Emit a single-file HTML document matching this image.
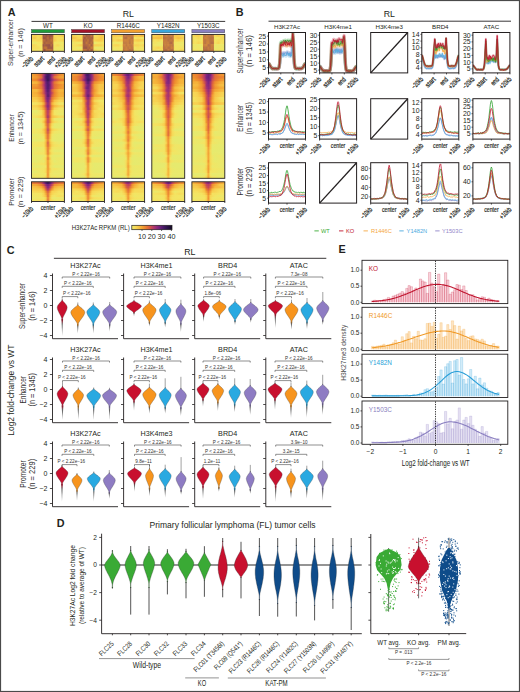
<!DOCTYPE html>
<html><head><meta charset="utf-8"><style>
html,body{margin:0;padding:0;background:#fff;}
svg{display:block;}
text{font-family:"Liberation Sans", sans-serif;}
</style></head><body>
<svg width="520" height="692" viewBox="0 0 520 692" font-family='"Liberation Sans", sans-serif' fill="#231f20">
<defs><linearGradient id="g1"><stop offset="0" stop-color="#f6db59"/><stop offset="0.1" stop-color="#f8d04f"/><stop offset="0.2" stop-color="#f5dc5b"/><stop offset="0.3" stop-color="#f7d252"/><stop offset="0.325" stop-color="#f7d655"/><stop offset="0.345" stop-color="#995245"/><stop offset="0.4" stop-color="#ad643e"/><stop offset="0.45" stop-color="#985145"/><stop offset="0.5" stop-color="#aa613f"/><stop offset="0.55" stop-color="#995345"/><stop offset="0.6" stop-color="#9a5445"/><stop offset="0.655" stop-color="#aa6140"/><stop offset="0.675" stop-color="#f8cb4c"/><stop offset="0.7" stop-color="#f6db5a"/><stop offset="0.8" stop-color="#f6d958"/><stop offset="0.9" stop-color="#f8d050"/><stop offset="1" stop-color="#f7c84a"/></linearGradient>
<linearGradient id="g2"><stop offset="0" stop-color="#f6d656"/><stop offset="0.1" stop-color="#f7c94a"/><stop offset="0.2" stop-color="#f5de5d"/><stop offset="0.3" stop-color="#f8cc4c"/><stop offset="0.325" stop-color="#f6d958"/><stop offset="0.345" stop-color="#9d5644"/><stop offset="0.4" stop-color="#9b5544"/><stop offset="0.45" stop-color="#a45c41"/><stop offset="0.5" stop-color="#bc713a"/><stop offset="0.55" stop-color="#9e5743"/><stop offset="0.6" stop-color="#b1673d"/><stop offset="0.655" stop-color="#b36a3c"/><stop offset="0.675" stop-color="#f6d756"/><stop offset="0.7" stop-color="#f7d353"/><stop offset="0.8" stop-color="#f5de5c"/><stop offset="0.9" stop-color="#f5de5c"/><stop offset="1" stop-color="#f6db59"/></linearGradient>
<linearGradient id="g3"><stop offset="0" stop-color="#f6d958"/><stop offset="0.1" stop-color="#f6dc5a"/><stop offset="0.2" stop-color="#f7d655"/><stop offset="0.3" stop-color="#f6d857"/><stop offset="0.325" stop-color="#f5dc5b"/><stop offset="0.345" stop-color="#bb703a"/><stop offset="0.4" stop-color="#b66c3c"/><stop offset="0.45" stop-color="#a15a42"/><stop offset="0.5" stop-color="#b0673d"/><stop offset="0.55" stop-color="#ae653e"/><stop offset="0.6" stop-color="#be7339"/><stop offset="0.655" stop-color="#b86d3b"/><stop offset="0.675" stop-color="#f5dc5b"/><stop offset="0.7" stop-color="#f8cd4d"/><stop offset="0.8" stop-color="#f5e05e"/><stop offset="0.9" stop-color="#f6d958"/><stop offset="1" stop-color="#f7d251"/></linearGradient>
<linearGradient id="g4"><stop offset="0" stop-color="#f2e564"/><stop offset="0.1" stop-color="#ebe869"/><stop offset="0.2" stop-color="#f4e462"/><stop offset="0.3" stop-color="#f4e260"/><stop offset="0.325" stop-color="#f3e563"/><stop offset="0.345" stop-color="#be7339"/><stop offset="0.4" stop-color="#a45d41"/><stop offset="0.45" stop-color="#b66c3c"/><stop offset="0.5" stop-color="#b1683d"/><stop offset="0.55" stop-color="#b1673d"/><stop offset="0.6" stop-color="#ab623f"/><stop offset="0.655" stop-color="#bd7239"/><stop offset="0.675" stop-color="#f5de5c"/><stop offset="0.7" stop-color="#f1e564"/><stop offset="0.8" stop-color="#f4e462"/><stop offset="0.9" stop-color="#ece869"/><stop offset="1" stop-color="#f4e361"/></linearGradient>
<linearGradient id="g5"><stop offset="0" stop-color="#f7d555"/><stop offset="0.1" stop-color="#f6d958"/><stop offset="0.2" stop-color="#f4e462"/><stop offset="0.3" stop-color="#f4e361"/><stop offset="0.325" stop-color="#f5dc5b"/><stop offset="0.345" stop-color="#975146"/><stop offset="0.4" stop-color="#ab623f"/><stop offset="0.45" stop-color="#9e5743"/><stop offset="0.5" stop-color="#9b5544"/><stop offset="0.55" stop-color="#995245"/><stop offset="0.6" stop-color="#b96f3a"/><stop offset="0.655" stop-color="#9c5544"/><stop offset="0.675" stop-color="#f3e463"/><stop offset="0.7" stop-color="#f4e261"/><stop offset="0.8" stop-color="#f6d857"/><stop offset="0.9" stop-color="#f1e565"/><stop offset="1" stop-color="#f5e15f"/></linearGradient>
<linearGradient id="g6"><stop offset="0" stop-color="#f5dc5b"/><stop offset="0.1" stop-color="#f5dd5c"/><stop offset="0.2" stop-color="#f5dc5b"/><stop offset="0.3" stop-color="#f1e565"/><stop offset="0.325" stop-color="#f3e563"/><stop offset="0.345" stop-color="#a75e41"/><stop offset="0.4" stop-color="#bf7339"/><stop offset="0.45" stop-color="#c27638"/><stop offset="0.5" stop-color="#9d5644"/><stop offset="0.55" stop-color="#9e5743"/><stop offset="0.6" stop-color="#a15943"/><stop offset="0.655" stop-color="#a15942"/><stop offset="0.675" stop-color="#f4e462"/><stop offset="0.7" stop-color="#f4e261"/><stop offset="0.8" stop-color="#f0e665"/><stop offset="0.9" stop-color="#ede768"/><stop offset="1" stop-color="#f3e563"/></linearGradient>
<linearGradient id="g7"><stop offset="0" stop-color="#f1e564"/><stop offset="0.1" stop-color="#f5e05e"/><stop offset="0.2" stop-color="#f3e463"/><stop offset="0.3" stop-color="#f1e565"/><stop offset="0.325" stop-color="#f2e564"/><stop offset="0.345" stop-color="#b56b3c"/><stop offset="0.4" stop-color="#985245"/><stop offset="0.45" stop-color="#bf7439"/><stop offset="0.5" stop-color="#ba6f3a"/><stop offset="0.55" stop-color="#be7339"/><stop offset="0.6" stop-color="#bb703a"/><stop offset="0.655" stop-color="#a86040"/><stop offset="0.675" stop-color="#efe666"/><stop offset="0.7" stop-color="#ebe86a"/><stop offset="0.8" stop-color="#f2e563"/><stop offset="0.9" stop-color="#eae86a"/><stop offset="1" stop-color="#eae86a"/></linearGradient>
<linearGradient id="g8"><stop offset="0" stop-color="#f3a234"/><stop offset="0.16" stop-color="#ef8d2f"/><stop offset="0.3" stop-color="#df673b"/><stop offset="0.38" stop-color="#a23173"/><stop offset="0.44" stop-color="#591d6f"/><stop offset="0.5" stop-color="#3d185e"/><stop offset="0.56" stop-color="#541c6c"/><stop offset="0.62" stop-color="#a13074"/><stop offset="0.7" stop-color="#d0534c"/><stop offset="0.84" stop-color="#ed862f"/><stop offset="1" stop-color="#f3a235"/></linearGradient>
<linearGradient id="g9"><stop offset="0" stop-color="#f4a736"/><stop offset="0.16" stop-color="#f19732"/><stop offset="0.3" stop-color="#e47237"/><stop offset="0.38" stop-color="#982d77"/><stop offset="0.44" stop-color="#4d1a68"/><stop offset="0.5" stop-color="#3b175c"/><stop offset="0.56" stop-color="#5a1d70"/><stop offset="0.62" stop-color="#ad356f"/><stop offset="0.7" stop-color="#e47237"/><stop offset="0.84" stop-color="#f19832"/><stop offset="1" stop-color="#f4a936"/></linearGradient>
<linearGradient id="g10"><stop offset="0" stop-color="#f09231"/><stop offset="0.16" stop-color="#ee882e"/><stop offset="0.3" stop-color="#c94b56"/><stop offset="0.38" stop-color="#922b79"/><stop offset="0.44" stop-color="#591c6f"/><stop offset="0.5" stop-color="#351554"/><stop offset="0.56" stop-color="#5c1d71"/><stop offset="0.62" stop-color="#922b79"/><stop offset="0.7" stop-color="#c84b56"/><stop offset="0.84" stop-color="#e57436"/><stop offset="1" stop-color="#ed862f"/></linearGradient>
<linearGradient id="g11"><stop offset="0" stop-color="#f6bb40"/><stop offset="0.16" stop-color="#f5b33a"/><stop offset="0.3" stop-color="#e97c33"/><stop offset="0.38" stop-color="#bd3f64"/><stop offset="0.44" stop-color="#681f78"/><stop offset="0.5" stop-color="#4e1b69"/><stop offset="0.56" stop-color="#762180"/><stop offset="0.62" stop-color="#b7396b"/><stop offset="0.7" stop-color="#e77735"/><stop offset="0.84" stop-color="#f3a435"/><stop offset="1" stop-color="#f5b23a"/></linearGradient>
<linearGradient id="g12"><stop offset="0" stop-color="#f19c33"/><stop offset="0.16" stop-color="#f19c33"/><stop offset="0.3" stop-color="#e37037"/><stop offset="0.38" stop-color="#b5386c"/><stop offset="0.44" stop-color="#72217d"/><stop offset="0.5" stop-color="#4d1b69"/><stop offset="0.56" stop-color="#6b207a"/><stop offset="0.62" stop-color="#b83a6a"/><stop offset="0.7" stop-color="#e16c39"/><stop offset="0.84" stop-color="#ee8a2f"/><stop offset="1" stop-color="#f3a335"/></linearGradient>
<linearGradient id="g13"><stop offset="0" stop-color="#f19832"/><stop offset="0.16" stop-color="#ef8e2f"/><stop offset="0.3" stop-color="#e77a34"/><stop offset="0.38" stop-color="#bf4261"/><stop offset="0.44" stop-color="#73217e"/><stop offset="0.5" stop-color="#4d1b69"/><stop offset="0.56" stop-color="#74217e"/><stop offset="0.62" stop-color="#b6386c"/><stop offset="0.7" stop-color="#e26d39"/><stop offset="0.84" stop-color="#f09130"/><stop offset="1" stop-color="#f3a435"/></linearGradient>
<linearGradient id="g14"><stop offset="0" stop-color="#f6b63c"/><stop offset="0.16" stop-color="#f6bb40"/><stop offset="0.3" stop-color="#ef8d2f"/><stop offset="0.38" stop-color="#c74a57"/><stop offset="0.44" stop-color="#7a2282"/><stop offset="0.5" stop-color="#501b6a"/><stop offset="0.56" stop-color="#82257f"/><stop offset="0.62" stop-color="#d85c43"/><stop offset="0.7" stop-color="#ee8a2f"/><stop offset="0.84" stop-color="#f6b73d"/><stop offset="1" stop-color="#f6b63c"/></linearGradient>
<linearGradient id="g15"><stop offset="0" stop-color="#f5b53b"/><stop offset="0.16" stop-color="#f4ad37"/><stop offset="0.3" stop-color="#ea8031"/><stop offset="0.38" stop-color="#c94c55"/><stop offset="0.44" stop-color="#89287c"/><stop offset="0.5" stop-color="#5e1d72"/><stop offset="0.56" stop-color="#8a287c"/><stop offset="0.62" stop-color="#c5485a"/><stop offset="0.7" stop-color="#ec8330"/><stop offset="0.84" stop-color="#f5b23a"/><stop offset="1" stop-color="#f4ab37"/></linearGradient>
<linearGradient id="g16"><stop offset="0" stop-color="#f6b63c"/><stop offset="0.16" stop-color="#f5b53c"/><stop offset="0.3" stop-color="#f09331"/><stop offset="0.38" stop-color="#df663c"/><stop offset="0.44" stop-color="#992d77"/><stop offset="0.5" stop-color="#501b6a"/><stop offset="0.56" stop-color="#87277d"/><stop offset="0.62" stop-color="#d85c42"/><stop offset="0.7" stop-color="#ee8a2e"/><stop offset="0.84" stop-color="#f5b33a"/><stop offset="1" stop-color="#f5b139"/></linearGradient>
<linearGradient id="g17"><stop offset="0" stop-color="#f8cc4c"/><stop offset="0.16" stop-color="#f7c547"/><stop offset="0.3" stop-color="#f4ab37"/><stop offset="0.38" stop-color="#e67535"/><stop offset="0.44" stop-color="#9a2e76"/><stop offset="0.5" stop-color="#6f207c"/><stop offset="0.56" stop-color="#9f2f75"/><stop offset="0.62" stop-color="#e77834"/><stop offset="0.7" stop-color="#f19c33"/><stop offset="0.84" stop-color="#f7c346"/><stop offset="1" stop-color="#f7c749"/></linearGradient>
<linearGradient id="g18"><stop offset="0" stop-color="#f8cf4f"/><stop offset="0.16" stop-color="#f7d252"/><stop offset="0.3" stop-color="#f5b139"/><stop offset="0.38" stop-color="#ed852f"/><stop offset="0.44" stop-color="#b1366e"/><stop offset="0.5" stop-color="#772281"/><stop offset="0.56" stop-color="#bd4063"/><stop offset="0.62" stop-color="#ed862f"/><stop offset="0.7" stop-color="#f7c044"/><stop offset="0.84" stop-color="#f6d958"/><stop offset="1" stop-color="#f8d050"/></linearGradient>
<linearGradient id="g19"><stop offset="0" stop-color="#f1e565"/><stop offset="0.16" stop-color="#f4e160"/><stop offset="0.3" stop-color="#f8d050"/><stop offset="0.38" stop-color="#f3a636"/><stop offset="0.44" stop-color="#c94b56"/><stop offset="0.5" stop-color="#8c297b"/><stop offset="0.56" stop-color="#c2455d"/><stop offset="0.62" stop-color="#f4ac37"/><stop offset="0.7" stop-color="#f8d050"/><stop offset="0.84" stop-color="#f1e565"/><stop offset="1" stop-color="#efe667"/></linearGradient>
<linearGradient id="g20"><stop offset="0" stop-color="#f7d554"/><stop offset="0.16" stop-color="#f7d151"/><stop offset="0.3" stop-color="#f6b93f"/><stop offset="0.38" stop-color="#ee872e"/><stop offset="0.44" stop-color="#bf4261"/><stop offset="0.5" stop-color="#7f2480"/><stop offset="0.56" stop-color="#be4062"/><stop offset="0.62" stop-color="#ef9130"/><stop offset="0.7" stop-color="#f6ba40"/><stop offset="0.84" stop-color="#f7d352"/><stop offset="1" stop-color="#f7d554"/></linearGradient>
<linearGradient id="g21"><stop offset="0" stop-color="#f5dc5b"/><stop offset="0.16" stop-color="#f5dd5c"/><stop offset="0.3" stop-color="#f8c94a"/><stop offset="0.38" stop-color="#f29d33"/><stop offset="0.44" stop-color="#d65a45"/><stop offset="0.5" stop-color="#922b79"/><stop offset="0.56" stop-color="#c74a58"/><stop offset="0.62" stop-color="#f2a034"/><stop offset="0.7" stop-color="#f7d655"/><stop offset="0.84" stop-color="#f2e564"/><stop offset="1" stop-color="#f4e462"/></linearGradient>
<linearGradient id="g22"><stop offset="0" stop-color="#e7ea6d"/><stop offset="0.16" stop-color="#e6ea6e"/><stop offset="0.3" stop-color="#f5e05e"/><stop offset="0.38" stop-color="#f6ba3f"/><stop offset="0.44" stop-color="#dd623d"/><stop offset="0.5" stop-color="#b2376d"/><stop offset="0.56" stop-color="#df673b"/><stop offset="0.62" stop-color="#f6bd41"/><stop offset="0.7" stop-color="#f1e564"/><stop offset="0.84" stop-color="#efe667"/><stop offset="1" stop-color="#eee667"/></linearGradient>
<linearGradient id="g23"><stop offset="0" stop-color="#f0e665"/><stop offset="0.16" stop-color="#ebe869"/><stop offset="0.3" stop-color="#f4e260"/><stop offset="0.38" stop-color="#f6b83e"/><stop offset="0.44" stop-color="#e0683b"/><stop offset="0.5" stop-color="#b5386c"/><stop offset="0.56" stop-color="#e47237"/><stop offset="0.62" stop-color="#f7c144"/><stop offset="0.7" stop-color="#f4e462"/><stop offset="0.84" stop-color="#e9e96b"/><stop offset="1" stop-color="#eae86b"/></linearGradient>
<linearGradient id="g24"><stop offset="0" stop-color="#f1e565"/><stop offset="0.16" stop-color="#f5df5e"/><stop offset="0.3" stop-color="#f7d554"/><stop offset="0.38" stop-color="#f6bf43"/><stop offset="0.44" stop-color="#e16b39"/><stop offset="0.5" stop-color="#a03074"/><stop offset="0.56" stop-color="#df673b"/><stop offset="0.62" stop-color="#f6be42"/><stop offset="0.7" stop-color="#f8cc4c"/><stop offset="0.84" stop-color="#f6dc5a"/><stop offset="1" stop-color="#f6da59"/></linearGradient>
<linearGradient id="g25"><stop offset="0" stop-color="#e6ea6e"/><stop offset="0.16" stop-color="#e6ea6e"/><stop offset="0.3" stop-color="#f2e564"/><stop offset="0.38" stop-color="#f7d555"/><stop offset="0.44" stop-color="#ef8f30"/><stop offset="0.5" stop-color="#bf4161"/><stop offset="0.56" stop-color="#e97c33"/><stop offset="0.62" stop-color="#f8cc4c"/><stop offset="0.7" stop-color="#ece769"/><stop offset="0.84" stop-color="#e6ea6e"/><stop offset="1" stop-color="#ebe86a"/></linearGradient>
<linearGradient id="g26"><stop offset="0" stop-color="#f2e564"/><stop offset="0.16" stop-color="#ece769"/><stop offset="0.3" stop-color="#f2e564"/><stop offset="0.38" stop-color="#f7c346"/><stop offset="0.44" stop-color="#ea8031"/><stop offset="0.5" stop-color="#c0435f"/><stop offset="0.56" stop-color="#e57436"/><stop offset="0.62" stop-color="#f7c447"/><stop offset="0.7" stop-color="#f6db59"/><stop offset="0.84" stop-color="#ece769"/><stop offset="1" stop-color="#f4e462"/></linearGradient>
<linearGradient id="g27"><stop offset="0" stop-color="#e8e96c"/><stop offset="0.16" stop-color="#e6ea6e"/><stop offset="0.3" stop-color="#e9e96b"/><stop offset="0.38" stop-color="#f6db5a"/><stop offset="0.44" stop-color="#ef8f30"/><stop offset="0.5" stop-color="#cf534d"/><stop offset="0.56" stop-color="#f2a234"/><stop offset="0.62" stop-color="#f6db5a"/><stop offset="0.7" stop-color="#e8e96c"/><stop offset="0.84" stop-color="#e6ea6e"/><stop offset="1" stop-color="#e6ea6e"/></linearGradient>
<linearGradient id="g28"><stop offset="0" stop-color="#e6ea6e"/><stop offset="0.16" stop-color="#e6ea6e"/><stop offset="0.3" stop-color="#e7ea6d"/><stop offset="0.38" stop-color="#f6dc5a"/><stop offset="0.44" stop-color="#f3a736"/><stop offset="0.5" stop-color="#d0544c"/><stop offset="0.56" stop-color="#f4a936"/><stop offset="0.62" stop-color="#f4e261"/><stop offset="0.7" stop-color="#e6ea6e"/><stop offset="0.84" stop-color="#e6ea6e"/><stop offset="1" stop-color="#e6ea6e"/></linearGradient>
<linearGradient id="g29"><stop offset="0" stop-color="#f2e564"/><stop offset="0.16" stop-color="#eee767"/><stop offset="0.3" stop-color="#f4e261"/><stop offset="0.38" stop-color="#f7c749"/><stop offset="0.44" stop-color="#f19b33"/><stop offset="0.5" stop-color="#bd3f64"/><stop offset="0.56" stop-color="#f09331"/><stop offset="0.62" stop-color="#f8d04f"/><stop offset="0.7" stop-color="#f5dd5b"/><stop offset="0.84" stop-color="#f0e665"/><stop offset="1" stop-color="#f1e565"/></linearGradient>
<linearGradient id="g30"><stop offset="0" stop-color="#f4e361"/><stop offset="0.16" stop-color="#eee767"/><stop offset="0.3" stop-color="#f5e05e"/><stop offset="0.38" stop-color="#f7d151"/><stop offset="0.44" stop-color="#f19832"/><stop offset="0.5" stop-color="#cd5050"/><stop offset="0.56" stop-color="#f29f34"/><stop offset="0.62" stop-color="#f6dc5a"/><stop offset="0.7" stop-color="#efe666"/><stop offset="0.84" stop-color="#ebe86a"/><stop offset="1" stop-color="#f2e564"/></linearGradient>
<linearGradient id="g31"><stop offset="0" stop-color="#e6ea6e"/><stop offset="0.16" stop-color="#e6ea6e"/><stop offset="0.3" stop-color="#ede768"/><stop offset="0.38" stop-color="#f5de5c"/><stop offset="0.44" stop-color="#f5ae37"/><stop offset="0.5" stop-color="#de653c"/><stop offset="0.56" stop-color="#f6b73d"/><stop offset="0.62" stop-color="#f2e564"/><stop offset="0.7" stop-color="#e9e96b"/><stop offset="0.84" stop-color="#e6ea6e"/><stop offset="1" stop-color="#e6ea6e"/></linearGradient>
<linearGradient id="g32"><stop offset="0" stop-color="#ebe86a"/><stop offset="0.16" stop-color="#ebe869"/><stop offset="0.3" stop-color="#e9e96b"/><stop offset="0.38" stop-color="#f0e665"/><stop offset="0.44" stop-color="#f5ae37"/><stop offset="0.5" stop-color="#e06a3a"/><stop offset="0.56" stop-color="#f6ba40"/><stop offset="0.62" stop-color="#ede768"/><stop offset="0.7" stop-color="#e8e96d"/><stop offset="0.84" stop-color="#e6ea6e"/><stop offset="1" stop-color="#e6ea6e"/></linearGradient>
<linearGradient id="g33"><stop offset="0" stop-color="#e6ea6e"/><stop offset="0.16" stop-color="#e6ea6e"/><stop offset="0.3" stop-color="#e6ea6e"/><stop offset="0.38" stop-color="#ece869"/><stop offset="0.44" stop-color="#f7c145"/><stop offset="0.5" stop-color="#e67735"/><stop offset="0.56" stop-color="#f7c94a"/><stop offset="0.62" stop-color="#eee767"/><stop offset="0.7" stop-color="#e6ea6e"/><stop offset="0.84" stop-color="#e6ea6e"/><stop offset="1" stop-color="#e6ea6e"/></linearGradient>
<linearGradient id="g34"><stop offset="0" stop-color="#f0e665"/><stop offset="0.16" stop-color="#f1e564"/><stop offset="0.3" stop-color="#f4e361"/><stop offset="0.38" stop-color="#f5df5e"/><stop offset="0.44" stop-color="#f6b83e"/><stop offset="0.5" stop-color="#d35749"/><stop offset="0.56" stop-color="#f6bc40"/><stop offset="0.62" stop-color="#f6da59"/><stop offset="0.7" stop-color="#f2e564"/><stop offset="0.84" stop-color="#eae86b"/><stop offset="1" stop-color="#f2e563"/></linearGradient>
<linearGradient id="g35"><stop offset="0" stop-color="#f2e563"/><stop offset="0.16" stop-color="#f3e462"/><stop offset="0.3" stop-color="#f4e260"/><stop offset="0.38" stop-color="#f4e260"/><stop offset="0.44" stop-color="#f6b53c"/><stop offset="0.5" stop-color="#de633d"/><stop offset="0.56" stop-color="#f5af38"/><stop offset="0.62" stop-color="#f6d756"/><stop offset="0.7" stop-color="#f4e160"/><stop offset="0.84" stop-color="#f2e564"/><stop offset="1" stop-color="#f4e260"/></linearGradient>
<linearGradient id="g36"><stop offset="0" stop-color="#efe666"/><stop offset="0.16" stop-color="#eae86a"/><stop offset="0.3" stop-color="#e9e96b"/><stop offset="0.38" stop-color="#f1e565"/><stop offset="0.44" stop-color="#f7c346"/><stop offset="0.5" stop-color="#e77834"/><stop offset="0.56" stop-color="#f6ba3f"/><stop offset="0.62" stop-color="#f4e260"/><stop offset="0.7" stop-color="#efe666"/><stop offset="0.84" stop-color="#eee667"/><stop offset="1" stop-color="#efe666"/></linearGradient>
<linearGradient id="g37"><stop offset="0" stop-color="#e6ea6e"/><stop offset="0.16" stop-color="#ede768"/><stop offset="0.3" stop-color="#ede768"/><stop offset="0.38" stop-color="#f0e665"/><stop offset="0.44" stop-color="#f8ca4b"/><stop offset="0.5" stop-color="#e57536"/><stop offset="0.56" stop-color="#f7d352"/><stop offset="0.62" stop-color="#f3e563"/><stop offset="0.7" stop-color="#e8e96d"/><stop offset="0.84" stop-color="#e6ea6e"/><stop offset="1" stop-color="#e7ea6d"/></linearGradient>
<linearGradient id="g38"><stop offset="0" stop-color="#eae86a"/><stop offset="0.16" stop-color="#f0e665"/><stop offset="0.3" stop-color="#f3e463"/><stop offset="0.38" stop-color="#f3e463"/><stop offset="0.44" stop-color="#f8cb4b"/><stop offset="0.5" stop-color="#e67735"/><stop offset="0.56" stop-color="#f7c547"/><stop offset="0.62" stop-color="#f5e15f"/><stop offset="0.7" stop-color="#efe666"/><stop offset="0.84" stop-color="#efe666"/><stop offset="1" stop-color="#e9e96b"/></linearGradient>
<linearGradient id="g39"><stop offset="0" stop-color="#e6ea6e"/><stop offset="0.16" stop-color="#e7ea6e"/><stop offset="0.3" stop-color="#e6ea6e"/><stop offset="0.38" stop-color="#eae86b"/><stop offset="0.44" stop-color="#f4e260"/><stop offset="0.5" stop-color="#f09631"/><stop offset="0.56" stop-color="#f5de5c"/><stop offset="0.62" stop-color="#ebe86a"/><stop offset="0.7" stop-color="#e6ea6e"/><stop offset="0.84" stop-color="#e6ea6e"/><stop offset="1" stop-color="#e6ea6e"/></linearGradient>
<linearGradient id="g40"><stop offset="0" stop-color="#e9e96b"/><stop offset="0.16" stop-color="#e9e96b"/><stop offset="0.3" stop-color="#e6ea6e"/><stop offset="0.38" stop-color="#f3e563"/><stop offset="0.44" stop-color="#f6d958"/><stop offset="0.5" stop-color="#e87a34"/><stop offset="0.56" stop-color="#f8cd4d"/><stop offset="0.62" stop-color="#e9e96b"/><stop offset="0.7" stop-color="#eae86b"/><stop offset="0.84" stop-color="#ede768"/><stop offset="1" stop-color="#efe667"/></linearGradient>
<linearGradient id="g41"><stop offset="0" stop-color="#e6ea6e"/><stop offset="0.16" stop-color="#e6ea6e"/><stop offset="0.3" stop-color="#eee767"/><stop offset="0.38" stop-color="#eae86b"/><stop offset="0.44" stop-color="#f6d756"/><stop offset="0.5" stop-color="#f09431"/><stop offset="0.56" stop-color="#f6d857"/><stop offset="0.62" stop-color="#f2e564"/><stop offset="0.7" stop-color="#e6ea6e"/><stop offset="0.84" stop-color="#ece769"/><stop offset="1" stop-color="#e9e96c"/></linearGradient>
<linearGradient id="g42"><stop offset="0" stop-color="#f1e564"/><stop offset="0.16" stop-color="#ece769"/><stop offset="0.3" stop-color="#f4e462"/><stop offset="0.38" stop-color="#f2e563"/><stop offset="0.44" stop-color="#f6d958"/><stop offset="0.5" stop-color="#ef8f30"/><stop offset="0.56" stop-color="#f7d151"/><stop offset="0.62" stop-color="#f2e564"/><stop offset="0.7" stop-color="#ede768"/><stop offset="0.84" stop-color="#ebe869"/><stop offset="1" stop-color="#eee768"/></linearGradient>
<linearGradient id="g43"><stop offset="0" stop-color="#eae86a"/><stop offset="0.16" stop-color="#e6ea6e"/><stop offset="0.3" stop-color="#eae86b"/><stop offset="0.38" stop-color="#eee768"/><stop offset="0.44" stop-color="#f3e463"/><stop offset="0.5" stop-color="#ef8c2f"/><stop offset="0.56" stop-color="#f5dc5b"/><stop offset="0.62" stop-color="#eee667"/><stop offset="0.7" stop-color="#e6ea6e"/><stop offset="0.84" stop-color="#e6ea6e"/><stop offset="1" stop-color="#e6ea6e"/></linearGradient>
<linearGradient id="g44"><stop offset="0" stop-color="#f1e564"/><stop offset="0.16" stop-color="#efe666"/><stop offset="0.3" stop-color="#f0e666"/><stop offset="0.38" stop-color="#f1e565"/><stop offset="0.44" stop-color="#f6da59"/><stop offset="0.5" stop-color="#ef9030"/><stop offset="0.56" stop-color="#f8cd4d"/><stop offset="0.62" stop-color="#f1e565"/><stop offset="0.7" stop-color="#f4e261"/><stop offset="0.84" stop-color="#eee767"/><stop offset="1" stop-color="#eee767"/></linearGradient>
<linearGradient id="g45"><stop offset="0" stop-color="#e6ea6e"/><stop offset="0.16" stop-color="#e8e96c"/><stop offset="0.3" stop-color="#efe667"/><stop offset="0.38" stop-color="#f0e665"/><stop offset="0.44" stop-color="#f6d958"/><stop offset="0.5" stop-color="#f09431"/><stop offset="0.56" stop-color="#f6d857"/><stop offset="0.62" stop-color="#f1e565"/><stop offset="0.7" stop-color="#eae86a"/><stop offset="0.84" stop-color="#ece769"/><stop offset="1" stop-color="#e6ea6e"/></linearGradient>
<linearGradient id="g46"><stop offset="0" stop-color="#ece769"/><stop offset="0.16" stop-color="#efe666"/><stop offset="0.3" stop-color="#eee767"/><stop offset="0.38" stop-color="#ece768"/><stop offset="0.44" stop-color="#f4e361"/><stop offset="0.5" stop-color="#ee892e"/><stop offset="0.56" stop-color="#f4e160"/><stop offset="0.62" stop-color="#eee667"/><stop offset="0.7" stop-color="#ebe86a"/><stop offset="0.84" stop-color="#eae86a"/><stop offset="1" stop-color="#efe666"/></linearGradient>
<linearGradient id="g47"><stop offset="0" stop-color="#ede768"/><stop offset="0.16" stop-color="#f1e565"/><stop offset="0.3" stop-color="#ede768"/><stop offset="0.38" stop-color="#f2e564"/><stop offset="0.44" stop-color="#f6d958"/><stop offset="0.5" stop-color="#f09632"/><stop offset="0.56" stop-color="#f5dd5c"/><stop offset="0.62" stop-color="#eee667"/><stop offset="0.7" stop-color="#f4e462"/><stop offset="0.84" stop-color="#efe666"/><stop offset="1" stop-color="#ece768"/></linearGradient>
<linearGradient id="g48"><stop offset="0" stop-color="#e67635"/><stop offset="0.16" stop-color="#e57536"/><stop offset="0.3" stop-color="#d35749"/><stop offset="0.38" stop-color="#942c78"/><stop offset="0.44" stop-color="#561c6e"/><stop offset="0.5" stop-color="#371656"/><stop offset="0.56" stop-color="#561c6e"/><stop offset="0.62" stop-color="#932b79"/><stop offset="0.7" stop-color="#d1544c"/><stop offset="0.84" stop-color="#e47237"/><stop offset="1" stop-color="#e77834"/></linearGradient>
<linearGradient id="g49"><stop offset="0" stop-color="#f4ac37"/><stop offset="0.16" stop-color="#f3a435"/><stop offset="0.3" stop-color="#ed852f"/><stop offset="0.38" stop-color="#d35748"/><stop offset="0.44" stop-color="#912b79"/><stop offset="0.5" stop-color="#71217d"/><stop offset="0.56" stop-color="#932b79"/><stop offset="0.62" stop-color="#c64959"/><stop offset="0.7" stop-color="#ef8f30"/><stop offset="0.84" stop-color="#f3a234"/><stop offset="1" stop-color="#f3a736"/></linearGradient>
<linearGradient id="g50"><stop offset="0" stop-color="#f7c447"/><stop offset="0.16" stop-color="#f7c044"/><stop offset="0.3" stop-color="#f5b038"/><stop offset="0.38" stop-color="#ed852f"/><stop offset="0.44" stop-color="#c04360"/><stop offset="0.5" stop-color="#82257f"/><stop offset="0.56" stop-color="#b7396b"/><stop offset="0.62" stop-color="#e87a34"/><stop offset="0.7" stop-color="#f5b43b"/><stop offset="0.84" stop-color="#f7c547"/><stop offset="1" stop-color="#f6ba40"/></linearGradient>
<linearGradient id="g51"><stop offset="0" stop-color="#f8ce4e"/><stop offset="0.16" stop-color="#f8cb4c"/><stop offset="0.3" stop-color="#f8cc4d"/><stop offset="0.38" stop-color="#f4ab37"/><stop offset="0.44" stop-color="#db5f3f"/><stop offset="0.5" stop-color="#a93371"/><stop offset="0.56" stop-color="#dc613e"/><stop offset="0.62" stop-color="#f29d33"/><stop offset="0.7" stop-color="#f7c749"/><stop offset="0.84" stop-color="#f7d453"/><stop offset="1" stop-color="#f7d353"/></linearGradient>
<linearGradient id="g52"><stop offset="0" stop-color="#f6db5a"/><stop offset="0.16" stop-color="#f6d756"/><stop offset="0.3" stop-color="#f7d555"/><stop offset="0.38" stop-color="#f7c648"/><stop offset="0.44" stop-color="#ef9030"/><stop offset="0.5" stop-color="#d45848"/><stop offset="0.56" stop-color="#f09531"/><stop offset="0.62" stop-color="#f7d251"/><stop offset="0.7" stop-color="#f7d454"/><stop offset="0.84" stop-color="#f4e261"/><stop offset="1" stop-color="#f6d756"/></linearGradient>
<linearGradient id="g53"><stop offset="0" stop-color="#f4e462"/><stop offset="0.16" stop-color="#f2e564"/><stop offset="0.3" stop-color="#f4e361"/><stop offset="0.38" stop-color="#f7d252"/><stop offset="0.44" stop-color="#f4a936"/><stop offset="0.5" stop-color="#e26e39"/><stop offset="0.56" stop-color="#f6b73d"/><stop offset="0.62" stop-color="#f7d453"/><stop offset="0.7" stop-color="#f5de5c"/><stop offset="0.84" stop-color="#f4e361"/><stop offset="1" stop-color="#f3e563"/></linearGradient>
<linearGradient id="g54"><stop offset="0" stop-color="#eee767"/><stop offset="0.16" stop-color="#f1e565"/><stop offset="0.3" stop-color="#f3e463"/><stop offset="0.38" stop-color="#f7d555"/><stop offset="0.44" stop-color="#f6bd41"/><stop offset="0.5" stop-color="#df683b"/><stop offset="0.56" stop-color="#f7c044"/><stop offset="0.62" stop-color="#f5e15f"/><stop offset="0.7" stop-color="#f1e565"/><stop offset="0.84" stop-color="#f5de5d"/><stop offset="1" stop-color="#f4e260"/></linearGradient>
<linearGradient id="g55"><stop offset="0" stop-color="#e9e96b"/><stop offset="0.16" stop-color="#eee667"/><stop offset="0.3" stop-color="#f0e665"/><stop offset="0.38" stop-color="#f1e564"/><stop offset="0.44" stop-color="#f7d453"/><stop offset="0.5" stop-color="#e87b33"/><stop offset="0.56" stop-color="#f7c849"/><stop offset="0.62" stop-color="#efe666"/><stop offset="0.7" stop-color="#eae86b"/><stop offset="0.84" stop-color="#ede768"/><stop offset="1" stop-color="#eee768"/></linearGradient>
<linearGradient id="g56"><stop offset="0" stop-color="#f0e666"/><stop offset="0.16" stop-color="#f5e15f"/><stop offset="0.3" stop-color="#f4e260"/><stop offset="0.38" stop-color="#f5e15f"/><stop offset="0.44" stop-color="#f7d151"/><stop offset="0.5" stop-color="#e16b39"/><stop offset="0.56" stop-color="#f8cf4f"/><stop offset="0.62" stop-color="#f6dc5a"/><stop offset="0.7" stop-color="#f0e665"/><stop offset="0.84" stop-color="#f0e666"/><stop offset="1" stop-color="#f4e260"/></linearGradient>
<linearGradient id="g57"><stop offset="0" stop-color="#f7c94a"/><stop offset="0.1" stop-color="#f7d453"/><stop offset="0.2" stop-color="#f6da59"/><stop offset="0.3" stop-color="#f6da59"/><stop offset="0.325" stop-color="#f7d555"/><stop offset="0.345" stop-color="#b96f3d"/><stop offset="0.4" stop-color="#c57939"/><stop offset="0.45" stop-color="#a35c44"/><stop offset="0.5" stop-color="#ad6540"/><stop offset="0.55" stop-color="#a65f43"/><stop offset="0.6" stop-color="#c67a38"/><stop offset="0.655" stop-color="#a35c44"/><stop offset="0.675" stop-color="#f5dd5c"/><stop offset="0.7" stop-color="#f5dd5c"/><stop offset="0.8" stop-color="#f7d655"/><stop offset="0.9" stop-color="#f8ca4b"/><stop offset="1" stop-color="#f8ca4b"/></linearGradient>
<linearGradient id="g58"><stop offset="0" stop-color="#f7c447"/><stop offset="0.1" stop-color="#f7c648"/><stop offset="0.2" stop-color="#f7d454"/><stop offset="0.3" stop-color="#f6d857"/><stop offset="0.325" stop-color="#f7c648"/><stop offset="0.345" stop-color="#bc723c"/><stop offset="0.4" stop-color="#9d5746"/><stop offset="0.45" stop-color="#b96f3d"/><stop offset="0.5" stop-color="#ac6440"/><stop offset="0.55" stop-color="#ac6440"/><stop offset="0.6" stop-color="#aa6241"/><stop offset="0.655" stop-color="#a45d43"/><stop offset="0.675" stop-color="#f6dc5a"/><stop offset="0.7" stop-color="#f7d555"/><stop offset="0.8" stop-color="#f7d453"/><stop offset="0.9" stop-color="#f7c547"/><stop offset="1" stop-color="#f6d958"/></linearGradient>
<linearGradient id="g59"><stop offset="0" stop-color="#f6d857"/><stop offset="0.1" stop-color="#f7d454"/><stop offset="0.2" stop-color="#f8c94b"/><stop offset="0.3" stop-color="#f8c94b"/><stop offset="0.325" stop-color="#f7d352"/><stop offset="0.345" stop-color="#9e5845"/><stop offset="0.4" stop-color="#b16840"/><stop offset="0.45" stop-color="#ac6440"/><stop offset="0.5" stop-color="#c37839"/><stop offset="0.55" stop-color="#a55e43"/><stop offset="0.6" stop-color="#ac6441"/><stop offset="0.655" stop-color="#c2783a"/><stop offset="0.675" stop-color="#f6dc5a"/><stop offset="0.7" stop-color="#f7d353"/><stop offset="0.8" stop-color="#f8ca4b"/><stop offset="0.9" stop-color="#f8cb4c"/><stop offset="1" stop-color="#f6db5a"/></linearGradient>
<linearGradient id="g60"><stop offset="0" stop-color="#eae86b"/><stop offset="0.1" stop-color="#f5e15f"/><stop offset="0.2" stop-color="#ede768"/><stop offset="0.3" stop-color="#f4e462"/><stop offset="0.325" stop-color="#f4e160"/><stop offset="0.345" stop-color="#ab6341"/><stop offset="0.4" stop-color="#a86142"/><stop offset="0.45" stop-color="#c57939"/><stop offset="0.5" stop-color="#b66d3e"/><stop offset="0.55" stop-color="#a76042"/><stop offset="0.6" stop-color="#bb713c"/><stop offset="0.655" stop-color="#aa6241"/><stop offset="0.675" stop-color="#ede768"/><stop offset="0.7" stop-color="#e9e96b"/><stop offset="0.8" stop-color="#f4e462"/><stop offset="0.9" stop-color="#f5e15f"/><stop offset="1" stop-color="#f2e564"/></linearGradient>
<linearGradient id="g61"><stop offset="0" stop-color="#f4e462"/><stop offset="0.1" stop-color="#f5df5e"/><stop offset="0.2" stop-color="#f6da59"/><stop offset="0.3" stop-color="#f8cf4f"/><stop offset="0.325" stop-color="#f8d04f"/><stop offset="0.345" stop-color="#ad6440"/><stop offset="0.4" stop-color="#a76042"/><stop offset="0.45" stop-color="#af6640"/><stop offset="0.5" stop-color="#b26940"/><stop offset="0.55" stop-color="#c47839"/><stop offset="0.6" stop-color="#a45d43"/><stop offset="0.655" stop-color="#be743b"/><stop offset="0.675" stop-color="#f7d454"/><stop offset="0.7" stop-color="#f7d252"/><stop offset="0.8" stop-color="#f7d353"/><stop offset="0.9" stop-color="#f6d756"/><stop offset="1" stop-color="#f5dd5c"/></linearGradient>
<linearGradient id="g62"><stop offset="0" stop-color="#efe667"/><stop offset="0.1" stop-color="#f4e361"/><stop offset="0.2" stop-color="#ebe86a"/><stop offset="0.3" stop-color="#ece769"/><stop offset="0.325" stop-color="#f4e462"/><stop offset="0.345" stop-color="#a76042"/><stop offset="0.4" stop-color="#9f5945"/><stop offset="0.45" stop-color="#9e5745"/><stop offset="0.5" stop-color="#b36b3f"/><stop offset="0.55" stop-color="#aa6241"/><stop offset="0.6" stop-color="#c67a38"/><stop offset="0.655" stop-color="#c2773a"/><stop offset="0.675" stop-color="#f5df5d"/><stop offset="0.7" stop-color="#ede768"/><stop offset="0.8" stop-color="#ebe86a"/><stop offset="0.9" stop-color="#ebe86a"/><stop offset="1" stop-color="#f1e565"/></linearGradient>
<linearGradient id="g63"><stop offset="0" stop-color="#f4e361"/><stop offset="0.1" stop-color="#f2e564"/><stop offset="0.2" stop-color="#f4e462"/><stop offset="0.3" stop-color="#f5df5e"/><stop offset="0.325" stop-color="#f5de5d"/><stop offset="0.345" stop-color="#bc723c"/><stop offset="0.4" stop-color="#c0763a"/><stop offset="0.45" stop-color="#b96f3d"/><stop offset="0.5" stop-color="#a25b44"/><stop offset="0.55" stop-color="#c0763a"/><stop offset="0.6" stop-color="#a96142"/><stop offset="0.655" stop-color="#b46c3e"/><stop offset="0.675" stop-color="#f3e462"/><stop offset="0.7" stop-color="#f5dd5b"/><stop offset="0.8" stop-color="#f1e565"/><stop offset="0.9" stop-color="#f2e564"/><stop offset="1" stop-color="#f2e564"/></linearGradient>
<linearGradient id="g64"><stop offset="0" stop-color="#f19932"/><stop offset="0.16" stop-color="#ef9030"/><stop offset="0.3" stop-color="#e16b3a"/><stop offset="0.38" stop-color="#a53272"/><stop offset="0.44" stop-color="#531c6c"/><stop offset="0.5" stop-color="#411962"/><stop offset="0.56" stop-color="#661f77"/><stop offset="0.62" stop-color="#9a2e76"/><stop offset="0.7" stop-color="#dd633d"/><stop offset="0.84" stop-color="#ed872f"/><stop offset="1" stop-color="#f4ab37"/></linearGradient>
<linearGradient id="g65"><stop offset="0" stop-color="#f09331"/><stop offset="0.16" stop-color="#ec8430"/><stop offset="0.3" stop-color="#d65a45"/><stop offset="0.38" stop-color="#ad356f"/><stop offset="0.44" stop-color="#641e76"/><stop offset="0.5" stop-color="#4a1a67"/><stop offset="0.56" stop-color="#671f77"/><stop offset="0.62" stop-color="#952c78"/><stop offset="0.7" stop-color="#dd623d"/><stop offset="0.84" stop-color="#eb8231"/><stop offset="1" stop-color="#f29d33"/></linearGradient>
<linearGradient id="g66"><stop offset="0" stop-color="#ef8f30"/><stop offset="0.16" stop-color="#ed862f"/><stop offset="0.3" stop-color="#d2564a"/><stop offset="0.38" stop-color="#912a7a"/><stop offset="0.44" stop-color="#661f76"/><stop offset="0.5" stop-color="#3c175e"/><stop offset="0.56" stop-color="#591c6f"/><stop offset="0.62" stop-color="#a43173"/><stop offset="0.7" stop-color="#db5f3f"/><stop offset="0.84" stop-color="#ee892e"/><stop offset="1" stop-color="#f09431"/></linearGradient>
<linearGradient id="g67"><stop offset="0" stop-color="#f6ba3f"/><stop offset="0.16" stop-color="#f4ad37"/><stop offset="0.3" stop-color="#ef9030"/><stop offset="0.38" stop-color="#d1544c"/><stop offset="0.44" stop-color="#802480"/><stop offset="0.5" stop-color="#531b6c"/><stop offset="0.56" stop-color="#84267e"/><stop offset="0.62" stop-color="#ca4d54"/><stop offset="0.7" stop-color="#ef9030"/><stop offset="0.84" stop-color="#f4aa36"/><stop offset="1" stop-color="#f6bb40"/></linearGradient>
<linearGradient id="g68"><stop offset="0" stop-color="#f7d454"/><stop offset="0.16" stop-color="#f7c547"/><stop offset="0.3" stop-color="#f29e34"/><stop offset="0.38" stop-color="#d65a45"/><stop offset="0.44" stop-color="#992d77"/><stop offset="0.5" stop-color="#6d207b"/><stop offset="0.56" stop-color="#89277d"/><stop offset="0.62" stop-color="#dc5f3f"/><stop offset="0.7" stop-color="#f3a435"/><stop offset="0.84" stop-color="#f7c648"/><stop offset="1" stop-color="#f7c547"/></linearGradient>
<linearGradient id="g69"><stop offset="0" stop-color="#f7c749"/><stop offset="0.16" stop-color="#f7c245"/><stop offset="0.3" stop-color="#f29f34"/><stop offset="0.38" stop-color="#d35649"/><stop offset="0.44" stop-color="#82257f"/><stop offset="0.5" stop-color="#691f78"/><stop offset="0.56" stop-color="#982d77"/><stop offset="0.62" stop-color="#d65a45"/><stop offset="0.7" stop-color="#f3a435"/><stop offset="0.84" stop-color="#f7c84a"/><stop offset="1" stop-color="#f7c144"/></linearGradient>
<linearGradient id="g70"><stop offset="0" stop-color="#f7c447"/><stop offset="0.16" stop-color="#f7c346"/><stop offset="0.3" stop-color="#f19932"/><stop offset="0.38" stop-color="#df673b"/><stop offset="0.44" stop-color="#9f3074"/><stop offset="0.5" stop-color="#762180"/><stop offset="0.56" stop-color="#952c78"/><stop offset="0.62" stop-color="#dd633d"/><stop offset="0.7" stop-color="#f19932"/><stop offset="0.84" stop-color="#f8c94b"/><stop offset="1" stop-color="#f7c849"/></linearGradient>
<linearGradient id="g71"><stop offset="0" stop-color="#f7d252"/><stop offset="0.16" stop-color="#f7d151"/><stop offset="0.3" stop-color="#f5b33b"/><stop offset="0.38" stop-color="#e57336"/><stop offset="0.44" stop-color="#982d77"/><stop offset="0.5" stop-color="#7d2381"/><stop offset="0.56" stop-color="#a43173"/><stop offset="0.62" stop-color="#e26d39"/><stop offset="0.7" stop-color="#f3a435"/><stop offset="0.84" stop-color="#f8d050"/><stop offset="1" stop-color="#f6d857"/></linearGradient>
<linearGradient id="g72"><stop offset="0" stop-color="#f5b43b"/><stop offset="0.16" stop-color="#f6b73d"/><stop offset="0.3" stop-color="#f3a535"/><stop offset="0.38" stop-color="#d85c43"/><stop offset="0.44" stop-color="#9b2e76"/><stop offset="0.5" stop-color="#601e74"/><stop offset="0.56" stop-color="#952c78"/><stop offset="0.62" stop-color="#da5e40"/><stop offset="0.7" stop-color="#f3a335"/><stop offset="0.84" stop-color="#f5b239"/><stop offset="1" stop-color="#f7c346"/></linearGradient>
<linearGradient id="g73"><stop offset="0" stop-color="#f7d454"/><stop offset="0.16" stop-color="#f8cf4f"/><stop offset="0.3" stop-color="#f7c346"/><stop offset="0.38" stop-color="#ef8f30"/><stop offset="0.44" stop-color="#ba3c68"/><stop offset="0.5" stop-color="#82257f"/><stop offset="0.56" stop-color="#ba3c67"/><stop offset="0.62" stop-color="#f09130"/><stop offset="0.7" stop-color="#f7c245"/><stop offset="0.84" stop-color="#f7d151"/><stop offset="1" stop-color="#f7d353"/></linearGradient>
<linearGradient id="g74"><stop offset="0" stop-color="#f0e665"/><stop offset="0.16" stop-color="#f4e361"/><stop offset="0.3" stop-color="#f6da59"/><stop offset="0.38" stop-color="#f19b33"/><stop offset="0.44" stop-color="#d45847"/><stop offset="0.5" stop-color="#932b79"/><stop offset="0.56" stop-color="#cb4e53"/><stop offset="0.62" stop-color="#f29f34"/><stop offset="0.7" stop-color="#f7d555"/><stop offset="0.84" stop-color="#f1e564"/><stop offset="1" stop-color="#f0e665"/></linearGradient>
<linearGradient id="g75"><stop offset="0" stop-color="#f5de5c"/><stop offset="0.16" stop-color="#f5dd5c"/><stop offset="0.3" stop-color="#f8cb4c"/><stop offset="0.38" stop-color="#f3a736"/><stop offset="0.44" stop-color="#c64959"/><stop offset="0.5" stop-color="#922b79"/><stop offset="0.56" stop-color="#ce524f"/><stop offset="0.62" stop-color="#f09631"/><stop offset="0.7" stop-color="#f7c447"/><stop offset="0.84" stop-color="#f5dd5c"/><stop offset="1" stop-color="#f3e463"/></linearGradient>
<linearGradient id="g76"><stop offset="0" stop-color="#f2e564"/><stop offset="0.16" stop-color="#f4e462"/><stop offset="0.3" stop-color="#f8cf4f"/><stop offset="0.38" stop-color="#f4ad37"/><stop offset="0.44" stop-color="#d1544b"/><stop offset="0.5" stop-color="#972d77"/><stop offset="0.56" stop-color="#da5e41"/><stop offset="0.62" stop-color="#f2a034"/><stop offset="0.7" stop-color="#f7d454"/><stop offset="0.84" stop-color="#f6db5a"/><stop offset="1" stop-color="#f5dd5c"/></linearGradient>
<linearGradient id="g77"><stop offset="0" stop-color="#f0e665"/><stop offset="0.16" stop-color="#f5e05f"/><stop offset="0.3" stop-color="#f7d352"/><stop offset="0.38" stop-color="#f2a034"/><stop offset="0.44" stop-color="#dd633d"/><stop offset="0.5" stop-color="#952c78"/><stop offset="0.56" stop-color="#cc4f51"/><stop offset="0.62" stop-color="#f3a535"/><stop offset="0.7" stop-color="#f8cb4c"/><stop offset="0.84" stop-color="#f3e463"/><stop offset="1" stop-color="#f6db5a"/></linearGradient>
<linearGradient id="g78"><stop offset="0" stop-color="#f5df5d"/><stop offset="0.16" stop-color="#f5de5c"/><stop offset="0.3" stop-color="#f6db5a"/><stop offset="0.38" stop-color="#f5ad37"/><stop offset="0.44" stop-color="#d75a44"/><stop offset="0.5" stop-color="#b2366e"/><stop offset="0.56" stop-color="#e0683b"/><stop offset="0.62" stop-color="#f5ae38"/><stop offset="0.7" stop-color="#f6db5a"/><stop offset="0.84" stop-color="#f5de5c"/><stop offset="1" stop-color="#f0e665"/></linearGradient>
<linearGradient id="g79"><stop offset="0" stop-color="#f4e361"/><stop offset="0.16" stop-color="#f6dc5a"/><stop offset="0.3" stop-color="#f7c749"/><stop offset="0.38" stop-color="#f5b43b"/><stop offset="0.44" stop-color="#df683b"/><stop offset="0.5" stop-color="#a43173"/><stop offset="0.56" stop-color="#df663b"/><stop offset="0.62" stop-color="#f6b73d"/><stop offset="0.7" stop-color="#f7d453"/><stop offset="0.84" stop-color="#f5e15f"/><stop offset="1" stop-color="#f7d655"/></linearGradient>
<linearGradient id="g80"><stop offset="0" stop-color="#f5de5c"/><stop offset="0.16" stop-color="#f1e564"/><stop offset="0.3" stop-color="#f7d252"/><stop offset="0.38" stop-color="#f7c145"/><stop offset="0.44" stop-color="#e36f38"/><stop offset="0.5" stop-color="#ac3470"/><stop offset="0.56" stop-color="#e47336"/><stop offset="0.62" stop-color="#f5b33a"/><stop offset="0.7" stop-color="#f7d655"/><stop offset="0.84" stop-color="#f4e260"/><stop offset="1" stop-color="#f5de5c"/></linearGradient>
<linearGradient id="g81"><stop offset="0" stop-color="#ece869"/><stop offset="0.16" stop-color="#e9e96c"/><stop offset="0.3" stop-color="#ede768"/><stop offset="0.38" stop-color="#f8ce4e"/><stop offset="0.44" stop-color="#f09130"/><stop offset="0.5" stop-color="#ba3d67"/><stop offset="0.56" stop-color="#ee8a2e"/><stop offset="0.62" stop-color="#f7d555"/><stop offset="0.7" stop-color="#f1e564"/><stop offset="0.84" stop-color="#e7ea6d"/><stop offset="1" stop-color="#e6ea6e"/></linearGradient>
<linearGradient id="g82"><stop offset="0" stop-color="#efe667"/><stop offset="0.16" stop-color="#f5e05e"/><stop offset="0.3" stop-color="#f5df5e"/><stop offset="0.38" stop-color="#f7c044"/><stop offset="0.44" stop-color="#e57336"/><stop offset="0.5" stop-color="#b93b69"/><stop offset="0.56" stop-color="#e87b33"/><stop offset="0.62" stop-color="#f7c749"/><stop offset="0.7" stop-color="#f4e361"/><stop offset="0.84" stop-color="#efe666"/><stop offset="1" stop-color="#f0e666"/></linearGradient>
<linearGradient id="g83"><stop offset="0" stop-color="#efe666"/><stop offset="0.16" stop-color="#f0e665"/><stop offset="0.3" stop-color="#f6dc5a"/><stop offset="0.38" stop-color="#f7d352"/><stop offset="0.44" stop-color="#f09130"/><stop offset="0.5" stop-color="#c04360"/><stop offset="0.56" stop-color="#f09631"/><stop offset="0.62" stop-color="#f7d554"/><stop offset="0.7" stop-color="#f4e462"/><stop offset="0.84" stop-color="#ece769"/><stop offset="1" stop-color="#eee667"/></linearGradient>
<linearGradient id="g84"><stop offset="0" stop-color="#e8e96c"/><stop offset="0.16" stop-color="#e8e96c"/><stop offset="0.3" stop-color="#e9e96b"/><stop offset="0.38" stop-color="#f6da59"/><stop offset="0.44" stop-color="#f2a134"/><stop offset="0.5" stop-color="#db5f3f"/><stop offset="0.56" stop-color="#f19632"/><stop offset="0.62" stop-color="#f5e05e"/><stop offset="0.7" stop-color="#e9e96c"/><stop offset="0.84" stop-color="#e6ea6e"/><stop offset="1" stop-color="#e8e96c"/></linearGradient>
<linearGradient id="g85"><stop offset="0" stop-color="#f5e15f"/><stop offset="0.16" stop-color="#f2e563"/><stop offset="0.3" stop-color="#f4e361"/><stop offset="0.38" stop-color="#f7d554"/><stop offset="0.44" stop-color="#ef8f30"/><stop offset="0.5" stop-color="#c74a58"/><stop offset="0.56" stop-color="#f09531"/><stop offset="0.62" stop-color="#f8ca4b"/><stop offset="0.7" stop-color="#f5e05e"/><stop offset="0.84" stop-color="#f5de5d"/><stop offset="1" stop-color="#f4e260"/></linearGradient>
<linearGradient id="g86"><stop offset="0" stop-color="#ebe86a"/><stop offset="0.16" stop-color="#e6ea6e"/><stop offset="0.3" stop-color="#ebe86a"/><stop offset="0.38" stop-color="#f4e361"/><stop offset="0.44" stop-color="#f5b43b"/><stop offset="0.5" stop-color="#e16c39"/><stop offset="0.56" stop-color="#f4a836"/><stop offset="0.62" stop-color="#f0e665"/><stop offset="0.7" stop-color="#ebe86a"/><stop offset="0.84" stop-color="#ebe86a"/><stop offset="1" stop-color="#e6ea6e"/></linearGradient>
<linearGradient id="g87"><stop offset="0" stop-color="#e6ea6e"/><stop offset="0.16" stop-color="#e6ea6e"/><stop offset="0.3" stop-color="#eae86b"/><stop offset="0.38" stop-color="#f5e15f"/><stop offset="0.44" stop-color="#f6bd41"/><stop offset="0.5" stop-color="#e26d39"/><stop offset="0.56" stop-color="#f6ba40"/><stop offset="0.62" stop-color="#eee767"/><stop offset="0.7" stop-color="#ece769"/><stop offset="0.84" stop-color="#e8e96c"/><stop offset="1" stop-color="#e8e96d"/></linearGradient>
<linearGradient id="g88"><stop offset="0" stop-color="#e6ea6e"/><stop offset="0.16" stop-color="#e6ea6e"/><stop offset="0.3" stop-color="#e6ea6e"/><stop offset="0.38" stop-color="#f0e665"/><stop offset="0.44" stop-color="#f7c346"/><stop offset="0.5" stop-color="#e77934"/><stop offset="0.56" stop-color="#f8c94b"/><stop offset="0.62" stop-color="#ebe86a"/><stop offset="0.7" stop-color="#e6ea6e"/><stop offset="0.84" stop-color="#e6ea6e"/><stop offset="1" stop-color="#e6ea6e"/></linearGradient>
<linearGradient id="g89"><stop offset="0" stop-color="#f1e564"/><stop offset="0.16" stop-color="#f0e665"/><stop offset="0.3" stop-color="#ede768"/><stop offset="0.38" stop-color="#f5dd5b"/><stop offset="0.44" stop-color="#f6b53c"/><stop offset="0.5" stop-color="#db5f3f"/><stop offset="0.56" stop-color="#f5b33b"/><stop offset="0.62" stop-color="#f4e160"/><stop offset="0.7" stop-color="#f1e564"/><stop offset="0.84" stop-color="#f3e563"/><stop offset="1" stop-color="#ebe86a"/></linearGradient>
<linearGradient id="g90"><stop offset="0" stop-color="#ece769"/><stop offset="0.16" stop-color="#eee667"/><stop offset="0.3" stop-color="#f0e666"/><stop offset="0.38" stop-color="#f6d756"/><stop offset="0.44" stop-color="#f4ab37"/><stop offset="0.5" stop-color="#dc603e"/><stop offset="0.56" stop-color="#f6b73d"/><stop offset="0.62" stop-color="#f7d554"/><stop offset="0.7" stop-color="#f1e565"/><stop offset="0.84" stop-color="#eee767"/><stop offset="1" stop-color="#f4e361"/></linearGradient>
<linearGradient id="g91"><stop offset="0" stop-color="#eee767"/><stop offset="0.16" stop-color="#eee767"/><stop offset="0.3" stop-color="#f2e564"/><stop offset="0.38" stop-color="#f4e462"/><stop offset="0.44" stop-color="#f6ba3f"/><stop offset="0.5" stop-color="#e26d39"/><stop offset="0.56" stop-color="#f6b93f"/><stop offset="0.62" stop-color="#f4e462"/><stop offset="0.7" stop-color="#f0e666"/><stop offset="0.84" stop-color="#ede768"/><stop offset="1" stop-color="#eae86a"/></linearGradient>
<linearGradient id="g92"><stop offset="0" stop-color="#e6ea6e"/><stop offset="0.16" stop-color="#e6ea6e"/><stop offset="0.3" stop-color="#eae86b"/><stop offset="0.38" stop-color="#e9e96c"/><stop offset="0.44" stop-color="#f6d757"/><stop offset="0.5" stop-color="#ee8b2f"/><stop offset="0.56" stop-color="#f7c84a"/><stop offset="0.62" stop-color="#ebe86a"/><stop offset="0.7" stop-color="#e6ea6e"/><stop offset="0.84" stop-color="#e6ea6e"/><stop offset="1" stop-color="#e6ea6e"/></linearGradient>
<linearGradient id="g93"><stop offset="0" stop-color="#eee767"/><stop offset="0.16" stop-color="#efe667"/><stop offset="0.3" stop-color="#f0e666"/><stop offset="0.38" stop-color="#efe667"/><stop offset="0.44" stop-color="#f7c648"/><stop offset="0.5" stop-color="#e97d33"/><stop offset="0.56" stop-color="#f7c145"/><stop offset="0.62" stop-color="#f5e05f"/><stop offset="0.7" stop-color="#f1e564"/><stop offset="0.84" stop-color="#e8e96c"/><stop offset="1" stop-color="#f0e665"/></linearGradient>
<linearGradient id="g94"><stop offset="0" stop-color="#f4e361"/><stop offset="0.16" stop-color="#ece769"/><stop offset="0.3" stop-color="#eee767"/><stop offset="0.38" stop-color="#f2e564"/><stop offset="0.44" stop-color="#f8ce4e"/><stop offset="0.5" stop-color="#e37038"/><stop offset="0.56" stop-color="#f7c043"/><stop offset="0.62" stop-color="#f5df5e"/><stop offset="0.7" stop-color="#f4e462"/><stop offset="0.84" stop-color="#f1e564"/><stop offset="1" stop-color="#eee767"/></linearGradient>
<linearGradient id="g95"><stop offset="0" stop-color="#e6ea6e"/><stop offset="0.16" stop-color="#e6ea6e"/><stop offset="0.3" stop-color="#e6ea6e"/><stop offset="0.38" stop-color="#e7ea6d"/><stop offset="0.44" stop-color="#f5dd5c"/><stop offset="0.5" stop-color="#f29d33"/><stop offset="0.56" stop-color="#f5e05e"/><stop offset="0.62" stop-color="#e6ea6e"/><stop offset="0.7" stop-color="#e6ea6e"/><stop offset="0.84" stop-color="#e6ea6e"/><stop offset="1" stop-color="#e6ea6e"/></linearGradient>
<linearGradient id="g96"><stop offset="0" stop-color="#f0e665"/><stop offset="0.16" stop-color="#f4e462"/><stop offset="0.3" stop-color="#f2e564"/><stop offset="0.38" stop-color="#f0e666"/><stop offset="0.44" stop-color="#f8cd4e"/><stop offset="0.5" stop-color="#eb8031"/><stop offset="0.56" stop-color="#f7c648"/><stop offset="0.62" stop-color="#f3e463"/><stop offset="0.7" stop-color="#f3e563"/><stop offset="0.84" stop-color="#f1e565"/><stop offset="1" stop-color="#ede768"/></linearGradient>
<linearGradient id="g97"><stop offset="0" stop-color="#ebe86a"/><stop offset="0.16" stop-color="#f2e564"/><stop offset="0.3" stop-color="#ece869"/><stop offset="0.38" stop-color="#ede768"/><stop offset="0.44" stop-color="#f7d655"/><stop offset="0.5" stop-color="#ea8031"/><stop offset="0.56" stop-color="#f7c84a"/><stop offset="0.62" stop-color="#ede768"/><stop offset="0.7" stop-color="#efe666"/><stop offset="0.84" stop-color="#efe667"/><stop offset="1" stop-color="#f2e564"/></linearGradient>
<linearGradient id="g98"><stop offset="0" stop-color="#e6ea6e"/><stop offset="0.16" stop-color="#e6ea6e"/><stop offset="0.3" stop-color="#e8e96c"/><stop offset="0.38" stop-color="#e6ea6e"/><stop offset="0.44" stop-color="#f6da59"/><stop offset="0.5" stop-color="#f2a034"/><stop offset="0.56" stop-color="#f3e563"/><stop offset="0.62" stop-color="#eae86a"/><stop offset="0.7" stop-color="#e6ea6e"/><stop offset="0.84" stop-color="#e6ea6e"/><stop offset="1" stop-color="#e6ea6e"/></linearGradient>
<linearGradient id="g99"><stop offset="0" stop-color="#e7ea6e"/><stop offset="0.16" stop-color="#e6ea6e"/><stop offset="0.3" stop-color="#e7ea6d"/><stop offset="0.38" stop-color="#e8e96c"/><stop offset="0.44" stop-color="#f2e564"/><stop offset="0.5" stop-color="#f3a435"/><stop offset="0.56" stop-color="#f2e564"/><stop offset="0.62" stop-color="#ebe86a"/><stop offset="0.7" stop-color="#e6ea6e"/><stop offset="0.84" stop-color="#e8e96d"/><stop offset="1" stop-color="#e6ea6e"/></linearGradient>
<linearGradient id="g100"><stop offset="0" stop-color="#e6ea6e"/><stop offset="0.16" stop-color="#eae86b"/><stop offset="0.3" stop-color="#e6ea6e"/><stop offset="0.38" stop-color="#e7ea6d"/><stop offset="0.44" stop-color="#f5de5d"/><stop offset="0.5" stop-color="#f4a736"/><stop offset="0.56" stop-color="#f3e463"/><stop offset="0.62" stop-color="#e8e96c"/><stop offset="0.7" stop-color="#e8e96c"/><stop offset="0.84" stop-color="#e8e96c"/><stop offset="1" stop-color="#e7ea6d"/></linearGradient>
<linearGradient id="g101"><stop offset="0" stop-color="#e6ea6e"/><stop offset="0.16" stop-color="#e6ea6e"/><stop offset="0.3" stop-color="#ebe86a"/><stop offset="0.38" stop-color="#ebe869"/><stop offset="0.44" stop-color="#f5df5d"/><stop offset="0.5" stop-color="#f4a836"/><stop offset="0.56" stop-color="#f4e462"/><stop offset="0.62" stop-color="#ede768"/><stop offset="0.7" stop-color="#e8e96c"/><stop offset="0.84" stop-color="#e6ea6e"/><stop offset="1" stop-color="#e7ea6d"/></linearGradient>
<linearGradient id="g102"><stop offset="0" stop-color="#ebe869"/><stop offset="0.16" stop-color="#ebe86a"/><stop offset="0.3" stop-color="#ece769"/><stop offset="0.38" stop-color="#f2e563"/><stop offset="0.44" stop-color="#f7d453"/><stop offset="0.5" stop-color="#f29c33"/><stop offset="0.56" stop-color="#f5df5d"/><stop offset="0.62" stop-color="#eee767"/><stop offset="0.7" stop-color="#ece768"/><stop offset="0.84" stop-color="#eee667"/><stop offset="1" stop-color="#ebe86a"/></linearGradient>
<linearGradient id="g103"><stop offset="0" stop-color="#e6ea6e"/><stop offset="0.16" stop-color="#ece769"/><stop offset="0.3" stop-color="#eae86b"/><stop offset="0.38" stop-color="#e6ea6e"/><stop offset="0.44" stop-color="#f5dd5c"/><stop offset="0.5" stop-color="#f5ae38"/><stop offset="0.56" stop-color="#f2e563"/><stop offset="0.62" stop-color="#eee667"/><stop offset="0.7" stop-color="#eae86a"/><stop offset="0.84" stop-color="#eae86b"/><stop offset="1" stop-color="#e7ea6d"/></linearGradient>
<linearGradient id="g104"><stop offset="0" stop-color="#f19732"/><stop offset="0.16" stop-color="#f19632"/><stop offset="0.3" stop-color="#e37038"/><stop offset="0.38" stop-color="#b0366e"/><stop offset="0.44" stop-color="#792281"/><stop offset="0.5" stop-color="#531b6c"/><stop offset="0.56" stop-color="#661f77"/><stop offset="0.62" stop-color="#a83371"/><stop offset="0.7" stop-color="#e0693a"/><stop offset="0.84" stop-color="#ee8a2f"/><stop offset="1" stop-color="#f19b33"/></linearGradient>
<linearGradient id="g105"><stop offset="0" stop-color="#f6ba3f"/><stop offset="0.16" stop-color="#f6b83e"/><stop offset="0.3" stop-color="#f19732"/><stop offset="0.38" stop-color="#dd633d"/><stop offset="0.44" stop-color="#ad356f"/><stop offset="0.5" stop-color="#83257f"/><stop offset="0.56" stop-color="#a53272"/><stop offset="0.62" stop-color="#e26e38"/><stop offset="0.7" stop-color="#f3a235"/><stop offset="0.84" stop-color="#f5b239"/><stop offset="1" stop-color="#f5b53c"/></linearGradient>
<linearGradient id="g106"><stop offset="0" stop-color="#f7bf43"/><stop offset="0.16" stop-color="#f6ba3f"/><stop offset="0.3" stop-color="#f4ac37"/><stop offset="0.38" stop-color="#ee882e"/><stop offset="0.44" stop-color="#ca4d54"/><stop offset="0.5" stop-color="#a23173"/><stop offset="0.56" stop-color="#c64958"/><stop offset="0.62" stop-color="#f09431"/><stop offset="0.7" stop-color="#f5b239"/><stop offset="0.84" stop-color="#f6bb40"/><stop offset="1" stop-color="#f7bf43"/></linearGradient>
<linearGradient id="g107"><stop offset="0" stop-color="#f6d857"/><stop offset="0.16" stop-color="#f7d554"/><stop offset="0.3" stop-color="#f8cb4c"/><stop offset="0.38" stop-color="#f5b139"/><stop offset="0.44" stop-color="#e87a34"/><stop offset="0.5" stop-color="#be4062"/><stop offset="0.56" stop-color="#e26e39"/><stop offset="0.62" stop-color="#f6b93f"/><stop offset="0.7" stop-color="#f7c849"/><stop offset="0.84" stop-color="#f8cf4f"/><stop offset="1" stop-color="#f7d655"/></linearGradient>
<linearGradient id="g108"><stop offset="0" stop-color="#f6d857"/><stop offset="0.16" stop-color="#f2e564"/><stop offset="0.3" stop-color="#f6da59"/><stop offset="0.38" stop-color="#f7d252"/><stop offset="0.44" stop-color="#f09631"/><stop offset="0.5" stop-color="#d1554b"/><stop offset="0.56" stop-color="#f19c33"/><stop offset="0.62" stop-color="#f7d353"/><stop offset="0.7" stop-color="#f6da59"/><stop offset="0.84" stop-color="#f5df5d"/><stop offset="1" stop-color="#f5dc5b"/></linearGradient>
<linearGradient id="g109"><stop offset="0" stop-color="#f4e361"/><stop offset="0.16" stop-color="#f5e05e"/><stop offset="0.3" stop-color="#f4e261"/><stop offset="0.38" stop-color="#f6da59"/><stop offset="0.44" stop-color="#f4ac37"/><stop offset="0.5" stop-color="#e67635"/><stop offset="0.56" stop-color="#f5b139"/><stop offset="0.62" stop-color="#f6da59"/><stop offset="0.7" stop-color="#f5df5d"/><stop offset="0.84" stop-color="#f0e666"/><stop offset="1" stop-color="#f5dd5c"/></linearGradient>
<linearGradient id="g110"><stop offset="0" stop-color="#ebe86a"/><stop offset="0.16" stop-color="#ede768"/><stop offset="0.3" stop-color="#efe666"/><stop offset="0.38" stop-color="#f0e665"/><stop offset="0.44" stop-color="#f8c94b"/><stop offset="0.5" stop-color="#ea8031"/><stop offset="0.56" stop-color="#f7c447"/><stop offset="0.62" stop-color="#f3e462"/><stop offset="0.7" stop-color="#eee767"/><stop offset="0.84" stop-color="#ede768"/><stop offset="1" stop-color="#f2e564"/></linearGradient>
<linearGradient id="g111"><stop offset="0" stop-color="#f5e15f"/><stop offset="0.16" stop-color="#f3e563"/><stop offset="0.3" stop-color="#f5dd5b"/><stop offset="0.38" stop-color="#f5dd5c"/><stop offset="0.44" stop-color="#f8ca4b"/><stop offset="0.5" stop-color="#e97d33"/><stop offset="0.56" stop-color="#f6bf43"/><stop offset="0.62" stop-color="#f6d756"/><stop offset="0.7" stop-color="#f5df5e"/><stop offset="0.84" stop-color="#f4e260"/><stop offset="1" stop-color="#f5e15f"/></linearGradient>
<linearGradient id="g112"><stop offset="0" stop-color="#f2e564"/><stop offset="0.16" stop-color="#ebe869"/><stop offset="0.3" stop-color="#eee667"/><stop offset="0.38" stop-color="#f3e463"/><stop offset="0.44" stop-color="#f7d151"/><stop offset="0.5" stop-color="#ee8a2f"/><stop offset="0.56" stop-color="#f6da59"/><stop offset="0.62" stop-color="#f0e665"/><stop offset="0.7" stop-color="#e9e96b"/><stop offset="0.84" stop-color="#f0e665"/><stop offset="1" stop-color="#ebe869"/></linearGradient>
<linearGradient id="g113"><stop offset="0" stop-color="#f8cc4d"/><stop offset="0.1" stop-color="#f8c94a"/><stop offset="0.2" stop-color="#f8cc4d"/><stop offset="0.3" stop-color="#f7c84a"/><stop offset="0.325" stop-color="#f8ce4e"/><stop offset="0.345" stop-color="#b67046"/><stop offset="0.4" stop-color="#ca813f"/><stop offset="0.45" stop-color="#be7744"/><stop offset="0.5" stop-color="#bd7644"/><stop offset="0.55" stop-color="#be7743"/><stop offset="0.6" stop-color="#c37b42"/><stop offset="0.655" stop-color="#c27a42"/><stop offset="0.675" stop-color="#f7c245"/><stop offset="0.7" stop-color="#f7c245"/><stop offset="0.8" stop-color="#f8ca4b"/><stop offset="0.9" stop-color="#f6ba40"/><stop offset="1" stop-color="#f6bc41"/></linearGradient>
<linearGradient id="g114"><stop offset="0" stop-color="#f6d857"/><stop offset="0.1" stop-color="#f6d756"/><stop offset="0.2" stop-color="#f6d958"/><stop offset="0.3" stop-color="#f2e564"/><stop offset="0.325" stop-color="#f6d857"/><stop offset="0.345" stop-color="#c77f41"/><stop offset="0.4" stop-color="#b77146"/><stop offset="0.45" stop-color="#b77046"/><stop offset="0.5" stop-color="#d0873e"/><stop offset="0.55" stop-color="#c88040"/><stop offset="0.6" stop-color="#bd7644"/><stop offset="0.655" stop-color="#b97245"/><stop offset="0.675" stop-color="#f2e564"/><stop offset="0.7" stop-color="#f3e463"/><stop offset="0.8" stop-color="#f6d958"/><stop offset="0.9" stop-color="#f4e361"/><stop offset="1" stop-color="#f2e564"/></linearGradient>
<linearGradient id="g115"><stop offset="0" stop-color="#f8cc4c"/><stop offset="0.1" stop-color="#f6da59"/><stop offset="0.2" stop-color="#f8c94a"/><stop offset="0.3" stop-color="#f8d050"/><stop offset="0.325" stop-color="#f8cc4c"/><stop offset="0.345" stop-color="#c98040"/><stop offset="0.4" stop-color="#cf863e"/><stop offset="0.45" stop-color="#cc833f"/><stop offset="0.5" stop-color="#cd843e"/><stop offset="0.55" stop-color="#bb7544"/><stop offset="0.6" stop-color="#c98140"/><stop offset="0.655" stop-color="#c47d41"/><stop offset="0.675" stop-color="#f8cd4d"/><stop offset="0.7" stop-color="#f7d453"/><stop offset="0.8" stop-color="#f8c94b"/><stop offset="0.9" stop-color="#f7d151"/><stop offset="1" stop-color="#f6d857"/></linearGradient>
<linearGradient id="g116"><stop offset="0" stop-color="#eee767"/><stop offset="0.1" stop-color="#f3e563"/><stop offset="0.2" stop-color="#ede768"/><stop offset="0.3" stop-color="#f2e563"/><stop offset="0.325" stop-color="#eee767"/><stop offset="0.345" stop-color="#c47c42"/><stop offset="0.4" stop-color="#c47c42"/><stop offset="0.45" stop-color="#c57d41"/><stop offset="0.5" stop-color="#ce853e"/><stop offset="0.55" stop-color="#b67046"/><stop offset="0.6" stop-color="#cd843e"/><stop offset="0.655" stop-color="#c37b42"/><stop offset="0.675" stop-color="#f4e462"/><stop offset="0.7" stop-color="#f4e260"/><stop offset="0.8" stop-color="#f5de5d"/><stop offset="0.9" stop-color="#f1e564"/><stop offset="1" stop-color="#f2e564"/></linearGradient>
<linearGradient id="g117"><stop offset="0" stop-color="#f4e261"/><stop offset="0.1" stop-color="#f7d655"/><stop offset="0.2" stop-color="#f7d655"/><stop offset="0.3" stop-color="#f4e362"/><stop offset="0.325" stop-color="#f6d756"/><stop offset="0.345" stop-color="#c98040"/><stop offset="0.4" stop-color="#d0863e"/><stop offset="0.45" stop-color="#bf7843"/><stop offset="0.5" stop-color="#d1873d"/><stop offset="0.55" stop-color="#c47c41"/><stop offset="0.6" stop-color="#c37b42"/><stop offset="0.655" stop-color="#cf863e"/><stop offset="0.675" stop-color="#f4e361"/><stop offset="0.7" stop-color="#f7d454"/><stop offset="0.8" stop-color="#f6d656"/><stop offset="0.9" stop-color="#f5dd5b"/><stop offset="1" stop-color="#f7d151"/></linearGradient>
<linearGradient id="g118"><stop offset="0" stop-color="#f1e565"/><stop offset="0.1" stop-color="#f2e564"/><stop offset="0.2" stop-color="#f4e261"/><stop offset="0.3" stop-color="#ede768"/><stop offset="0.325" stop-color="#f0e665"/><stop offset="0.345" stop-color="#c17a42"/><stop offset="0.4" stop-color="#c57d41"/><stop offset="0.45" stop-color="#cd843f"/><stop offset="0.5" stop-color="#be7744"/><stop offset="0.55" stop-color="#cd843f"/><stop offset="0.6" stop-color="#c17a42"/><stop offset="0.655" stop-color="#c47c41"/><stop offset="0.675" stop-color="#eee767"/><stop offset="0.7" stop-color="#f1e564"/><stop offset="0.8" stop-color="#f5de5d"/><stop offset="0.9" stop-color="#f3e463"/><stop offset="1" stop-color="#f4e260"/></linearGradient>
<linearGradient id="g119"><stop offset="0" stop-color="#ede768"/><stop offset="0.1" stop-color="#ede768"/><stop offset="0.2" stop-color="#f1e564"/><stop offset="0.3" stop-color="#f2e564"/><stop offset="0.325" stop-color="#f4e462"/><stop offset="0.345" stop-color="#b77145"/><stop offset="0.4" stop-color="#ca813f"/><stop offset="0.45" stop-color="#cf853e"/><stop offset="0.5" stop-color="#c57d41"/><stop offset="0.55" stop-color="#b77145"/><stop offset="0.6" stop-color="#be7743"/><stop offset="0.655" stop-color="#b67046"/><stop offset="0.675" stop-color="#ece869"/><stop offset="0.7" stop-color="#f5e15f"/><stop offset="0.8" stop-color="#f1e564"/><stop offset="0.9" stop-color="#f2e564"/><stop offset="1" stop-color="#f4e462"/></linearGradient>
<linearGradient id="g120"><stop offset="0" stop-color="#ee8b2f"/><stop offset="0.16" stop-color="#ea7f32"/><stop offset="0.3" stop-color="#db5f3f"/><stop offset="0.38" stop-color="#ad356f"/><stop offset="0.44" stop-color="#7d2381"/><stop offset="0.5" stop-color="#661f76"/><stop offset="0.56" stop-color="#86267e"/><stop offset="0.62" stop-color="#ad356f"/><stop offset="0.7" stop-color="#dd633d"/><stop offset="0.84" stop-color="#e97c33"/><stop offset="1" stop-color="#f09431"/></linearGradient>
<linearGradient id="g121"><stop offset="0" stop-color="#f7c346"/><stop offset="0.16" stop-color="#f4ac37"/><stop offset="0.3" stop-color="#ed862f"/><stop offset="0.38" stop-color="#d2554b"/><stop offset="0.44" stop-color="#a23173"/><stop offset="0.5" stop-color="#7b2282"/><stop offset="0.56" stop-color="#992d77"/><stop offset="0.62" stop-color="#d35748"/><stop offset="0.7" stop-color="#f09331"/><stop offset="0.84" stop-color="#f5b43b"/><stop offset="1" stop-color="#f6bd41"/></linearGradient>
<linearGradient id="g122"><stop offset="0" stop-color="#f6bf43"/><stop offset="0.16" stop-color="#f5b139"/><stop offset="0.3" stop-color="#ee8b2f"/><stop offset="0.38" stop-color="#df663b"/><stop offset="0.44" stop-color="#a33173"/><stop offset="0.5" stop-color="#902a7a"/><stop offset="0.56" stop-color="#ad356f"/><stop offset="0.62" stop-color="#d45847"/><stop offset="0.7" stop-color="#f09130"/><stop offset="0.84" stop-color="#f4ac37"/><stop offset="1" stop-color="#f6bf43"/></linearGradient>
<linearGradient id="g123"><stop offset="0" stop-color="#f7d352"/><stop offset="0.16" stop-color="#f7c749"/><stop offset="0.3" stop-color="#f3a335"/><stop offset="0.38" stop-color="#e16a3a"/><stop offset="0.44" stop-color="#b7396a"/><stop offset="0.5" stop-color="#972d77"/><stop offset="0.56" stop-color="#be4062"/><stop offset="0.62" stop-color="#e37037"/><stop offset="0.7" stop-color="#f5b038"/><stop offset="0.84" stop-color="#f8ce4e"/><stop offset="1" stop-color="#f6d857"/></linearGradient>
<linearGradient id="g124"><stop offset="0" stop-color="#f7d554"/><stop offset="0.16" stop-color="#f7d554"/><stop offset="0.3" stop-color="#f4ac37"/><stop offset="0.38" stop-color="#ed862f"/><stop offset="0.44" stop-color="#b83a6a"/><stop offset="0.5" stop-color="#a53272"/><stop offset="0.56" stop-color="#c84a57"/><stop offset="0.62" stop-color="#e87a34"/><stop offset="0.7" stop-color="#f6b93e"/><stop offset="0.84" stop-color="#f8cc4d"/><stop offset="1" stop-color="#f6db5a"/></linearGradient>
<linearGradient id="g125"><stop offset="0" stop-color="#f6d756"/><stop offset="0.16" stop-color="#f7d151"/><stop offset="0.3" stop-color="#f5b53c"/><stop offset="0.38" stop-color="#eb8230"/><stop offset="0.44" stop-color="#cd5050"/><stop offset="0.5" stop-color="#a03074"/><stop offset="0.56" stop-color="#c1445e"/><stop offset="0.62" stop-color="#ee872e"/><stop offset="0.7" stop-color="#f5b43b"/><stop offset="0.84" stop-color="#f6d756"/><stop offset="1" stop-color="#f7d554"/></linearGradient>
<linearGradient id="g126"><stop offset="0" stop-color="#f8cf4f"/><stop offset="0.16" stop-color="#f7c84a"/><stop offset="0.3" stop-color="#f3a635"/><stop offset="0.38" stop-color="#e47237"/><stop offset="0.44" stop-color="#c3465c"/><stop offset="0.5" stop-color="#9d2f75"/><stop offset="0.56" stop-color="#b7396a"/><stop offset="0.62" stop-color="#ea7f32"/><stop offset="0.7" stop-color="#f2a234"/><stop offset="0.84" stop-color="#f7c144"/><stop offset="1" stop-color="#f8cf4e"/></linearGradient>
<linearGradient id="g127"><stop offset="0" stop-color="#f6d857"/><stop offset="0.16" stop-color="#f7d454"/><stop offset="0.3" stop-color="#f6bb40"/><stop offset="0.38" stop-color="#f09531"/><stop offset="0.44" stop-color="#c74a58"/><stop offset="0.5" stop-color="#ab3470"/><stop offset="0.56" stop-color="#c94d54"/><stop offset="0.62" stop-color="#ef8c2f"/><stop offset="0.7" stop-color="#f6bf43"/><stop offset="0.84" stop-color="#f7d554"/><stop offset="1" stop-color="#f7d554"/></linearGradient>
<linearGradient id="g128"><stop offset="0" stop-color="#f7c447"/><stop offset="0.16" stop-color="#f7c346"/><stop offset="0.3" stop-color="#f5b33a"/><stop offset="0.38" stop-color="#ef8b2f"/><stop offset="0.44" stop-color="#bc3e65"/><stop offset="0.5" stop-color="#9c2e76"/><stop offset="0.56" stop-color="#bf4162"/><stop offset="0.62" stop-color="#ed862f"/><stop offset="0.7" stop-color="#f5ad37"/><stop offset="0.84" stop-color="#f6bc41"/><stop offset="1" stop-color="#f7c446"/></linearGradient>
<linearGradient id="g129"><stop offset="0" stop-color="#f6db5a"/><stop offset="0.16" stop-color="#f7d655"/><stop offset="0.3" stop-color="#f6bc41"/><stop offset="0.38" stop-color="#f19b33"/><stop offset="0.44" stop-color="#d2554b"/><stop offset="0.5" stop-color="#ae356f"/><stop offset="0.56" stop-color="#ce514f"/><stop offset="0.62" stop-color="#f09231"/><stop offset="0.7" stop-color="#f7c548"/><stop offset="0.84" stop-color="#f6db5a"/><stop offset="1" stop-color="#f5dc5b"/></linearGradient>
<linearGradient id="g130"><stop offset="0" stop-color="#f5e15f"/><stop offset="0.16" stop-color="#f6da59"/><stop offset="0.3" stop-color="#f7c849"/><stop offset="0.38" stop-color="#f5b038"/><stop offset="0.44" stop-color="#db5f3f"/><stop offset="0.5" stop-color="#b4376d"/><stop offset="0.56" stop-color="#da5e40"/><stop offset="0.62" stop-color="#f3a636"/><stop offset="0.7" stop-color="#f7d151"/><stop offset="0.84" stop-color="#f6da58"/><stop offset="1" stop-color="#f5de5c"/></linearGradient>
<linearGradient id="g131"><stop offset="0" stop-color="#f6d756"/><stop offset="0.16" stop-color="#f6dc5a"/><stop offset="0.3" stop-color="#f8d050"/><stop offset="0.38" stop-color="#f3a535"/><stop offset="0.44" stop-color="#dc603e"/><stop offset="0.5" stop-color="#c04260"/><stop offset="0.56" stop-color="#dc613e"/><stop offset="0.62" stop-color="#f29e33"/><stop offset="0.7" stop-color="#f8ce4e"/><stop offset="0.84" stop-color="#f6d857"/><stop offset="1" stop-color="#f6da59"/></linearGradient>
<linearGradient id="g132"><stop offset="0" stop-color="#f0e665"/><stop offset="0.16" stop-color="#f2e563"/><stop offset="0.3" stop-color="#f7d251"/><stop offset="0.38" stop-color="#f5b138"/><stop offset="0.44" stop-color="#e57436"/><stop offset="0.5" stop-color="#cc4f52"/><stop offset="0.56" stop-color="#e26e39"/><stop offset="0.62" stop-color="#f5b139"/><stop offset="0.7" stop-color="#f6d958"/><stop offset="0.84" stop-color="#f4e260"/><stop offset="1" stop-color="#f5e15f"/></linearGradient>
<linearGradient id="g133"><stop offset="0" stop-color="#f6db5a"/><stop offset="0.16" stop-color="#f6da59"/><stop offset="0.3" stop-color="#f8cb4c"/><stop offset="0.38" stop-color="#f5b43b"/><stop offset="0.44" stop-color="#e57536"/><stop offset="0.5" stop-color="#c64958"/><stop offset="0.56" stop-color="#e16b39"/><stop offset="0.62" stop-color="#f5b139"/><stop offset="0.7" stop-color="#f8cc4c"/><stop offset="0.84" stop-color="#f6db5a"/><stop offset="1" stop-color="#f6db5a"/></linearGradient>
<linearGradient id="g134"><stop offset="0" stop-color="#e6ea6e"/><stop offset="0.16" stop-color="#efe666"/><stop offset="0.3" stop-color="#f2e564"/><stop offset="0.38" stop-color="#f8d150"/><stop offset="0.44" stop-color="#ee892e"/><stop offset="0.5" stop-color="#d0544c"/><stop offset="0.56" stop-color="#f09230"/><stop offset="0.62" stop-color="#f8c94b"/><stop offset="0.7" stop-color="#f2e564"/><stop offset="0.84" stop-color="#ebe869"/><stop offset="1" stop-color="#e6ea6e"/></linearGradient>
<linearGradient id="g135"><stop offset="0" stop-color="#ebe86a"/><stop offset="0.16" stop-color="#ebe86a"/><stop offset="0.3" stop-color="#efe666"/><stop offset="0.38" stop-color="#f7d252"/><stop offset="0.44" stop-color="#f19b33"/><stop offset="0.5" stop-color="#d85c43"/><stop offset="0.56" stop-color="#f19732"/><stop offset="0.62" stop-color="#f8cd4d"/><stop offset="0.7" stop-color="#f2e564"/><stop offset="0.84" stop-color="#eae86a"/><stop offset="1" stop-color="#ebe86a"/></linearGradient>
<linearGradient id="g136"><stop offset="0" stop-color="#e6ea6e"/><stop offset="0.16" stop-color="#e8e96c"/><stop offset="0.3" stop-color="#efe667"/><stop offset="0.38" stop-color="#f6d757"/><stop offset="0.44" stop-color="#f2a034"/><stop offset="0.5" stop-color="#dc603e"/><stop offset="0.56" stop-color="#ef9030"/><stop offset="0.62" stop-color="#f7d252"/><stop offset="0.7" stop-color="#f4e260"/><stop offset="0.84" stop-color="#eee767"/><stop offset="1" stop-color="#e6ea6e"/></linearGradient>
<linearGradient id="g137"><stop offset="0" stop-color="#eee667"/><stop offset="0.16" stop-color="#ede768"/><stop offset="0.3" stop-color="#f6dc5a"/><stop offset="0.38" stop-color="#f7d151"/><stop offset="0.44" stop-color="#f09331"/><stop offset="0.5" stop-color="#d85c42"/><stop offset="0.56" stop-color="#ef8c2f"/><stop offset="0.62" stop-color="#f8cb4c"/><stop offset="0.7" stop-color="#f4e361"/><stop offset="0.84" stop-color="#efe666"/><stop offset="1" stop-color="#ece768"/></linearGradient>
<linearGradient id="g138"><stop offset="0" stop-color="#f5dc5b"/><stop offset="0.16" stop-color="#f3e563"/><stop offset="0.3" stop-color="#f5e15f"/><stop offset="0.38" stop-color="#f8cb4c"/><stop offset="0.44" stop-color="#f09431"/><stop offset="0.5" stop-color="#d1544c"/><stop offset="0.56" stop-color="#ee892e"/><stop offset="0.62" stop-color="#f7c245"/><stop offset="0.7" stop-color="#f5e05f"/><stop offset="0.84" stop-color="#f5de5d"/><stop offset="1" stop-color="#f5e05e"/></linearGradient>
<linearGradient id="g139"><stop offset="0" stop-color="#f3e563"/><stop offset="0.16" stop-color="#ebe86a"/><stop offset="0.3" stop-color="#f0e665"/><stop offset="0.38" stop-color="#f8d050"/><stop offset="0.44" stop-color="#f19832"/><stop offset="0.5" stop-color="#de653c"/><stop offset="0.56" stop-color="#f3a535"/><stop offset="0.62" stop-color="#f7d352"/><stop offset="0.7" stop-color="#f4e260"/><stop offset="0.84" stop-color="#ebe869"/><stop offset="1" stop-color="#ede768"/></linearGradient>
<linearGradient id="g140"><stop offset="0" stop-color="#e6ea6e"/><stop offset="0.16" stop-color="#e7e96d"/><stop offset="0.3" stop-color="#e9e96c"/><stop offset="0.38" stop-color="#f4e462"/><stop offset="0.44" stop-color="#f6b83e"/><stop offset="0.5" stop-color="#e47237"/><stop offset="0.56" stop-color="#f6ba3f"/><stop offset="0.62" stop-color="#f5dd5c"/><stop offset="0.7" stop-color="#e9e96b"/><stop offset="0.84" stop-color="#e6ea6e"/><stop offset="1" stop-color="#ebe86a"/></linearGradient>
<linearGradient id="g141"><stop offset="0" stop-color="#eae86b"/><stop offset="0.16" stop-color="#eae86b"/><stop offset="0.3" stop-color="#ede768"/><stop offset="0.38" stop-color="#f1e565"/><stop offset="0.44" stop-color="#f6b93f"/><stop offset="0.5" stop-color="#ec8330"/><stop offset="0.56" stop-color="#f5b239"/><stop offset="0.62" stop-color="#f5df5e"/><stop offset="0.7" stop-color="#ebe86a"/><stop offset="0.84" stop-color="#e6ea6e"/><stop offset="1" stop-color="#e6ea6e"/></linearGradient>
<linearGradient id="g142"><stop offset="0" stop-color="#f0e666"/><stop offset="0.16" stop-color="#f1e565"/><stop offset="0.3" stop-color="#f0e666"/><stop offset="0.38" stop-color="#f5dc5b"/><stop offset="0.44" stop-color="#f6b73d"/><stop offset="0.5" stop-color="#e26e38"/><stop offset="0.56" stop-color="#f5ae38"/><stop offset="0.62" stop-color="#f5dd5c"/><stop offset="0.7" stop-color="#f4e160"/><stop offset="0.84" stop-color="#eee767"/><stop offset="1" stop-color="#efe666"/></linearGradient>
<linearGradient id="g143"><stop offset="0" stop-color="#e6ea6e"/><stop offset="0.16" stop-color="#e8e96d"/><stop offset="0.3" stop-color="#e6ea6e"/><stop offset="0.38" stop-color="#ede768"/><stop offset="0.44" stop-color="#f7c547"/><stop offset="0.5" stop-color="#ee892e"/><stop offset="0.56" stop-color="#f6be42"/><stop offset="0.62" stop-color="#ede768"/><stop offset="0.7" stop-color="#ebe869"/><stop offset="0.84" stop-color="#e6ea6e"/><stop offset="1" stop-color="#e8e96c"/></linearGradient>
<linearGradient id="g144"><stop offset="0" stop-color="#eae86b"/><stop offset="0.16" stop-color="#ece769"/><stop offset="0.3" stop-color="#ede768"/><stop offset="0.38" stop-color="#f4e462"/><stop offset="0.44" stop-color="#f7c245"/><stop offset="0.5" stop-color="#eb8231"/><stop offset="0.56" stop-color="#f6b53c"/><stop offset="0.62" stop-color="#f6da59"/><stop offset="0.7" stop-color="#f2e564"/><stop offset="0.84" stop-color="#e9e96b"/><stop offset="1" stop-color="#ebe86a"/></linearGradient>
<linearGradient id="g145"><stop offset="0" stop-color="#ece869"/><stop offset="0.16" stop-color="#f1e564"/><stop offset="0.3" stop-color="#efe666"/><stop offset="0.38" stop-color="#f6d857"/><stop offset="0.44" stop-color="#f7c447"/><stop offset="0.5" stop-color="#e77834"/><stop offset="0.56" stop-color="#f6bf43"/><stop offset="0.62" stop-color="#f4e361"/><stop offset="0.7" stop-color="#ede768"/><stop offset="0.84" stop-color="#f2e563"/><stop offset="1" stop-color="#f0e666"/></linearGradient>
<linearGradient id="g146"><stop offset="0" stop-color="#e6ea6e"/><stop offset="0.16" stop-color="#e8e96c"/><stop offset="0.3" stop-color="#e6ea6e"/><stop offset="0.38" stop-color="#ede768"/><stop offset="0.44" stop-color="#f7d655"/><stop offset="0.5" stop-color="#f19932"/><stop offset="0.56" stop-color="#f8cd4d"/><stop offset="0.62" stop-color="#efe667"/><stop offset="0.7" stop-color="#e6ea6e"/><stop offset="0.84" stop-color="#e6ea6e"/><stop offset="1" stop-color="#e6ea6e"/></linearGradient>
<linearGradient id="g147"><stop offset="0" stop-color="#ebe86a"/><stop offset="0.16" stop-color="#e9e96c"/><stop offset="0.3" stop-color="#e9e96b"/><stop offset="0.38" stop-color="#f3e563"/><stop offset="0.44" stop-color="#f7c84a"/><stop offset="0.5" stop-color="#ee872e"/><stop offset="0.56" stop-color="#f8ca4b"/><stop offset="0.62" stop-color="#efe666"/><stop offset="0.7" stop-color="#e8e96c"/><stop offset="0.84" stop-color="#ede768"/><stop offset="1" stop-color="#eae86b"/></linearGradient>
<linearGradient id="g148"><stop offset="0" stop-color="#e8e96c"/><stop offset="0.16" stop-color="#efe666"/><stop offset="0.3" stop-color="#ece869"/><stop offset="0.38" stop-color="#f4e261"/><stop offset="0.44" stop-color="#f7c749"/><stop offset="0.5" stop-color="#ef8f30"/><stop offset="0.56" stop-color="#f7d453"/><stop offset="0.62" stop-color="#f4e160"/><stop offset="0.7" stop-color="#ede768"/><stop offset="0.84" stop-color="#efe666"/><stop offset="1" stop-color="#eae86a"/></linearGradient>
<linearGradient id="g149"><stop offset="0" stop-color="#e8e96d"/><stop offset="0.16" stop-color="#e6ea6e"/><stop offset="0.3" stop-color="#e6ea6e"/><stop offset="0.38" stop-color="#e9e96b"/><stop offset="0.44" stop-color="#f6d958"/><stop offset="0.5" stop-color="#f4a836"/><stop offset="0.56" stop-color="#f6da59"/><stop offset="0.62" stop-color="#eae86b"/><stop offset="0.7" stop-color="#e6ea6e"/><stop offset="0.84" stop-color="#e6ea6e"/><stop offset="1" stop-color="#e7ea6d"/></linearGradient>
<linearGradient id="g150"><stop offset="0" stop-color="#f0e665"/><stop offset="0.16" stop-color="#ece869"/><stop offset="0.3" stop-color="#efe666"/><stop offset="0.38" stop-color="#f1e565"/><stop offset="0.44" stop-color="#f8ce4e"/><stop offset="0.5" stop-color="#f29d33"/><stop offset="0.56" stop-color="#f8cc4d"/><stop offset="0.62" stop-color="#f4e260"/><stop offset="0.7" stop-color="#eee768"/><stop offset="0.84" stop-color="#ede768"/><stop offset="1" stop-color="#ede768"/></linearGradient>
<linearGradient id="g151"><stop offset="0" stop-color="#e6ea6e"/><stop offset="0.16" stop-color="#ede768"/><stop offset="0.3" stop-color="#e7e96d"/><stop offset="0.38" stop-color="#ebe86a"/><stop offset="0.44" stop-color="#f5de5d"/><stop offset="0.5" stop-color="#f3a335"/><stop offset="0.56" stop-color="#f7d554"/><stop offset="0.62" stop-color="#eae86b"/><stop offset="0.7" stop-color="#e6ea6e"/><stop offset="0.84" stop-color="#ebe86a"/><stop offset="1" stop-color="#e7ea6d"/></linearGradient>
<linearGradient id="g152"><stop offset="0" stop-color="#e6ea6e"/><stop offset="0.16" stop-color="#e6ea6e"/><stop offset="0.3" stop-color="#e6ea6e"/><stop offset="0.38" stop-color="#e8e96c"/><stop offset="0.44" stop-color="#f0e665"/><stop offset="0.5" stop-color="#f3a635"/><stop offset="0.56" stop-color="#f4e260"/><stop offset="0.62" stop-color="#e6ea6e"/><stop offset="0.7" stop-color="#e6ea6e"/><stop offset="0.84" stop-color="#e6ea6e"/><stop offset="1" stop-color="#e6ea6e"/></linearGradient>
<linearGradient id="g153"><stop offset="0" stop-color="#e6ea6e"/><stop offset="0.16" stop-color="#e6ea6e"/><stop offset="0.3" stop-color="#e6ea6e"/><stop offset="0.38" stop-color="#eae86a"/><stop offset="0.44" stop-color="#f5dd5c"/><stop offset="0.5" stop-color="#f5b139"/><stop offset="0.56" stop-color="#f5e15f"/><stop offset="0.62" stop-color="#ebe869"/><stop offset="0.7" stop-color="#e6ea6e"/><stop offset="0.84" stop-color="#e9e96c"/><stop offset="1" stop-color="#eae86b"/></linearGradient>
<linearGradient id="g154"><stop offset="0" stop-color="#e7ea6d"/><stop offset="0.16" stop-color="#eae86a"/><stop offset="0.3" stop-color="#e8e96c"/><stop offset="0.38" stop-color="#e9e96b"/><stop offset="0.44" stop-color="#f5dc5b"/><stop offset="0.5" stop-color="#f3a635"/><stop offset="0.56" stop-color="#f4e462"/><stop offset="0.62" stop-color="#e8e96c"/><stop offset="0.7" stop-color="#e6ea6e"/><stop offset="0.84" stop-color="#e7ea6d"/><stop offset="1" stop-color="#ece869"/></linearGradient>
<linearGradient id="g155"><stop offset="0" stop-color="#f0e666"/><stop offset="0.16" stop-color="#efe666"/><stop offset="0.3" stop-color="#efe666"/><stop offset="0.38" stop-color="#ebe86a"/><stop offset="0.44" stop-color="#f5dc5b"/><stop offset="0.5" stop-color="#f19c33"/><stop offset="0.56" stop-color="#f6d756"/><stop offset="0.62" stop-color="#ede768"/><stop offset="0.7" stop-color="#ece869"/><stop offset="0.84" stop-color="#ede768"/><stop offset="1" stop-color="#ebe86a"/></linearGradient>
<linearGradient id="g156"><stop offset="0" stop-color="#e6ea6e"/><stop offset="0.16" stop-color="#e9e96c"/><stop offset="0.3" stop-color="#e9e96b"/><stop offset="0.38" stop-color="#e7e96d"/><stop offset="0.44" stop-color="#f2e564"/><stop offset="0.5" stop-color="#f3a435"/><stop offset="0.56" stop-color="#f5df5d"/><stop offset="0.62" stop-color="#efe666"/><stop offset="0.7" stop-color="#eae86a"/><stop offset="0.84" stop-color="#ece869"/><stop offset="1" stop-color="#ece769"/></linearGradient>
<linearGradient id="g157"><stop offset="0" stop-color="#e9e96b"/><stop offset="0.16" stop-color="#eee767"/><stop offset="0.3" stop-color="#ebe86a"/><stop offset="0.38" stop-color="#f0e665"/><stop offset="0.44" stop-color="#f5e15f"/><stop offset="0.5" stop-color="#f3a736"/><stop offset="0.56" stop-color="#f6d857"/><stop offset="0.62" stop-color="#f0e666"/><stop offset="0.7" stop-color="#ebe86a"/><stop offset="0.84" stop-color="#ede768"/><stop offset="1" stop-color="#ece769"/></linearGradient>
<linearGradient id="g158"><stop offset="0" stop-color="#ece869"/><stop offset="0.16" stop-color="#ece869"/><stop offset="0.3" stop-color="#efe667"/><stop offset="0.38" stop-color="#ece769"/><stop offset="0.44" stop-color="#f5dd5b"/><stop offset="0.5" stop-color="#f29f34"/><stop offset="0.56" stop-color="#f5de5c"/><stop offset="0.62" stop-color="#ede768"/><stop offset="0.7" stop-color="#ede768"/><stop offset="0.84" stop-color="#eee767"/><stop offset="1" stop-color="#ebe86a"/></linearGradient>
<linearGradient id="g159"><stop offset="0" stop-color="#e6ea6e"/><stop offset="0.16" stop-color="#e6ea6e"/><stop offset="0.3" stop-color="#e6ea6e"/><stop offset="0.38" stop-color="#e6ea6e"/><stop offset="0.44" stop-color="#ede768"/><stop offset="0.5" stop-color="#f7c144"/><stop offset="0.56" stop-color="#f0e666"/><stop offset="0.62" stop-color="#eae86b"/><stop offset="0.7" stop-color="#e6ea6e"/><stop offset="0.84" stop-color="#e6ea6e"/><stop offset="1" stop-color="#e6ea6e"/></linearGradient>
<linearGradient id="g160"><stop offset="0" stop-color="#f4ab37"/><stop offset="0.16" stop-color="#f3a435"/><stop offset="0.3" stop-color="#ec852f"/><stop offset="0.38" stop-color="#d1544c"/><stop offset="0.44" stop-color="#a43173"/><stop offset="0.5" stop-color="#8d297b"/><stop offset="0.56" stop-color="#a93371"/><stop offset="0.62" stop-color="#d85c43"/><stop offset="0.7" stop-color="#ed852f"/><stop offset="0.84" stop-color="#f3a635"/><stop offset="1" stop-color="#f4ad37"/></linearGradient>
<linearGradient id="g161"><stop offset="0" stop-color="#f8cd4d"/><stop offset="0.16" stop-color="#f7bf43"/><stop offset="0.3" stop-color="#f6b73d"/><stop offset="0.38" stop-color="#ee8a2e"/><stop offset="0.44" stop-color="#d55847"/><stop offset="0.5" stop-color="#be4063"/><stop offset="0.56" stop-color="#cc4f52"/><stop offset="0.62" stop-color="#ef8f30"/><stop offset="0.7" stop-color="#f5ae37"/><stop offset="0.84" stop-color="#f8cb4c"/><stop offset="1" stop-color="#f7d151"/></linearGradient>
<linearGradient id="g162"><stop offset="0" stop-color="#f8cd4d"/><stop offset="0.16" stop-color="#f8d050"/><stop offset="0.3" stop-color="#f6be42"/><stop offset="0.38" stop-color="#f2a134"/><stop offset="0.44" stop-color="#df673b"/><stop offset="0.5" stop-color="#cd5051"/><stop offset="0.56" stop-color="#e37137"/><stop offset="0.62" stop-color="#f19732"/><stop offset="0.7" stop-color="#f6b93e"/><stop offset="0.84" stop-color="#f8cf4f"/><stop offset="1" stop-color="#f8cf4f"/></linearGradient>
<linearGradient id="g163"><stop offset="0" stop-color="#f5dd5b"/><stop offset="0.16" stop-color="#f5dd5c"/><stop offset="0.3" stop-color="#f7d352"/><stop offset="0.38" stop-color="#f7c144"/><stop offset="0.44" stop-color="#f19832"/><stop offset="0.5" stop-color="#e0693b"/><stop offset="0.56" stop-color="#f09331"/><stop offset="0.62" stop-color="#f7c245"/><stop offset="0.7" stop-color="#f6d857"/><stop offset="0.84" stop-color="#f6db5a"/><stop offset="1" stop-color="#f5dc5b"/></linearGradient>
<linearGradient id="g164"><stop offset="0" stop-color="#f4e361"/><stop offset="0.16" stop-color="#f6d958"/><stop offset="0.3" stop-color="#f5e05e"/><stop offset="0.38" stop-color="#f8c94b"/><stop offset="0.44" stop-color="#f3a535"/><stop offset="0.5" stop-color="#e57436"/><stop offset="0.56" stop-color="#f29e33"/><stop offset="0.62" stop-color="#f8cc4d"/><stop offset="0.7" stop-color="#f6db59"/><stop offset="0.84" stop-color="#f6da59"/><stop offset="1" stop-color="#f6d958"/></linearGradient>
<linearGradient id="g165"><stop offset="0" stop-color="#f1e565"/><stop offset="0.16" stop-color="#f2e564"/><stop offset="0.3" stop-color="#f3e463"/><stop offset="0.38" stop-color="#f6d958"/><stop offset="0.44" stop-color="#f7c346"/><stop offset="0.5" stop-color="#ee8a2f"/><stop offset="0.56" stop-color="#f7bf43"/><stop offset="0.62" stop-color="#f5de5d"/><stop offset="0.7" stop-color="#f2e564"/><stop offset="0.84" stop-color="#f4e361"/><stop offset="1" stop-color="#f4e261"/></linearGradient>
<linearGradient id="g166"><stop offset="0" stop-color="#efe666"/><stop offset="0.16" stop-color="#ede768"/><stop offset="0.3" stop-color="#eee767"/><stop offset="0.38" stop-color="#f1e565"/><stop offset="0.44" stop-color="#f8ce4e"/><stop offset="0.5" stop-color="#f09231"/><stop offset="0.56" stop-color="#f7d454"/><stop offset="0.62" stop-color="#f5df5d"/><stop offset="0.7" stop-color="#eee667"/><stop offset="0.84" stop-color="#f2e564"/><stop offset="1" stop-color="#f2e564"/></linearGradient>
<linearGradient id="g167"><stop offset="0" stop-color="#f1e565"/><stop offset="0.16" stop-color="#f2e563"/><stop offset="0.3" stop-color="#f5e05e"/><stop offset="0.38" stop-color="#f2e564"/><stop offset="0.44" stop-color="#f7d454"/><stop offset="0.5" stop-color="#ef8d2f"/><stop offset="0.56" stop-color="#f8ce4e"/><stop offset="0.62" stop-color="#f6db5a"/><stop offset="0.7" stop-color="#f4e260"/><stop offset="0.84" stop-color="#f3e462"/><stop offset="1" stop-color="#f5df5d"/></linearGradient>
<linearGradient id="g168"><stop offset="0" stop-color="#efe667"/><stop offset="0.16" stop-color="#f0e665"/><stop offset="0.3" stop-color="#eee767"/><stop offset="0.38" stop-color="#f0e666"/><stop offset="0.44" stop-color="#f6d756"/><stop offset="0.5" stop-color="#f29d33"/><stop offset="0.56" stop-color="#f7d252"/><stop offset="0.62" stop-color="#f3e563"/><stop offset="0.7" stop-color="#efe666"/><stop offset="0.84" stop-color="#ebe86a"/><stop offset="1" stop-color="#eee768"/></linearGradient>
<linearGradient id="g169"><stop offset="0" stop-color="#f8d050"/><stop offset="0.1" stop-color="#f8d04f"/><stop offset="0.2" stop-color="#f7c849"/><stop offset="0.3" stop-color="#f7c648"/><stop offset="0.325" stop-color="#f7d251"/><stop offset="0.345" stop-color="#be7741"/><stop offset="0.4" stop-color="#c47c40"/><stop offset="0.45" stop-color="#d0863c"/><stop offset="0.5" stop-color="#bc7443"/><stop offset="0.55" stop-color="#c17941"/><stop offset="0.6" stop-color="#ca813e"/><stop offset="0.655" stop-color="#b67044"/><stop offset="0.675" stop-color="#f7d555"/><stop offset="0.7" stop-color="#f7c548"/><stop offset="0.8" stop-color="#f8c94a"/><stop offset="0.9" stop-color="#f7d151"/><stop offset="1" stop-color="#f6da59"/></linearGradient>
<linearGradient id="g170"><stop offset="0" stop-color="#f7c849"/><stop offset="0.1" stop-color="#f7c447"/><stop offset="0.2" stop-color="#f7c044"/><stop offset="0.3" stop-color="#f7c346"/><stop offset="0.325" stop-color="#f8cf4f"/><stop offset="0.345" stop-color="#b66f45"/><stop offset="0.4" stop-color="#ba7343"/><stop offset="0.45" stop-color="#c17841"/><stop offset="0.5" stop-color="#c07841"/><stop offset="0.55" stop-color="#b77044"/><stop offset="0.6" stop-color="#b67044"/><stop offset="0.655" stop-color="#c47c40"/><stop offset="0.675" stop-color="#f8ca4b"/><stop offset="0.7" stop-color="#f8d050"/><stop offset="0.8" stop-color="#f7c044"/><stop offset="0.9" stop-color="#f8c94b"/><stop offset="1" stop-color="#f6d756"/></linearGradient>
<linearGradient id="g171"><stop offset="0" stop-color="#f6d756"/><stop offset="0.1" stop-color="#f4e260"/><stop offset="0.2" stop-color="#f6d958"/><stop offset="0.3" stop-color="#f1e564"/><stop offset="0.325" stop-color="#f4e260"/><stop offset="0.345" stop-color="#cb823d"/><stop offset="0.4" stop-color="#c37a40"/><stop offset="0.45" stop-color="#c67d3f"/><stop offset="0.5" stop-color="#b77044"/><stop offset="0.55" stop-color="#c07841"/><stop offset="0.6" stop-color="#c27a41"/><stop offset="0.655" stop-color="#b97243"/><stop offset="0.675" stop-color="#f6da59"/><stop offset="0.7" stop-color="#f5dd5b"/><stop offset="0.8" stop-color="#f7d252"/><stop offset="0.9" stop-color="#f6dc5a"/><stop offset="1" stop-color="#f5df5e"/></linearGradient>
<linearGradient id="g172"><stop offset="0" stop-color="#ede768"/><stop offset="0.1" stop-color="#f4e261"/><stop offset="0.2" stop-color="#ece869"/><stop offset="0.3" stop-color="#ece869"/><stop offset="0.325" stop-color="#ede768"/><stop offset="0.345" stop-color="#c17941"/><stop offset="0.4" stop-color="#ca813e"/><stop offset="0.45" stop-color="#c47c40"/><stop offset="0.5" stop-color="#ca803e"/><stop offset="0.55" stop-color="#b36d45"/><stop offset="0.6" stop-color="#b26b46"/><stop offset="0.655" stop-color="#c8803e"/><stop offset="0.675" stop-color="#efe666"/><stop offset="0.7" stop-color="#f4e362"/><stop offset="0.8" stop-color="#efe666"/><stop offset="0.9" stop-color="#ede768"/><stop offset="1" stop-color="#eee767"/></linearGradient>
<linearGradient id="g173"><stop offset="0" stop-color="#f4e361"/><stop offset="0.1" stop-color="#f0e665"/><stop offset="0.2" stop-color="#ede768"/><stop offset="0.3" stop-color="#eee667"/><stop offset="0.325" stop-color="#ede768"/><stop offset="0.345" stop-color="#b36d45"/><stop offset="0.4" stop-color="#cc833d"/><stop offset="0.45" stop-color="#c37a40"/><stop offset="0.5" stop-color="#ce843d"/><stop offset="0.55" stop-color="#be7741"/><stop offset="0.6" stop-color="#c47c40"/><stop offset="0.655" stop-color="#b87243"/><stop offset="0.675" stop-color="#e8e96c"/><stop offset="0.7" stop-color="#f4e361"/><stop offset="0.8" stop-color="#f4e462"/><stop offset="0.9" stop-color="#ece769"/><stop offset="1" stop-color="#f4e361"/></linearGradient>
<linearGradient id="g174"><stop offset="0" stop-color="#f4e361"/><stop offset="0.1" stop-color="#f5dc5b"/><stop offset="0.2" stop-color="#f7d454"/><stop offset="0.3" stop-color="#f5df5d"/><stop offset="0.325" stop-color="#f7d554"/><stop offset="0.345" stop-color="#b87243"/><stop offset="0.4" stop-color="#bd7642"/><stop offset="0.45" stop-color="#c77e3f"/><stop offset="0.5" stop-color="#b87144"/><stop offset="0.55" stop-color="#ba7343"/><stop offset="0.6" stop-color="#cc823d"/><stop offset="0.655" stop-color="#c07841"/><stop offset="0.675" stop-color="#f6d857"/><stop offset="0.7" stop-color="#f4e462"/><stop offset="0.8" stop-color="#f3e463"/><stop offset="0.9" stop-color="#f4e260"/><stop offset="1" stop-color="#f3e463"/></linearGradient>
<linearGradient id="g175"><stop offset="0" stop-color="#f5e15f"/><stop offset="0.1" stop-color="#f6db5a"/><stop offset="0.2" stop-color="#f4e462"/><stop offset="0.3" stop-color="#f6db5a"/><stop offset="0.325" stop-color="#f5df5d"/><stop offset="0.345" stop-color="#be7642"/><stop offset="0.4" stop-color="#b36d45"/><stop offset="0.45" stop-color="#b56e45"/><stop offset="0.5" stop-color="#ca813e"/><stop offset="0.55" stop-color="#bc7443"/><stop offset="0.6" stop-color="#b87243"/><stop offset="0.655" stop-color="#b77044"/><stop offset="0.675" stop-color="#f5e15f"/><stop offset="0.7" stop-color="#f4e260"/><stop offset="0.8" stop-color="#f2e563"/><stop offset="0.9" stop-color="#f6d958"/><stop offset="1" stop-color="#f5e05e"/></linearGradient>
<linearGradient id="g176"><stop offset="0" stop-color="#f5ad37"/><stop offset="0.16" stop-color="#f4ab37"/><stop offset="0.3" stop-color="#ec8330"/><stop offset="0.38" stop-color="#be4063"/><stop offset="0.44" stop-color="#942c78"/><stop offset="0.5" stop-color="#72217d"/><stop offset="0.56" stop-color="#84267e"/><stop offset="0.62" stop-color="#be4162"/><stop offset="0.7" stop-color="#ed852f"/><stop offset="0.84" stop-color="#f3a636"/><stop offset="1" stop-color="#f4ad37"/></linearGradient>
<linearGradient id="g177"><stop offset="0" stop-color="#f3a736"/><stop offset="0.16" stop-color="#f4a936"/><stop offset="0.3" stop-color="#e67735"/><stop offset="0.38" stop-color="#c74a58"/><stop offset="0.44" stop-color="#952c78"/><stop offset="0.5" stop-color="#73217e"/><stop offset="0.56" stop-color="#972d77"/><stop offset="0.62" stop-color="#c3465c"/><stop offset="0.7" stop-color="#ec852f"/><stop offset="0.84" stop-color="#f19b33"/><stop offset="1" stop-color="#f5ae38"/></linearGradient>
<linearGradient id="g178"><stop offset="0" stop-color="#f6bd42"/><stop offset="0.16" stop-color="#f4ac37"/><stop offset="0.3" stop-color="#f09230"/><stop offset="0.38" stop-color="#cb4e53"/><stop offset="0.44" stop-color="#a13074"/><stop offset="0.5" stop-color="#792282"/><stop offset="0.56" stop-color="#972d77"/><stop offset="0.62" stop-color="#d65a45"/><stop offset="0.7" stop-color="#ed862f"/><stop offset="0.84" stop-color="#f5b038"/><stop offset="1" stop-color="#f6b63d"/></linearGradient>
<linearGradient id="g179"><stop offset="0" stop-color="#f6bb40"/><stop offset="0.16" stop-color="#f5b038"/><stop offset="0.3" stop-color="#f09631"/><stop offset="0.38" stop-color="#db5f3f"/><stop offset="0.44" stop-color="#942b79"/><stop offset="0.5" stop-color="#802480"/><stop offset="0.56" stop-color="#982d77"/><stop offset="0.62" stop-color="#dc603e"/><stop offset="0.7" stop-color="#ef8c2f"/><stop offset="0.84" stop-color="#f5b138"/><stop offset="1" stop-color="#f6b83e"/></linearGradient>
<linearGradient id="g180"><stop offset="0" stop-color="#f7d151"/><stop offset="0.16" stop-color="#f7c547"/><stop offset="0.3" stop-color="#f4aa36"/><stop offset="0.38" stop-color="#e57536"/><stop offset="0.44" stop-color="#a93371"/><stop offset="0.5" stop-color="#8f2a7a"/><stop offset="0.56" stop-color="#b0366e"/><stop offset="0.62" stop-color="#de653c"/><stop offset="0.7" stop-color="#f29f34"/><stop offset="0.84" stop-color="#f6bb40"/><stop offset="1" stop-color="#f7c547"/></linearGradient>
<linearGradient id="g181"><stop offset="0" stop-color="#f6da59"/><stop offset="0.16" stop-color="#f7d655"/><stop offset="0.3" stop-color="#f5b239"/><stop offset="0.38" stop-color="#e87b33"/><stop offset="0.44" stop-color="#bf4162"/><stop offset="0.5" stop-color="#982d77"/><stop offset="0.56" stop-color="#b93b69"/><stop offset="0.62" stop-color="#e87a34"/><stop offset="0.7" stop-color="#f6b93f"/><stop offset="0.84" stop-color="#f8ca4b"/><stop offset="1" stop-color="#f6d958"/></linearGradient>
<linearGradient id="g182"><stop offset="0" stop-color="#f8ce4e"/><stop offset="0.16" stop-color="#f7c84a"/><stop offset="0.3" stop-color="#f2a034"/><stop offset="0.38" stop-color="#e47137"/><stop offset="0.44" stop-color="#b1366e"/><stop offset="0.5" stop-color="#9b2e76"/><stop offset="0.56" stop-color="#bf4161"/><stop offset="0.62" stop-color="#e97c33"/><stop offset="0.7" stop-color="#f5ae38"/><stop offset="0.84" stop-color="#f7c547"/><stop offset="1" stop-color="#f8cb4c"/></linearGradient>
<linearGradient id="g183"><stop offset="0" stop-color="#f3e463"/><stop offset="0.16" stop-color="#f6db5a"/><stop offset="0.3" stop-color="#f8cc4d"/><stop offset="0.38" stop-color="#ef8f30"/><stop offset="0.44" stop-color="#cd5051"/><stop offset="0.5" stop-color="#a23173"/><stop offset="0.56" stop-color="#d35649"/><stop offset="0.62" stop-color="#f19732"/><stop offset="0.7" stop-color="#f7c447"/><stop offset="0.84" stop-color="#f5df5e"/><stop offset="1" stop-color="#f0e665"/></linearGradient>
<linearGradient id="g184"><stop offset="0" stop-color="#f7c749"/><stop offset="0.16" stop-color="#f8c94b"/><stop offset="0.3" stop-color="#f6b83e"/><stop offset="0.38" stop-color="#e87a33"/><stop offset="0.44" stop-color="#be4162"/><stop offset="0.5" stop-color="#a33173"/><stop offset="0.56" stop-color="#c5485a"/><stop offset="0.62" stop-color="#ee892e"/><stop offset="0.7" stop-color="#f4ab37"/><stop offset="0.84" stop-color="#f8cb4b"/><stop offset="1" stop-color="#f7c447"/></linearGradient>
<linearGradient id="g185"><stop offset="0" stop-color="#f6d857"/><stop offset="0.16" stop-color="#f8cb4c"/><stop offset="0.3" stop-color="#f6bc41"/><stop offset="0.38" stop-color="#ee892e"/><stop offset="0.44" stop-color="#c4475b"/><stop offset="0.5" stop-color="#a73371"/><stop offset="0.56" stop-color="#d2554a"/><stop offset="0.62" stop-color="#ed852f"/><stop offset="0.7" stop-color="#f6bb40"/><stop offset="0.84" stop-color="#f7c749"/><stop offset="1" stop-color="#f8d050"/></linearGradient>
<linearGradient id="g186"><stop offset="0" stop-color="#f7d252"/><stop offset="0.16" stop-color="#f7d151"/><stop offset="0.3" stop-color="#f7c145"/><stop offset="0.38" stop-color="#f2a034"/><stop offset="0.44" stop-color="#ce524e"/><stop offset="0.5" stop-color="#ab3470"/><stop offset="0.56" stop-color="#d2554a"/><stop offset="0.62" stop-color="#ef8f30"/><stop offset="0.7" stop-color="#f7c749"/><stop offset="0.84" stop-color="#f8cf4f"/><stop offset="1" stop-color="#f5dd5b"/></linearGradient>
<linearGradient id="g187"><stop offset="0" stop-color="#f6d756"/><stop offset="0.16" stop-color="#f6db5a"/><stop offset="0.3" stop-color="#f7c749"/><stop offset="0.38" stop-color="#f19832"/><stop offset="0.44" stop-color="#d85c43"/><stop offset="0.5" stop-color="#b0366e"/><stop offset="0.56" stop-color="#de643d"/><stop offset="0.62" stop-color="#f4aa37"/><stop offset="0.7" stop-color="#f8ca4b"/><stop offset="0.84" stop-color="#f6d958"/><stop offset="1" stop-color="#f5df5d"/></linearGradient>
<linearGradient id="g188"><stop offset="0" stop-color="#ede768"/><stop offset="0.16" stop-color="#f4e462"/><stop offset="0.3" stop-color="#f7d655"/><stop offset="0.38" stop-color="#f6bb40"/><stop offset="0.44" stop-color="#e67735"/><stop offset="0.5" stop-color="#c04360"/><stop offset="0.56" stop-color="#e57336"/><stop offset="0.62" stop-color="#f5b038"/><stop offset="0.7" stop-color="#f6da59"/><stop offset="0.84" stop-color="#f0e665"/><stop offset="1" stop-color="#f4e462"/></linearGradient>
<linearGradient id="g189"><stop offset="0" stop-color="#ece769"/><stop offset="0.16" stop-color="#ebe869"/><stop offset="0.3" stop-color="#f5dd5b"/><stop offset="0.38" stop-color="#f7c245"/><stop offset="0.44" stop-color="#e77934"/><stop offset="0.5" stop-color="#d0534d"/><stop offset="0.56" stop-color="#e87b33"/><stop offset="0.62" stop-color="#f7c145"/><stop offset="0.7" stop-color="#f4e260"/><stop offset="0.84" stop-color="#efe666"/><stop offset="1" stop-color="#eee667"/></linearGradient>
<linearGradient id="g190"><stop offset="0" stop-color="#e8e96c"/><stop offset="0.16" stop-color="#e9e96b"/><stop offset="0.3" stop-color="#f1e565"/><stop offset="0.38" stop-color="#f8d150"/><stop offset="0.44" stop-color="#ef8c2f"/><stop offset="0.5" stop-color="#d55946"/><stop offset="0.56" stop-color="#ec8330"/><stop offset="0.62" stop-color="#f8cb4c"/><stop offset="0.7" stop-color="#f0e666"/><stop offset="0.84" stop-color="#e9e96b"/><stop offset="1" stop-color="#e9e96b"/></linearGradient>
<linearGradient id="g191"><stop offset="0" stop-color="#eae86a"/><stop offset="0.16" stop-color="#eae86a"/><stop offset="0.3" stop-color="#f1e564"/><stop offset="0.38" stop-color="#f7c044"/><stop offset="0.44" stop-color="#ec8330"/><stop offset="0.5" stop-color="#d75b44"/><stop offset="0.56" stop-color="#ec8330"/><stop offset="0.62" stop-color="#f7c044"/><stop offset="0.7" stop-color="#f5e15f"/><stop offset="0.84" stop-color="#ebe86a"/><stop offset="1" stop-color="#ede768"/></linearGradient>
<linearGradient id="g192"><stop offset="0" stop-color="#ebe86a"/><stop offset="0.16" stop-color="#efe667"/><stop offset="0.3" stop-color="#f1e565"/><stop offset="0.38" stop-color="#f7c447"/><stop offset="0.44" stop-color="#ee8a2f"/><stop offset="0.5" stop-color="#d1544c"/><stop offset="0.56" stop-color="#ec842f"/><stop offset="0.62" stop-color="#f7c94a"/><stop offset="0.7" stop-color="#f3e563"/><stop offset="0.84" stop-color="#ece769"/><stop offset="1" stop-color="#eae86a"/></linearGradient>
<linearGradient id="g193"><stop offset="0" stop-color="#e8e96d"/><stop offset="0.16" stop-color="#e9e96c"/><stop offset="0.3" stop-color="#eae86a"/><stop offset="0.38" stop-color="#f5df5d"/><stop offset="0.44" stop-color="#f29e33"/><stop offset="0.5" stop-color="#db5e40"/><stop offset="0.56" stop-color="#f19832"/><stop offset="0.62" stop-color="#f5df5d"/><stop offset="0.7" stop-color="#efe667"/><stop offset="0.84" stop-color="#e9e96c"/><stop offset="1" stop-color="#e7e96d"/></linearGradient>
<linearGradient id="g194"><stop offset="0" stop-color="#e7ea6d"/><stop offset="0.16" stop-color="#ede768"/><stop offset="0.3" stop-color="#eee667"/><stop offset="0.38" stop-color="#f6d858"/><stop offset="0.44" stop-color="#f29e33"/><stop offset="0.5" stop-color="#df663b"/><stop offset="0.56" stop-color="#f19832"/><stop offset="0.62" stop-color="#f6da59"/><stop offset="0.7" stop-color="#ece869"/><stop offset="0.84" stop-color="#ebe86a"/><stop offset="1" stop-color="#ebe86a"/></linearGradient>
<linearGradient id="g195"><stop offset="0" stop-color="#f4e462"/><stop offset="0.16" stop-color="#f4e160"/><stop offset="0.3" stop-color="#f6da59"/><stop offset="0.38" stop-color="#f8ce4e"/><stop offset="0.44" stop-color="#f19732"/><stop offset="0.5" stop-color="#de643c"/><stop offset="0.56" stop-color="#f19b33"/><stop offset="0.62" stop-color="#f8cd4d"/><stop offset="0.7" stop-color="#f3e463"/><stop offset="0.84" stop-color="#f4e462"/><stop offset="1" stop-color="#efe666"/></linearGradient>
<linearGradient id="g196"><stop offset="0" stop-color="#efe666"/><stop offset="0.16" stop-color="#e7e96d"/><stop offset="0.3" stop-color="#ebe86a"/><stop offset="0.38" stop-color="#f6dc5a"/><stop offset="0.44" stop-color="#f5b038"/><stop offset="0.5" stop-color="#df673b"/><stop offset="0.56" stop-color="#f5b33a"/><stop offset="0.62" stop-color="#f7d655"/><stop offset="0.7" stop-color="#f2e564"/><stop offset="0.84" stop-color="#ede768"/><stop offset="1" stop-color="#eae86b"/></linearGradient>
<linearGradient id="g197"><stop offset="0" stop-color="#e9e96c"/><stop offset="0.16" stop-color="#e8e96d"/><stop offset="0.3" stop-color="#ebe86a"/><stop offset="0.38" stop-color="#f4e462"/><stop offset="0.44" stop-color="#f6b53c"/><stop offset="0.5" stop-color="#e47137"/><stop offset="0.56" stop-color="#f5af38"/><stop offset="0.62" stop-color="#f5dc5b"/><stop offset="0.7" stop-color="#e8e96c"/><stop offset="0.84" stop-color="#e6ea6e"/><stop offset="1" stop-color="#e7ea6d"/></linearGradient>
<linearGradient id="g198"><stop offset="0" stop-color="#eae86a"/><stop offset="0.16" stop-color="#e9e96b"/><stop offset="0.3" stop-color="#ebe86a"/><stop offset="0.38" stop-color="#f5e05e"/><stop offset="0.44" stop-color="#f5b33a"/><stop offset="0.5" stop-color="#e0693a"/><stop offset="0.56" stop-color="#f4ab37"/><stop offset="0.62" stop-color="#f6d958"/><stop offset="0.7" stop-color="#f3e463"/><stop offset="0.84" stop-color="#f0e666"/><stop offset="1" stop-color="#ede768"/></linearGradient>
<linearGradient id="g199"><stop offset="0" stop-color="#ece869"/><stop offset="0.16" stop-color="#f1e565"/><stop offset="0.3" stop-color="#f3e563"/><stop offset="0.38" stop-color="#f5dd5c"/><stop offset="0.44" stop-color="#f5b139"/><stop offset="0.5" stop-color="#e0683b"/><stop offset="0.56" stop-color="#f5b23a"/><stop offset="0.62" stop-color="#f6d857"/><stop offset="0.7" stop-color="#f0e665"/><stop offset="0.84" stop-color="#eee767"/><stop offset="1" stop-color="#f3e563"/></linearGradient>
<linearGradient id="g200"><stop offset="0" stop-color="#e6ea6e"/><stop offset="0.16" stop-color="#e6ea6e"/><stop offset="0.3" stop-color="#e6ea6e"/><stop offset="0.38" stop-color="#e9e96b"/><stop offset="0.44" stop-color="#f7c849"/><stop offset="0.5" stop-color="#ee8b2f"/><stop offset="0.56" stop-color="#f7c94a"/><stop offset="0.62" stop-color="#ece769"/><stop offset="0.7" stop-color="#e6ea6e"/><stop offset="0.84" stop-color="#e6ea6e"/><stop offset="1" stop-color="#e6ea6e"/></linearGradient>
<linearGradient id="g201"><stop offset="0" stop-color="#e6ea6e"/><stop offset="0.16" stop-color="#e7e96d"/><stop offset="0.3" stop-color="#e6ea6e"/><stop offset="0.38" stop-color="#eae86b"/><stop offset="0.44" stop-color="#f7c749"/><stop offset="0.5" stop-color="#ef9030"/><stop offset="0.56" stop-color="#f7d352"/><stop offset="0.62" stop-color="#ede768"/><stop offset="0.7" stop-color="#e6ea6e"/><stop offset="0.84" stop-color="#e6ea6e"/><stop offset="1" stop-color="#e6ea6e"/></linearGradient>
<linearGradient id="g202"><stop offset="0" stop-color="#e6ea6e"/><stop offset="0.16" stop-color="#e6ea6e"/><stop offset="0.3" stop-color="#e7ea6d"/><stop offset="0.38" stop-color="#eee667"/><stop offset="0.44" stop-color="#f7d454"/><stop offset="0.5" stop-color="#ef8e30"/><stop offset="0.56" stop-color="#f7d454"/><stop offset="0.62" stop-color="#ede768"/><stop offset="0.7" stop-color="#eae86b"/><stop offset="0.84" stop-color="#e6ea6e"/><stop offset="1" stop-color="#e7e96d"/></linearGradient>
<linearGradient id="g203"><stop offset="0" stop-color="#eae86b"/><stop offset="0.16" stop-color="#f1e564"/><stop offset="0.3" stop-color="#f0e665"/><stop offset="0.38" stop-color="#f1e565"/><stop offset="0.44" stop-color="#f7c144"/><stop offset="0.5" stop-color="#ed872e"/><stop offset="0.56" stop-color="#f8cc4c"/><stop offset="0.62" stop-color="#f5dd5c"/><stop offset="0.7" stop-color="#efe667"/><stop offset="0.84" stop-color="#f0e666"/><stop offset="1" stop-color="#eae86b"/></linearGradient>
<linearGradient id="g204"><stop offset="0" stop-color="#e9e96b"/><stop offset="0.16" stop-color="#ebe86a"/><stop offset="0.3" stop-color="#ede768"/><stop offset="0.38" stop-color="#efe666"/><stop offset="0.44" stop-color="#f7c84a"/><stop offset="0.5" stop-color="#ef8e30"/><stop offset="0.56" stop-color="#f8cd4d"/><stop offset="0.62" stop-color="#f4e260"/><stop offset="0.7" stop-color="#ede768"/><stop offset="0.84" stop-color="#f1e565"/><stop offset="1" stop-color="#eee667"/></linearGradient>
<linearGradient id="g205"><stop offset="0" stop-color="#efe666"/><stop offset="0.16" stop-color="#f2e564"/><stop offset="0.3" stop-color="#f2e564"/><stop offset="0.38" stop-color="#f1e565"/><stop offset="0.44" stop-color="#f7c749"/><stop offset="0.5" stop-color="#ef8d2f"/><stop offset="0.56" stop-color="#f7c749"/><stop offset="0.62" stop-color="#f4e260"/><stop offset="0.7" stop-color="#f2e564"/><stop offset="0.84" stop-color="#ebe86a"/><stop offset="1" stop-color="#ede768"/></linearGradient>
<linearGradient id="g206"><stop offset="0" stop-color="#f0e665"/><stop offset="0.16" stop-color="#eee667"/><stop offset="0.3" stop-color="#e9e96c"/><stop offset="0.38" stop-color="#f2e564"/><stop offset="0.44" stop-color="#f6d756"/><stop offset="0.5" stop-color="#ef9030"/><stop offset="0.56" stop-color="#f8cd4d"/><stop offset="0.62" stop-color="#eee767"/><stop offset="0.7" stop-color="#f0e665"/><stop offset="0.84" stop-color="#eee767"/><stop offset="1" stop-color="#eae86a"/></linearGradient>
<linearGradient id="g207"><stop offset="0" stop-color="#e6ea6e"/><stop offset="0.16" stop-color="#e8e96c"/><stop offset="0.3" stop-color="#e6ea6e"/><stop offset="0.38" stop-color="#e6ea6e"/><stop offset="0.44" stop-color="#f3e463"/><stop offset="0.5" stop-color="#f4a936"/><stop offset="0.56" stop-color="#f6da59"/><stop offset="0.62" stop-color="#e7ea6d"/><stop offset="0.7" stop-color="#e6ea6e"/><stop offset="0.84" stop-color="#e6ea6e"/><stop offset="1" stop-color="#e7ea6e"/></linearGradient>
<linearGradient id="g208"><stop offset="0" stop-color="#e6ea6e"/><stop offset="0.16" stop-color="#ebe86a"/><stop offset="0.3" stop-color="#e8e96c"/><stop offset="0.38" stop-color="#ede768"/><stop offset="0.44" stop-color="#f6d958"/><stop offset="0.5" stop-color="#f19832"/><stop offset="0.56" stop-color="#f4e462"/><stop offset="0.62" stop-color="#eae86b"/><stop offset="0.7" stop-color="#e6ea6e"/><stop offset="0.84" stop-color="#e7e96d"/><stop offset="1" stop-color="#ebe86a"/></linearGradient>
<linearGradient id="g209"><stop offset="0" stop-color="#e9e96c"/><stop offset="0.16" stop-color="#eae86b"/><stop offset="0.3" stop-color="#f0e666"/><stop offset="0.38" stop-color="#f2e564"/><stop offset="0.44" stop-color="#f6d958"/><stop offset="0.5" stop-color="#f19b33"/><stop offset="0.56" stop-color="#f5dc5b"/><stop offset="0.62" stop-color="#f3e463"/><stop offset="0.7" stop-color="#ece769"/><stop offset="0.84" stop-color="#f0e665"/><stop offset="1" stop-color="#eee767"/></linearGradient>
<linearGradient id="g210"><stop offset="0" stop-color="#e6ea6e"/><stop offset="0.16" stop-color="#e6ea6e"/><stop offset="0.3" stop-color="#e7e96d"/><stop offset="0.38" stop-color="#e7e96d"/><stop offset="0.44" stop-color="#eee667"/><stop offset="0.5" stop-color="#f5b43b"/><stop offset="0.56" stop-color="#f1e565"/><stop offset="0.62" stop-color="#e6ea6e"/><stop offset="0.7" stop-color="#e6ea6e"/><stop offset="0.84" stop-color="#e6ea6e"/><stop offset="1" stop-color="#e6ea6e"/></linearGradient>
<linearGradient id="g211"><stop offset="0" stop-color="#e6ea6e"/><stop offset="0.16" stop-color="#e6ea6e"/><stop offset="0.3" stop-color="#e6ea6e"/><stop offset="0.38" stop-color="#e6ea6e"/><stop offset="0.44" stop-color="#f4e361"/><stop offset="0.5" stop-color="#f6ba3f"/><stop offset="0.56" stop-color="#ede768"/><stop offset="0.62" stop-color="#e7e96d"/><stop offset="0.7" stop-color="#e6ea6e"/><stop offset="0.84" stop-color="#e6ea6e"/><stop offset="1" stop-color="#e6ea6e"/></linearGradient>
<linearGradient id="g212"><stop offset="0" stop-color="#e7ea6d"/><stop offset="0.16" stop-color="#e6ea6e"/><stop offset="0.3" stop-color="#eae86a"/><stop offset="0.38" stop-color="#ede768"/><stop offset="0.44" stop-color="#eee667"/><stop offset="0.5" stop-color="#f5ae38"/><stop offset="0.56" stop-color="#f4e361"/><stop offset="0.62" stop-color="#ece869"/><stop offset="0.7" stop-color="#e9e96c"/><stop offset="0.84" stop-color="#e7e96d"/><stop offset="1" stop-color="#e7e96d"/></linearGradient>
<linearGradient id="g213"><stop offset="0" stop-color="#e6ea6e"/><stop offset="0.16" stop-color="#eae86b"/><stop offset="0.3" stop-color="#ebe86a"/><stop offset="0.38" stop-color="#ede768"/><stop offset="0.44" stop-color="#f4e361"/><stop offset="0.5" stop-color="#f5b33a"/><stop offset="0.56" stop-color="#f4e260"/><stop offset="0.62" stop-color="#ece869"/><stop offset="0.7" stop-color="#e8e96d"/><stop offset="0.84" stop-color="#e9e96c"/><stop offset="1" stop-color="#e6ea6e"/></linearGradient>
<linearGradient id="g214"><stop offset="0" stop-color="#e9e96c"/><stop offset="0.16" stop-color="#e6ea6e"/><stop offset="0.3" stop-color="#e8e96c"/><stop offset="0.38" stop-color="#eae86b"/><stop offset="0.44" stop-color="#f5dd5b"/><stop offset="0.5" stop-color="#f5ae37"/><stop offset="0.56" stop-color="#f3e463"/><stop offset="0.62" stop-color="#e9e96b"/><stop offset="0.7" stop-color="#e7e96d"/><stop offset="0.84" stop-color="#e8e96c"/><stop offset="1" stop-color="#e6ea6e"/></linearGradient>
<linearGradient id="g215"><stop offset="0" stop-color="#e7ea6d"/><stop offset="0.16" stop-color="#e6ea6e"/><stop offset="0.3" stop-color="#e6ea6e"/><stop offset="0.38" stop-color="#e6ea6e"/><stop offset="0.44" stop-color="#ede768"/><stop offset="0.5" stop-color="#f7bf43"/><stop offset="0.56" stop-color="#ebe86a"/><stop offset="0.62" stop-color="#e6ea6e"/><stop offset="0.7" stop-color="#e6ea6e"/><stop offset="0.84" stop-color="#e6ea6e"/><stop offset="1" stop-color="#e6ea6e"/></linearGradient>
<linearGradient id="g216"><stop offset="0" stop-color="#f29d33"/><stop offset="0.16" stop-color="#ed862f"/><stop offset="0.3" stop-color="#e26d39"/><stop offset="0.38" stop-color="#c4465b"/><stop offset="0.44" stop-color="#8c297b"/><stop offset="0.5" stop-color="#691f79"/><stop offset="0.56" stop-color="#7a2282"/><stop offset="0.62" stop-color="#be4162"/><stop offset="0.7" stop-color="#e06a3a"/><stop offset="0.84" stop-color="#ef9030"/><stop offset="1" stop-color="#f09231"/></linearGradient>
<linearGradient id="g217"><stop offset="0" stop-color="#f7c849"/><stop offset="0.16" stop-color="#f6bb40"/><stop offset="0.3" stop-color="#f5b23a"/><stop offset="0.38" stop-color="#ee892e"/><stop offset="0.44" stop-color="#d65946"/><stop offset="0.5" stop-color="#b7396b"/><stop offset="0.56" stop-color="#d1544b"/><stop offset="0.62" stop-color="#eb8031"/><stop offset="0.7" stop-color="#f5b33a"/><stop offset="0.84" stop-color="#f7c346"/><stop offset="1" stop-color="#f8cc4d"/></linearGradient>
<linearGradient id="g218"><stop offset="0" stop-color="#f8c94b"/><stop offset="0.16" stop-color="#f8ca4b"/><stop offset="0.3" stop-color="#f7c447"/><stop offset="0.38" stop-color="#f29d33"/><stop offset="0.44" stop-color="#dd623d"/><stop offset="0.5" stop-color="#c2455d"/><stop offset="0.56" stop-color="#e57436"/><stop offset="0.62" stop-color="#f19b33"/><stop offset="0.7" stop-color="#f6b93e"/><stop offset="0.84" stop-color="#f8cf4f"/><stop offset="1" stop-color="#f7d453"/></linearGradient>
<linearGradient id="g219"><stop offset="0" stop-color="#f5e05e"/><stop offset="0.16" stop-color="#f6db5a"/><stop offset="0.3" stop-color="#f6d756"/><stop offset="0.38" stop-color="#f7c043"/><stop offset="0.44" stop-color="#f29d33"/><stop offset="0.5" stop-color="#e26e38"/><stop offset="0.56" stop-color="#f09231"/><stop offset="0.62" stop-color="#f7c447"/><stop offset="0.7" stop-color="#f6da59"/><stop offset="0.84" stop-color="#f5de5c"/><stop offset="1" stop-color="#f4e361"/></linearGradient>
<linearGradient id="g220"><stop offset="0" stop-color="#efe666"/><stop offset="0.16" stop-color="#ece769"/><stop offset="0.3" stop-color="#f4e462"/><stop offset="0.38" stop-color="#f5dc5b"/><stop offset="0.44" stop-color="#f6b63c"/><stop offset="0.5" stop-color="#ea8031"/><stop offset="0.56" stop-color="#f6ba3f"/><stop offset="0.62" stop-color="#f6da59"/><stop offset="0.7" stop-color="#eee667"/><stop offset="0.84" stop-color="#f4e462"/><stop offset="1" stop-color="#f1e565"/></linearGradient>
<linearGradient id="g221"><stop offset="0" stop-color="#f3e563"/><stop offset="0.16" stop-color="#f5df5d"/><stop offset="0.3" stop-color="#f6db5a"/><stop offset="0.38" stop-color="#f6d857"/><stop offset="0.44" stop-color="#f6bd42"/><stop offset="0.5" stop-color="#eb8131"/><stop offset="0.56" stop-color="#f6bc41"/><stop offset="0.62" stop-color="#f7d251"/><stop offset="0.7" stop-color="#f4e462"/><stop offset="0.84" stop-color="#f5dc5b"/><stop offset="1" stop-color="#f4e160"/></linearGradient>
<linearGradient id="g222"><stop offset="0" stop-color="#f1e565"/><stop offset="0.16" stop-color="#f1e565"/><stop offset="0.3" stop-color="#f2e564"/><stop offset="0.38" stop-color="#f4e160"/><stop offset="0.44" stop-color="#f8cf4f"/><stop offset="0.5" stop-color="#ee892e"/><stop offset="0.56" stop-color="#f8d050"/><stop offset="0.62" stop-color="#f5e05e"/><stop offset="0.7" stop-color="#f3e463"/><stop offset="0.84" stop-color="#f3e563"/><stop offset="1" stop-color="#eee667"/></linearGradient>
<linearGradient id="g223"><stop offset="0" stop-color="#f5e15f"/><stop offset="0.16" stop-color="#f1e564"/><stop offset="0.3" stop-color="#f0e665"/><stop offset="0.38" stop-color="#f4e260"/><stop offset="0.44" stop-color="#f7c94a"/><stop offset="0.5" stop-color="#f09531"/><stop offset="0.56" stop-color="#f6d656"/><stop offset="0.62" stop-color="#f4e361"/><stop offset="0.7" stop-color="#f3e463"/><stop offset="0.84" stop-color="#f4e462"/><stop offset="1" stop-color="#f1e565"/></linearGradient>
<linearGradient id="g224"><stop offset="0" stop-color="#f1e564"/><stop offset="0.16" stop-color="#f5e15f"/><stop offset="0.3" stop-color="#f0e665"/><stop offset="0.38" stop-color="#f2e564"/><stop offset="0.44" stop-color="#f7d454"/><stop offset="0.5" stop-color="#f09331"/><stop offset="0.56" stop-color="#f8cf4f"/><stop offset="0.62" stop-color="#f5e05e"/><stop offset="0.7" stop-color="#f1e565"/><stop offset="0.84" stop-color="#f5de5d"/><stop offset="1" stop-color="#f3e563"/></linearGradient>
<linearGradient id="g225"><stop offset="0" stop-color="#f5de5c"/><stop offset="0.1" stop-color="#f7d251"/><stop offset="0.2" stop-color="#f8cd4e"/><stop offset="0.3" stop-color="#f5de5d"/><stop offset="0.325" stop-color="#f5e15f"/><stop offset="0.345" stop-color="#ca813e"/><stop offset="0.4" stop-color="#ba7343"/><stop offset="0.45" stop-color="#d0863c"/><stop offset="0.5" stop-color="#c27a42"/><stop offset="0.55" stop-color="#c57d40"/><stop offset="0.6" stop-color="#bd7643"/><stop offset="0.655" stop-color="#ca813e"/><stop offset="0.675" stop-color="#f6d857"/><stop offset="0.7" stop-color="#f6db59"/><stop offset="0.8" stop-color="#f8ce4e"/><stop offset="0.9" stop-color="#f5df5e"/><stop offset="1" stop-color="#f7d251"/></linearGradient>
<linearGradient id="g226"><stop offset="0" stop-color="#f5dc5b"/><stop offset="0.1" stop-color="#f4e160"/><stop offset="0.2" stop-color="#f6d756"/><stop offset="0.3" stop-color="#f1e565"/><stop offset="0.325" stop-color="#f5de5c"/><stop offset="0.345" stop-color="#bf7742"/><stop offset="0.4" stop-color="#ce843d"/><stop offset="0.45" stop-color="#ce853d"/><stop offset="0.5" stop-color="#c57d40"/><stop offset="0.55" stop-color="#b97344"/><stop offset="0.6" stop-color="#ba7343"/><stop offset="0.655" stop-color="#ba7343"/><stop offset="0.675" stop-color="#f5e15f"/><stop offset="0.7" stop-color="#f3e463"/><stop offset="0.8" stop-color="#f3e563"/><stop offset="0.9" stop-color="#f6da59"/><stop offset="1" stop-color="#f5dc5b"/></linearGradient>
<linearGradient id="g227"><stop offset="0" stop-color="#f7d554"/><stop offset="0.1" stop-color="#f3e563"/><stop offset="0.2" stop-color="#f5de5d"/><stop offset="0.3" stop-color="#f2e564"/><stop offset="0.325" stop-color="#f6d857"/><stop offset="0.345" stop-color="#cc833e"/><stop offset="0.4" stop-color="#ba7443"/><stop offset="0.45" stop-color="#c9803f"/><stop offset="0.5" stop-color="#cb823e"/><stop offset="0.55" stop-color="#bb7443"/><stop offset="0.6" stop-color="#bc7543"/><stop offset="0.655" stop-color="#c17942"/><stop offset="0.675" stop-color="#f6d756"/><stop offset="0.7" stop-color="#f2e564"/><stop offset="0.8" stop-color="#f5dc5b"/><stop offset="0.9" stop-color="#f5de5c"/><stop offset="1" stop-color="#f5e15f"/></linearGradient>
<linearGradient id="g228"><stop offset="0" stop-color="#f7d655"/><stop offset="0.1" stop-color="#f4e462"/><stop offset="0.2" stop-color="#f7d655"/><stop offset="0.3" stop-color="#f5e15f"/><stop offset="0.325" stop-color="#f6d857"/><stop offset="0.345" stop-color="#cc833e"/><stop offset="0.4" stop-color="#b87144"/><stop offset="0.45" stop-color="#cc833e"/><stop offset="0.5" stop-color="#d0863c"/><stop offset="0.55" stop-color="#bc7443"/><stop offset="0.6" stop-color="#b36d46"/><stop offset="0.655" stop-color="#b66f45"/><stop offset="0.675" stop-color="#f7d453"/><stop offset="0.7" stop-color="#f1e565"/><stop offset="0.8" stop-color="#f7d554"/><stop offset="0.9" stop-color="#f3e463"/><stop offset="1" stop-color="#f6d958"/></linearGradient>
<linearGradient id="g229"><stop offset="0" stop-color="#eae86a"/><stop offset="0.1" stop-color="#f1e564"/><stop offset="0.2" stop-color="#e9e96b"/><stop offset="0.3" stop-color="#ede768"/><stop offset="0.325" stop-color="#f4e361"/><stop offset="0.345" stop-color="#c87f3f"/><stop offset="0.4" stop-color="#cd833e"/><stop offset="0.45" stop-color="#d0863c"/><stop offset="0.5" stop-color="#b46d46"/><stop offset="0.55" stop-color="#ba7343"/><stop offset="0.6" stop-color="#ca813e"/><stop offset="0.655" stop-color="#c77f40"/><stop offset="0.675" stop-color="#e8e96c"/><stop offset="0.7" stop-color="#efe666"/><stop offset="0.8" stop-color="#ebe86a"/><stop offset="0.9" stop-color="#eee767"/><stop offset="1" stop-color="#e9e96b"/></linearGradient>
<linearGradient id="g230"><stop offset="0" stop-color="#f3e463"/><stop offset="0.1" stop-color="#eae86b"/><stop offset="0.2" stop-color="#f2e564"/><stop offset="0.3" stop-color="#e7ea6d"/><stop offset="0.325" stop-color="#ece769"/><stop offset="0.345" stop-color="#b77045"/><stop offset="0.4" stop-color="#c07842"/><stop offset="0.45" stop-color="#b87144"/><stop offset="0.5" stop-color="#c77e40"/><stop offset="0.55" stop-color="#b77145"/><stop offset="0.6" stop-color="#c9803f"/><stop offset="0.655" stop-color="#c27a41"/><stop offset="0.675" stop-color="#e7ea6d"/><stop offset="0.7" stop-color="#eae86a"/><stop offset="0.8" stop-color="#ece769"/><stop offset="0.9" stop-color="#f2e564"/><stop offset="1" stop-color="#eae86a"/></linearGradient>
<linearGradient id="g231"><stop offset="0" stop-color="#f4e361"/><stop offset="0.1" stop-color="#f4e462"/><stop offset="0.2" stop-color="#f2e564"/><stop offset="0.3" stop-color="#ebe86a"/><stop offset="0.325" stop-color="#eae86b"/><stop offset="0.345" stop-color="#ba7443"/><stop offset="0.4" stop-color="#b56f45"/><stop offset="0.45" stop-color="#b46e45"/><stop offset="0.5" stop-color="#c27a41"/><stop offset="0.55" stop-color="#bf7742"/><stop offset="0.6" stop-color="#c37b41"/><stop offset="0.655" stop-color="#be7643"/><stop offset="0.675" stop-color="#e7e96d"/><stop offset="0.7" stop-color="#f1e565"/><stop offset="0.8" stop-color="#f0e665"/><stop offset="0.9" stop-color="#efe666"/><stop offset="1" stop-color="#efe666"/></linearGradient>
<linearGradient id="g232"><stop offset="0" stop-color="#ef8c2f"/><stop offset="0.16" stop-color="#eb8131"/><stop offset="0.3" stop-color="#dd633d"/><stop offset="0.38" stop-color="#b6386c"/><stop offset="0.44" stop-color="#83257f"/><stop offset="0.5" stop-color="#691f78"/><stop offset="0.56" stop-color="#74217f"/><stop offset="0.62" stop-color="#b6386c"/><stop offset="0.7" stop-color="#e06a3a"/><stop offset="0.84" stop-color="#ee8b2f"/><stop offset="1" stop-color="#f29c33"/></linearGradient>
<linearGradient id="g233"><stop offset="0" stop-color="#f19932"/><stop offset="0.16" stop-color="#eb8230"/><stop offset="0.3" stop-color="#d95d42"/><stop offset="0.38" stop-color="#b83b69"/><stop offset="0.44" stop-color="#7c2381"/><stop offset="0.5" stop-color="#691f78"/><stop offset="0.56" stop-color="#84267e"/><stop offset="0.62" stop-color="#b93c68"/><stop offset="0.7" stop-color="#e26d39"/><stop offset="0.84" stop-color="#e97e32"/><stop offset="1" stop-color="#ee8a2f"/></linearGradient>
<linearGradient id="g234"><stop offset="0" stop-color="#f4a836"/><stop offset="0.16" stop-color="#ef9030"/><stop offset="0.3" stop-color="#e77834"/><stop offset="0.38" stop-color="#be4162"/><stop offset="0.44" stop-color="#8a287c"/><stop offset="0.5" stop-color="#74217e"/><stop offset="0.56" stop-color="#802480"/><stop offset="0.62" stop-color="#cb4e53"/><stop offset="0.7" stop-color="#e37038"/><stop offset="0.84" stop-color="#ef8d2f"/><stop offset="1" stop-color="#f29f34"/></linearGradient>
<linearGradient id="g235"><stop offset="0" stop-color="#f5af38"/><stop offset="0.16" stop-color="#f5b33a"/><stop offset="0.3" stop-color="#ef8c2f"/><stop offset="0.38" stop-color="#d2554a"/><stop offset="0.44" stop-color="#a13074"/><stop offset="0.5" stop-color="#7a2282"/><stop offset="0.56" stop-color="#a13074"/><stop offset="0.62" stop-color="#d65a45"/><stop offset="0.7" stop-color="#ef8c2f"/><stop offset="0.84" stop-color="#f4aa37"/><stop offset="1" stop-color="#f6ba40"/></linearGradient>
<linearGradient id="g236"><stop offset="0" stop-color="#f6bc41"/><stop offset="0.16" stop-color="#f6b93f"/><stop offset="0.3" stop-color="#f09531"/><stop offset="0.38" stop-color="#e0683b"/><stop offset="0.44" stop-color="#9d2f75"/><stop offset="0.5" stop-color="#86267e"/><stop offset="0.56" stop-color="#a23173"/><stop offset="0.62" stop-color="#dd633d"/><stop offset="0.7" stop-color="#f19732"/><stop offset="0.84" stop-color="#f6b93f"/><stop offset="1" stop-color="#f7c346"/></linearGradient>
<linearGradient id="g237"><stop offset="0" stop-color="#f6b73d"/><stop offset="0.16" stop-color="#f5af38"/><stop offset="0.3" stop-color="#f09331"/><stop offset="0.38" stop-color="#d95c42"/><stop offset="0.44" stop-color="#ac3470"/><stop offset="0.5" stop-color="#8c297b"/><stop offset="0.56" stop-color="#9f3074"/><stop offset="0.62" stop-color="#dd633d"/><stop offset="0.7" stop-color="#ef9030"/><stop offset="0.84" stop-color="#f4a936"/><stop offset="1" stop-color="#f5b138"/></linearGradient>
<linearGradient id="g238"><stop offset="0" stop-color="#f7c749"/><stop offset="0.16" stop-color="#f6bb40"/><stop offset="0.3" stop-color="#f19932"/><stop offset="0.38" stop-color="#e0683b"/><stop offset="0.44" stop-color="#ba3c68"/><stop offset="0.5" stop-color="#952c78"/><stop offset="0.56" stop-color="#b7396b"/><stop offset="0.62" stop-color="#e67735"/><stop offset="0.7" stop-color="#f3a234"/><stop offset="0.84" stop-color="#f5b43b"/><stop offset="1" stop-color="#f7bf43"/></linearGradient>
<linearGradient id="g239"><stop offset="0" stop-color="#f6db5a"/><stop offset="0.16" stop-color="#f7d151"/><stop offset="0.3" stop-color="#f5b038"/><stop offset="0.38" stop-color="#ec8430"/><stop offset="0.44" stop-color="#c64958"/><stop offset="0.5" stop-color="#a03074"/><stop offset="0.56" stop-color="#c04260"/><stop offset="0.62" stop-color="#ec8330"/><stop offset="0.7" stop-color="#f6be42"/><stop offset="0.84" stop-color="#f8cd4d"/><stop offset="1" stop-color="#f6d756"/></linearGradient>
<linearGradient id="g240"><stop offset="0" stop-color="#f6da59"/><stop offset="0.16" stop-color="#f7d453"/><stop offset="0.3" stop-color="#f7bf43"/><stop offset="0.38" stop-color="#f09130"/><stop offset="0.44" stop-color="#d45848"/><stop offset="0.5" stop-color="#ab3470"/><stop offset="0.56" stop-color="#ca4d54"/><stop offset="0.62" stop-color="#f19832"/><stop offset="0.7" stop-color="#f7c245"/><stop offset="0.84" stop-color="#f8cf4f"/><stop offset="1" stop-color="#f6da59"/></linearGradient>
<linearGradient id="g241"><stop offset="0" stop-color="#f4e462"/><stop offset="0.16" stop-color="#f6d857"/><stop offset="0.3" stop-color="#f8d050"/><stop offset="0.38" stop-color="#f29d33"/><stop offset="0.44" stop-color="#d1554b"/><stop offset="0.5" stop-color="#b7396a"/><stop offset="0.56" stop-color="#d95d41"/><stop offset="0.62" stop-color="#f19a32"/><stop offset="0.7" stop-color="#f7c84a"/><stop offset="0.84" stop-color="#f5de5d"/><stop offset="1" stop-color="#f2e564"/></linearGradient>
<linearGradient id="g242"><stop offset="0" stop-color="#f4e260"/><stop offset="0.16" stop-color="#f6da59"/><stop offset="0.3" stop-color="#f8cf4f"/><stop offset="0.38" stop-color="#f3a635"/><stop offset="0.44" stop-color="#da5d41"/><stop offset="0.5" stop-color="#ad356f"/><stop offset="0.56" stop-color="#dd633d"/><stop offset="0.62" stop-color="#f3a636"/><stop offset="0.7" stop-color="#f8cb4b"/><stop offset="0.84" stop-color="#f6d756"/><stop offset="1" stop-color="#f4e462"/></linearGradient>
<linearGradient id="g243"><stop offset="0" stop-color="#f8d050"/><stop offset="0.16" stop-color="#f7d151"/><stop offset="0.3" stop-color="#f6bc41"/><stop offset="0.38" stop-color="#f29c33"/><stop offset="0.44" stop-color="#dd623d"/><stop offset="0.5" stop-color="#a73371"/><stop offset="0.56" stop-color="#d85b43"/><stop offset="0.62" stop-color="#f19832"/><stop offset="0.7" stop-color="#f6be43"/><stop offset="0.84" stop-color="#f8c94b"/><stop offset="1" stop-color="#f8cf4f"/></linearGradient>
<linearGradient id="g244"><stop offset="0" stop-color="#ebe86a"/><stop offset="0.16" stop-color="#ece869"/><stop offset="0.3" stop-color="#f4e260"/><stop offset="0.38" stop-color="#f6bb40"/><stop offset="0.44" stop-color="#e97e32"/><stop offset="0.5" stop-color="#c94c55"/><stop offset="0.56" stop-color="#e57436"/><stop offset="0.62" stop-color="#f7c245"/><stop offset="0.7" stop-color="#f5e15f"/><stop offset="0.84" stop-color="#ece769"/><stop offset="1" stop-color="#ede768"/></linearGradient>
<linearGradient id="g245"><stop offset="0" stop-color="#f5de5d"/><stop offset="0.16" stop-color="#f5e15f"/><stop offset="0.3" stop-color="#f6d857"/><stop offset="0.38" stop-color="#f5b038"/><stop offset="0.44" stop-color="#e37038"/><stop offset="0.5" stop-color="#bb3d66"/><stop offset="0.56" stop-color="#e16c39"/><stop offset="0.62" stop-color="#f6ba3f"/><stop offset="0.7" stop-color="#f7d655"/><stop offset="0.84" stop-color="#f3e463"/><stop offset="1" stop-color="#f5dd5c"/></linearGradient>
<linearGradient id="g246"><stop offset="0" stop-color="#e6ea6e"/><stop offset="0.16" stop-color="#ede768"/><stop offset="0.3" stop-color="#f3e463"/><stop offset="0.38" stop-color="#f7d251"/><stop offset="0.44" stop-color="#ed862f"/><stop offset="0.5" stop-color="#ce514f"/><stop offset="0.56" stop-color="#ee8a2e"/><stop offset="0.62" stop-color="#f7d251"/><stop offset="0.7" stop-color="#f4e361"/><stop offset="0.84" stop-color="#eae86b"/><stop offset="1" stop-color="#eae86b"/></linearGradient>
<linearGradient id="g247"><stop offset="0" stop-color="#f6d857"/><stop offset="0.16" stop-color="#f7d655"/><stop offset="0.3" stop-color="#f7d554"/><stop offset="0.38" stop-color="#f6b83e"/><stop offset="0.44" stop-color="#e67735"/><stop offset="0.5" stop-color="#cd5050"/><stop offset="0.56" stop-color="#e26d39"/><stop offset="0.62" stop-color="#f6b93f"/><stop offset="0.7" stop-color="#f7d353"/><stop offset="0.84" stop-color="#f5dd5c"/><stop offset="1" stop-color="#f5df5e"/></linearGradient>
<linearGradient id="g248"><stop offset="0" stop-color="#f5e15f"/><stop offset="0.16" stop-color="#f5e15f"/><stop offset="0.3" stop-color="#f6d857"/><stop offset="0.38" stop-color="#f7c648"/><stop offset="0.44" stop-color="#ed862f"/><stop offset="0.5" stop-color="#c5485a"/><stop offset="0.56" stop-color="#e97c33"/><stop offset="0.62" stop-color="#f6b93f"/><stop offset="0.7" stop-color="#f6da59"/><stop offset="0.84" stop-color="#f3e463"/><stop offset="1" stop-color="#f1e564"/></linearGradient>
<linearGradient id="g249"><stop offset="0" stop-color="#ede768"/><stop offset="0.16" stop-color="#efe667"/><stop offset="0.3" stop-color="#f4e361"/><stop offset="0.38" stop-color="#f8cd4d"/><stop offset="0.44" stop-color="#f09631"/><stop offset="0.5" stop-color="#d2564a"/><stop offset="0.56" stop-color="#f19932"/><stop offset="0.62" stop-color="#f7c749"/><stop offset="0.7" stop-color="#f4e260"/><stop offset="0.84" stop-color="#ebe86a"/><stop offset="1" stop-color="#ede768"/></linearGradient>
<linearGradient id="g250"><stop offset="0" stop-color="#ede768"/><stop offset="0.16" stop-color="#eee667"/><stop offset="0.3" stop-color="#f2e564"/><stop offset="0.38" stop-color="#f7d554"/><stop offset="0.44" stop-color="#f09431"/><stop offset="0.5" stop-color="#de653c"/><stop offset="0.56" stop-color="#f09632"/><stop offset="0.62" stop-color="#f8ce4e"/><stop offset="0.7" stop-color="#f4e462"/><stop offset="0.84" stop-color="#ede768"/><stop offset="1" stop-color="#f1e564"/></linearGradient>
<linearGradient id="g251"><stop offset="0" stop-color="#efe667"/><stop offset="0.16" stop-color="#e8e96d"/><stop offset="0.3" stop-color="#f0e666"/><stop offset="0.38" stop-color="#f7d655"/><stop offset="0.44" stop-color="#f4ad37"/><stop offset="0.5" stop-color="#dc613e"/><stop offset="0.56" stop-color="#f4ac37"/><stop offset="0.62" stop-color="#f6d656"/><stop offset="0.7" stop-color="#ede768"/><stop offset="0.84" stop-color="#efe666"/><stop offset="1" stop-color="#ece869"/></linearGradient>
<linearGradient id="g252"><stop offset="0" stop-color="#f1e565"/><stop offset="0.16" stop-color="#f2e563"/><stop offset="0.3" stop-color="#f5e05f"/><stop offset="0.38" stop-color="#f7d554"/><stop offset="0.44" stop-color="#f3a636"/><stop offset="0.5" stop-color="#db5e40"/><stop offset="0.56" stop-color="#f3a736"/><stop offset="0.62" stop-color="#f8cc4d"/><stop offset="0.7" stop-color="#f2e563"/><stop offset="0.84" stop-color="#ede768"/><stop offset="1" stop-color="#ede768"/></linearGradient>
<linearGradient id="g253"><stop offset="0" stop-color="#f4e462"/><stop offset="0.16" stop-color="#efe666"/><stop offset="0.3" stop-color="#f4e361"/><stop offset="0.38" stop-color="#f6d958"/><stop offset="0.44" stop-color="#f2a034"/><stop offset="0.5" stop-color="#df673b"/><stop offset="0.56" stop-color="#f5ae38"/><stop offset="0.62" stop-color="#f5dc5b"/><stop offset="0.7" stop-color="#f4e261"/><stop offset="0.84" stop-color="#ece769"/><stop offset="1" stop-color="#f3e563"/></linearGradient>
<linearGradient id="g254"><stop offset="0" stop-color="#e6ea6e"/><stop offset="0.16" stop-color="#e8e96c"/><stop offset="0.3" stop-color="#e9e96c"/><stop offset="0.38" stop-color="#f4e462"/><stop offset="0.44" stop-color="#f7c044"/><stop offset="0.5" stop-color="#e47237"/><stop offset="0.56" stop-color="#f6bd42"/><stop offset="0.62" stop-color="#f5e05e"/><stop offset="0.7" stop-color="#e7e96d"/><stop offset="0.84" stop-color="#eae86b"/><stop offset="1" stop-color="#ebe869"/></linearGradient>
<linearGradient id="g255"><stop offset="0" stop-color="#e6ea6e"/><stop offset="0.16" stop-color="#e8e96d"/><stop offset="0.3" stop-color="#ece769"/><stop offset="0.38" stop-color="#f1e564"/><stop offset="0.44" stop-color="#f6bc41"/><stop offset="0.5" stop-color="#ed852f"/><stop offset="0.56" stop-color="#f6be42"/><stop offset="0.62" stop-color="#f4e160"/><stop offset="0.7" stop-color="#eae86a"/><stop offset="0.84" stop-color="#eae86a"/><stop offset="1" stop-color="#e6ea6e"/></linearGradient>
<linearGradient id="g256"><stop offset="0" stop-color="#ece769"/><stop offset="0.16" stop-color="#f3e563"/><stop offset="0.3" stop-color="#f4e260"/><stop offset="0.38" stop-color="#f6d756"/><stop offset="0.44" stop-color="#f6b73d"/><stop offset="0.5" stop-color="#e87c33"/><stop offset="0.56" stop-color="#f6ba3f"/><stop offset="0.62" stop-color="#f6d958"/><stop offset="0.7" stop-color="#f1e565"/><stop offset="0.84" stop-color="#f3e563"/><stop offset="1" stop-color="#ece869"/></linearGradient>
<linearGradient id="g257"><stop offset="0" stop-color="#ede768"/><stop offset="0.16" stop-color="#eae86a"/><stop offset="0.3" stop-color="#ebe869"/><stop offset="0.38" stop-color="#efe666"/><stop offset="0.44" stop-color="#f8ca4b"/><stop offset="0.5" stop-color="#ee882e"/><stop offset="0.56" stop-color="#f6be42"/><stop offset="0.62" stop-color="#f4e260"/><stop offset="0.7" stop-color="#e9e96c"/><stop offset="0.84" stop-color="#ede768"/><stop offset="1" stop-color="#e6ea6e"/></linearGradient>
<linearGradient id="g258"><stop offset="0" stop-color="#efe666"/><stop offset="0.16" stop-color="#eae86b"/><stop offset="0.3" stop-color="#f0e665"/><stop offset="0.38" stop-color="#f4e462"/><stop offset="0.44" stop-color="#f8ce4e"/><stop offset="0.5" stop-color="#ee892e"/><stop offset="0.56" stop-color="#f7c749"/><stop offset="0.62" stop-color="#f1e565"/><stop offset="0.7" stop-color="#eee667"/><stop offset="0.84" stop-color="#e8e96c"/><stop offset="1" stop-color="#ede768"/></linearGradient>
<linearGradient id="g259"><stop offset="0" stop-color="#e6ea6e"/><stop offset="0.16" stop-color="#e7ea6d"/><stop offset="0.3" stop-color="#e6ea6e"/><stop offset="0.38" stop-color="#eee767"/><stop offset="0.44" stop-color="#f8cd4d"/><stop offset="0.5" stop-color="#ef8f30"/><stop offset="0.56" stop-color="#f7d251"/><stop offset="0.62" stop-color="#eae86b"/><stop offset="0.7" stop-color="#e8e96d"/><stop offset="0.84" stop-color="#e6ea6e"/><stop offset="1" stop-color="#e8e96d"/></linearGradient>
<linearGradient id="g260"><stop offset="0" stop-color="#e6ea6e"/><stop offset="0.16" stop-color="#e6ea6e"/><stop offset="0.3" stop-color="#e6ea6e"/><stop offset="0.38" stop-color="#ece869"/><stop offset="0.44" stop-color="#f5dc5b"/><stop offset="0.5" stop-color="#f29f34"/><stop offset="0.56" stop-color="#f7d251"/><stop offset="0.62" stop-color="#e9e96b"/><stop offset="0.7" stop-color="#e8e96c"/><stop offset="0.84" stop-color="#e7e96d"/><stop offset="1" stop-color="#e6ea6e"/></linearGradient>
<linearGradient id="g261"><stop offset="0" stop-color="#e6ea6e"/><stop offset="0.16" stop-color="#e8e96d"/><stop offset="0.3" stop-color="#e6ea6e"/><stop offset="0.38" stop-color="#eae86b"/><stop offset="0.44" stop-color="#f6da59"/><stop offset="0.5" stop-color="#f3a435"/><stop offset="0.56" stop-color="#f6db5a"/><stop offset="0.62" stop-color="#e7ea6d"/><stop offset="0.7" stop-color="#e6ea6e"/><stop offset="0.84" stop-color="#e6ea6e"/><stop offset="1" stop-color="#e6ea6e"/></linearGradient>
<linearGradient id="g262"><stop offset="0" stop-color="#e6ea6e"/><stop offset="0.16" stop-color="#e6ea6e"/><stop offset="0.3" stop-color="#e6ea6e"/><stop offset="0.38" stop-color="#e8e96d"/><stop offset="0.44" stop-color="#f6d756"/><stop offset="0.5" stop-color="#f29f34"/><stop offset="0.56" stop-color="#f6d756"/><stop offset="0.62" stop-color="#e6ea6e"/><stop offset="0.7" stop-color="#e9e96b"/><stop offset="0.84" stop-color="#e6ea6e"/><stop offset="1" stop-color="#e7e96d"/></linearGradient>
<linearGradient id="g263"><stop offset="0" stop-color="#ece869"/><stop offset="0.16" stop-color="#e8e96d"/><stop offset="0.3" stop-color="#ece769"/><stop offset="0.38" stop-color="#ebe86a"/><stop offset="0.44" stop-color="#f6db5a"/><stop offset="0.5" stop-color="#f3a335"/><stop offset="0.56" stop-color="#f6d958"/><stop offset="0.62" stop-color="#eee667"/><stop offset="0.7" stop-color="#e8e96c"/><stop offset="0.84" stop-color="#ede768"/><stop offset="1" stop-color="#e6ea6e"/></linearGradient>
<linearGradient id="g264"><stop offset="0" stop-color="#e8e96d"/><stop offset="0.16" stop-color="#ebe86a"/><stop offset="0.3" stop-color="#ede768"/><stop offset="0.38" stop-color="#efe666"/><stop offset="0.44" stop-color="#f5e05e"/><stop offset="0.5" stop-color="#f3a335"/><stop offset="0.56" stop-color="#f6d958"/><stop offset="0.62" stop-color="#f2e564"/><stop offset="0.7" stop-color="#e6ea6e"/><stop offset="0.84" stop-color="#ebe86a"/><stop offset="1" stop-color="#ece869"/></linearGradient>
<linearGradient id="g265"><stop offset="0" stop-color="#ebe869"/><stop offset="0.16" stop-color="#efe666"/><stop offset="0.3" stop-color="#ede768"/><stop offset="0.38" stop-color="#f4e462"/><stop offset="0.44" stop-color="#f5de5d"/><stop offset="0.5" stop-color="#f09331"/><stop offset="0.56" stop-color="#f6d958"/><stop offset="0.62" stop-color="#efe666"/><stop offset="0.7" stop-color="#e9e96b"/><stop offset="0.84" stop-color="#ebe86a"/><stop offset="1" stop-color="#efe666"/></linearGradient>
<linearGradient id="g266"><stop offset="0" stop-color="#e8e96c"/><stop offset="0.16" stop-color="#eae86b"/><stop offset="0.3" stop-color="#e8e96c"/><stop offset="0.38" stop-color="#ebe869"/><stop offset="0.44" stop-color="#f5e05e"/><stop offset="0.5" stop-color="#f3a535"/><stop offset="0.56" stop-color="#f7d655"/><stop offset="0.62" stop-color="#f2e564"/><stop offset="0.7" stop-color="#eee767"/><stop offset="0.84" stop-color="#ebe86a"/><stop offset="1" stop-color="#ebe86a"/></linearGradient>
<linearGradient id="g267"><stop offset="0" stop-color="#f0e666"/><stop offset="0.16" stop-color="#eee667"/><stop offset="0.3" stop-color="#ede768"/><stop offset="0.38" stop-color="#ece769"/><stop offset="0.44" stop-color="#f6da59"/><stop offset="0.5" stop-color="#f19b33"/><stop offset="0.56" stop-color="#f6d857"/><stop offset="0.62" stop-color="#ebe86a"/><stop offset="0.7" stop-color="#eee767"/><stop offset="0.84" stop-color="#ebe86a"/><stop offset="1" stop-color="#e9e96b"/></linearGradient>
<linearGradient id="g268"><stop offset="0" stop-color="#f0e666"/><stop offset="0.16" stop-color="#f0e665"/><stop offset="0.3" stop-color="#ebe86a"/><stop offset="0.38" stop-color="#f3e463"/><stop offset="0.44" stop-color="#f7d554"/><stop offset="0.5" stop-color="#f19932"/><stop offset="0.56" stop-color="#f6d756"/><stop offset="0.62" stop-color="#f3e463"/><stop offset="0.7" stop-color="#f1e565"/><stop offset="0.84" stop-color="#efe666"/><stop offset="1" stop-color="#eee768"/></linearGradient>
<linearGradient id="g269"><stop offset="0" stop-color="#efe666"/><stop offset="0.16" stop-color="#f0e666"/><stop offset="0.3" stop-color="#ebe86a"/><stop offset="0.38" stop-color="#f2e563"/><stop offset="0.44" stop-color="#f5de5c"/><stop offset="0.5" stop-color="#f29d33"/><stop offset="0.56" stop-color="#f4e361"/><stop offset="0.62" stop-color="#f2e563"/><stop offset="0.7" stop-color="#efe666"/><stop offset="0.84" stop-color="#eae86a"/><stop offset="1" stop-color="#efe666"/></linearGradient>
<linearGradient id="g270"><stop offset="0" stop-color="#e6ea6e"/><stop offset="0.16" stop-color="#e6ea6e"/><stop offset="0.3" stop-color="#e6ea6e"/><stop offset="0.38" stop-color="#e8e96c"/><stop offset="0.44" stop-color="#f4e361"/><stop offset="0.5" stop-color="#f5b239"/><stop offset="0.56" stop-color="#f3e563"/><stop offset="0.62" stop-color="#e7ea6d"/><stop offset="0.7" stop-color="#e9e96c"/><stop offset="0.84" stop-color="#e9e96c"/><stop offset="1" stop-color="#e8e96d"/></linearGradient>
<linearGradient id="g271"><stop offset="0" stop-color="#f0e665"/><stop offset="0.16" stop-color="#ede768"/><stop offset="0.3" stop-color="#eae86b"/><stop offset="0.38" stop-color="#f0e665"/><stop offset="0.44" stop-color="#f6da58"/><stop offset="0.5" stop-color="#f4aa37"/><stop offset="0.56" stop-color="#f5dd5b"/><stop offset="0.62" stop-color="#f2e564"/><stop offset="0.7" stop-color="#f0e665"/><stop offset="0.84" stop-color="#e9e96b"/><stop offset="1" stop-color="#ede768"/></linearGradient>
<linearGradient id="g272"><stop offset="0" stop-color="#f6b73d"/><stop offset="0.16" stop-color="#f29f34"/><stop offset="0.3" stop-color="#ee882e"/><stop offset="0.38" stop-color="#d0544c"/><stop offset="0.44" stop-color="#a23173"/><stop offset="0.5" stop-color="#8a287c"/><stop offset="0.56" stop-color="#a83371"/><stop offset="0.62" stop-color="#d55946"/><stop offset="0.7" stop-color="#ea7f31"/><stop offset="0.84" stop-color="#f3a335"/><stop offset="1" stop-color="#f5b43b"/></linearGradient>
<linearGradient id="g273"><stop offset="0" stop-color="#f8cb4c"/><stop offset="0.16" stop-color="#f6bf43"/><stop offset="0.3" stop-color="#f5b038"/><stop offset="0.38" stop-color="#ec8330"/><stop offset="0.44" stop-color="#c94c55"/><stop offset="0.5" stop-color="#ba3c67"/><stop offset="0.56" stop-color="#cb4e53"/><stop offset="0.62" stop-color="#ef8f30"/><stop offset="0.7" stop-color="#f4a836"/><stop offset="0.84" stop-color="#f7c749"/><stop offset="1" stop-color="#f8cb4c"/></linearGradient>
<linearGradient id="g274"><stop offset="0" stop-color="#f8cb4c"/><stop offset="0.16" stop-color="#f8cb4c"/><stop offset="0.3" stop-color="#f5b33a"/><stop offset="0.38" stop-color="#f19932"/><stop offset="0.44" stop-color="#d95d41"/><stop offset="0.5" stop-color="#c1435f"/><stop offset="0.56" stop-color="#de653c"/><stop offset="0.62" stop-color="#f09230"/><stop offset="0.7" stop-color="#f6b93f"/><stop offset="0.84" stop-color="#f6bf43"/><stop offset="1" stop-color="#f8ce4e"/></linearGradient>
<linearGradient id="g275"><stop offset="0" stop-color="#f6db5a"/><stop offset="0.16" stop-color="#f7d655"/><stop offset="0.3" stop-color="#f7d655"/><stop offset="0.38" stop-color="#f7c044"/><stop offset="0.44" stop-color="#eb8131"/><stop offset="0.5" stop-color="#db5f3f"/><stop offset="0.56" stop-color="#ec8430"/><stop offset="0.62" stop-color="#f7bf43"/><stop offset="0.7" stop-color="#f7d151"/><stop offset="0.84" stop-color="#f6dc5a"/><stop offset="1" stop-color="#f7d655"/></linearGradient>
<linearGradient id="g276"><stop offset="0" stop-color="#f5de5c"/><stop offset="0.16" stop-color="#f5df5e"/><stop offset="0.3" stop-color="#f7d453"/><stop offset="0.38" stop-color="#f7c749"/><stop offset="0.44" stop-color="#f3a234"/><stop offset="0.5" stop-color="#e77934"/><stop offset="0.56" stop-color="#f3a335"/><stop offset="0.62" stop-color="#f8ce4e"/><stop offset="0.7" stop-color="#f7d353"/><stop offset="0.84" stop-color="#f5df5e"/><stop offset="1" stop-color="#f6dc5a"/></linearGradient>
<linearGradient id="g277"><stop offset="0" stop-color="#f2e564"/><stop offset="0.16" stop-color="#f3e463"/><stop offset="0.3" stop-color="#f4e260"/><stop offset="0.38" stop-color="#f7d655"/><stop offset="0.44" stop-color="#f6be42"/><stop offset="0.5" stop-color="#ee872e"/><stop offset="0.56" stop-color="#f6b63d"/><stop offset="0.62" stop-color="#f4e160"/><stop offset="0.7" stop-color="#f5e05e"/><stop offset="0.84" stop-color="#f4e462"/><stop offset="1" stop-color="#f3e463"/></linearGradient>
<linearGradient id="g278"><stop offset="0" stop-color="#f1e564"/><stop offset="0.16" stop-color="#f2e563"/><stop offset="0.3" stop-color="#f1e564"/><stop offset="0.38" stop-color="#f5e15f"/><stop offset="0.44" stop-color="#f7d554"/><stop offset="0.5" stop-color="#f09531"/><stop offset="0.56" stop-color="#f7d453"/><stop offset="0.62" stop-color="#f5de5d"/><stop offset="0.7" stop-color="#f3e463"/><stop offset="0.84" stop-color="#ece769"/><stop offset="1" stop-color="#f0e666"/></linearGradient>
<linearGradient id="g279"><stop offset="0" stop-color="#ece869"/><stop offset="0.16" stop-color="#efe667"/><stop offset="0.3" stop-color="#f2e564"/><stop offset="0.38" stop-color="#f4e462"/><stop offset="0.44" stop-color="#f7d655"/><stop offset="0.5" stop-color="#ef8e30"/><stop offset="0.56" stop-color="#f7d655"/><stop offset="0.62" stop-color="#f3e463"/><stop offset="0.7" stop-color="#efe666"/><stop offset="0.84" stop-color="#f4e462"/><stop offset="1" stop-color="#f1e565"/></linearGradient>
<linearGradient id="g280"><stop offset="0" stop-color="#f3e463"/><stop offset="0.16" stop-color="#f1e565"/><stop offset="0.3" stop-color="#f5e15f"/><stop offset="0.38" stop-color="#f5e15f"/><stop offset="0.44" stop-color="#f8d050"/><stop offset="0.5" stop-color="#f09531"/><stop offset="0.56" stop-color="#f6d756"/><stop offset="0.62" stop-color="#f4e361"/><stop offset="0.7" stop-color="#f4e361"/><stop offset="0.84" stop-color="#f4e462"/><stop offset="1" stop-color="#f0e665"/></linearGradient>
<linearGradient id="g281"><stop offset="0" stop-color="#ebe86a"/><stop offset="0.0625" stop-color="#f5e15f"/><stop offset="0.125" stop-color="#f8d050"/><stop offset="0.188" stop-color="#f6bd41"/><stop offset="0.25" stop-color="#f3a736"/><stop offset="0.312" stop-color="#ef8f30"/><stop offset="0.375" stop-color="#e67635"/><stop offset="0.438" stop-color="#da5e40"/><stop offset="0.5" stop-color="#c3465c"/><stop offset="0.562" stop-color="#aa3470"/><stop offset="0.625" stop-color="#8e297b"/><stop offset="0.688" stop-color="#73217e"/><stop offset="0.75" stop-color="#591c6f"/><stop offset="0.812" stop-color="#3f1860"/><stop offset="0.875" stop-color="#30134c"/><stop offset="0.938" stop-color="#210f38"/><stop offset="1" stop-color="#120a23"/></linearGradient>
<linearGradient id="g282" x1="0" y1="0" x2="0" y2="1"><stop offset="0" stop-color="#c8102e"/><stop offset=".3" stop-color="#666"/><stop offset="1" stop-color="#a0a0a0"/></linearGradient>
<linearGradient id="g283" x1="0" y1="0" x2="0" y2="1"><stop offset="0" stop-color="#f7941d"/><stop offset=".3" stop-color="#666"/><stop offset="1" stop-color="#a0a0a0"/></linearGradient>
<linearGradient id="g284" x1="0" y1="0" x2="0" y2="1"><stop offset="0" stop-color="#29a9e1"/><stop offset=".3" stop-color="#666"/><stop offset="1" stop-color="#a0a0a0"/></linearGradient>
<linearGradient id="g285" x1="0" y1="0" x2="0" y2="1"><stop offset="0" stop-color="#8e7cc3"/><stop offset=".3" stop-color="#666"/><stop offset="1" stop-color="#a0a0a0"/></linearGradient></defs>
<rect x="0" y="0" width="520" height="692" fill="#fff"/>
<text x="7.8" y="16.4" font-size="10.8" font-weight="bold">A</text>
<text x="128.3" y="17.3" font-size="8.8" text-anchor="middle">RL</text>
<line x1="31.5" y1="21.4" x2="225.2" y2="21.4" stroke="#231f20" stroke-width="0.9"/>
<text x="13.3" y="42.6" font-size="8" text-anchor="middle" fill="#333" textLength="47" lengthAdjust="spacingAndGlyphs" transform="rotate(-90 13.3 42.6)">Super-enhancer</text>
<text x="23" y="42.6" font-size="8" text-anchor="middle" fill="#333" textLength="29" lengthAdjust="spacingAndGlyphs" transform="rotate(-90 23 42.6)">(n = 146)</text>
<text x="13.7" y="128" font-size="8" text-anchor="middle" fill="#333" textLength="27.7" lengthAdjust="spacingAndGlyphs" transform="rotate(-90 13.7 128)">Enhancer</text>
<text x="23.3" y="128" font-size="8" text-anchor="middle" fill="#333" textLength="33.2" lengthAdjust="spacingAndGlyphs" transform="rotate(-90 23.3 128)">(n = 1345)</text>
<text x="13.7" y="192" font-size="8" text-anchor="middle" fill="#333" textLength="27.7" lengthAdjust="spacingAndGlyphs" transform="rotate(-90 13.7 192)">Promoter</text>
<text x="23.3" y="192" font-size="8" text-anchor="middle" fill="#333" textLength="31" lengthAdjust="spacingAndGlyphs" transform="rotate(-90 23.3 192)">(n = 229)</text>
<text x="48" y="27.6" font-size="6.3" text-anchor="middle">WT</text>
<rect x="31.5" y="29.5" width="32.9" height="3.3" fill="#1f9a3a" stroke="#333" stroke-width="0.4"/>
<rect x="31.5" y="34.4" width="32.9" height="3.2" fill="url(#g1)"/>
<rect x="31.5" y="36.8" width="32.9" height="3.2" fill="url(#g2)"/>
<rect x="31.5" y="39.2" width="32.9" height="3.2" fill="url(#g3)"/>
<rect x="31.5" y="41.6" width="32.9" height="3.2" fill="url(#g4)"/>
<rect x="31.5" y="44.1" width="32.9" height="3.2" fill="url(#g5)"/>
<rect x="31.5" y="46.5" width="32.9" height="3.2" fill="url(#g6)"/>
<rect x="31.5" y="48.9" width="32.9" height="2.4" fill="url(#g7)"/>
<rect x="31.5" y="34.4" width="32.9" height="16.9" fill="none" stroke="#231f20" stroke-width="0.9"/>
<line x1="31.5" y1="51.3" x2="31.5" y2="53" stroke="#231f20" stroke-width="0.8"/>
<text x="33.7" y="59.2" font-size="7.2" stroke="#231f20" stroke-width="0.25" text-anchor="end" textLength="13.5" lengthAdjust="spacingAndGlyphs" transform="rotate(-45 33.7 59.2)">−20kb</text>
<line x1="42.5" y1="51.3" x2="42.5" y2="53" stroke="#231f20" stroke-width="0.8"/>
<text x="44.7" y="59.2" font-size="7.2" stroke="#231f20" stroke-width="0.25" text-anchor="end" textLength="11.5" lengthAdjust="spacingAndGlyphs" transform="rotate(-45 44.7 59.2)">start</text>
<line x1="53.4" y1="51.3" x2="53.4" y2="53" stroke="#231f20" stroke-width="0.8"/>
<text x="55.6" y="59.2" font-size="7.2" stroke="#231f20" stroke-width="0.25" text-anchor="end" textLength="8.5" lengthAdjust="spacingAndGlyphs" transform="rotate(-45 55.6 59.2)">end</text>
<line x1="64.4" y1="51.3" x2="64.4" y2="53" stroke="#231f20" stroke-width="0.8"/>
<text x="66.6" y="59.2" font-size="7.2" stroke="#231f20" stroke-width="0.25" text-anchor="end" textLength="13.5" lengthAdjust="spacingAndGlyphs" transform="rotate(-45 66.6 59.2)">+20kb</text>
<rect x="31.5" y="73.4" width="32.9" height="3.4" fill="url(#g8)"/>
<rect x="31.5" y="76" width="32.9" height="3.4" fill="url(#g9)"/>
<rect x="31.5" y="78.6" width="32.9" height="3.4" fill="url(#g10)"/>
<rect x="31.5" y="81.3" width="32.9" height="3.4" fill="url(#g11)"/>
<rect x="31.5" y="83.9" width="32.9" height="3.4" fill="url(#g12)"/>
<rect x="31.5" y="86.5" width="32.9" height="3.4" fill="url(#g13)"/>
<rect x="31.5" y="89.1" width="32.9" height="3.4" fill="url(#g14)"/>
<rect x="31.5" y="91.8" width="32.9" height="3.4" fill="url(#g15)"/>
<rect x="31.5" y="94.4" width="32.9" height="3.4" fill="url(#g16)"/>
<rect x="31.5" y="97" width="32.9" height="3.4" fill="url(#g17)"/>
<rect x="31.5" y="99.6" width="32.9" height="3.4" fill="url(#g18)"/>
<rect x="31.5" y="102.2" width="32.9" height="3.4" fill="url(#g19)"/>
<rect x="31.5" y="104.9" width="32.9" height="3.4" fill="url(#g20)"/>
<rect x="31.5" y="107.5" width="32.9" height="3.4" fill="url(#g21)"/>
<rect x="31.5" y="110.1" width="32.9" height="3.4" fill="url(#g22)"/>
<rect x="31.5" y="112.7" width="32.9" height="3.4" fill="url(#g23)"/>
<rect x="31.5" y="115.4" width="32.9" height="3.4" fill="url(#g24)"/>
<rect x="31.5" y="118" width="32.9" height="3.4" fill="url(#g25)"/>
<rect x="31.5" y="120.6" width="32.9" height="3.4" fill="url(#g26)"/>
<rect x="31.5" y="123.2" width="32.9" height="3.4" fill="url(#g27)"/>
<rect x="31.5" y="125.9" width="32.9" height="3.4" fill="url(#g28)"/>
<rect x="31.5" y="128.5" width="32.9" height="3.4" fill="url(#g29)"/>
<rect x="31.5" y="131.1" width="32.9" height="3.4" fill="url(#g30)"/>
<rect x="31.5" y="133.7" width="32.9" height="3.4" fill="url(#g31)"/>
<rect x="31.5" y="136.3" width="32.9" height="3.4" fill="url(#g32)"/>
<rect x="31.5" y="139" width="32.9" height="3.4" fill="url(#g33)"/>
<rect x="31.5" y="141.6" width="32.9" height="3.4" fill="url(#g34)"/>
<rect x="31.5" y="144.2" width="32.9" height="3.4" fill="url(#g35)"/>
<rect x="31.5" y="146.8" width="32.9" height="3.4" fill="url(#g36)"/>
<rect x="31.5" y="149.5" width="32.9" height="3.4" fill="url(#g37)"/>
<rect x="31.5" y="152.1" width="32.9" height="3.4" fill="url(#g38)"/>
<rect x="31.5" y="154.7" width="32.9" height="3.4" fill="url(#g39)"/>
<rect x="31.5" y="157.3" width="32.9" height="3.4" fill="url(#g40)"/>
<rect x="31.5" y="159.9" width="32.9" height="3.4" fill="url(#g41)"/>
<rect x="31.5" y="162.6" width="32.9" height="3.4" fill="url(#g42)"/>
<rect x="31.5" y="165.2" width="32.9" height="3.4" fill="url(#g43)"/>
<rect x="31.5" y="167.8" width="32.9" height="3.4" fill="url(#g44)"/>
<rect x="31.5" y="170.4" width="32.9" height="3.4" fill="url(#g45)"/>
<rect x="31.5" y="173.1" width="32.9" height="3.4" fill="url(#g46)"/>
<rect x="31.5" y="175.7" width="32.9" height="2.6" fill="url(#g47)"/>
<rect x="31.5" y="73.4" width="32.9" height="104.9" fill="none" stroke="#231f20" stroke-width="0.9"/>
<rect x="31.5" y="181.8" width="32.9" height="3" fill="url(#g48)"/>
<rect x="31.5" y="184" width="32.9" height="3" fill="url(#g49)"/>
<rect x="31.5" y="186.2" width="32.9" height="3" fill="url(#g50)"/>
<rect x="31.5" y="188.4" width="32.9" height="3" fill="url(#g51)"/>
<rect x="31.5" y="190.6" width="32.9" height="3" fill="url(#g52)"/>
<rect x="31.5" y="192.7" width="32.9" height="3" fill="url(#g53)"/>
<rect x="31.5" y="194.9" width="32.9" height="3" fill="url(#g54)"/>
<rect x="31.5" y="197.1" width="32.9" height="3" fill="url(#g55)"/>
<rect x="31.5" y="199.3" width="32.9" height="2.2" fill="url(#g56)"/>
<rect x="31.5" y="181.8" width="32.9" height="19.7" fill="none" stroke="#231f20" stroke-width="0.9"/>
<line x1="31.5" y1="201.5" x2="31.5" y2="203" stroke="#231f20" stroke-width="0.8"/>
<line x1="48" y1="201.5" x2="48" y2="203" stroke="#231f20" stroke-width="0.8"/>
<line x1="64.4" y1="201.5" x2="64.4" y2="203" stroke="#231f20" stroke-width="0.8"/>
<text x="33.7" y="209.4" font-size="7.2" stroke="#231f20" stroke-width="0.25" text-anchor="end" textLength="13.5" lengthAdjust="spacingAndGlyphs" transform="rotate(-45 33.7 209.4)">−10kb</text>
<text x="66.6" y="209.4" font-size="7.2" stroke="#231f20" stroke-width="0.25" text-anchor="end" textLength="13.5" lengthAdjust="spacingAndGlyphs" transform="rotate(-45 66.6 209.4)">+10kb</text>
<text x="48" y="209.8" font-size="7.4" stroke="#231f20" stroke-width="0.2" text-anchor="middle" textLength="14.5" lengthAdjust="spacingAndGlyphs">center</text>
<text x="88" y="27.6" font-size="6.3" text-anchor="middle">KO</text>
<rect x="71.6" y="29.5" width="32.9" height="3.3" fill="#a3132a" stroke="#333" stroke-width="0.4"/>
<rect x="71.6" y="34.4" width="32.9" height="3.2" fill="url(#g57)"/>
<rect x="71.6" y="36.8" width="32.9" height="3.2" fill="url(#g58)"/>
<rect x="71.6" y="39.2" width="32.9" height="3.2" fill="url(#g59)"/>
<rect x="71.6" y="41.6" width="32.9" height="3.2" fill="url(#g60)"/>
<rect x="71.6" y="44.1" width="32.9" height="3.2" fill="url(#g61)"/>
<rect x="71.6" y="46.5" width="32.9" height="3.2" fill="url(#g62)"/>
<rect x="71.6" y="48.9" width="32.9" height="2.4" fill="url(#g63)"/>
<rect x="71.6" y="34.4" width="32.9" height="16.9" fill="none" stroke="#231f20" stroke-width="0.9"/>
<line x1="71.6" y1="51.3" x2="71.6" y2="53" stroke="#231f20" stroke-width="0.8"/>
<text x="73.8" y="59.2" font-size="7.2" stroke="#231f20" stroke-width="0.25" text-anchor="end" textLength="13.5" lengthAdjust="spacingAndGlyphs" transform="rotate(-45 73.8 59.2)">−20kb</text>
<line x1="82.6" y1="51.3" x2="82.6" y2="53" stroke="#231f20" stroke-width="0.8"/>
<text x="84.8" y="59.2" font-size="7.2" stroke="#231f20" stroke-width="0.25" text-anchor="end" textLength="11.5" lengthAdjust="spacingAndGlyphs" transform="rotate(-45 84.8 59.2)">start</text>
<line x1="93.5" y1="51.3" x2="93.5" y2="53" stroke="#231f20" stroke-width="0.8"/>
<text x="95.7" y="59.2" font-size="7.2" stroke="#231f20" stroke-width="0.25" text-anchor="end" textLength="8.5" lengthAdjust="spacingAndGlyphs" transform="rotate(-45 95.7 59.2)">end</text>
<line x1="104.5" y1="51.3" x2="104.5" y2="53" stroke="#231f20" stroke-width="0.8"/>
<text x="106.7" y="59.2" font-size="7.2" stroke="#231f20" stroke-width="0.25" text-anchor="end" textLength="13.5" lengthAdjust="spacingAndGlyphs" transform="rotate(-45 106.7 59.2)">+20kb</text>
<rect x="71.6" y="73.4" width="32.9" height="3.4" fill="url(#g64)"/>
<rect x="71.6" y="76" width="32.9" height="3.4" fill="url(#g65)"/>
<rect x="71.6" y="78.6" width="32.9" height="3.4" fill="url(#g66)"/>
<rect x="71.6" y="81.3" width="32.9" height="3.4" fill="url(#g67)"/>
<rect x="71.6" y="83.9" width="32.9" height="3.4" fill="url(#g68)"/>
<rect x="71.6" y="86.5" width="32.9" height="3.4" fill="url(#g69)"/>
<rect x="71.6" y="89.1" width="32.9" height="3.4" fill="url(#g70)"/>
<rect x="71.6" y="91.8" width="32.9" height="3.4" fill="url(#g71)"/>
<rect x="71.6" y="94.4" width="32.9" height="3.4" fill="url(#g72)"/>
<rect x="71.6" y="97" width="32.9" height="3.4" fill="url(#g73)"/>
<rect x="71.6" y="99.6" width="32.9" height="3.4" fill="url(#g74)"/>
<rect x="71.6" y="102.2" width="32.9" height="3.4" fill="url(#g75)"/>
<rect x="71.6" y="104.9" width="32.9" height="3.4" fill="url(#g76)"/>
<rect x="71.6" y="107.5" width="32.9" height="3.4" fill="url(#g77)"/>
<rect x="71.6" y="110.1" width="32.9" height="3.4" fill="url(#g78)"/>
<rect x="71.6" y="112.7" width="32.9" height="3.4" fill="url(#g79)"/>
<rect x="71.6" y="115.4" width="32.9" height="3.4" fill="url(#g80)"/>
<rect x="71.6" y="118" width="32.9" height="3.4" fill="url(#g81)"/>
<rect x="71.6" y="120.6" width="32.9" height="3.4" fill="url(#g82)"/>
<rect x="71.6" y="123.2" width="32.9" height="3.4" fill="url(#g83)"/>
<rect x="71.6" y="125.9" width="32.9" height="3.4" fill="url(#g84)"/>
<rect x="71.6" y="128.5" width="32.9" height="3.4" fill="url(#g85)"/>
<rect x="71.6" y="131.1" width="32.9" height="3.4" fill="url(#g86)"/>
<rect x="71.6" y="133.7" width="32.9" height="3.4" fill="url(#g87)"/>
<rect x="71.6" y="136.3" width="32.9" height="3.4" fill="url(#g88)"/>
<rect x="71.6" y="139" width="32.9" height="3.4" fill="url(#g89)"/>
<rect x="71.6" y="141.6" width="32.9" height="3.4" fill="url(#g90)"/>
<rect x="71.6" y="144.2" width="32.9" height="3.4" fill="url(#g91)"/>
<rect x="71.6" y="146.8" width="32.9" height="3.4" fill="url(#g92)"/>
<rect x="71.6" y="149.5" width="32.9" height="3.4" fill="url(#g93)"/>
<rect x="71.6" y="152.1" width="32.9" height="3.4" fill="url(#g94)"/>
<rect x="71.6" y="154.7" width="32.9" height="3.4" fill="url(#g95)"/>
<rect x="71.6" y="157.3" width="32.9" height="3.4" fill="url(#g96)"/>
<rect x="71.6" y="159.9" width="32.9" height="3.4" fill="url(#g97)"/>
<rect x="71.6" y="162.6" width="32.9" height="3.4" fill="url(#g98)"/>
<rect x="71.6" y="165.2" width="32.9" height="3.4" fill="url(#g99)"/>
<rect x="71.6" y="167.8" width="32.9" height="3.4" fill="url(#g100)"/>
<rect x="71.6" y="170.4" width="32.9" height="3.4" fill="url(#g101)"/>
<rect x="71.6" y="173.1" width="32.9" height="3.4" fill="url(#g102)"/>
<rect x="71.6" y="175.7" width="32.9" height="2.6" fill="url(#g103)"/>
<rect x="71.6" y="73.4" width="32.9" height="104.9" fill="none" stroke="#231f20" stroke-width="0.9"/>
<rect x="71.6" y="181.8" width="32.9" height="3" fill="url(#g104)"/>
<rect x="71.6" y="184" width="32.9" height="3" fill="url(#g105)"/>
<rect x="71.6" y="186.2" width="32.9" height="3" fill="url(#g106)"/>
<rect x="71.6" y="188.4" width="32.9" height="3" fill="url(#g107)"/>
<rect x="71.6" y="190.6" width="32.9" height="3" fill="url(#g108)"/>
<rect x="71.6" y="192.7" width="32.9" height="3" fill="url(#g109)"/>
<rect x="71.6" y="194.9" width="32.9" height="3" fill="url(#g110)"/>
<rect x="71.6" y="197.1" width="32.9" height="3" fill="url(#g111)"/>
<rect x="71.6" y="199.3" width="32.9" height="2.2" fill="url(#g112)"/>
<rect x="71.6" y="181.8" width="32.9" height="19.7" fill="none" stroke="#231f20" stroke-width="0.9"/>
<line x1="71.6" y1="201.5" x2="71.6" y2="203" stroke="#231f20" stroke-width="0.8"/>
<line x1="88" y1="201.5" x2="88" y2="203" stroke="#231f20" stroke-width="0.8"/>
<line x1="104.5" y1="201.5" x2="104.5" y2="203" stroke="#231f20" stroke-width="0.8"/>
<text x="73.8" y="209.4" font-size="7.2" stroke="#231f20" stroke-width="0.25" text-anchor="end" textLength="13.5" lengthAdjust="spacingAndGlyphs" transform="rotate(-45 73.8 209.4)">−10kb</text>
<text x="106.7" y="209.4" font-size="7.2" stroke="#231f20" stroke-width="0.25" text-anchor="end" textLength="13.5" lengthAdjust="spacingAndGlyphs" transform="rotate(-45 106.7 209.4)">+10kb</text>
<text x="88" y="209.8" font-size="7.4" stroke="#231f20" stroke-width="0.2" text-anchor="middle" textLength="14.5" lengthAdjust="spacingAndGlyphs">center</text>
<text x="128.2" y="27.6" font-size="6.3" text-anchor="middle">R1446C</text>
<rect x="111.7" y="29.5" width="32.9" height="3.3" fill="#f2a030" stroke="#333" stroke-width="0.4"/>
<rect x="111.7" y="34.4" width="32.9" height="3.2" fill="url(#g113)"/>
<rect x="111.7" y="36.8" width="32.9" height="3.2" fill="url(#g114)"/>
<rect x="111.7" y="39.2" width="32.9" height="3.2" fill="url(#g115)"/>
<rect x="111.7" y="41.6" width="32.9" height="3.2" fill="url(#g116)"/>
<rect x="111.7" y="44.1" width="32.9" height="3.2" fill="url(#g117)"/>
<rect x="111.7" y="46.5" width="32.9" height="3.2" fill="url(#g118)"/>
<rect x="111.7" y="48.9" width="32.9" height="2.4" fill="url(#g119)"/>
<rect x="111.7" y="34.4" width="32.9" height="16.9" fill="none" stroke="#231f20" stroke-width="0.9"/>
<line x1="111.7" y1="51.3" x2="111.7" y2="53" stroke="#231f20" stroke-width="0.8"/>
<text x="113.9" y="59.2" font-size="7.2" stroke="#231f20" stroke-width="0.25" text-anchor="end" textLength="13.5" lengthAdjust="spacingAndGlyphs" transform="rotate(-45 113.9 59.2)">−20kb</text>
<line x1="122.7" y1="51.3" x2="122.7" y2="53" stroke="#231f20" stroke-width="0.8"/>
<text x="124.9" y="59.2" font-size="7.2" stroke="#231f20" stroke-width="0.25" text-anchor="end" textLength="11.5" lengthAdjust="spacingAndGlyphs" transform="rotate(-45 124.9 59.2)">start</text>
<line x1="133.6" y1="51.3" x2="133.6" y2="53" stroke="#231f20" stroke-width="0.8"/>
<text x="135.8" y="59.2" font-size="7.2" stroke="#231f20" stroke-width="0.25" text-anchor="end" textLength="8.5" lengthAdjust="spacingAndGlyphs" transform="rotate(-45 135.8 59.2)">end</text>
<line x1="144.6" y1="51.3" x2="144.6" y2="53" stroke="#231f20" stroke-width="0.8"/>
<text x="146.8" y="59.2" font-size="7.2" stroke="#231f20" stroke-width="0.25" text-anchor="end" textLength="13.5" lengthAdjust="spacingAndGlyphs" transform="rotate(-45 146.8 59.2)">+20kb</text>
<rect x="111.7" y="73.4" width="32.9" height="3.4" fill="url(#g120)"/>
<rect x="111.7" y="76" width="32.9" height="3.4" fill="url(#g121)"/>
<rect x="111.7" y="78.6" width="32.9" height="3.4" fill="url(#g122)"/>
<rect x="111.7" y="81.3" width="32.9" height="3.4" fill="url(#g123)"/>
<rect x="111.7" y="83.9" width="32.9" height="3.4" fill="url(#g124)"/>
<rect x="111.7" y="86.5" width="32.9" height="3.4" fill="url(#g125)"/>
<rect x="111.7" y="89.1" width="32.9" height="3.4" fill="url(#g126)"/>
<rect x="111.7" y="91.8" width="32.9" height="3.4" fill="url(#g127)"/>
<rect x="111.7" y="94.4" width="32.9" height="3.4" fill="url(#g128)"/>
<rect x="111.7" y="97" width="32.9" height="3.4" fill="url(#g129)"/>
<rect x="111.7" y="99.6" width="32.9" height="3.4" fill="url(#g130)"/>
<rect x="111.7" y="102.2" width="32.9" height="3.4" fill="url(#g131)"/>
<rect x="111.7" y="104.9" width="32.9" height="3.4" fill="url(#g132)"/>
<rect x="111.7" y="107.5" width="32.9" height="3.4" fill="url(#g133)"/>
<rect x="111.7" y="110.1" width="32.9" height="3.4" fill="url(#g134)"/>
<rect x="111.7" y="112.7" width="32.9" height="3.4" fill="url(#g135)"/>
<rect x="111.7" y="115.4" width="32.9" height="3.4" fill="url(#g136)"/>
<rect x="111.7" y="118" width="32.9" height="3.4" fill="url(#g137)"/>
<rect x="111.7" y="120.6" width="32.9" height="3.4" fill="url(#g138)"/>
<rect x="111.7" y="123.2" width="32.9" height="3.4" fill="url(#g139)"/>
<rect x="111.7" y="125.9" width="32.9" height="3.4" fill="url(#g140)"/>
<rect x="111.7" y="128.5" width="32.9" height="3.4" fill="url(#g141)"/>
<rect x="111.7" y="131.1" width="32.9" height="3.4" fill="url(#g142)"/>
<rect x="111.7" y="133.7" width="32.9" height="3.4" fill="url(#g143)"/>
<rect x="111.7" y="136.3" width="32.9" height="3.4" fill="url(#g144)"/>
<rect x="111.7" y="139" width="32.9" height="3.4" fill="url(#g145)"/>
<rect x="111.7" y="141.6" width="32.9" height="3.4" fill="url(#g146)"/>
<rect x="111.7" y="144.2" width="32.9" height="3.4" fill="url(#g147)"/>
<rect x="111.7" y="146.8" width="32.9" height="3.4" fill="url(#g148)"/>
<rect x="111.7" y="149.5" width="32.9" height="3.4" fill="url(#g149)"/>
<rect x="111.7" y="152.1" width="32.9" height="3.4" fill="url(#g150)"/>
<rect x="111.7" y="154.7" width="32.9" height="3.4" fill="url(#g151)"/>
<rect x="111.7" y="157.3" width="32.9" height="3.4" fill="url(#g152)"/>
<rect x="111.7" y="159.9" width="32.9" height="3.4" fill="url(#g153)"/>
<rect x="111.7" y="162.6" width="32.9" height="3.4" fill="url(#g154)"/>
<rect x="111.7" y="165.2" width="32.9" height="3.4" fill="url(#g155)"/>
<rect x="111.7" y="167.8" width="32.9" height="3.4" fill="url(#g156)"/>
<rect x="111.7" y="170.4" width="32.9" height="3.4" fill="url(#g157)"/>
<rect x="111.7" y="173.1" width="32.9" height="3.4" fill="url(#g158)"/>
<rect x="111.7" y="175.7" width="32.9" height="2.6" fill="url(#g159)"/>
<rect x="111.7" y="73.4" width="32.9" height="104.9" fill="none" stroke="#231f20" stroke-width="0.9"/>
<rect x="111.7" y="181.8" width="32.9" height="3" fill="url(#g160)"/>
<rect x="111.7" y="184" width="32.9" height="3" fill="url(#g161)"/>
<rect x="111.7" y="186.2" width="32.9" height="3" fill="url(#g162)"/>
<rect x="111.7" y="188.4" width="32.9" height="3" fill="url(#g163)"/>
<rect x="111.7" y="190.6" width="32.9" height="3" fill="url(#g164)"/>
<rect x="111.7" y="192.7" width="32.9" height="3" fill="url(#g165)"/>
<rect x="111.7" y="194.9" width="32.9" height="3" fill="url(#g166)"/>
<rect x="111.7" y="197.1" width="32.9" height="3" fill="url(#g167)"/>
<rect x="111.7" y="199.3" width="32.9" height="2.2" fill="url(#g168)"/>
<rect x="111.7" y="181.8" width="32.9" height="19.7" fill="none" stroke="#231f20" stroke-width="0.9"/>
<line x1="111.7" y1="201.5" x2="111.7" y2="203" stroke="#231f20" stroke-width="0.8"/>
<line x1="128.2" y1="201.5" x2="128.2" y2="203" stroke="#231f20" stroke-width="0.8"/>
<line x1="144.6" y1="201.5" x2="144.6" y2="203" stroke="#231f20" stroke-width="0.8"/>
<text x="113.9" y="209.4" font-size="7.2" stroke="#231f20" stroke-width="0.25" text-anchor="end" textLength="13.5" lengthAdjust="spacingAndGlyphs" transform="rotate(-45 113.9 209.4)">−10kb</text>
<text x="146.8" y="209.4" font-size="7.2" stroke="#231f20" stroke-width="0.25" text-anchor="end" textLength="13.5" lengthAdjust="spacingAndGlyphs" transform="rotate(-45 146.8 209.4)">+10kb</text>
<text x="128.2" y="209.8" font-size="7.4" stroke="#231f20" stroke-width="0.2" text-anchor="middle" textLength="14.5" lengthAdjust="spacingAndGlyphs">center</text>
<text x="168.2" y="27.6" font-size="6.3" text-anchor="middle">Y1482N</text>
<rect x="151.8" y="29.5" width="32.9" height="3.3" fill="#3aa6dc" stroke="#333" stroke-width="0.4"/>
<rect x="151.8" y="34.4" width="32.9" height="3.2" fill="url(#g169)"/>
<rect x="151.8" y="36.8" width="32.9" height="3.2" fill="url(#g170)"/>
<rect x="151.8" y="39.2" width="32.9" height="3.2" fill="url(#g171)"/>
<rect x="151.8" y="41.6" width="32.9" height="3.2" fill="url(#g172)"/>
<rect x="151.8" y="44.1" width="32.9" height="3.2" fill="url(#g173)"/>
<rect x="151.8" y="46.5" width="32.9" height="3.2" fill="url(#g174)"/>
<rect x="151.8" y="48.9" width="32.9" height="2.4" fill="url(#g175)"/>
<rect x="151.8" y="34.4" width="32.9" height="16.9" fill="none" stroke="#231f20" stroke-width="0.9"/>
<line x1="151.8" y1="51.3" x2="151.8" y2="53" stroke="#231f20" stroke-width="0.8"/>
<text x="154" y="59.2" font-size="7.2" stroke="#231f20" stroke-width="0.25" text-anchor="end" textLength="13.5" lengthAdjust="spacingAndGlyphs" transform="rotate(-45 154 59.2)">−20kb</text>
<line x1="162.8" y1="51.3" x2="162.8" y2="53" stroke="#231f20" stroke-width="0.8"/>
<text x="165" y="59.2" font-size="7.2" stroke="#231f20" stroke-width="0.25" text-anchor="end" textLength="11.5" lengthAdjust="spacingAndGlyphs" transform="rotate(-45 165 59.2)">start</text>
<line x1="173.7" y1="51.3" x2="173.7" y2="53" stroke="#231f20" stroke-width="0.8"/>
<text x="175.9" y="59.2" font-size="7.2" stroke="#231f20" stroke-width="0.25" text-anchor="end" textLength="8.5" lengthAdjust="spacingAndGlyphs" transform="rotate(-45 175.9 59.2)">end</text>
<line x1="184.7" y1="51.3" x2="184.7" y2="53" stroke="#231f20" stroke-width="0.8"/>
<text x="186.9" y="59.2" font-size="7.2" stroke="#231f20" stroke-width="0.25" text-anchor="end" textLength="13.5" lengthAdjust="spacingAndGlyphs" transform="rotate(-45 186.9 59.2)">+20kb</text>
<rect x="151.8" y="73.4" width="32.9" height="3.4" fill="url(#g176)"/>
<rect x="151.8" y="76" width="32.9" height="3.4" fill="url(#g177)"/>
<rect x="151.8" y="78.6" width="32.9" height="3.4" fill="url(#g178)"/>
<rect x="151.8" y="81.3" width="32.9" height="3.4" fill="url(#g179)"/>
<rect x="151.8" y="83.9" width="32.9" height="3.4" fill="url(#g180)"/>
<rect x="151.8" y="86.5" width="32.9" height="3.4" fill="url(#g181)"/>
<rect x="151.8" y="89.1" width="32.9" height="3.4" fill="url(#g182)"/>
<rect x="151.8" y="91.8" width="32.9" height="3.4" fill="url(#g183)"/>
<rect x="151.8" y="94.4" width="32.9" height="3.4" fill="url(#g184)"/>
<rect x="151.8" y="97" width="32.9" height="3.4" fill="url(#g185)"/>
<rect x="151.8" y="99.6" width="32.9" height="3.4" fill="url(#g186)"/>
<rect x="151.8" y="102.2" width="32.9" height="3.4" fill="url(#g187)"/>
<rect x="151.8" y="104.9" width="32.9" height="3.4" fill="url(#g188)"/>
<rect x="151.8" y="107.5" width="32.9" height="3.4" fill="url(#g189)"/>
<rect x="151.8" y="110.1" width="32.9" height="3.4" fill="url(#g190)"/>
<rect x="151.8" y="112.7" width="32.9" height="3.4" fill="url(#g191)"/>
<rect x="151.8" y="115.4" width="32.9" height="3.4" fill="url(#g192)"/>
<rect x="151.8" y="118" width="32.9" height="3.4" fill="url(#g193)"/>
<rect x="151.8" y="120.6" width="32.9" height="3.4" fill="url(#g194)"/>
<rect x="151.8" y="123.2" width="32.9" height="3.4" fill="url(#g195)"/>
<rect x="151.8" y="125.9" width="32.9" height="3.4" fill="url(#g196)"/>
<rect x="151.8" y="128.5" width="32.9" height="3.4" fill="url(#g197)"/>
<rect x="151.8" y="131.1" width="32.9" height="3.4" fill="url(#g198)"/>
<rect x="151.8" y="133.7" width="32.9" height="3.4" fill="url(#g199)"/>
<rect x="151.8" y="136.3" width="32.9" height="3.4" fill="url(#g200)"/>
<rect x="151.8" y="139" width="32.9" height="3.4" fill="url(#g201)"/>
<rect x="151.8" y="141.6" width="32.9" height="3.4" fill="url(#g202)"/>
<rect x="151.8" y="144.2" width="32.9" height="3.4" fill="url(#g203)"/>
<rect x="151.8" y="146.8" width="32.9" height="3.4" fill="url(#g204)"/>
<rect x="151.8" y="149.5" width="32.9" height="3.4" fill="url(#g205)"/>
<rect x="151.8" y="152.1" width="32.9" height="3.4" fill="url(#g206)"/>
<rect x="151.8" y="154.7" width="32.9" height="3.4" fill="url(#g207)"/>
<rect x="151.8" y="157.3" width="32.9" height="3.4" fill="url(#g208)"/>
<rect x="151.8" y="159.9" width="32.9" height="3.4" fill="url(#g209)"/>
<rect x="151.8" y="162.6" width="32.9" height="3.4" fill="url(#g210)"/>
<rect x="151.8" y="165.2" width="32.9" height="3.4" fill="url(#g211)"/>
<rect x="151.8" y="167.8" width="32.9" height="3.4" fill="url(#g212)"/>
<rect x="151.8" y="170.4" width="32.9" height="3.4" fill="url(#g213)"/>
<rect x="151.8" y="173.1" width="32.9" height="3.4" fill="url(#g214)"/>
<rect x="151.8" y="175.7" width="32.9" height="2.6" fill="url(#g215)"/>
<rect x="151.8" y="73.4" width="32.9" height="104.9" fill="none" stroke="#231f20" stroke-width="0.9"/>
<rect x="151.8" y="181.8" width="32.9" height="3" fill="url(#g216)"/>
<rect x="151.8" y="184" width="32.9" height="3" fill="url(#g217)"/>
<rect x="151.8" y="186.2" width="32.9" height="3" fill="url(#g218)"/>
<rect x="151.8" y="188.4" width="32.9" height="3" fill="url(#g219)"/>
<rect x="151.8" y="190.6" width="32.9" height="3" fill="url(#g220)"/>
<rect x="151.8" y="192.7" width="32.9" height="3" fill="url(#g221)"/>
<rect x="151.8" y="194.9" width="32.9" height="3" fill="url(#g222)"/>
<rect x="151.8" y="197.1" width="32.9" height="3" fill="url(#g223)"/>
<rect x="151.8" y="199.3" width="32.9" height="2.2" fill="url(#g224)"/>
<rect x="151.8" y="181.8" width="32.9" height="19.7" fill="none" stroke="#231f20" stroke-width="0.9"/>
<line x1="151.8" y1="201.5" x2="151.8" y2="203" stroke="#231f20" stroke-width="0.8"/>
<line x1="168.2" y1="201.5" x2="168.2" y2="203" stroke="#231f20" stroke-width="0.8"/>
<line x1="184.7" y1="201.5" x2="184.7" y2="203" stroke="#231f20" stroke-width="0.8"/>
<text x="154" y="209.4" font-size="7.2" stroke="#231f20" stroke-width="0.25" text-anchor="end" textLength="13.5" lengthAdjust="spacingAndGlyphs" transform="rotate(-45 154 209.4)">−10kb</text>
<text x="186.9" y="209.4" font-size="7.2" stroke="#231f20" stroke-width="0.25" text-anchor="end" textLength="13.5" lengthAdjust="spacingAndGlyphs" transform="rotate(-45 186.9 209.4)">+10kb</text>
<text x="168.2" y="209.8" font-size="7.4" stroke="#231f20" stroke-width="0.2" text-anchor="middle" textLength="14.5" lengthAdjust="spacingAndGlyphs">center</text>
<text x="208.3" y="27.6" font-size="6.3" text-anchor="middle">Y1503C</text>
<rect x="191.9" y="29.5" width="32.9" height="3.3" fill="#8a80c0" stroke="#333" stroke-width="0.4"/>
<rect x="191.9" y="34.4" width="32.9" height="3.2" fill="url(#g225)"/>
<rect x="191.9" y="36.8" width="32.9" height="3.2" fill="url(#g226)"/>
<rect x="191.9" y="39.2" width="32.9" height="3.2" fill="url(#g227)"/>
<rect x="191.9" y="41.6" width="32.9" height="3.2" fill="url(#g228)"/>
<rect x="191.9" y="44.1" width="32.9" height="3.2" fill="url(#g229)"/>
<rect x="191.9" y="46.5" width="32.9" height="3.2" fill="url(#g230)"/>
<rect x="191.9" y="48.9" width="32.9" height="2.4" fill="url(#g231)"/>
<rect x="191.9" y="34.4" width="32.9" height="16.9" fill="none" stroke="#231f20" stroke-width="0.9"/>
<line x1="191.9" y1="51.3" x2="191.9" y2="53" stroke="#231f20" stroke-width="0.8"/>
<text x="194.1" y="59.2" font-size="7.2" stroke="#231f20" stroke-width="0.25" text-anchor="end" textLength="13.5" lengthAdjust="spacingAndGlyphs" transform="rotate(-45 194.1 59.2)">−20kb</text>
<line x1="202.9" y1="51.3" x2="202.9" y2="53" stroke="#231f20" stroke-width="0.8"/>
<text x="205.1" y="59.2" font-size="7.2" stroke="#231f20" stroke-width="0.25" text-anchor="end" textLength="11.5" lengthAdjust="spacingAndGlyphs" transform="rotate(-45 205.1 59.2)">start</text>
<line x1="213.8" y1="51.3" x2="213.8" y2="53" stroke="#231f20" stroke-width="0.8"/>
<text x="216" y="59.2" font-size="7.2" stroke="#231f20" stroke-width="0.25" text-anchor="end" textLength="8.5" lengthAdjust="spacingAndGlyphs" transform="rotate(-45 216 59.2)">end</text>
<line x1="224.8" y1="51.3" x2="224.8" y2="53" stroke="#231f20" stroke-width="0.8"/>
<text x="227" y="59.2" font-size="7.2" stroke="#231f20" stroke-width="0.25" text-anchor="end" textLength="13.5" lengthAdjust="spacingAndGlyphs" transform="rotate(-45 227 59.2)">+20kb</text>
<rect x="191.9" y="73.4" width="32.9" height="3.4" fill="url(#g232)"/>
<rect x="191.9" y="76" width="32.9" height="3.4" fill="url(#g233)"/>
<rect x="191.9" y="78.6" width="32.9" height="3.4" fill="url(#g234)"/>
<rect x="191.9" y="81.3" width="32.9" height="3.4" fill="url(#g235)"/>
<rect x="191.9" y="83.9" width="32.9" height="3.4" fill="url(#g236)"/>
<rect x="191.9" y="86.5" width="32.9" height="3.4" fill="url(#g237)"/>
<rect x="191.9" y="89.1" width="32.9" height="3.4" fill="url(#g238)"/>
<rect x="191.9" y="91.8" width="32.9" height="3.4" fill="url(#g239)"/>
<rect x="191.9" y="94.4" width="32.9" height="3.4" fill="url(#g240)"/>
<rect x="191.9" y="97" width="32.9" height="3.4" fill="url(#g241)"/>
<rect x="191.9" y="99.6" width="32.9" height="3.4" fill="url(#g242)"/>
<rect x="191.9" y="102.2" width="32.9" height="3.4" fill="url(#g243)"/>
<rect x="191.9" y="104.9" width="32.9" height="3.4" fill="url(#g244)"/>
<rect x="191.9" y="107.5" width="32.9" height="3.4" fill="url(#g245)"/>
<rect x="191.9" y="110.1" width="32.9" height="3.4" fill="url(#g246)"/>
<rect x="191.9" y="112.7" width="32.9" height="3.4" fill="url(#g247)"/>
<rect x="191.9" y="115.4" width="32.9" height="3.4" fill="url(#g248)"/>
<rect x="191.9" y="118" width="32.9" height="3.4" fill="url(#g249)"/>
<rect x="191.9" y="120.6" width="32.9" height="3.4" fill="url(#g250)"/>
<rect x="191.9" y="123.2" width="32.9" height="3.4" fill="url(#g251)"/>
<rect x="191.9" y="125.9" width="32.9" height="3.4" fill="url(#g252)"/>
<rect x="191.9" y="128.5" width="32.9" height="3.4" fill="url(#g253)"/>
<rect x="191.9" y="131.1" width="32.9" height="3.4" fill="url(#g254)"/>
<rect x="191.9" y="133.7" width="32.9" height="3.4" fill="url(#g255)"/>
<rect x="191.9" y="136.3" width="32.9" height="3.4" fill="url(#g256)"/>
<rect x="191.9" y="139" width="32.9" height="3.4" fill="url(#g257)"/>
<rect x="191.9" y="141.6" width="32.9" height="3.4" fill="url(#g258)"/>
<rect x="191.9" y="144.2" width="32.9" height="3.4" fill="url(#g259)"/>
<rect x="191.9" y="146.8" width="32.9" height="3.4" fill="url(#g260)"/>
<rect x="191.9" y="149.5" width="32.9" height="3.4" fill="url(#g261)"/>
<rect x="191.9" y="152.1" width="32.9" height="3.4" fill="url(#g262)"/>
<rect x="191.9" y="154.7" width="32.9" height="3.4" fill="url(#g263)"/>
<rect x="191.9" y="157.3" width="32.9" height="3.4" fill="url(#g264)"/>
<rect x="191.9" y="159.9" width="32.9" height="3.4" fill="url(#g265)"/>
<rect x="191.9" y="162.6" width="32.9" height="3.4" fill="url(#g266)"/>
<rect x="191.9" y="165.2" width="32.9" height="3.4" fill="url(#g267)"/>
<rect x="191.9" y="167.8" width="32.9" height="3.4" fill="url(#g268)"/>
<rect x="191.9" y="170.4" width="32.9" height="3.4" fill="url(#g269)"/>
<rect x="191.9" y="173.1" width="32.9" height="3.4" fill="url(#g270)"/>
<rect x="191.9" y="175.7" width="32.9" height="2.6" fill="url(#g271)"/>
<rect x="191.9" y="73.4" width="32.9" height="104.9" fill="none" stroke="#231f20" stroke-width="0.9"/>
<rect x="191.9" y="181.8" width="32.9" height="3" fill="url(#g272)"/>
<rect x="191.9" y="184" width="32.9" height="3" fill="url(#g273)"/>
<rect x="191.9" y="186.2" width="32.9" height="3" fill="url(#g274)"/>
<rect x="191.9" y="188.4" width="32.9" height="3" fill="url(#g275)"/>
<rect x="191.9" y="190.6" width="32.9" height="3" fill="url(#g276)"/>
<rect x="191.9" y="192.7" width="32.9" height="3" fill="url(#g277)"/>
<rect x="191.9" y="194.9" width="32.9" height="3" fill="url(#g278)"/>
<rect x="191.9" y="197.1" width="32.9" height="3" fill="url(#g279)"/>
<rect x="191.9" y="199.3" width="32.9" height="2.2" fill="url(#g280)"/>
<rect x="191.9" y="181.8" width="32.9" height="19.7" fill="none" stroke="#231f20" stroke-width="0.9"/>
<line x1="191.9" y1="201.5" x2="191.9" y2="203" stroke="#231f20" stroke-width="0.8"/>
<line x1="208.3" y1="201.5" x2="208.3" y2="203" stroke="#231f20" stroke-width="0.8"/>
<line x1="224.8" y1="201.5" x2="224.8" y2="203" stroke="#231f20" stroke-width="0.8"/>
<text x="194.1" y="209.4" font-size="7.2" stroke="#231f20" stroke-width="0.25" text-anchor="end" textLength="13.5" lengthAdjust="spacingAndGlyphs" transform="rotate(-45 194.1 209.4)">−10kb</text>
<text x="227" y="209.4" font-size="7.2" stroke="#231f20" stroke-width="0.25" text-anchor="end" textLength="13.5" lengthAdjust="spacingAndGlyphs" transform="rotate(-45 227 209.4)">+10kb</text>
<text x="208.3" y="209.8" font-size="7.4" stroke="#231f20" stroke-width="0.2" text-anchor="middle" textLength="14.5" lengthAdjust="spacingAndGlyphs">center</text>
<text x="71.7" y="229.8" font-size="6.7" textLength="58" lengthAdjust="spacingAndGlyphs">H3K27Ac RPKM (RL)</text>
<rect x="131.8" y="225.3" width="40.2" height="4.4" fill="url(#g281)" stroke="#231f20" stroke-width="0.7"/>
<line x1="142" y1="229.7" x2="142" y2="231" stroke="#231f20" stroke-width="0.7"/>
<text x="142" y="238.6" font-size="7.2" text-anchor="middle">10</text>
<line x1="151.8" y1="229.7" x2="151.8" y2="231" stroke="#231f20" stroke-width="0.7"/>
<text x="151.8" y="238.6" font-size="7.2" text-anchor="middle">20</text>
<line x1="161.6" y1="229.7" x2="161.6" y2="231" stroke="#231f20" stroke-width="0.7"/>
<text x="161.6" y="238.6" font-size="7.2" text-anchor="middle">30</text>
<line x1="171.4" y1="229.7" x2="171.4" y2="231" stroke="#231f20" stroke-width="0.7"/>
<text x="171.4" y="238.6" font-size="7.2" text-anchor="middle">40</text>
<text x="235.8" y="16.4" font-size="10.8" font-weight="bold">B</text>
<text x="389.4" y="17.3" font-size="8.8" text-anchor="middle">RL</text>
<line x1="268.5" y1="21.2" x2="511" y2="21.2" stroke="#231f20" stroke-width="0.9"/>
<text x="287" y="29.2" font-size="6.2" text-anchor="middle">H3K27Ac</text>
<text x="338.1" y="29.2" font-size="6.2" text-anchor="middle">H3K4me1</text>
<text x="389.2" y="29.2" font-size="6.2" text-anchor="middle">H3K4me3</text>
<text x="440.3" y="29.2" font-size="6.2" text-anchor="middle">BRD4</text>
<text x="491.4" y="29.2" font-size="6.2" text-anchor="middle">ATAC</text>
<text x="242.5" y="51" font-size="8.8" text-anchor="middle" fill="#333" textLength="45" lengthAdjust="spacingAndGlyphs" transform="rotate(-90 242.5 51)">Super-enhancer</text>
<text x="252" y="51" font-size="8.8" text-anchor="middle" fill="#333" textLength="32" lengthAdjust="spacingAndGlyphs" transform="rotate(-90 252 51)">(n = 146)</text>
<text x="242.7" y="118.3" font-size="8.8" text-anchor="middle" fill="#333" textLength="27" lengthAdjust="spacingAndGlyphs" transform="rotate(-90 242.7 118.3)">Enhancer</text>
<text x="252.2" y="118.3" font-size="8.8" text-anchor="middle" fill="#333" textLength="32.2" lengthAdjust="spacingAndGlyphs" transform="rotate(-90 252.2 118.3)">(n = 1345)</text>
<text x="242.7" y="181.6" font-size="8.8" text-anchor="middle" fill="#333" textLength="27.6" lengthAdjust="spacingAndGlyphs" transform="rotate(-90 242.7 181.6)">Promoter</text>
<text x="252.2" y="181.6" font-size="8.8" text-anchor="middle" fill="#333" textLength="30.4" lengthAdjust="spacingAndGlyphs" transform="rotate(-90 252.2 181.6)">(n = 229)</text>
<line x1="267.1" y1="36.1" x2="268.5" y2="36.1" stroke="#231f20" stroke-width="0.7"/>
<text x="266.2" y="38.5" font-size="6.9" text-anchor="end">25</text>
<line x1="267.1" y1="44" x2="268.5" y2="44" stroke="#231f20" stroke-width="0.7"/>
<text x="266.2" y="46.4" font-size="6.9" text-anchor="end">20</text>
<line x1="267.1" y1="51.9" x2="268.5" y2="51.9" stroke="#231f20" stroke-width="0.7"/>
<text x="266.2" y="54.3" font-size="6.9" text-anchor="end">15</text>
<line x1="267.1" y1="59.8" x2="268.5" y2="59.8" stroke="#231f20" stroke-width="0.7"/>
<text x="266.2" y="62.2" font-size="6.9" text-anchor="end">10</text>
<line x1="267.1" y1="67.7" x2="268.5" y2="67.7" stroke="#231f20" stroke-width="0.7"/>
<text x="266.2" y="70.1" font-size="6.9" text-anchor="end">5</text>
<svg x="268.5" y="32.5" width="37" height="40.4" overflow="hidden"><g transform="translate(-268.5 -32.5)">
<path d="M268.5 63.9 269 63.8 269.5 64.2 270 65.7 270.5 66.2 271 67.5 271.5 68 272 68.6 272.5 68.6 273 68.7 273.5 68.3 274 68.3 274.5 68.9 275 68.8 275.5 68.3 276 68.9 276.5 68.8 277 68.7 277.5 68.9 278 68.8 278.5 68.6 279 68 279.5 65.6 280 62.3 280.5 54.5 281 53.9 281.4 54.3 281.5 52.7 282 53.4 282.5 52.8 283 54.6 283.5 55.2 284 52.6 284.5 53.7 285 53.3 285.5 52.8 286 52.5 286.5 54.4 287 54 287.5 51.8 288 53.4 288.5 54.4 289 53 289.5 54.6 290 52.6 290.5 55.6 291 52.5 291.5 53.5 292 51.9 292.5 39.4 292.8 38.5 293 39.6 293.5 50.6 294 62.1 294.5 65.8 295 67.8 295.5 68.6 296 68.4 296.5 68.9 297 68.8 297.5 68.5 298 68.3 298.5 68.5 299 68.5 299.5 68.4 300 68.7 300.5 68.3 301 68.4 301.5 68.6 302 68.3 302.5 67.6 303 67.3 303.5 66.6 304 65.2 304.5 64.5 305 63.8 305.5 63.5" fill="none" stroke="#9085c8" stroke-width="3.2" stroke-opacity="0.3" stroke-linejoin="round"/>
<path d="M268.5 63.9 269 63.8 269.5 64.2 270 65.7 270.5 66.2 271 67.5 271.5 68 272 68.6 272.5 68.6 273 68.7 273.5 68.3 274 68.3 274.5 68.9 275 68.8 275.5 68.3 276 68.9 276.5 68.8 277 68.7 277.5 68.9 278 68.8 278.5 68.6 279 68 279.5 65.6 280 62.3 280.5 54.5 281 53.9 281.4 54.3 281.5 52.7 282 53.4 282.5 52.8 283 54.6 283.5 55.2 284 52.6 284.5 53.7 285 53.3 285.5 52.8 286 52.5 286.5 54.4 287 54 287.5 51.8 288 53.4 288.5 54.4 289 53 289.5 54.6 290 52.6 290.5 55.6 291 52.5 291.5 53.5 292 51.9 292.5 39.4 292.8 38.5 293 39.6 293.5 50.6 294 62.1 294.5 65.8 295 67.8 295.5 68.6 296 68.4 296.5 68.9 297 68.8 297.5 68.5 298 68.3 298.5 68.5 299 68.5 299.5 68.4 300 68.7 300.5 68.3 301 68.4 301.5 68.6 302 68.3 302.5 67.6 303 67.3 303.5 66.6 304 65.2 304.5 64.5 305 63.8 305.5 63.5" fill="none" stroke="#9085c8" stroke-width="0.9" stroke-opacity="0.9"/>
<path d="M268.5 63.3 269 64.1 269.5 64.6 270 65.8 270.5 66.5 271 67.2 271.5 67.6 272 68.1 272.5 68.4 273 68.6 273.5 68.6 274 68.8 274.5 68.4 275 68.4 275.5 68.4 276 68.9 276.5 68.5 277 68.5 277.5 68.6 278 68.3 278.5 68.2 279 67.8 279.5 65.9 280 62.4 280.5 54.8 281 55.3 281.4 54.1 281.5 54 282 54.3 282.5 55.6 283 56.4 283.5 54.1 284 53.2 284.5 55.4 285 55.6 285.5 55.5 286 56 286.5 53.6 287 52.4 287.5 53.1 288 54.9 288.5 53.5 289 56.1 289.5 53 290 55.2 290.5 56.6 291 54.1 291.5 56.1 292 53.1 292.5 44.4 292.8 39.4 293 40.9 293.5 51 294 62.9 294.5 65.9 295 68.2 295.5 68.7 296 68.5 296.5 68.8 297 68.8 297.5 68.6 298 68.9 298.5 68.4 299 68.9 299.5 68.4 300 68.4 300.5 68.6 301 68.9 301.5 68.2 302 68.6 302.5 67.8 303 67.3 303.5 66.7 304 65.3 304.5 64.4 305 63.8 305.5 63.7" fill="none" stroke="#5aaee0" stroke-width="3.2" stroke-opacity="0.3" stroke-linejoin="round"/>
<path d="M268.5 63.3 269 64.1 269.5 64.6 270 65.8 270.5 66.5 271 67.2 271.5 67.6 272 68.1 272.5 68.4 273 68.6 273.5 68.6 274 68.8 274.5 68.4 275 68.4 275.5 68.4 276 68.9 276.5 68.5 277 68.5 277.5 68.6 278 68.3 278.5 68.2 279 67.8 279.5 65.9 280 62.4 280.5 54.8 281 55.3 281.4 54.1 281.5 54 282 54.3 282.5 55.6 283 56.4 283.5 54.1 284 53.2 284.5 55.4 285 55.6 285.5 55.5 286 56 286.5 53.6 287 52.4 287.5 53.1 288 54.9 288.5 53.5 289 56.1 289.5 53 290 55.2 290.5 56.6 291 54.1 291.5 56.1 292 53.1 292.5 44.4 292.8 39.4 293 40.9 293.5 51 294 62.9 294.5 65.9 295 68.2 295.5 68.7 296 68.5 296.5 68.8 297 68.8 297.5 68.6 298 68.9 298.5 68.4 299 68.9 299.5 68.4 300 68.4 300.5 68.6 301 68.9 301.5 68.2 302 68.6 302.5 67.8 303 67.3 303.5 66.7 304 65.3 304.5 64.4 305 63.8 305.5 63.7" fill="none" stroke="#5aaee0" stroke-width="0.9" stroke-opacity="0.9"/>
<path d="M268.5 63.6 269 63.8 269.5 64.7 270 65.2 270.5 66 271 67 271.5 67.5 272 68.4 272.5 68.1 273 68.9 273.5 68.6 274 68.9 274.5 68.7 275 68.5 275.5 68.5 276 68.7 276.5 68.8 277 68.9 277.5 68.7 278 68.8 278.5 68.7 279 67.2 279.5 64.2 280 58 280.5 45.8 281 45.3 281.4 46.6 281.5 46.2 282 44.9 282.5 44.1 283 42.9 283.5 43.7 284 42.7 284.5 42.8 285 43.5 285.5 43.4 286 46.1 286.5 45.5 287 46.3 287.5 42.8 288 43.4 288.5 43.8 289 45.4 289.5 45.1 290 46 290.5 44.2 291 42.8 291.5 45.7 292 45.4 292.5 39.2 292.8 36.5 293 36.7 293.5 43.1 294 58 294.5 64.5 295 67.7 295.5 68.7 296 68.4 296.5 68.7 297 68.3 297.5 68.3 298 68.4 298.5 68.7 299 68.4 299.5 68.9 300 68.9 300.5 68.6 301 68.6 301.5 68.7 302 68.4 302.5 68.2 303 66.9 303.5 66.2 304 65.1 304.5 64.2 305 63.9 305.5 63.4" fill="none" stroke="#f5a742" stroke-width="3.2" stroke-opacity="0.3" stroke-linejoin="round"/>
<path d="M268.5 63.6 269 63.8 269.5 64.7 270 65.2 270.5 66 271 67 271.5 67.5 272 68.4 272.5 68.1 273 68.9 273.5 68.6 274 68.9 274.5 68.7 275 68.5 275.5 68.5 276 68.7 276.5 68.8 277 68.9 277.5 68.7 278 68.8 278.5 68.7 279 67.2 279.5 64.2 280 58 280.5 45.8 281 45.3 281.4 46.6 281.5 46.2 282 44.9 282.5 44.1 283 42.9 283.5 43.7 284 42.7 284.5 42.8 285 43.5 285.5 43.4 286 46.1 286.5 45.5 287 46.3 287.5 42.8 288 43.4 288.5 43.8 289 45.4 289.5 45.1 290 46 290.5 44.2 291 42.8 291.5 45.7 292 45.4 292.5 39.2 292.8 36.5 293 36.7 293.5 43.1 294 58 294.5 64.5 295 67.7 295.5 68.7 296 68.4 296.5 68.7 297 68.3 297.5 68.3 298 68.4 298.5 68.7 299 68.4 299.5 68.9 300 68.9 300.5 68.6 301 68.6 301.5 68.7 302 68.4 302.5 68.2 303 66.9 303.5 66.2 304 65.1 304.5 64.2 305 63.9 305.5 63.4" fill="none" stroke="#f5a742" stroke-width="0.9" stroke-opacity="0.9"/>
<path d="M268.5 63.7 269 63.6 269.5 64.3 270 65.7 270.5 66.8 271 67.4 271.5 67.8 272 68.3 272.5 68.8 273 68.3 273.5 68.4 274 68.7 274.5 69 275 68.4 275.5 68.6 276 69 276.5 68.8 277 68.6 277.5 68.4 278 68.6 278.5 68.3 279 67.5 279.5 63.8 280 56.1 280.5 42.5 281 42.6 281.4 41.7 281.5 43.6 282 43.1 282.5 41.9 283 41.2 283.5 40.9 284 40.4 284.5 41.4 285 42.9 285.5 40.1 286 42.8 286.5 41 287 41.3 287.5 40.2 288 40.1 288.5 42.1 289 40.5 289.5 40.4 290 41.4 290.5 42.9 291 39.9 291.5 41.3 292 42.4 292.5 37 292.8 32.3 293 35.4 293.5 40.6 294 56.2 294.5 63.3 295 67.1 295.5 68.2 296 69 296.5 69 297 68.3 297.5 68.4 298 69 298.5 69 299 68.8 299.5 68.3 300 68.8 300.5 68.5 301 68.2 301.5 68.3 302 67.9 302.5 68 303 67.5 303.5 66.8 304 65.3 304.5 64.8 305 63.5 305.5 63.4" fill="none" stroke="#2ca02c" stroke-width="3.2" stroke-opacity="0.3" stroke-linejoin="round"/>
<path d="M268.5 63.7 269 63.6 269.5 64.3 270 65.7 270.5 66.8 271 67.4 271.5 67.8 272 68.3 272.5 68.8 273 68.3 273.5 68.4 274 68.7 274.5 69 275 68.4 275.5 68.6 276 69 276.5 68.8 277 68.6 277.5 68.4 278 68.6 278.5 68.3 279 67.5 279.5 63.8 280 56.1 280.5 42.5 281 42.6 281.4 41.7 281.5 43.6 282 43.1 282.5 41.9 283 41.2 283.5 40.9 284 40.4 284.5 41.4 285 42.9 285.5 40.1 286 42.8 286.5 41 287 41.3 287.5 40.2 288 40.1 288.5 42.1 289 40.5 289.5 40.4 290 41.4 290.5 42.9 291 39.9 291.5 41.3 292 42.4 292.5 37 292.8 32.3 293 35.4 293.5 40.6 294 56.2 294.5 63.3 295 67.1 295.5 68.2 296 69 296.5 69 297 68.3 297.5 68.4 298 69 298.5 69 299 68.8 299.5 68.3 300 68.8 300.5 68.5 301 68.2 301.5 68.3 302 67.9 302.5 68 303 67.5 303.5 66.8 304 65.3 304.5 64.8 305 63.5 305.5 63.4" fill="none" stroke="#2ca02c" stroke-width="0.9" stroke-opacity="0.9"/>
<path d="M268.5 63.8 269 63.6 269.5 64.8 270 65.4 270.5 66.7 271 67 271.5 67.5 272 67.9 272.5 68.8 273 68.3 273.5 68.6 274 68.4 274.5 68.6 275 68.6 275.5 68.6 276 68.4 276.5 69 277 69 277.5 68.6 278 68.8 278.5 68.5 279 67.7 279.5 63.9 280 57.9 280.5 44.6 281 44.4 281.4 44.7 281.5 46 282 43.7 282.5 45.4 283 44.3 283.5 45.5 284 41.8 284.5 43.5 285 44.2 285.5 45.2 286 42.5 286.5 42 287 42 287.5 45.1 288 44 288.5 44.3 289 42.5 289.5 45.1 290 43.3 290.5 41.9 291 42.9 291.5 46.1 292 44.4 292.5 38.1 292.8 33.5 293 35.4 293.5 42.3 294 57.6 294.5 64.1 295 67.3 295.5 68.3 296 68.3 296.5 68.5 297 68.4 297.5 68.3 298 68.4 298.5 68.5 299 69 299.5 68.5 300 68.4 300.5 68.7 301 68.3 301.5 68.7 302 67.9 302.5 67.9 303 67.1 303.5 66.6 304 65.6 304.5 64.6 305 64 305.5 63.9" fill="none" stroke="#c0142e" stroke-width="3.2" stroke-opacity="0.3" stroke-linejoin="round"/>
<path d="M268.5 63.8 269 63.6 269.5 64.8 270 65.4 270.5 66.7 271 67 271.5 67.5 272 67.9 272.5 68.8 273 68.3 273.5 68.6 274 68.4 274.5 68.6 275 68.6 275.5 68.6 276 68.4 276.5 69 277 69 277.5 68.6 278 68.8 278.5 68.5 279 67.7 279.5 63.9 280 57.9 280.5 44.6 281 44.4 281.4 44.7 281.5 46 282 43.7 282.5 45.4 283 44.3 283.5 45.5 284 41.8 284.5 43.5 285 44.2 285.5 45.2 286 42.5 286.5 42 287 42 287.5 45.1 288 44 288.5 44.3 289 42.5 289.5 45.1 290 43.3 290.5 41.9 291 42.9 291.5 46.1 292 44.4 292.5 38.1 292.8 33.5 293 35.4 293.5 42.3 294 57.6 294.5 64.1 295 67.3 295.5 68.3 296 68.3 296.5 68.5 297 68.4 297.5 68.3 298 68.4 298.5 68.5 299 69 299.5 68.5 300 68.4 300.5 68.7 301 68.3 301.5 68.7 302 67.9 302.5 67.9 303 67.1 303.5 66.6 304 65.6 304.5 64.6 305 64 305.5 63.9" fill="none" stroke="#c0142e" stroke-width="0.9" stroke-opacity="0.9"/>
</g></svg>
<line x1="318.2" y1="35.2" x2="319.6" y2="35.2" stroke="#231f20" stroke-width="0.7"/>
<text x="317.3" y="37.6" font-size="6.9" text-anchor="end">30</text>
<line x1="318.2" y1="42.2" x2="319.6" y2="42.2" stroke="#231f20" stroke-width="0.7"/>
<text x="317.3" y="44.6" font-size="6.9" text-anchor="end">25</text>
<line x1="318.2" y1="49.2" x2="319.6" y2="49.2" stroke="#231f20" stroke-width="0.7"/>
<text x="317.3" y="51.6" font-size="6.9" text-anchor="end">20</text>
<line x1="318.2" y1="56.1" x2="319.6" y2="56.1" stroke="#231f20" stroke-width="0.7"/>
<text x="317.3" y="58.5" font-size="6.9" text-anchor="end">15</text>
<line x1="318.2" y1="63.1" x2="319.6" y2="63.1" stroke="#231f20" stroke-width="0.7"/>
<text x="317.3" y="65.5" font-size="6.9" text-anchor="end">10</text>
<line x1="318.2" y1="70.1" x2="319.6" y2="70.1" stroke="#231f20" stroke-width="0.7"/>
<text x="317.3" y="72.5" font-size="6.9" text-anchor="end">5</text>
<svg x="319.6" y="32.5" width="37" height="40.4" overflow="hidden"><g transform="translate(-319.6 -32.5)">
<path d="M319.6 66.5 320.1 66.3 320.6 67.2 321.1 67.7 321.6 68.7 322.1 69.4 322.6 69.8 323.1 70.4 323.6 71 324.1 71.1 324.6 71 325.1 71.3 325.6 71.2 326.1 70.6 326.6 70.6 327.1 71.1 327.6 70.7 328.1 70.7 328.6 70.6 329.1 70.7 329.6 70.7 330.1 70.3 330.6 67 331.1 62.3 331.6 51.9 332.1 51.9 332.5 51.6 332.6 49.6 333.1 53.1 333.6 51.3 334.1 50.7 334.6 51.1 335.1 49.2 335.6 51.5 336.1 49.1 336.6 50.1 337.1 48.8 337.6 52.7 338.1 52.2 338.6 51.8 339.1 49.1 339.6 53.1 340.1 52.1 340.6 50.1 341.1 48.9 341.6 52.7 342.1 51.6 342.6 50.6 343.1 49.8 343.6 46.2 343.9 45 344.1 47.1 344.6 50.8 345.1 62.6 345.6 67.1 346.1 70.2 346.6 71 347.1 70.5 347.6 70.8 348.1 70.9 348.6 70.8 349.1 70.9 349.6 70.8 350.1 71.1 350.6 71.3 351.1 71.3 351.6 71.3 352.1 71 352.6 71.1 353.1 70.9 353.6 70.2 354.1 69.3 354.6 68.8 355.1 68.3 355.6 67.1 356.1 67 356.6 66.8" fill="none" stroke="#9085c8" stroke-width="3.2" stroke-opacity="0.3" stroke-linejoin="round"/>
<path d="M319.6 66.5 320.1 66.3 320.6 67.2 321.1 67.7 321.6 68.7 322.1 69.4 322.6 69.8 323.1 70.4 323.6 71 324.1 71.1 324.6 71 325.1 71.3 325.6 71.2 326.1 70.6 326.6 70.6 327.1 71.1 327.6 70.7 328.1 70.7 328.6 70.6 329.1 70.7 329.6 70.7 330.1 70.3 330.6 67 331.1 62.3 331.6 51.9 332.1 51.9 332.5 51.6 332.6 49.6 333.1 53.1 333.6 51.3 334.1 50.7 334.6 51.1 335.1 49.2 335.6 51.5 336.1 49.1 336.6 50.1 337.1 48.8 337.6 52.7 338.1 52.2 338.6 51.8 339.1 49.1 339.6 53.1 340.1 52.1 340.6 50.1 341.1 48.9 341.6 52.7 342.1 51.6 342.6 50.6 343.1 49.8 343.6 46.2 343.9 45 344.1 47.1 344.6 50.8 345.1 62.6 345.6 67.1 346.1 70.2 346.6 71 347.1 70.5 347.6 70.8 348.1 70.9 348.6 70.8 349.1 70.9 349.6 70.8 350.1 71.1 350.6 71.3 351.1 71.3 351.6 71.3 352.1 71 352.6 71.1 353.1 70.9 353.6 70.2 354.1 69.3 354.6 68.8 355.1 68.3 355.6 67.1 356.1 67 356.6 66.8" fill="none" stroke="#9085c8" stroke-width="0.9" stroke-opacity="0.9"/>
<path d="M319.6 66.6 320.1 66.8 320.6 67.1 321.1 68.2 321.6 68.8 322.1 70 322.6 69.9 323.1 70.7 323.6 70.5 324.1 71.3 324.6 70.6 325.1 71.2 325.6 70.6 326.1 70.7 326.6 70.8 327.1 71.1 327.6 71.3 328.1 71.2 328.6 70.6 329.1 71.2 329.6 70.6 330.1 69.9 330.6 67.2 331.1 62.4 331.6 52.3 332.1 52.2 332.5 49.5 332.6 52.2 333.1 50.9 333.6 51.1 334.1 52.6 334.6 53.2 335.1 53.3 335.6 49.5 336.1 52.7 336.6 48.8 337.1 51.5 337.6 49.9 338.1 52.5 338.6 49.6 339.1 52 339.6 51.5 340.1 50.9 340.6 52.8 341.1 52.3 341.6 49.9 342.1 52.3 342.6 52 343.1 49.7 343.6 49.7 343.9 49 344.1 48.3 344.6 51 345.1 62.3 345.6 67.2 346.1 70 346.6 70.4 347.1 71.3 347.6 70.8 348.1 70.7 348.6 71.2 349.1 71.3 349.6 71 350.1 71.3 350.6 71 351.1 70.8 351.6 71.2 352.1 71.2 352.6 70.8 353.1 70.8 353.6 70.4 354.1 69.7 354.6 69.3 355.1 68.5 355.6 67.4 356.1 66.7 356.6 66.1" fill="none" stroke="#5aaee0" stroke-width="3.2" stroke-opacity="0.3" stroke-linejoin="round"/>
<path d="M319.6 66.6 320.1 66.8 320.6 67.1 321.1 68.2 321.6 68.8 322.1 70 322.6 69.9 323.1 70.7 323.6 70.5 324.1 71.3 324.6 70.6 325.1 71.2 325.6 70.6 326.1 70.7 326.6 70.8 327.1 71.1 327.6 71.3 328.1 71.2 328.6 70.6 329.1 71.2 329.6 70.6 330.1 69.9 330.6 67.2 331.1 62.4 331.6 52.3 332.1 52.2 332.5 49.5 332.6 52.2 333.1 50.9 333.6 51.1 334.1 52.6 334.6 53.2 335.1 53.3 335.6 49.5 336.1 52.7 336.6 48.8 337.1 51.5 337.6 49.9 338.1 52.5 338.6 49.6 339.1 52 339.6 51.5 340.1 50.9 340.6 52.8 341.1 52.3 341.6 49.9 342.1 52.3 342.6 52 343.1 49.7 343.6 49.7 343.9 49 344.1 48.3 344.6 51 345.1 62.3 345.6 67.2 346.1 70 346.6 70.4 347.1 71.3 347.6 70.8 348.1 70.7 348.6 71.2 349.1 71.3 349.6 71 350.1 71.3 350.6 71 351.1 70.8 351.6 71.2 352.1 71.2 352.6 70.8 353.1 70.8 353.6 70.4 354.1 69.7 354.6 69.3 355.1 68.5 355.6 67.4 356.1 66.7 356.6 66.1" fill="none" stroke="#5aaee0" stroke-width="0.9" stroke-opacity="0.9"/>
<path d="M319.6 66.4 320.1 67.1 320.6 67.5 321.1 67.9 321.6 68.9 322.1 69.4 322.6 69.8 323.1 70.3 323.6 71.1 324.1 70.5 324.6 70.9 325.1 71.1 325.6 71.2 326.1 70.6 326.6 71.2 327.1 71.3 327.6 71.1 328.1 70.6 328.6 71 329.1 70.7 329.6 71.1 330.1 69.7 330.6 66.3 331.1 59.7 331.6 46.2 332.1 46.3 332.5 47.8 332.6 43.8 333.1 46 333.6 47.2 334.1 47.8 334.6 44.7 335.1 45.2 335.6 47.4 336.1 45.2 336.6 43.9 337.1 44.8 337.6 46.2 338.1 44.9 338.6 44.5 339.1 44.3 339.6 46.6 340.1 43.7 340.6 43.2 341.1 44.2 341.6 43.8 342.1 46.2 342.6 43.8 343.1 46.4 343.6 42.9 343.9 40.1 344.1 40.9 344.6 45.4 345.1 59.7 345.6 66.6 346.1 69.7 346.6 71 347.1 71.2 347.6 70.7 348.1 70.9 348.6 70.6 349.1 71 349.6 70.8 350.1 71.3 350.6 70.6 351.1 71.2 351.6 70.9 352.1 70.9 352.6 70.4 353.1 70.6 353.6 69.8 354.1 69.6 354.6 69.2 355.1 67.8 355.6 67.5 356.1 66.3 356.6 66.5" fill="none" stroke="#f5a742" stroke-width="3.2" stroke-opacity="0.3" stroke-linejoin="round"/>
<path d="M319.6 66.4 320.1 67.1 320.6 67.5 321.1 67.9 321.6 68.9 322.1 69.4 322.6 69.8 323.1 70.3 323.6 71.1 324.1 70.5 324.6 70.9 325.1 71.1 325.6 71.2 326.1 70.6 326.6 71.2 327.1 71.3 327.6 71.1 328.1 70.6 328.6 71 329.1 70.7 329.6 71.1 330.1 69.7 330.6 66.3 331.1 59.7 331.6 46.2 332.1 46.3 332.5 47.8 332.6 43.8 333.1 46 333.6 47.2 334.1 47.8 334.6 44.7 335.1 45.2 335.6 47.4 336.1 45.2 336.6 43.9 337.1 44.8 337.6 46.2 338.1 44.9 338.6 44.5 339.1 44.3 339.6 46.6 340.1 43.7 340.6 43.2 341.1 44.2 341.6 43.8 342.1 46.2 342.6 43.8 343.1 46.4 343.6 42.9 343.9 40.1 344.1 40.9 344.6 45.4 345.1 59.7 345.6 66.6 346.1 69.7 346.6 71 347.1 71.2 347.6 70.7 348.1 70.9 348.6 70.6 349.1 71 349.6 70.8 350.1 71.3 350.6 70.6 351.1 71.2 351.6 70.9 352.1 70.9 352.6 70.4 353.1 70.6 353.6 69.8 354.1 69.6 354.6 69.2 355.1 67.8 355.6 67.5 356.1 66.3 356.6 66.5" fill="none" stroke="#f5a742" stroke-width="0.9" stroke-opacity="0.9"/>
<path d="M319.6 66.7 320.1 66.3 320.6 67.4 321.1 68.2 321.6 69.1 322.1 69.5 322.6 70.6 323.1 70.7 323.6 71 324.1 70.6 324.6 71.3 325.1 70.8 325.6 71.1 326.1 71 326.6 70.9 327.1 70.8 327.6 71.2 328.1 71.2 328.6 71.3 329.1 70.5 329.6 71 330.1 69.8 330.6 65.7 331.1 58.4 331.6 44 332.1 44.5 332.5 45.2 332.6 45.4 333.1 43.3 333.6 43.8 334.1 43.8 334.6 41.5 335.1 42.4 335.6 41.4 336.1 40.8 336.6 43.9 337.1 40.8 337.6 43.2 338.1 44.8 338.6 40.9 339.1 44.6 339.6 45 340.1 43.9 340.6 44 341.1 41 341.6 41.6 342.1 43.8 342.6 43.4 343.1 41.1 343.6 37.6 343.9 37 344.1 38.5 344.6 43.1 345.1 58.7 345.6 65.6 346.1 69.4 346.6 70.4 347.1 70.6 347.6 70.5 348.1 71.2 348.6 71.3 349.1 70.6 349.6 70.9 350.1 71.2 350.6 70.8 351.1 71.1 351.6 71.1 352.1 71 352.6 70.7 353.1 70.4 353.6 70.6 354.1 69.5 354.6 68.8 355.1 68.1 355.6 67.1 356.1 66.4 356.6 66.9" fill="none" stroke="#2ca02c" stroke-width="3.2" stroke-opacity="0.3" stroke-linejoin="round"/>
<path d="M319.6 66.7 320.1 66.3 320.6 67.4 321.1 68.2 321.6 69.1 322.1 69.5 322.6 70.6 323.1 70.7 323.6 71 324.1 70.6 324.6 71.3 325.1 70.8 325.6 71.1 326.1 71 326.6 70.9 327.1 70.8 327.6 71.2 328.1 71.2 328.6 71.3 329.1 70.5 329.6 71 330.1 69.8 330.6 65.7 331.1 58.4 331.6 44 332.1 44.5 332.5 45.2 332.6 45.4 333.1 43.3 333.6 43.8 334.1 43.8 334.6 41.5 335.1 42.4 335.6 41.4 336.1 40.8 336.6 43.9 337.1 40.8 337.6 43.2 338.1 44.8 338.6 40.9 339.1 44.6 339.6 45 340.1 43.9 340.6 44 341.1 41 341.6 41.6 342.1 43.8 342.6 43.4 343.1 41.1 343.6 37.6 343.9 37 344.1 38.5 344.6 43.1 345.1 58.7 345.6 65.6 346.1 69.4 346.6 70.4 347.1 70.6 347.6 70.5 348.1 71.2 348.6 71.3 349.1 70.6 349.6 70.9 350.1 71.2 350.6 70.8 351.1 71.1 351.6 71.1 352.1 71 352.6 70.7 353.1 70.4 353.6 70.6 354.1 69.5 354.6 68.8 355.1 68.1 355.6 67.1 356.1 66.4 356.6 66.9" fill="none" stroke="#2ca02c" stroke-width="0.9" stroke-opacity="0.9"/>
<path d="M319.6 66.5 320.1 66.5 320.6 67.1 321.1 68 321.6 69.2 322.1 69.3 322.6 70 323.1 70.8 323.6 70.8 324.1 70.5 324.6 71.2 325.1 71 325.6 70.5 326.1 70.6 326.6 71.2 327.1 70.7 327.6 71.1 328.1 70.8 328.6 70.7 329.1 71.2 329.6 70.9 330.1 69.6 330.6 65.5 331.1 57.8 331.6 42.5 332.1 42.1 332.5 42.2 332.6 43.7 333.1 41.2 333.6 39.4 334.1 40.9 334.6 41.7 335.1 40 335.6 41.1 336.1 42.2 336.6 40.7 337.1 42.7 337.6 39.7 338.1 42 338.6 41.1 339.1 38.5 339.6 39.4 340.1 39.2 340.6 40.2 341.1 40.3 341.6 40.1 342.1 39.1 342.6 42.7 343.1 39.2 343.6 37.3 343.9 36 344.1 35.5 344.6 40.4 345.1 57.1 345.6 65 346.1 69.3 346.6 70.9 347.1 71.3 347.6 70.9 348.1 70.7 348.6 71.1 349.1 71.3 349.6 71.4 350.1 71.2 350.6 70.8 351.1 71.3 351.6 71.1 352.1 71.1 352.6 70.6 353.1 70.2 353.6 70.6 354.1 70 354.6 68.6 355.1 67.7 355.6 67.6 356.1 66.8 356.6 66.5" fill="none" stroke="#c0142e" stroke-width="3.2" stroke-opacity="0.3" stroke-linejoin="round"/>
<path d="M319.6 66.5 320.1 66.5 320.6 67.1 321.1 68 321.6 69.2 322.1 69.3 322.6 70 323.1 70.8 323.6 70.8 324.1 70.5 324.6 71.2 325.1 71 325.6 70.5 326.1 70.6 326.6 71.2 327.1 70.7 327.6 71.1 328.1 70.8 328.6 70.7 329.1 71.2 329.6 70.9 330.1 69.6 330.6 65.5 331.1 57.8 331.6 42.5 332.1 42.1 332.5 42.2 332.6 43.7 333.1 41.2 333.6 39.4 334.1 40.9 334.6 41.7 335.1 40 335.6 41.1 336.1 42.2 336.6 40.7 337.1 42.7 337.6 39.7 338.1 42 338.6 41.1 339.1 38.5 339.6 39.4 340.1 39.2 340.6 40.2 341.1 40.3 341.6 40.1 342.1 39.1 342.6 42.7 343.1 39.2 343.6 37.3 343.9 36 344.1 35.5 344.6 40.4 345.1 57.1 345.6 65 346.1 69.3 346.6 70.9 347.1 71.3 347.6 70.9 348.1 70.7 348.6 71.1 349.1 71.3 349.6 71.4 350.1 71.2 350.6 70.8 351.1 71.3 351.6 71.1 352.1 71.1 352.6 70.6 353.1 70.2 353.6 70.6 354.1 70 354.6 68.6 355.1 67.7 355.6 67.6 356.1 66.8 356.6 66.5" fill="none" stroke="#c0142e" stroke-width="0.9" stroke-opacity="0.9"/>
</g></svg>
<line x1="420.4" y1="34.4" x2="421.8" y2="34.4" stroke="#231f20" stroke-width="0.7"/>
<text x="419.5" y="36.8" font-size="6.9" text-anchor="end">14</text>
<line x1="420.4" y1="41.1" x2="421.8" y2="41.1" stroke="#231f20" stroke-width="0.7"/>
<text x="419.5" y="43.5" font-size="6.9" text-anchor="end">12</text>
<line x1="420.4" y1="47.8" x2="421.8" y2="47.8" stroke="#231f20" stroke-width="0.7"/>
<text x="419.5" y="50.2" font-size="6.9" text-anchor="end">10</text>
<line x1="420.4" y1="54.6" x2="421.8" y2="54.6" stroke="#231f20" stroke-width="0.7"/>
<text x="419.5" y="57" font-size="6.9" text-anchor="end">8</text>
<line x1="420.4" y1="61.3" x2="421.8" y2="61.3" stroke="#231f20" stroke-width="0.7"/>
<text x="419.5" y="63.7" font-size="6.9" text-anchor="end">6</text>
<line x1="420.4" y1="68" x2="421.8" y2="68" stroke="#231f20" stroke-width="0.7"/>
<text x="419.5" y="70.4" font-size="6.9" text-anchor="end">4</text>
<svg x="421.8" y="32.5" width="37" height="40.4" overflow="hidden"><g transform="translate(-421.8 -32.5)">
<path d="M421.8 57.7 422.3 58.2 422.8 59.6 423.3 61.7 423.8 63.9 424.3 65.6 424.8 66.9 425.3 67.8 425.8 67.8 426.3 68 426.8 68.5 427.3 68.1 427.8 68.1 428.3 68.5 428.8 68.3 429.3 68.6 429.8 68 430.3 68.3 430.8 68.7 431.3 68.6 431.8 68.1 432.3 67.8 432.8 66.1 433.3 63.5 433.8 58.6 434.3 56 434.7 56.4 434.8 54.3 435.3 58.1 435.8 56.6 436.3 55.9 436.8 55.6 437.3 57.7 437.8 58 438.3 55.2 438.8 55.4 439.3 57.1 439.8 56.8 440.3 55 440.8 57.1 441.3 54.9 441.8 56.8 442.3 57 442.8 56.5 443.3 56.4 443.8 55.9 444.3 59.3 444.8 56.6 445.3 58.5 445.8 55.7 446.1 53.4 446.3 54.5 446.8 58 447.3 63 447.8 66.5 448.3 67.9 448.8 68.1 449.3 68.5 449.8 68.6 450.3 68.6 450.8 68.1 451.3 68.1 451.8 68.2 452.3 68 452.8 68.1 453.3 68.5 453.8 68.4 454.3 68 454.8 68.3 455.3 67.4 455.8 66.9 456.3 65.7 456.8 63.5 457.3 61.8 457.8 59.2 458.3 57.8 458.8 57.6" fill="none" stroke="#9085c8" stroke-width="2" stroke-opacity="0.3" stroke-linejoin="round"/>
<path d="M421.8 57.7 422.3 58.2 422.8 59.6 423.3 61.7 423.8 63.9 424.3 65.6 424.8 66.9 425.3 67.8 425.8 67.8 426.3 68 426.8 68.5 427.3 68.1 427.8 68.1 428.3 68.5 428.8 68.3 429.3 68.6 429.8 68 430.3 68.3 430.8 68.7 431.3 68.6 431.8 68.1 432.3 67.8 432.8 66.1 433.3 63.5 433.8 58.6 434.3 56 434.7 56.4 434.8 54.3 435.3 58.1 435.8 56.6 436.3 55.9 436.8 55.6 437.3 57.7 437.8 58 438.3 55.2 438.8 55.4 439.3 57.1 439.8 56.8 440.3 55 440.8 57.1 441.3 54.9 441.8 56.8 442.3 57 442.8 56.5 443.3 56.4 443.8 55.9 444.3 59.3 444.8 56.6 445.3 58.5 445.8 55.7 446.1 53.4 446.3 54.5 446.8 58 447.3 63 447.8 66.5 448.3 67.9 448.8 68.1 449.3 68.5 449.8 68.6 450.3 68.6 450.8 68.1 451.3 68.1 451.8 68.2 452.3 68 452.8 68.1 453.3 68.5 453.8 68.4 454.3 68 454.8 68.3 455.3 67.4 455.8 66.9 456.3 65.7 456.8 63.5 457.3 61.8 457.8 59.2 458.3 57.8 458.8 57.6" fill="none" stroke="#9085c8" stroke-width="0.9" stroke-opacity="0.9"/>
<path d="M421.8 57.8 422.3 58.4 422.8 59.6 423.3 61.5 423.8 63.7 424.3 65.1 424.8 66.6 425.3 67.2 425.8 68.2 426.3 68.5 426.8 68.4 427.3 68.3 427.8 68.5 428.3 68.2 428.8 68.6 429.3 68.5 429.8 68.4 430.3 68.2 430.8 68.1 431.3 68.4 431.8 68.3 432.3 67.4 432.8 65.8 433.3 62.9 433.8 58.5 434.3 55.2 434.7 52.5 434.8 54.2 435.3 57.8 435.8 54.8 436.3 54.8 436.8 57.8 437.3 56 437.8 55 438.3 56.1 438.8 56.9 439.3 53.7 439.8 53.6 440.3 55 440.8 56.6 441.3 55.3 441.8 56.8 442.3 53.2 442.8 57.5 443.3 56.8 443.8 55.1 444.3 58.2 444.8 58.7 445.3 58.4 445.8 54.9 446.1 52.3 446.3 52.9 446.8 57.5 447.3 63.2 447.8 65.9 448.3 67.8 448.8 68.4 449.3 68.6 449.8 68.5 450.3 68 450.8 68.6 451.3 68.5 451.8 68.1 452.3 68 452.8 68 453.3 68.3 453.8 67.9 454.3 68.1 454.8 68.1 455.3 67.5 455.8 66.4 456.3 65.1 456.8 63.9 457.3 61.8 457.8 59.2 458.3 58.4 458.8 57.3" fill="none" stroke="#5aaee0" stroke-width="2" stroke-opacity="0.3" stroke-linejoin="round"/>
<path d="M421.8 57.8 422.3 58.4 422.8 59.6 423.3 61.5 423.8 63.7 424.3 65.1 424.8 66.6 425.3 67.2 425.8 68.2 426.3 68.5 426.8 68.4 427.3 68.3 427.8 68.5 428.3 68.2 428.8 68.6 429.3 68.5 429.8 68.4 430.3 68.2 430.8 68.1 431.3 68.4 431.8 68.3 432.3 67.4 432.8 65.8 433.3 62.9 433.8 58.5 434.3 55.2 434.7 52.5 434.8 54.2 435.3 57.8 435.8 54.8 436.3 54.8 436.8 57.8 437.3 56 437.8 55 438.3 56.1 438.8 56.9 439.3 53.7 439.8 53.6 440.3 55 440.8 56.6 441.3 55.3 441.8 56.8 442.3 53.2 442.8 57.5 443.3 56.8 443.8 55.1 444.3 58.2 444.8 58.7 445.3 58.4 445.8 54.9 446.1 52.3 446.3 52.9 446.8 57.5 447.3 63.2 447.8 65.9 448.3 67.8 448.8 68.4 449.3 68.6 449.8 68.5 450.3 68 450.8 68.6 451.3 68.5 451.8 68.1 452.3 68 452.8 68 453.3 68.3 453.8 67.9 454.3 68.1 454.8 68.1 455.3 67.5 455.8 66.4 456.3 65.1 456.8 63.9 457.3 61.8 457.8 59.2 458.3 58.4 458.8 57.3" fill="none" stroke="#5aaee0" stroke-width="0.9" stroke-opacity="0.9"/>
<path d="M421.8 56 422.3 56.6 422.8 58.1 423.3 59.9 423.8 61.5 424.3 63.9 424.8 64.6 425.3 65.9 425.8 66.5 426.3 66.3 426.8 66.7 427.3 66.9 427.8 66.7 428.3 66.4 428.8 66.4 429.3 66.6 429.8 67.1 430.3 66.4 430.8 66.6 431.3 66.3 431.8 66.1 432.3 66 432.8 63.5 433.3 59.4 433.8 54 434.3 50.8 434.7 49.2 434.8 49.3 435.3 51.7 435.8 53.9 436.3 53 436.8 49.6 437.3 51.3 437.8 49.9 438.3 48.5 438.8 48.8 439.3 50.8 439.8 47.8 440.3 48.2 440.8 47.5 441.3 48.7 441.8 48.8 442.3 48.8 442.8 51.6 443.3 50.3 443.8 51.9 444.3 50.4 444.8 53.9 445.3 51.7 445.8 49.6 446.1 46.5 446.3 48.9 446.8 52.6 447.3 59.4 447.8 63.4 448.3 66.1 448.8 66.2 449.3 66.4 449.8 66.5 450.3 66.5 450.8 67 451.3 66.4 451.8 66.6 452.3 66.7 452.8 66.8 453.3 66.4 453.8 66.4 454.3 66.2 454.8 66.5 455.3 65.9 455.8 65.1 456.3 64 456.8 62 457.3 60.2 457.8 57.6 458.3 56.7 458.8 56.3" fill="none" stroke="#f5a742" stroke-width="2" stroke-opacity="0.3" stroke-linejoin="round"/>
<path d="M421.8 56 422.3 56.6 422.8 58.1 423.3 59.9 423.8 61.5 424.3 63.9 424.8 64.6 425.3 65.9 425.8 66.5 426.3 66.3 426.8 66.7 427.3 66.9 427.8 66.7 428.3 66.4 428.8 66.4 429.3 66.6 429.8 67.1 430.3 66.4 430.8 66.6 431.3 66.3 431.8 66.1 432.3 66 432.8 63.5 433.3 59.4 433.8 54 434.3 50.8 434.7 49.2 434.8 49.3 435.3 51.7 435.8 53.9 436.3 53 436.8 49.6 437.3 51.3 437.8 49.9 438.3 48.5 438.8 48.8 439.3 50.8 439.8 47.8 440.3 48.2 440.8 47.5 441.3 48.7 441.8 48.8 442.3 48.8 442.8 51.6 443.3 50.3 443.8 51.9 444.3 50.4 444.8 53.9 445.3 51.7 445.8 49.6 446.1 46.5 446.3 48.9 446.8 52.6 447.3 59.4 447.8 63.4 448.3 66.1 448.8 66.2 449.3 66.4 449.8 66.5 450.3 66.5 450.8 67 451.3 66.4 451.8 66.6 452.3 66.7 452.8 66.8 453.3 66.4 453.8 66.4 454.3 66.2 454.8 66.5 455.3 65.9 455.8 65.1 456.3 64 456.8 62 457.3 60.2 457.8 57.6 458.3 56.7 458.8 56.3" fill="none" stroke="#f5a742" stroke-width="0.9" stroke-opacity="0.9"/>
<path d="M421.8 55.6 422.3 55.6 422.8 57.4 423.3 59.2 423.8 61.3 424.3 62.7 424.8 63.9 425.3 65.2 425.8 65.5 426.3 65.5 426.8 65.9 427.3 65.6 427.8 65.8 428.3 66.1 428.8 65.7 429.3 65.9 429.8 66.3 430.3 65.9 430.8 65.7 431.3 65.9 431.8 65.8 432.3 65.1 432.8 62.2 433.3 57.6 433.8 50.6 434.3 45 434.7 41.9 434.8 39.5 435.3 45.8 435.8 50.6 436.3 46.9 436.8 50.2 437.3 47.3 437.8 47.5 438.3 45.9 438.8 46.9 439.3 48.1 439.8 46.1 440.3 44.7 440.8 44.9 441.3 46.9 441.8 47.8 442.3 45.8 442.8 45.9 443.3 48.9 443.8 46.5 444.3 46.5 444.8 49.4 445.3 48.5 445.8 41.1 446.1 38 446.3 41.6 446.8 48.9 447.3 57.8 447.8 62.4 448.3 65.3 448.8 65.8 449.3 66 449.8 65.8 450.3 66.3 450.8 65.6 451.3 65.6 451.8 65.9 452.3 65.7 452.8 66.2 453.3 65.6 453.8 65.9 454.3 65.6 454.8 65.3 455.3 65.2 455.8 63.9 456.3 63.2 456.8 61.6 457.3 59.2 457.8 56.9 458.3 55.4 458.8 54.9" fill="none" stroke="#2ca02c" stroke-width="2" stroke-opacity="0.3" stroke-linejoin="round"/>
<path d="M421.8 55.6 422.3 55.6 422.8 57.4 423.3 59.2 423.8 61.3 424.3 62.7 424.8 63.9 425.3 65.2 425.8 65.5 426.3 65.5 426.8 65.9 427.3 65.6 427.8 65.8 428.3 66.1 428.8 65.7 429.3 65.9 429.8 66.3 430.3 65.9 430.8 65.7 431.3 65.9 431.8 65.8 432.3 65.1 432.8 62.2 433.3 57.6 433.8 50.6 434.3 45 434.7 41.9 434.8 39.5 435.3 45.8 435.8 50.6 436.3 46.9 436.8 50.2 437.3 47.3 437.8 47.5 438.3 45.9 438.8 46.9 439.3 48.1 439.8 46.1 440.3 44.7 440.8 44.9 441.3 46.9 441.8 47.8 442.3 45.8 442.8 45.9 443.3 48.9 443.8 46.5 444.3 46.5 444.8 49.4 445.3 48.5 445.8 41.1 446.1 38 446.3 41.6 446.8 48.9 447.3 57.8 447.8 62.4 448.3 65.3 448.8 65.8 449.3 66 449.8 65.8 450.3 66.3 450.8 65.6 451.3 65.6 451.8 65.9 452.3 65.7 452.8 66.2 453.3 65.6 453.8 65.9 454.3 65.6 454.8 65.3 455.3 65.2 455.8 63.9 456.3 63.2 456.8 61.6 457.3 59.2 457.8 56.9 458.3 55.4 458.8 54.9" fill="none" stroke="#2ca02c" stroke-width="0.9" stroke-opacity="0.9"/>
<path d="M421.8 55.2 422.3 55.4 422.8 57.2 423.3 59.5 423.8 61.1 424.3 62.7 424.8 64.3 425.3 65 425.8 65.8 426.3 66 426.8 66 427.3 66 427.8 66 428.3 66.3 428.8 66.4 429.3 66.1 429.8 65.8 430.3 65.8 430.8 66.2 431.3 66.2 431.8 65.8 432.3 65.2 432.8 62.1 433.3 56.6 433.8 49.2 434.3 43.4 434.7 38.8 434.8 38.9 435.3 44.2 435.8 46.5 436.3 48.1 436.8 45 437.3 44.2 437.8 47.5 438.3 43.2 438.8 45.1 439.3 46.4 439.8 46.4 440.3 43.1 440.8 43.7 441.3 46.2 441.8 45 442.3 44.6 442.8 43.4 443.3 46.7 443.8 45.4 444.3 48.2 444.8 48.9 445.3 48 445.8 40.9 446.1 37.9 446.3 40 446.8 47.6 447.3 57.1 447.8 62.5 448.3 65.2 448.8 65.9 449.3 66 449.8 66.2 450.3 66 450.8 66 451.3 65.6 451.8 66 452.3 65.6 452.8 66 453.3 66.2 453.8 65.8 454.3 66.1 454.8 65.8 455.3 65.4 455.8 64.1 456.3 62.6 456.8 61.3 457.3 59.3 457.8 57.3 458.3 55.9 458.8 55.1" fill="none" stroke="#c0142e" stroke-width="2" stroke-opacity="0.3" stroke-linejoin="round"/>
<path d="M421.8 55.2 422.3 55.4 422.8 57.2 423.3 59.5 423.8 61.1 424.3 62.7 424.8 64.3 425.3 65 425.8 65.8 426.3 66 426.8 66 427.3 66 427.8 66 428.3 66.3 428.8 66.4 429.3 66.1 429.8 65.8 430.3 65.8 430.8 66.2 431.3 66.2 431.8 65.8 432.3 65.2 432.8 62.1 433.3 56.6 433.8 49.2 434.3 43.4 434.7 38.8 434.8 38.9 435.3 44.2 435.8 46.5 436.3 48.1 436.8 45 437.3 44.2 437.8 47.5 438.3 43.2 438.8 45.1 439.3 46.4 439.8 46.4 440.3 43.1 440.8 43.7 441.3 46.2 441.8 45 442.3 44.6 442.8 43.4 443.3 46.7 443.8 45.4 444.3 48.2 444.8 48.9 445.3 48 445.8 40.9 446.1 37.9 446.3 40 446.8 47.6 447.3 57.1 447.8 62.5 448.3 65.2 448.8 65.9 449.3 66 449.8 66.2 450.3 66 450.8 66 451.3 65.6 451.8 66 452.3 65.6 452.8 66 453.3 66.2 453.8 65.8 454.3 66.1 454.8 65.8 455.3 65.4 455.8 64.1 456.3 62.6 456.8 61.3 457.3 59.3 457.8 57.3 458.3 55.9 458.8 55.1" fill="none" stroke="#c0142e" stroke-width="0.9" stroke-opacity="0.9"/>
</g></svg>
<line x1="471.5" y1="35.2" x2="472.9" y2="35.2" stroke="#231f20" stroke-width="0.7"/>
<text x="470.6" y="37.6" font-size="6.9" text-anchor="end">30</text>
<line x1="471.5" y1="41.9" x2="472.9" y2="41.9" stroke="#231f20" stroke-width="0.7"/>
<text x="470.6" y="44.3" font-size="6.9" text-anchor="end">25</text>
<line x1="471.5" y1="48.7" x2="472.9" y2="48.7" stroke="#231f20" stroke-width="0.7"/>
<text x="470.6" y="51.1" font-size="6.9" text-anchor="end">20</text>
<line x1="471.5" y1="55.4" x2="472.9" y2="55.4" stroke="#231f20" stroke-width="0.7"/>
<text x="470.6" y="57.8" font-size="6.9" text-anchor="end">15</text>
<line x1="471.5" y1="62.2" x2="472.9" y2="62.2" stroke="#231f20" stroke-width="0.7"/>
<text x="470.6" y="64.6" font-size="6.9" text-anchor="end">10</text>
<line x1="471.5" y1="68.9" x2="472.9" y2="68.9" stroke="#231f20" stroke-width="0.7"/>
<text x="470.6" y="71.3" font-size="6.9" text-anchor="end">5</text>
<svg x="472.9" y="32.5" width="37" height="40.4" overflow="hidden"><g transform="translate(-472.9 -32.5)">
<path d="M472.9 65.5 473.4 65.9 473.9 65.9 474.4 66.9 474.9 68.2 475.4 68.2 475.9 68.8 476.4 69.5 476.9 69.4 477.4 69.3 477.9 69.8 478.4 69.8 478.9 69.9 479.4 69.7 479.9 69.6 480.4 69.5 480.9 69.3 481.4 70 481.9 69.8 482.4 69.4 482.9 69.4 483.4 69.2 483.9 67.9 484.4 65.9 484.9 60.5 485.4 50.6 485.8 44.5 485.9 46 486.4 57.5 486.9 59.6 487.4 60.3 487.9 63.4 488.4 61.9 488.9 61.1 489.4 60.8 489.9 61.3 490.4 58.9 490.9 61.2 491.4 60.4 491.9 58.7 492.4 60 492.9 60.8 493.4 61.5 493.9 61.5 494.4 60.7 494.9 60.1 495.4 62.6 495.9 62.2 496.4 59 496.9 46.1 497.2 39.1 497.4 43.3 497.9 57.7 498.4 65.9 498.9 67.8 499.4 69.5 499.9 69.5 500.4 70.1 500.9 70 501.4 70.1 501.9 69.5 502.4 70 502.9 69.9 503.4 70.1 503.9 69.9 504.4 69.5 504.9 69.5 505.4 69.3 505.9 69.2 506.4 69.3 506.9 68.7 507.4 68.8 507.9 67.4 508.4 67 508.9 66.4 509.4 65.4 509.9 65.1" fill="none" stroke="#9085c8" stroke-width="2" stroke-opacity="0.3" stroke-linejoin="round"/>
<path d="M472.9 65.5 473.4 65.9 473.9 65.9 474.4 66.9 474.9 68.2 475.4 68.2 475.9 68.8 476.4 69.5 476.9 69.4 477.4 69.3 477.9 69.8 478.4 69.8 478.9 69.9 479.4 69.7 479.9 69.6 480.4 69.5 480.9 69.3 481.4 70 481.9 69.8 482.4 69.4 482.9 69.4 483.4 69.2 483.9 67.9 484.4 65.9 484.9 60.5 485.4 50.6 485.8 44.5 485.9 46 486.4 57.5 486.9 59.6 487.4 60.3 487.9 63.4 488.4 61.9 488.9 61.1 489.4 60.8 489.9 61.3 490.4 58.9 490.9 61.2 491.4 60.4 491.9 58.7 492.4 60 492.9 60.8 493.4 61.5 493.9 61.5 494.4 60.7 494.9 60.1 495.4 62.6 495.9 62.2 496.4 59 496.9 46.1 497.2 39.1 497.4 43.3 497.9 57.7 498.4 65.9 498.9 67.8 499.4 69.5 499.9 69.5 500.4 70.1 500.9 70 501.4 70.1 501.9 69.5 502.4 70 502.9 69.9 503.4 70.1 503.9 69.9 504.4 69.5 504.9 69.5 505.4 69.3 505.9 69.2 506.4 69.3 506.9 68.7 507.4 68.8 507.9 67.4 508.4 67 508.9 66.4 509.4 65.4 509.9 65.1" fill="none" stroke="#9085c8" stroke-width="0.9" stroke-opacity="0.9"/>
<path d="M472.9 65.5 473.4 65.9 473.9 65.9 474.4 66.8 474.9 67.7 475.4 68.1 475.9 69.4 476.4 69.7 476.9 69.8 477.4 70 477.9 69.5 478.4 69.6 478.9 70 479.4 70 479.9 70 480.4 69.6 480.9 69.6 481.4 69.3 481.9 69.8 482.4 69.3 482.9 69.7 483.4 69.4 483.9 68.4 484.4 66.3 484.9 61.1 485.4 51.2 485.8 44.3 485.9 47.2 486.4 58 486.9 63.5 487.4 62.9 487.9 61 488.4 63.8 488.9 61.5 489.4 60.7 489.9 63.4 490.4 61.5 490.9 59.9 491.4 60.9 491.9 61.4 492.4 59.6 492.9 60.9 493.4 62.2 493.9 62.1 494.4 59.9 494.9 60.4 495.4 60.4 495.9 62 496.4 60.8 496.9 48.1 497.2 42.7 497.4 44.4 497.9 58.6 498.4 65.9 498.9 68 499.4 69.3 499.9 70 500.4 69.5 500.9 69.8 501.4 69.6 501.9 69.7 502.4 69.5 502.9 69.8 503.4 69.3 503.9 69.3 504.4 69.4 504.9 69.6 505.4 69.8 505.9 69.6 506.4 69.5 506.9 68.7 507.4 68.3 507.9 67.6 508.4 66.7 508.9 65.8 509.4 65.5 509.9 65.5" fill="none" stroke="#5aaee0" stroke-width="2" stroke-opacity="0.3" stroke-linejoin="round"/>
<path d="M472.9 65.5 473.4 65.9 473.9 65.9 474.4 66.8 474.9 67.7 475.4 68.1 475.9 69.4 476.4 69.7 476.9 69.8 477.4 70 477.9 69.5 478.4 69.6 478.9 70 479.4 70 479.9 70 480.4 69.6 480.9 69.6 481.4 69.3 481.9 69.8 482.4 69.3 482.9 69.7 483.4 69.4 483.9 68.4 484.4 66.3 484.9 61.1 485.4 51.2 485.8 44.3 485.9 47.2 486.4 58 486.9 63.5 487.4 62.9 487.9 61 488.4 63.8 488.9 61.5 489.4 60.7 489.9 63.4 490.4 61.5 490.9 59.9 491.4 60.9 491.9 61.4 492.4 59.6 492.9 60.9 493.4 62.2 493.9 62.1 494.4 59.9 494.9 60.4 495.4 60.4 495.9 62 496.4 60.8 496.9 48.1 497.2 42.7 497.4 44.4 497.9 58.6 498.4 65.9 498.9 68 499.4 69.3 499.9 70 500.4 69.5 500.9 69.8 501.4 69.6 501.9 69.7 502.4 69.5 502.9 69.8 503.4 69.3 503.9 69.3 504.4 69.4 504.9 69.6 505.4 69.8 505.9 69.6 506.4 69.5 506.9 68.7 507.4 68.3 507.9 67.6 508.4 66.7 508.9 65.8 509.4 65.5 509.9 65.5" fill="none" stroke="#5aaee0" stroke-width="0.9" stroke-opacity="0.9"/>
<path d="M472.9 65.2 473.4 65.8 473.9 66.1 474.4 67.3 474.9 67.5 475.4 68.5 475.9 69.2 476.4 69 476.9 69.9 477.4 69.3 477.9 69.5 478.4 70 478.9 69.5 479.4 69.6 479.9 69.4 480.4 69.6 480.9 69.8 481.4 69.4 481.9 70 482.4 69.5 482.9 69.9 483.4 69.4 483.9 68.3 484.4 65.2 484.9 60.3 485.4 50.2 485.8 45.1 485.9 43.6 486.4 54.7 486.9 62.4 487.4 61 487.9 59.8 488.4 61.8 488.9 59.6 489.4 61.1 489.9 60.6 490.4 58.1 490.9 57.9 491.4 57.6 491.9 60.2 492.4 59.6 492.9 58.7 493.4 59 493.9 60.5 494.4 58.9 494.9 61.2 495.4 59 495.9 61.2 496.4 59.7 496.9 44.4 497.2 42.5 497.4 43.2 497.9 57.4 498.4 65.1 498.9 67.9 499.4 69 499.9 69.9 500.4 69.6 500.9 69.8 501.4 69.9 501.9 69.5 502.4 70.1 502.9 69.7 503.4 70 503.9 69.4 504.4 69.4 504.9 70.1 505.4 69.7 505.9 69.6 506.4 69.2 506.9 68.8 507.4 68.6 507.9 67.4 508.4 67.2 508.9 66.5 509.4 65.4 509.9 65.7" fill="none" stroke="#f5a742" stroke-width="2" stroke-opacity="0.3" stroke-linejoin="round"/>
<path d="M472.9 65.2 473.4 65.8 473.9 66.1 474.4 67.3 474.9 67.5 475.4 68.5 475.9 69.2 476.4 69 476.9 69.9 477.4 69.3 477.9 69.5 478.4 70 478.9 69.5 479.4 69.6 479.9 69.4 480.4 69.6 480.9 69.8 481.4 69.4 481.9 70 482.4 69.5 482.9 69.9 483.4 69.4 483.9 68.3 484.4 65.2 484.9 60.3 485.4 50.2 485.8 45.1 485.9 43.6 486.4 54.7 486.9 62.4 487.4 61 487.9 59.8 488.4 61.8 488.9 59.6 489.4 61.1 489.9 60.6 490.4 58.1 490.9 57.9 491.4 57.6 491.9 60.2 492.4 59.6 492.9 58.7 493.4 59 493.9 60.5 494.4 58.9 494.9 61.2 495.4 59 495.9 61.2 496.4 59.7 496.9 44.4 497.2 42.5 497.4 43.2 497.9 57.4 498.4 65.1 498.9 67.9 499.4 69 499.9 69.9 500.4 69.6 500.9 69.8 501.4 69.9 501.9 69.5 502.4 70.1 502.9 69.7 503.4 70 503.9 69.4 504.4 69.4 504.9 70.1 505.4 69.7 505.9 69.6 506.4 69.2 506.9 68.8 507.4 68.6 507.9 67.4 508.4 67.2 508.9 66.5 509.4 65.4 509.9 65.7" fill="none" stroke="#f5a742" stroke-width="0.9" stroke-opacity="0.9"/>
<path d="M472.9 65.6 473.4 65.6 473.9 66.3 474.4 67.2 474.9 67.4 475.4 68.5 475.9 68.8 476.4 69.6 476.9 69.2 477.4 69.9 477.9 69.4 478.4 69.6 478.9 69.3 479.4 69.5 479.9 69.6 480.4 69.7 480.9 69.4 481.4 69.8 481.9 70 482.4 69.4 482.9 69.4 483.4 69 483.9 67.6 484.4 65.4 484.9 59.7 485.4 49.2 485.8 40.8 485.9 41.6 486.4 56 486.9 59.2 487.4 60.1 487.9 60.5 488.4 61.3 488.9 61.2 489.4 59.6 489.9 59.4 490.4 60.2 490.9 59.7 491.4 58.9 491.9 58 492.4 58.8 492.9 60.8 493.4 57.8 493.9 60.2 494.4 57.8 494.9 58 495.4 61.9 495.9 60 496.4 55.3 496.9 44.8 497.2 39.5 497.4 42.3 497.9 56.7 498.4 65.4 498.9 68.1 499.4 69.4 499.9 69.5 500.4 69.6 500.9 69.3 501.4 69.6 501.9 69.8 502.4 69.3 502.9 69.6 503.4 69.7 503.9 69.4 504.4 69.6 504.9 69.8 505.4 69.6 505.9 69.7 506.4 69 506.9 69.2 507.4 68.1 507.9 68.1 508.4 67.4 508.9 66.1 509.4 65.8 509.9 65.4" fill="none" stroke="#2ca02c" stroke-width="2" stroke-opacity="0.3" stroke-linejoin="round"/>
<path d="M472.9 65.6 473.4 65.6 473.9 66.3 474.4 67.2 474.9 67.4 475.4 68.5 475.9 68.8 476.4 69.6 476.9 69.2 477.4 69.9 477.9 69.4 478.4 69.6 478.9 69.3 479.4 69.5 479.9 69.6 480.4 69.7 480.9 69.4 481.4 69.8 481.9 70 482.4 69.4 482.9 69.4 483.4 69 483.9 67.6 484.4 65.4 484.9 59.7 485.4 49.2 485.8 40.8 485.9 41.6 486.4 56 486.9 59.2 487.4 60.1 487.9 60.5 488.4 61.3 488.9 61.2 489.4 59.6 489.9 59.4 490.4 60.2 490.9 59.7 491.4 58.9 491.9 58 492.4 58.8 492.9 60.8 493.4 57.8 493.9 60.2 494.4 57.8 494.9 58 495.4 61.9 495.9 60 496.4 55.3 496.9 44.8 497.2 39.5 497.4 42.3 497.9 56.7 498.4 65.4 498.9 68.1 499.4 69.4 499.9 69.5 500.4 69.6 500.9 69.3 501.4 69.6 501.9 69.8 502.4 69.3 502.9 69.6 503.4 69.7 503.9 69.4 504.4 69.6 504.9 69.8 505.4 69.6 505.9 69.7 506.4 69 506.9 69.2 507.4 68.1 507.9 68.1 508.4 67.4 508.9 66.1 509.4 65.8 509.9 65.4" fill="none" stroke="#2ca02c" stroke-width="0.9" stroke-opacity="0.9"/>
<path d="M472.9 65.7 473.4 65.3 473.9 66.1 474.4 66.8 474.9 67.4 475.4 68.1 475.9 68.9 476.4 69.2 476.9 69.9 477.4 70 477.9 69.7 478.4 69.3 478.9 69.9 479.4 69.7 479.9 70.1 480.4 69.8 480.9 69.4 481.4 69.6 481.9 69.4 482.4 70.1 482.9 69.8 483.4 69.3 483.9 67.1 484.4 64.5 484.9 57.5 485.4 47.5 485.8 38.8 485.9 41 486.4 53.3 486.9 56.1 487.4 58.8 487.9 57.3 488.4 59.8 488.9 56.2 489.4 55.3 489.9 59 490.4 56.1 490.9 58.1 491.4 58.6 491.9 57.7 492.4 56.5 492.9 55.3 493.4 55.3 493.9 55.5 494.4 57.3 494.9 57.5 495.4 59.9 495.9 57.5 496.4 55.1 496.9 42.6 497.2 35.5 497.4 40 497.9 54.7 498.4 64.4 498.9 67.7 499.4 69 499.9 69.3 500.4 70 500.9 69.7 501.4 69.6 501.9 69.7 502.4 69.8 502.9 69.7 503.4 70.1 503.9 70.1 504.4 69.8 504.9 69.9 505.4 69.4 505.9 69.7 506.4 69.1 506.9 69.2 507.4 68.8 507.9 67.8 508.4 67.1 508.9 66.3 509.4 65.4 509.9 65.6" fill="none" stroke="#c0142e" stroke-width="2" stroke-opacity="0.3" stroke-linejoin="round"/>
<path d="M472.9 65.7 473.4 65.3 473.9 66.1 474.4 66.8 474.9 67.4 475.4 68.1 475.9 68.9 476.4 69.2 476.9 69.9 477.4 70 477.9 69.7 478.4 69.3 478.9 69.9 479.4 69.7 479.9 70.1 480.4 69.8 480.9 69.4 481.4 69.6 481.9 69.4 482.4 70.1 482.9 69.8 483.4 69.3 483.9 67.1 484.4 64.5 484.9 57.5 485.4 47.5 485.8 38.8 485.9 41 486.4 53.3 486.9 56.1 487.4 58.8 487.9 57.3 488.4 59.8 488.9 56.2 489.4 55.3 489.9 59 490.4 56.1 490.9 58.1 491.4 58.6 491.9 57.7 492.4 56.5 492.9 55.3 493.4 55.3 493.9 55.5 494.4 57.3 494.9 57.5 495.4 59.9 495.9 57.5 496.4 55.1 496.9 42.6 497.2 35.5 497.4 40 497.9 54.7 498.4 64.4 498.9 67.7 499.4 69 499.9 69.3 500.4 70 500.9 69.7 501.4 69.6 501.9 69.7 502.4 69.8 502.9 69.7 503.4 70.1 503.9 70.1 504.4 69.8 504.9 69.9 505.4 69.4 505.9 69.7 506.4 69.1 506.9 69.2 507.4 68.8 507.9 67.8 508.4 67.1 508.9 66.3 509.4 65.4 509.9 65.6" fill="none" stroke="#c0142e" stroke-width="0.9" stroke-opacity="0.9"/>
</g></svg>
<line x1="267.1" y1="101.6" x2="268.5" y2="101.6" stroke="#231f20" stroke-width="0.7"/>
<text x="266.2" y="104" font-size="6.9" text-anchor="end">20</text>
<line x1="267.1" y1="112" x2="268.5" y2="112" stroke="#231f20" stroke-width="0.7"/>
<text x="266.2" y="114.4" font-size="6.9" text-anchor="end">15</text>
<line x1="267.1" y1="122.4" x2="268.5" y2="122.4" stroke="#231f20" stroke-width="0.7"/>
<text x="266.2" y="124.8" font-size="6.9" text-anchor="end">10</text>
<line x1="267.1" y1="132.8" x2="268.5" y2="132.8" stroke="#231f20" stroke-width="0.7"/>
<text x="266.2" y="135.2" font-size="6.9" text-anchor="end">5</text>
<svg x="268.5" y="98.7" width="37" height="40.4" overflow="hidden"><g transform="translate(-268.5 -98.7)">
<path d="M268.5 134.2 269 134.1 269.5 134.4 270 134.4 270.5 134 271 134.3 271.5 134.6 272 134.7 272.5 134.7 273 134.5 273.5 134.7 274 134.2 274.5 134.3 275 134.4 275.5 134.2 276 133.8 276.5 134.4 277 134.5 277.5 134.3 278 134.3 278.5 133.7 279 133.8 279.5 134 280 134.2 280.5 134.2 281 133.9 281.4 133.1 281.5 133.3 282 133.4 282.5 132.6 283 132.5 283.5 131.4 284 130.7 284.5 129.9 285 128.2 285.5 126.9 286 125.8 286.5 125.2 287 124.3 287.5 124.9 288 125.7 288.5 127.5 289 128 289.5 130 290 130.8 290.5 131.5 291 132.4 291.5 133 292 132.9 292.5 132.9 292.8 133.7 293 133.8 293.5 133.6 294 134.1 294.5 134 295 133.9 295.5 134.1 296 134.4 296.5 134.5 297 134.1 297.5 133.8 298 133.9 298.5 134.6 299 134.3 299.5 134.3 300 134.6 300.5 134.2 301 134.3 301.5 134.1 302 134.5 302.5 134 303 134.1 303.5 134.4 304 134.7 304.5 134.4 305 134.7 305.5 134.2" fill="none" stroke="#9085c8" stroke-width="0.8"/>
<path d="M268.5 134.2 269 134.3 269.5 133.9 270 134.8 270.5 134.2 271 134.1 271.5 134.7 272 134.5 272.5 134.7 273 134.2 273.5 134.1 274 134.4 274.5 134.1 275 134.4 275.5 134 276 134.4 276.5 133.8 277 134.2 277.5 134.6 278 134.4 278.5 133.8 279 133.7 279.5 133.8 280 134.1 280.5 133.4 281 133.3 281.4 133.7 281.5 133.4 282 132.8 282.5 132.9 283 132.3 283.5 131.3 284 129.9 284.5 128.6 285 127.9 285.5 126 286 124.7 286.5 123.5 287 123.4 287.5 123.4 288 124.8 288.5 125.9 289 127.7 289.5 129.3 290 130.2 290.5 131.2 291 132 291.5 132.6 292 132.9 292.5 133.2 292.8 133.7 293 133.7 293.5 133.7 294 133.8 294.5 134 295 133.8 295.5 134.3 296 134.1 296.5 134.3 297 133.9 297.5 134 298 134 298.5 134.2 299 134.5 299.5 133.9 300 134.3 300.5 134.4 301 134.5 301.5 134.4 302 134.1 302.5 134.1 303 134.4 303.5 134.1 304 134.6 304.5 134.4 305 134.5 305.5 134.5" fill="none" stroke="#5aaee0" stroke-width="0.8"/>
<path d="M268.5 133.2 269 132.8 269.5 132.9 270 133.3 270.5 133.3 271 132.8 271.5 132.9 272 132.8 272.5 132.9 273 132.8 273.5 133.1 274 133.3 274.5 133 275 133.3 275.5 132.4 276 132.8 276.5 132.6 277 132.3 277.5 132.4 278 132.9 278.5 132.7 279 132.8 279.5 132.1 280 132 280.5 132 281 131.9 281.4 131.7 281.5 131.4 282 130.7 282.5 129.8 283 128.9 283.5 127.8 284 126.7 284.5 124.9 285 123 285.5 120.2 286 118.8 286.5 117.1 287 116.4 287.5 116.4 288 118.2 288.5 120.8 289 122.5 289.5 124.5 290 126.7 290.5 128.3 291 129 291.5 130.3 292 131.2 292.5 131 292.8 131.7 293 131.8 293.5 131.9 294 132.4 294.5 132.8 295 132.6 295.5 132.7 296 133.1 296.5 132.8 297 132.5 297.5 132.9 298 132.7 298.5 132.7 299 133.1 299.5 133.3 300 132.8 300.5 132.8 301 133.1 301.5 133.2 302 132.7 302.5 132.7 303 133.3 303.5 133 304 133 304.5 133.2 305 133.5 305.5 133.2" fill="none" stroke="#f5a742" stroke-width="0.8"/>
<path d="M268.5 131.8 269 131.8 269.5 131.9 270 132.2 270.5 132.1 271 132 271.5 131.9 272 132 272.5 131.5 273 132.1 273.5 131.3 274 132 274.5 131.4 275 131.9 275.5 131.5 276 131.7 276.5 131.9 277 131.2 277.5 131.1 278 131.5 278.5 130.9 279 131 279.5 130.4 280 131 280.5 130.4 281 130.1 281.4 129.3 281.5 129.1 282 128.2 282.5 127.4 283 126.1 283.5 124 284 122.3 284.5 119.5 285 115.9 285.5 112.8 286 108.9 286.5 107.1 287 105.8 287.5 107 288 109.8 288.5 113.1 289 116.5 289.5 119.4 290 122 290.5 124.2 291 126.2 291.5 127.3 292 128.5 292.5 128.9 292.8 130 293 129.9 293.5 130.3 294 130.7 294.5 130.5 295 131.3 295.5 130.8 296 131.4 296.5 131.5 297 131.3 297.5 131.4 298 131.7 298.5 132 299 131.3 299.5 131.8 300 132.1 300.5 131.6 301 131.8 301.5 132 302 132 302.5 131.6 303 132 303.5 132 304 131.5 304.5 132 305 132 305.5 132.2" fill="none" stroke="#2ca02c" stroke-width="0.8"/>
<path d="M268.5 132.1 269 132.1 269.5 132.3 270 132.3 270.5 132.4 271 131.9 271.5 132.2 272 131.9 272.5 132.2 273 131.9 273.5 132.5 274 132.3 274.5 131.7 275 131.9 275.5 131.8 276 132 276.5 131.9 277 132.1 277.5 132.1 278 131.6 278.5 131.5 279 131.8 279.5 131.4 280 131.6 280.5 131 281 131.1 281.4 130.5 281.5 130.6 282 129.9 282.5 129.5 283 128.2 283.5 126.9 284 125.8 284.5 123.8 285 121.4 285.5 119.2 286 116.8 286.5 114.9 287 114.4 287.5 115.4 288 117 288.5 118.9 289 121.5 289.5 123.4 290 125.6 290.5 127 291 127.8 291.5 128.9 292 129.8 292.5 130.8 292.8 130.6 293 131.2 293.5 130.7 294 130.9 294.5 131.3 295 131.8 295.5 131.4 296 132 296.5 131.5 297 131.9 297.5 132.3 298 131.6 298.5 132.1 299 131.7 299.5 131.9 300 132.1 300.5 131.8 301 132.4 301.5 131.8 302 132.3 302.5 132.6 303 132.3 303.5 132.6 304 132.6 304.5 132.1 305 132.6 305.5 132.5" fill="none" stroke="#c0142e" stroke-width="0.8"/>
</g></svg>
<line x1="318.2" y1="99.6" x2="319.6" y2="99.6" stroke="#231f20" stroke-width="0.7"/>
<text x="317.3" y="102" font-size="6.9" text-anchor="end">25</text>
<line x1="318.2" y1="108.6" x2="319.6" y2="108.6" stroke="#231f20" stroke-width="0.7"/>
<text x="317.3" y="111" font-size="6.9" text-anchor="end">20</text>
<line x1="318.2" y1="117.7" x2="319.6" y2="117.7" stroke="#231f20" stroke-width="0.7"/>
<text x="317.3" y="120.1" font-size="6.9" text-anchor="end">15</text>
<line x1="318.2" y1="126.7" x2="319.6" y2="126.7" stroke="#231f20" stroke-width="0.7"/>
<text x="317.3" y="129.1" font-size="6.9" text-anchor="end">10</text>
<line x1="318.2" y1="135.7" x2="319.6" y2="135.7" stroke="#231f20" stroke-width="0.7"/>
<text x="317.3" y="138.1" font-size="6.9" text-anchor="end">5</text>
<svg x="319.6" y="98.7" width="37" height="40.4" overflow="hidden"><g transform="translate(-319.6 -98.7)">
<path d="M319.6 135.7 320.1 135.7 320.6 135.1 321.1 135.1 321.6 135.1 322.1 135 322.6 135.5 323.1 135.1 323.6 135.6 324.1 135 324.6 135.1 325.1 135.1 325.6 135.6 326.1 135.7 326.6 134.8 327.1 135.2 327.6 135.1 328.1 134.8 328.6 135.4 329.1 134.8 329.6 135 330.1 134.5 330.6 134.7 331.1 134.8 331.6 133.8 332.1 134.2 332.5 133.4 332.6 133.2 333.1 133.2 333.6 131.9 334.1 131.2 334.6 130 335.1 128.3 335.6 125.5 336.1 123.8 336.6 121.1 337.1 118.6 337.6 117.1 338.1 115.6 338.6 116.4 339.1 118.2 339.6 121.2 340.1 123.9 340.6 126.1 341.1 127.8 341.6 129.6 342.1 131.2 342.6 132.1 343.1 133.3 343.6 133.1 343.9 133.8 344.1 134 344.6 134 345.1 134.8 345.6 134.5 346.1 135 346.6 134.6 347.1 135.4 347.6 135.3 348.1 135 348.6 135.2 349.1 135.4 349.6 135.2 350.1 135.6 350.6 135.4 351.1 135.9 351.6 135.1 352.1 135.7 352.6 135.1 353.1 135.4 353.6 135.4 354.1 135.3 354.6 135.9 355.1 135.2 355.6 135.7 356.1 135.2 356.6 135.2" fill="none" stroke="#9085c8" stroke-width="0.8"/>
<path d="M319.6 135.3 320.1 135.2 320.6 135.6 321.1 135.3 321.6 135 322.1 135.8 322.6 135.9 323.1 135.5 323.6 135.4 324.1 135.7 324.6 135.7 325.1 135 325.6 135.4 326.1 135.6 326.6 135.6 327.1 135.1 327.6 135.5 328.1 135.1 328.6 135 329.1 135 329.6 134.9 330.1 134.4 330.6 135.1 331.1 134 331.6 134.5 332.1 134.4 332.5 133.3 332.6 133.4 333.1 132.8 333.6 132.3 334.1 130.6 334.6 129.6 335.1 127.4 335.6 125.8 336.1 123 336.6 120.3 337.1 117.9 337.6 115.8 338.1 115.4 338.6 115.6 339.1 117.6 339.6 120.8 340.1 123 340.6 125.3 341.1 128.1 341.6 129.1 342.1 130.5 342.6 132.4 343.1 133.1 343.6 133.9 343.9 134 344.1 134.3 344.6 134.2 345.1 134.7 345.6 134.9 346.1 134.8 346.6 135 347.1 134.7 347.6 134.8 348.1 135.5 348.6 135.4 349.1 135.7 349.6 135.4 350.1 135.7 350.6 135.1 351.1 135.1 351.6 134.9 352.1 135.7 352.6 135.9 353.1 135.2 353.6 135.5 354.1 135 354.6 135.6 355.1 135.7 355.6 135.9 356.1 135.1 356.6 135.5" fill="none" stroke="#5aaee0" stroke-width="0.8"/>
<path d="M319.6 132.9 320.1 132.9 320.6 132.5 321.1 132.4 321.6 132.8 322.1 133.1 322.6 132.8 323.1 132.3 323.6 132.8 324.1 132.5 324.6 132.6 325.1 132.7 325.6 132.5 326.1 132.8 326.6 132.5 327.1 132.1 327.6 132.9 328.1 132.5 328.6 132 329.1 131.8 329.6 132.7 330.1 132 330.6 131.8 331.1 131.4 331.6 131.6 332.1 131.6 332.5 131.1 332.6 130.5 333.1 129.9 333.6 129.6 334.1 128 334.6 126.6 335.1 124.8 335.6 123.3 336.1 120.4 336.6 117.9 337.1 115 337.6 113.2 338.1 112.6 338.6 112.9 339.1 115.3 339.6 117.4 340.1 120.6 340.6 122.8 341.1 124.7 341.6 127.1 342.1 127.9 342.6 129.7 343.1 129.7 343.6 131.2 343.9 130.8 344.1 131.3 344.6 131.8 345.1 131.9 345.6 131.9 346.1 132.2 346.6 132.6 347.1 132.3 347.6 132.5 348.1 131.9 348.6 132.6 349.1 132.6 349.6 132.8 350.1 132.1 350.6 132.8 351.1 132.5 351.6 132.3 352.1 132.8 352.6 132.4 353.1 132.9 353.6 133.1 354.1 133.2 354.6 132.8 355.1 132.4 355.6 133.1 356.1 132.9 356.6 132.6" fill="none" stroke="#f5a742" stroke-width="0.8"/>
<path d="M319.6 134.8 320.1 134.9 320.6 134.5 321.1 134.6 321.6 134 322.1 134.1 322.6 134.7 323.1 134.4 323.6 134.5 324.1 134.8 324.6 134.4 325.1 133.9 325.6 134.5 326.1 134.1 326.6 133.9 327.1 134.5 327.6 133.6 328.1 134.4 328.6 134.1 329.1 133.5 329.6 134.1 330.1 133.6 330.6 133.7 331.1 133.1 331.6 133.2 332.1 132.6 332.5 132 332.6 132 333.1 131.1 333.6 129.8 334.1 127.8 334.6 126.2 335.1 123 335.6 120.3 336.1 116.9 336.6 113.1 337.1 108.7 337.6 106.6 338.1 104.8 338.6 106.6 339.1 108.6 339.6 112.9 340.1 116.6 340.6 119.9 341.1 123.7 341.6 126.3 342.1 127.7 342.6 129.4 343.1 130.4 343.6 131.8 343.9 132 344.1 132.5 344.6 132.8 345.1 133.3 345.6 133.2 346.1 133.7 346.6 133.9 347.1 133.6 347.6 134.3 348.1 133.7 348.6 134 349.1 134.4 349.6 134.5 350.1 134.2 350.6 134.2 351.1 134.1 351.6 134.5 352.1 134.4 352.6 134 353.1 134.6 353.6 134 354.1 134.1 354.6 134 355.1 134 355.6 134.8 356.1 134.2 356.6 134.4" fill="none" stroke="#2ca02c" stroke-width="0.8"/>
<path d="M319.6 135.2 320.1 134.4 320.6 134.7 321.1 134.5 321.6 134.7 322.1 135.2 322.6 134.4 323.1 135.1 323.6 134.9 324.1 134.5 324.6 134.9 325.1 134.6 325.6 134.3 326.1 134.9 326.6 134.3 327.1 134.8 327.6 134.3 328.1 134.1 328.6 133.9 329.1 134.5 329.6 134.2 330.1 133.2 330.6 133.6 331.1 133.2 331.6 132.9 332.1 132 332.5 131.4 332.6 131.3 333.1 130.6 333.6 129 334.1 127.3 334.6 125.3 335.1 121.7 335.6 118.2 336.1 114.4 336.6 109.8 337.1 106 337.6 102.3 338.1 101.7 338.6 102.4 339.1 105.8 339.6 109.8 340.1 114.3 340.6 118.3 341.1 122.3 341.6 124.7 342.1 127.3 342.6 129.3 343.1 130.6 343.6 131.2 343.9 131.6 344.1 131.9 344.6 132.6 345.1 133.5 345.6 133.8 346.1 133.6 346.6 134.1 347.1 134.2 347.6 134.5 348.1 134.6 348.6 134.1 349.1 134.6 349.6 134.1 350.1 134.7 350.6 134.2 351.1 134.8 351.6 134.9 352.1 134.8 352.6 135.2 353.1 134.8 353.6 134.9 354.1 135.3 354.6 134.4 355.1 134.9 355.6 135.3 356.1 134.4 356.6 135.1" fill="none" stroke="#c0142e" stroke-width="0.8"/>
</g></svg>
<line x1="420.4" y1="102.3" x2="421.8" y2="102.3" stroke="#231f20" stroke-width="0.7"/>
<text x="419.5" y="104.7" font-size="6.9" text-anchor="end">12</text>
<line x1="420.4" y1="110.4" x2="421.8" y2="110.4" stroke="#231f20" stroke-width="0.7"/>
<text x="419.5" y="112.8" font-size="6.9" text-anchor="end">10</text>
<line x1="420.4" y1="118.4" x2="421.8" y2="118.4" stroke="#231f20" stroke-width="0.7"/>
<text x="419.5" y="120.8" font-size="6.9" text-anchor="end">8</text>
<line x1="420.4" y1="126.5" x2="421.8" y2="126.5" stroke="#231f20" stroke-width="0.7"/>
<text x="419.5" y="128.9" font-size="6.9" text-anchor="end">6</text>
<line x1="420.4" y1="134.6" x2="421.8" y2="134.6" stroke="#231f20" stroke-width="0.7"/>
<text x="419.5" y="137" font-size="6.9" text-anchor="end">4</text>
<svg x="421.8" y="98.7" width="37" height="40.4" overflow="hidden"><g transform="translate(-421.8 -98.7)">
<path d="M421.8 135.9 422.3 136.1 422.8 136 423.3 135.4 423.8 135.6 424.3 135.6 424.8 135.8 425.3 135.8 425.8 135.1 426.3 135.7 426.8 135.1 427.3 135.2 427.8 135.8 428.3 135.2 428.8 135.9 429.3 135.2 429.8 135.1 430.3 135.1 430.8 135.2 431.3 134.9 431.8 135.4 432.3 135 432.8 135.1 433.3 134.9 433.8 134.9 434.3 134.1 434.7 134 434.8 133.7 435.3 133.3 435.8 132.6 436.3 131.4 436.8 130.3 437.3 129 437.8 127.5 438.3 124.9 438.8 123.1 439.3 121.2 439.8 119.3 440.3 118.3 440.8 118.7 441.3 120.7 441.8 122.9 442.3 124.9 442.8 127.1 443.3 129.1 443.8 130.6 444.3 131.5 444.8 132.9 445.3 133.8 445.8 133.8 446.1 133.9 446.3 134.5 446.8 134.4 447.3 134.4 447.8 135.3 448.3 135.4 448.8 135.1 449.3 135.4 449.8 134.9 450.3 134.9 450.8 135.4 451.3 135.1 451.8 135.3 452.3 135.8 452.8 135.1 453.3 135.8 453.8 135.9 454.3 135.6 454.8 136 455.3 135.6 455.8 135.7 456.3 135.2 456.8 135.7 457.3 135.3 457.8 135.4 458.3 135.6 458.8 135.9" fill="none" stroke="#9085c8" stroke-width="0.8"/>
<path d="M421.8 136.2 422.3 136.1 422.8 136.1 423.3 135.9 423.8 136 424.3 136.2 424.8 135.9 425.3 135.5 425.8 136.2 426.3 136.1 426.8 136.4 427.3 136.3 427.8 136.3 428.3 135.9 428.8 135.5 429.3 135.6 429.8 135.3 430.3 135.4 430.8 135.6 431.3 135.5 431.8 135.9 432.3 135.5 432.8 135.5 433.3 135 433.8 135.3 434.3 134.6 434.7 134.4 434.8 134.2 435.3 133.7 435.8 133.2 436.3 131.7 436.8 130.3 437.3 128.9 437.8 127.5 438.3 124.8 438.8 122.2 439.3 119.7 439.8 118.1 440.3 118.1 440.8 118 441.3 120 441.8 122.7 442.3 124.5 442.8 126.8 443.3 128.7 443.8 130.8 444.3 131.8 444.8 133 445.3 133.8 445.8 134 446.1 134.3 446.3 134.8 446.8 134.9 447.3 134.7 447.8 135.2 448.3 135 448.8 135.4 449.3 135.1 449.8 136.1 450.3 135.7 450.8 135.7 451.3 135.6 451.8 135.4 452.3 135.7 452.8 135.9 453.3 135.8 453.8 135.9 454.3 135.8 454.8 135.6 455.3 136.4 455.8 136.2 456.3 135.7 456.8 136.4 457.3 135.8 457.8 136.5 458.3 135.9 458.8 135.8" fill="none" stroke="#5aaee0" stroke-width="0.8"/>
<path d="M421.8 133.4 422.3 133.3 422.8 133.4 423.3 133 423.8 133.1 424.3 133 424.8 133.3 425.3 133 425.8 132.7 426.3 132.8 426.8 132.6 427.3 133.2 427.8 133 428.3 133 428.8 133 429.3 132.6 429.8 133.1 430.3 132.7 430.8 132.4 431.3 132.2 431.8 132.9 432.3 132.6 432.8 132.2 433.3 131.6 433.8 132.1 434.3 131.1 434.7 131.1 434.8 130.8 435.3 129.8 435.8 129.7 436.3 128.2 436.8 126.8 437.3 124.8 437.8 122.3 438.3 119.2 438.8 116.4 439.3 113.9 439.8 111 440.3 110.4 440.8 111.6 441.3 113.2 441.8 116.1 442.3 119.7 442.8 121.7 443.3 124.2 443.8 126.7 444.3 128.5 444.8 128.9 445.3 129.9 445.8 131.3 446.1 131 446.3 131.1 446.8 131.6 447.3 131.7 447.8 131.8 448.3 132.5 448.8 132.2 449.3 132.2 449.8 132.8 450.3 132.6 450.8 132.6 451.3 132.5 451.8 132.8 452.3 133.1 452.8 133.2 453.3 133 453.8 133.4 454.3 132.7 454.8 132.7 455.3 133.3 455.8 132.9 456.3 133 456.8 133.5 457.3 132.9 457.8 132.9 458.3 133.4 458.8 133.6" fill="none" stroke="#f5a742" stroke-width="0.8"/>
<path d="M421.8 132.6 422.3 132.1 422.8 132.4 423.3 132 423.8 132.6 424.3 132.6 424.8 132.4 425.3 131.9 425.8 132.5 426.3 132.6 426.8 132 427.3 132.5 427.8 132 428.3 132.5 428.8 132.3 429.3 131.8 429.8 131.6 430.3 131.9 430.8 131.8 431.3 132.1 431.8 131.7 432.3 131.7 432.8 131 433.3 130.9 433.8 130.5 434.3 130.3 434.7 129.8 434.8 130.2 435.3 129.2 435.8 128.2 436.3 126.9 436.8 124.7 437.3 123 437.8 120.3 438.3 117.3 438.8 113.5 439.3 110.5 439.8 108.1 440.3 107.3 440.8 107.7 441.3 110.2 441.8 113.9 442.3 117.1 442.8 119.8 443.3 123 443.8 125.1 444.3 127 444.8 128 445.3 128.8 445.8 130.1 446.1 130.2 446.3 129.9 446.8 130.8 447.3 131.2 447.8 131 448.3 131.1 448.8 131.7 449.3 132 449.8 131.7 450.3 131.6 450.8 131.5 451.3 131.8 451.8 132.2 452.3 132.1 452.8 132.3 453.3 132.2 453.8 132.2 454.3 131.8 454.8 131.9 455.3 131.9 455.8 132.3 456.3 131.9 456.8 132.6 457.3 131.9 457.8 132.2 458.3 132 458.8 132.4" fill="none" stroke="#2ca02c" stroke-width="0.8"/>
<path d="M421.8 132.7 422.3 133.6 422.8 132.8 423.3 132.8 423.8 133.2 424.3 132.8 424.8 133.3 425.3 132.8 425.8 133 426.3 133.1 426.8 133.2 427.3 132.6 427.8 132.7 428.3 133.2 428.8 132.4 429.3 133 429.8 132.8 430.3 132.7 430.8 132.5 431.3 132.1 431.8 131.9 432.3 132 432.8 132.1 433.3 132.1 433.8 131.8 434.3 131 434.7 130.4 434.8 130.4 435.3 129.1 435.8 128.5 436.3 127 436.8 125.1 437.3 122.9 437.8 119.4 438.3 116.4 438.8 112.8 439.3 109.4 439.8 106.8 440.3 105.7 440.8 106.6 441.3 109.4 441.8 112.4 442.3 116.4 442.8 120 443.3 123 443.8 125.3 444.3 127 444.8 128.1 445.3 129.2 445.8 130.6 446.1 130.5 446.3 131 446.8 131.4 447.3 131.7 447.8 132.4 448.3 132.6 448.8 132.2 449.3 132.3 449.8 132.6 450.3 132.2 450.8 132.4 451.3 132.9 451.8 133.2 452.3 132.8 452.8 132.7 453.3 133.2 453.8 133.4 454.3 133 454.8 133.4 455.3 132.8 455.8 132.9 456.3 133.3 456.8 133.1 457.3 133.4 457.8 133.4 458.3 133.4 458.8 132.9" fill="none" stroke="#c0142e" stroke-width="0.8"/>
</g></svg>
<line x1="471.5" y1="100.2" x2="472.9" y2="100.2" stroke="#231f20" stroke-width="0.7"/>
<text x="470.6" y="102.6" font-size="6.9" text-anchor="end">30</text>
<line x1="471.5" y1="107" x2="472.9" y2="107" stroke="#231f20" stroke-width="0.7"/>
<text x="470.6" y="109.4" font-size="6.9" text-anchor="end">25</text>
<line x1="471.5" y1="113.7" x2="472.9" y2="113.7" stroke="#231f20" stroke-width="0.7"/>
<text x="470.6" y="116.1" font-size="6.9" text-anchor="end">20</text>
<line x1="471.5" y1="120.5" x2="472.9" y2="120.5" stroke="#231f20" stroke-width="0.7"/>
<text x="470.6" y="122.9" font-size="6.9" text-anchor="end">15</text>
<line x1="471.5" y1="127.2" x2="472.9" y2="127.2" stroke="#231f20" stroke-width="0.7"/>
<text x="470.6" y="129.6" font-size="6.9" text-anchor="end">10</text>
<line x1="471.5" y1="134" x2="472.9" y2="134" stroke="#231f20" stroke-width="0.7"/>
<text x="470.6" y="136.4" font-size="6.9" text-anchor="end">5</text>
<svg x="472.9" y="98.7" width="37" height="40.4" overflow="hidden"><g transform="translate(-472.9 -98.7)">
<path d="M472.9 133.9 473.4 133.7 473.9 134 474.4 133.5 474.9 133.7 475.4 133.7 475.9 133.9 476.4 133.7 476.9 134.1 477.4 133.3 477.9 133.6 478.4 133.7 478.9 133.6 479.4 134.1 479.9 133.8 480.4 133.9 480.9 133.3 481.4 134 481.9 133.5 482.4 133.1 482.9 133.1 483.4 133.1 483.9 133.4 484.4 133.3 484.9 132.7 485.4 132.8 485.8 132.1 485.9 132.4 486.4 131.5 486.9 131 487.4 129.9 487.9 128.7 488.4 127.8 488.9 125.6 489.4 124.6 489.9 121.7 490.4 120.4 490.9 118.4 491.4 117.9 491.9 118.1 492.4 120.2 492.9 122.3 493.4 123.9 493.9 126 494.4 127.5 494.9 129.1 495.4 130.7 495.9 130.8 496.4 132 496.9 132.3 497.2 132.9 497.4 132.8 497.9 132.7 498.4 132.8 498.9 133.1 499.4 133.3 499.9 133.1 500.4 133.3 500.9 133.8 501.4 133.5 501.9 133.5 502.4 133.4 502.9 133.9 503.4 133.9 503.9 133.9 504.4 134.1 504.9 133.9 505.4 133.5 505.9 133.7 506.4 134.1 506.9 133.6 507.4 134.2 507.9 133.6 508.4 134.2 508.9 134.2 509.4 134.1 509.9 133.8" fill="none" stroke="#9085c8" stroke-width="0.8"/>
<path d="M472.9 134.1 473.4 133.5 473.9 133.4 474.4 134 474.9 133.6 475.4 133.6 475.9 133.7 476.4 134 476.9 133.3 477.4 133.3 477.9 134.2 478.4 133.9 478.9 133.9 479.4 133.9 479.9 133.7 480.4 133.2 480.9 134 481.4 133.2 481.9 133.7 482.4 133.9 482.9 133 483.4 133.5 483.9 133.4 484.4 133.4 484.9 132.9 485.4 132.9 485.8 132.6 485.9 132.4 486.4 131.6 486.9 131 487.4 130.3 487.9 128.9 488.4 127.2 488.9 125.5 489.4 123.9 489.9 121.1 490.4 119.1 490.9 117.7 491.4 117.1 491.9 117.9 492.4 119.8 492.9 121.2 493.4 123.6 493.9 126.1 494.4 127.1 494.9 128.5 495.4 130.5 495.9 130.8 496.4 131.9 496.9 132.1 497.2 132.1 497.4 132.7 497.9 132.8 498.4 132.8 498.9 133.4 499.4 133.1 499.9 133.4 500.4 133 500.9 133.8 501.4 133.3 501.9 134 502.4 133.8 502.9 134 503.4 134 503.9 133.7 504.4 134 504.9 133.5 505.4 134.1 505.9 133.7 506.4 133.4 506.9 134.1 507.4 134.1 507.9 133.6 508.4 133.9 508.9 133.4 509.4 134 509.9 134" fill="none" stroke="#5aaee0" stroke-width="0.8"/>
<path d="M472.9 133.5 473.4 134 473.9 133.4 474.4 133.5 474.9 134.1 475.4 133.8 475.9 133.4 476.4 134.2 476.9 133.5 477.4 133.5 477.9 133.6 478.4 133.7 478.9 134.1 479.4 133.3 479.9 134.1 480.4 133.4 480.9 133.4 481.4 133.8 481.9 133.4 482.4 133.6 482.9 133.2 483.4 133.8 483.9 132.9 484.4 133.3 484.9 132.8 485.4 132.9 485.8 132.3 485.9 132.7 486.4 132.1 486.9 132 487.4 130.9 487.9 130.3 488.4 128.4 488.9 127.2 489.4 125.9 489.9 123.6 490.4 121.9 490.9 120.6 491.4 120.9 491.9 120.8 492.4 122.1 492.9 123.9 493.4 126.2 493.9 127 494.4 128.8 494.9 129.8 495.4 130.6 495.9 131.8 496.4 132.6 496.9 132.1 497.2 132.9 497.4 133.3 497.9 133.4 498.4 132.7 498.9 133.1 499.4 133.7 499.9 133.8 500.4 133.2 500.9 133.4 501.4 133.5 501.9 134 502.4 133.8 502.9 133.3 503.4 134.2 503.9 133.8 504.4 134.2 504.9 133.3 505.4 134.2 505.9 133.4 506.4 133.5 506.9 133.6 507.4 134.3 507.9 133.7 508.4 133.9 508.9 133.9 509.4 134.2 509.9 133.9" fill="none" stroke="#f5a742" stroke-width="0.8"/>
<path d="M472.9 133.2 473.4 133.8 473.9 133.1 474.4 133.5 474.9 133.6 475.4 133.6 475.9 133.4 476.4 133.2 476.9 133.2 477.4 132.9 477.9 133.2 478.4 133.1 478.9 132.7 479.4 133.3 479.9 133.5 480.4 133.1 480.9 133 481.4 133.1 481.9 132.8 482.4 133 482.9 132 483.4 132.3 483.9 131.7 484.4 131.6 484.9 131.1 485.4 130.6 485.8 130.5 485.9 129.9 486.4 129.4 486.9 127.7 487.4 125.8 487.9 123.4 488.4 121.1 488.9 117.5 489.4 113 489.9 108.7 490.4 104.3 490.9 101.8 491.4 100.5 491.9 101.8 492.4 104.6 492.9 108.8 493.4 113.2 493.9 117.1 494.4 120.7 494.9 123.6 495.4 125.5 495.9 127.6 496.4 128.9 496.9 130 497.2 130.6 497.4 130.6 497.9 131.3 498.4 132.1 498.9 132.1 499.4 132.3 499.9 132.5 500.4 132.5 500.9 132.8 501.4 132.9 501.9 132.9 502.4 133.1 502.9 132.6 503.4 133.5 503.9 133.6 504.4 132.9 504.9 133.3 505.4 133.3 505.9 133.2 506.4 133.4 506.9 133.6 507.4 133.8 507.9 133 508.4 133 508.9 133.6 509.4 133.5 509.9 133.6" fill="none" stroke="#2ca02c" stroke-width="0.8"/>
<path d="M472.9 133.9 473.4 133.1 473.9 133.2 474.4 133.7 474.9 133.7 475.4 133.3 475.9 133.1 476.4 133.4 476.9 133.5 477.4 133.6 477.9 133 478.4 133 478.9 132.9 479.4 133.6 479.9 133.1 480.4 132.7 480.9 132.9 481.4 133.1 481.9 133.3 482.4 133.3 482.9 132.5 483.4 133 483.9 132.2 484.4 132.1 484.9 132 485.4 131.2 485.8 130.7 485.9 130.9 486.4 130.6 486.9 129.1 487.4 127.9 487.9 126.3 488.4 123.5 488.9 121.1 489.4 118.6 489.9 115.3 490.4 111.9 490.9 109.2 491.4 108.5 491.9 109.3 492.4 111.5 492.9 115.3 493.4 118.1 493.9 121.5 494.4 123.5 494.9 125.6 495.4 128 495.9 129.1 496.4 130.6 496.9 131.1 497.2 131.2 497.4 131.4 497.9 132.1 498.4 132.7 498.9 132.8 499.4 132.6 499.9 133.1 500.4 133 500.9 132.8 501.4 132.6 501.9 133.1 502.4 133.4 502.9 133.1 503.4 133.4 503.9 133 504.4 133.6 504.9 133.6 505.4 133.4 505.9 133 506.4 133.7 506.9 133.7 507.4 133.8 507.9 133.7 508.4 133.6 508.9 133.6 509.4 133.3 509.9 133.6" fill="none" stroke="#c0142e" stroke-width="0.8"/>
</g></svg>
<line x1="267.1" y1="168" x2="268.5" y2="168" stroke="#231f20" stroke-width="0.7"/>
<text x="266.2" y="170.4" font-size="6.9" text-anchor="end">25</text>
<line x1="267.1" y1="175.6" x2="268.5" y2="175.6" stroke="#231f20" stroke-width="0.7"/>
<text x="266.2" y="178" font-size="6.9" text-anchor="end">20</text>
<line x1="267.1" y1="183.1" x2="268.5" y2="183.1" stroke="#231f20" stroke-width="0.7"/>
<text x="266.2" y="185.5" font-size="6.9" text-anchor="end">15</text>
<line x1="267.1" y1="190.6" x2="268.5" y2="190.6" stroke="#231f20" stroke-width="0.7"/>
<text x="266.2" y="193" font-size="6.9" text-anchor="end">10</text>
<line x1="267.1" y1="198.2" x2="268.5" y2="198.2" stroke="#231f20" stroke-width="0.7"/>
<text x="266.2" y="200.6" font-size="6.9" text-anchor="end">5</text>
<svg x="268.5" y="162.7" width="37" height="40.4" overflow="hidden"><g transform="translate(-268.5 -162.7)">
<path d="M268.5 195.1 269 195.2 269.5 194.9 270 194.8 270.5 195.2 271 194.7 271.5 195.3 272 194.7 272.5 195 273 194.9 273.5 195.1 274 195.2 274.5 195.3 275 194.7 275.5 195.1 276 194.8 276.5 195 277 194.9 277.5 195.2 278 195.2 278.5 195 279 194.7 279.5 194.7 280 195.1 280.5 194.4 281 194.5 281.4 194.7 281.5 194.5 282 194.3 282.5 193.4 283 193.2 283.5 192.8 284 192.2 284.5 191.3 285 190.3 285.5 189.2 286 187.8 286.5 186.9 287 186.7 287.5 186.9 288 187.9 288.5 189.4 289 190.5 289.5 191.4 290 192.2 290.5 192.7 291 193 291.5 193.6 292 194.1 292.5 194.5 292.8 194 293 194.2 293.5 194.7 294 195.1 294.5 194.4 295 195 295.5 194.6 296 195.2 296.5 194.8 297 195.1 297.5 194.6 298 195.2 298.5 195.3 299 195.3 299.5 194.8 300 194.6 300.5 194.9 301 194.9 301.5 195.3 302 195.3 302.5 195.4 303 194.7 303.5 195.5 304 195 304.5 195.2 305 195.4 305.5 195.2" fill="none" stroke="#9085c8" stroke-width="0.8"/>
<path d="M268.5 194.7 269 195.3 269.5 195.4 270 195 270.5 195 271 195.1 271.5 195.3 272 194.7 272.5 195.4 273 195.3 273.5 195.3 274 195 274.5 195 275 195 275.5 194.8 276 194.6 276.5 195 277 195.3 277.5 194.6 278 195.3 278.5 195 279 195.1 279.5 194.6 280 194.4 280.5 194.9 281 194.6 281.4 193.9 281.5 194 282 194.3 282.5 193.4 283 192.8 283.5 192.5 284 192 284.5 190.6 285 189.8 285.5 188.8 286 187.6 286.5 186.5 287 186.4 287.5 186.6 288 187.3 288.5 188.5 289 189.8 289.5 190.5 290 192 290.5 192.6 291 192.7 291.5 193.2 292 193.6 292.5 194 292.8 194.3 293 194.2 293.5 194.5 294 195 294.5 194.9 295 195.1 295.5 194.5 296 195 296.5 195 297 194.9 297.5 195.3 298 194.8 298.5 194.7 299 194.7 299.5 194.7 300 195.2 300.5 195.3 301 194.8 301.5 194.9 302 195.2 302.5 195.2 303 195.4 303.5 194.8 304 195.1 304.5 194.8 305 195.2 305.5 195.3" fill="none" stroke="#5aaee0" stroke-width="0.8"/>
<path d="M268.5 194.3 269 194.1 269.5 194 270 194.5 270.5 194.2 271 194.4 271.5 194 272 194.1 272.5 194.3 273 194.4 273.5 194.5 274 194 274.5 194 275 194.4 275.5 194.6 276 194.5 276.5 193.8 277 194.6 277.5 193.9 278 194.1 278.5 194.1 279 194 279.5 194.1 280 193.9 280.5 194.2 281 193.3 281.4 193.9 281.5 193.8 282 193.1 282.5 192.8 283 192.2 283.5 191.8 284 190.8 284.5 190.7 285 189.8 285.5 188.5 286 187 286.5 186.7 287 186.1 287.5 186.2 288 187.5 288.5 188.3 289 189 289.5 190.2 290 191.3 290.5 191.9 291 192.7 291.5 192.5 292 193 292.5 193.4 292.8 193.8 293 193.5 293.5 193.8 294 193.7 294.5 194.1 295 193.7 295.5 193.9 296 194.2 296.5 194.1 297 193.9 297.5 194.2 298 193.8 298.5 194.7 299 193.9 299.5 194.1 300 194.3 300.5 194 301 194.6 301.5 194.4 302 194.1 302.5 194.1 303 194.4 303.5 193.9 304 194.2 304.5 194.7 305 194.7 305.5 194.7" fill="none" stroke="#f5a742" stroke-width="0.8"/>
<path d="M268.5 192.7 269 192.9 269.5 192.9 270 192.7 270.5 193 271 192.3 271.5 192.4 272 192.6 272.5 192.7 273 192.7 273.5 192.5 274 192.7 274.5 192.1 275 192.1 275.5 192.2 276 192.1 276.5 192.7 277 192.6 277.5 192.3 278 192.4 278.5 192.1 279 191.5 279.5 191.5 280 191.2 280.5 191.5 281 191.2 281.4 191 281.5 190.6 282 190.1 282.5 188.8 283 187.8 283.5 185.9 284 184.1 284.5 181.8 285 179.3 285.5 176 286 173.2 286.5 170.9 287 170.3 287.5 171.2 288 173.5 288.5 176.6 289 179.2 289.5 181.7 290 184.4 290.5 185.8 291 187.3 291.5 188.6 292 189.5 292.5 190.5 292.8 191 293 191.1 293.5 191.1 294 191.2 294.5 192.1 295 192.3 295.5 192.2 296 192.3 296.5 192.1 297 192.6 297.5 192 298 192.5 298.5 192.1 299 192.6 299.5 192.7 300 192.8 300.5 192.2 301 192.5 301.5 192.3 302 193 302.5 192.6 303 192.5 303.5 192.3 304 192.3 304.5 193 305 192.8 305.5 192.3" fill="none" stroke="#2ca02c" stroke-width="0.8"/>
<path d="M268.5 196.8 269 196.4 269.5 197 270 197.2 270.5 196.4 271 196.9 271.5 196.7 272 196.8 272.5 196.6 273 196.3 273.5 196.3 274 196.3 274.5 196.8 275 196.3 275.5 196.9 276 196.5 276.5 196 277 196.6 277.5 196.4 278 196.1 278.5 196.3 279 195.8 279.5 195.7 280 196 280.5 195 281 195.4 281.4 194.5 281.5 194.6 282 194.1 282.5 193.2 283 191.2 283.5 189.8 284 188.2 284.5 185.5 285 182.6 285.5 179.7 286 177.1 286.5 175.1 287 174 287.5 174.5 288 177 288.5 179.9 289 182.8 289.5 185.8 290 188.1 290.5 189.8 291 191.9 291.5 192.6 292 194.2 292.5 194.5 292.8 194.8 293 195.3 293.5 195 294 195.7 294.5 196.1 295 196.1 295.5 196 296 196.3 296.5 196.7 297 196.7 297.5 196.2 298 196.8 298.5 196.7 299 196.3 299.5 196.3 300 196.3 300.5 196.9 301 197.1 301.5 196.5 302 196.6 302.5 196.8 303 197.1 303.5 196.8 304 197 304.5 196.7 305 196.4 305.5 197" fill="none" stroke="#c0142e" stroke-width="0.8"/>
</g></svg>
<line x1="369.3" y1="168.3" x2="370.7" y2="168.3" stroke="#231f20" stroke-width="0.7"/>
<text x="368.4" y="170.7" font-size="6.9" text-anchor="end">80</text>
<line x1="369.3" y1="177.8" x2="370.7" y2="177.8" stroke="#231f20" stroke-width="0.7"/>
<text x="368.4" y="180.2" font-size="6.9" text-anchor="end">60</text>
<line x1="369.3" y1="187.4" x2="370.7" y2="187.4" stroke="#231f20" stroke-width="0.7"/>
<text x="368.4" y="189.8" font-size="6.9" text-anchor="end">40</text>
<line x1="369.3" y1="196.9" x2="370.7" y2="196.9" stroke="#231f20" stroke-width="0.7"/>
<text x="368.4" y="199.3" font-size="6.9" text-anchor="end">20</text>
<svg x="370.7" y="162.7" width="37" height="40.4" overflow="hidden"><g transform="translate(-370.7 -162.7)">
<path d="M370.7 199.4 371.2 198.9 371.7 199.4 372.2 199.3 372.7 199.1 373.2 198.7 373.7 199.2 374.2 199.2 374.7 199 375.2 199.3 375.7 199 376.2 198.8 376.7 199 377.2 198.6 377.7 199.1 378.2 199.1 378.7 198.7 379.2 198.7 379.7 198.3 380.2 198.9 380.7 198.3 381.2 198.2 381.7 198.4 382.2 198.4 382.7 197.7 383.2 197.3 383.6 197.2 383.7 197.1 384.2 196.3 384.7 195.5 385.2 194.6 385.7 193.4 386.2 191.4 386.7 189.2 387.2 186.5 387.7 183.8 388.2 181.5 388.7 179.7 389.2 179 389.7 179.5 390.2 181.4 390.7 184.4 391.2 186.7 391.7 188.9 392.2 191.4 392.7 192.8 393.2 194.6 393.7 195.5 394.2 196.1 394.7 197.3 395 197.5 395.2 197.1 395.7 198.2 396.2 198.2 396.7 198.3 397.2 198.2 397.7 198.4 398.2 198.2 398.7 198.5 399.2 199.1 399.7 199.1 400.2 199.2 400.7 198.9 401.2 199.3 401.7 198.9 402.2 198.8 402.7 199.2 403.2 198.7 403.7 199.1 404.2 198.7 404.7 199.1 405.2 199 405.7 199 406.2 199.3 406.7 198.9 407.2 199.5 407.7 199.3" fill="none" stroke="#9085c8" stroke-width="0.8"/>
<path d="M370.7 199.2 371.2 198.8 371.7 199.1 372.2 199.4 372.7 199.2 373.2 199 373.7 198.8 374.2 199.3 374.7 198.8 375.2 199.1 375.7 198.9 376.2 199 376.7 198.9 377.2 198.5 377.7 198.5 378.2 198.4 378.7 198.5 379.2 198.5 379.7 198.9 380.2 198.9 380.7 198.2 381.2 198.2 381.7 198.1 382.2 198.2 382.7 198 383.2 197.1 383.6 197 383.7 197.3 384.2 196.4 384.7 195.6 385.2 194.6 385.7 192.4 386.2 190.7 386.7 188.5 387.2 186.6 387.7 183.5 388.2 181.1 388.7 178.5 389.2 177.6 389.7 178.4 390.2 180.5 390.7 183.8 391.2 186.6 391.7 189.1 392.2 190.7 392.7 192.6 393.2 194.3 393.7 195.7 394.2 196 394.7 197.3 395 197.4 395.2 197.8 395.7 197.4 396.2 198.1 396.7 198 397.2 198.1 397.7 198.4 398.2 198.2 398.7 198.4 399.2 198.3 399.7 198.4 400.2 199.1 400.7 198.6 401.2 199.1 401.7 199 402.2 199 402.7 198.6 403.2 199.3 403.7 199 404.2 199.3 404.7 198.6 405.2 199 405.7 198.9 406.2 199.1 406.7 198.9 407.2 199.2 407.7 199.2" fill="none" stroke="#5aaee0" stroke-width="0.8"/>
<path d="M370.7 198.9 371.2 198.9 371.7 198.8 372.2 199.2 372.7 198.8 373.2 198.8 373.7 199 374.2 199.1 374.7 198.9 375.2 199.3 375.7 199.3 376.2 199.1 376.7 199.2 377.2 199.2 377.7 198.6 378.2 198.6 378.7 198.6 379.2 198.9 379.7 198.4 380.2 198.2 380.7 198.3 381.2 198.5 381.7 198.1 382.2 198 382.7 197.9 383.2 197.6 383.6 196.7 383.7 196.7 384.2 195.8 384.7 195.5 385.2 194.3 385.7 192.5 386.2 191 386.7 188.5 387.2 185.6 387.7 182.8 388.2 179.6 388.7 177.7 389.2 176.8 389.7 177.7 390.2 179.7 390.7 182.9 391.2 186.1 391.7 187.9 392.2 190.4 392.7 192.8 393.2 194.4 393.7 195.5 394.2 196 394.7 197.1 395 197.5 395.2 197.3 395.7 198.1 396.2 198.2 396.7 198.2 397.2 198.5 397.7 198.8 398.2 198.7 398.7 198.8 399.2 198.8 399.7 198.8 400.2 198.9 400.7 198.9 401.2 199.2 401.7 198.6 402.2 198.7 402.7 198.9 403.2 199.4 403.7 199.2 404.2 198.7 404.7 199 405.2 199.3 405.7 198.8 406.2 198.7 406.7 199.4 407.2 199.1 407.7 199" fill="none" stroke="#f5a742" stroke-width="0.8"/>
<path d="M370.7 199.3 371.2 199.1 371.7 198.9 372.2 198.8 372.7 198.8 373.2 198.8 373.7 199 374.2 199.2 374.7 199.2 375.2 198.6 375.7 198.5 376.2 198.4 376.7 199.1 377.2 198.5 377.7 198.9 378.2 198.7 378.7 198.7 379.2 198.1 379.7 198.1 380.2 197.9 380.7 198.2 381.2 197.6 381.7 197.9 382.2 197.4 382.7 197 383.2 196.8 383.6 196.2 383.7 196.2 384.2 194.7 384.7 194 385.2 192.4 385.7 190.1 386.2 187.2 386.7 184 387.2 180.4 387.7 176.2 388.2 172.3 388.7 169.7 389.2 168.3 389.7 169.7 390.2 172.7 390.7 176.7 391.2 180.8 391.7 184.2 392.2 187 392.7 189.8 393.2 192.4 393.7 194 394.2 194.9 394.7 195.9 395 196.7 395.2 196.9 395.7 197 396.2 197.4 396.7 198.1 397.2 197.7 397.7 198.3 398.2 198.1 398.7 198.3 399.2 198.5 399.7 198.1 400.2 198.6 400.7 198.7 401.2 198.6 401.7 198.4 402.2 198.4 402.7 198.6 403.2 198.8 403.7 198.7 404.2 198.8 404.7 198.5 405.2 198.6 405.7 198.7 406.2 199.2 406.7 198.9 407.2 199.1 407.7 199.2" fill="none" stroke="#2ca02c" stroke-width="0.8"/>
<path d="M370.7 198.8 371.2 199.2 371.7 198.8 372.2 199 372.7 199 373.2 198.7 373.7 198.7 374.2 198.5 374.7 198.4 375.2 198.5 375.7 198.9 376.2 198.6 376.7 198.7 377.2 198.3 377.7 198.6 378.2 198.6 378.7 198.8 379.2 198.4 379.7 198.2 380.2 198.3 380.7 198.3 381.2 197.8 381.7 197.9 382.2 197.5 382.7 196.9 383.2 196.5 383.6 195.8 383.7 195.6 384.2 194.7 384.7 193.5 385.2 191.8 385.7 189 386.2 185.8 386.7 182.9 387.2 178.8 387.7 174.5 388.2 169.9 388.7 166.7 389.2 165.2 389.7 167.1 390.2 170.4 390.7 174.6 391.2 178.8 391.7 182.8 392.2 186.3 392.7 188.7 393.2 191.5 393.7 193.2 394.2 194.2 394.7 195.5 395 196 395.2 196.1 395.7 197 396.2 197.7 396.7 197.2 397.2 197.8 397.7 197.9 398.2 198.5 398.7 198 399.2 198.4 399.7 198.3 400.2 198.7 400.7 198.2 401.2 198.7 401.7 198.8 402.2 198.4 402.7 199 403.2 199 403.7 198.8 404.2 198.5 404.7 199.2 405.2 199.1 405.7 198.7 406.2 199.3 406.7 199 407.2 198.8 407.7 198.8" fill="none" stroke="#c0142e" stroke-width="0.8"/>
</g></svg>
<line x1="420.4" y1="165.4" x2="421.8" y2="165.4" stroke="#231f20" stroke-width="0.7"/>
<text x="419.5" y="167.8" font-size="6.9" text-anchor="end">14</text>
<line x1="420.4" y1="172.4" x2="421.8" y2="172.4" stroke="#231f20" stroke-width="0.7"/>
<text x="419.5" y="174.8" font-size="6.9" text-anchor="end">12</text>
<line x1="420.4" y1="179.3" x2="421.8" y2="179.3" stroke="#231f20" stroke-width="0.7"/>
<text x="419.5" y="181.7" font-size="6.9" text-anchor="end">10</text>
<line x1="420.4" y1="186.3" x2="421.8" y2="186.3" stroke="#231f20" stroke-width="0.7"/>
<text x="419.5" y="188.7" font-size="6.9" text-anchor="end">8</text>
<line x1="420.4" y1="193.2" x2="421.8" y2="193.2" stroke="#231f20" stroke-width="0.7"/>
<text x="419.5" y="195.6" font-size="6.9" text-anchor="end">6</text>
<line x1="420.4" y1="200.2" x2="421.8" y2="200.2" stroke="#231f20" stroke-width="0.7"/>
<text x="419.5" y="202.6" font-size="6.9" text-anchor="end">4</text>
<svg x="421.8" y="162.7" width="37" height="40.4" overflow="hidden"><g transform="translate(-421.8 -162.7)">
<path d="M421.8 200.5 422.3 201.1 422.8 200.3 423.3 200.9 423.8 200.4 424.3 200.7 424.8 200.3 425.3 200.7 425.8 200.9 426.3 201 426.8 200.6 427.3 201 427.8 200.9 428.3 200.2 428.8 200.4 429.3 200.1 429.8 200.8 430.3 200.4 430.8 200.4 431.3 200.7 431.8 200.4 432.3 199.7 432.8 199.8 433.3 199.8 433.8 199.5 434.3 199 434.7 198.6 434.8 198.8 435.3 198.8 435.8 197.3 436.3 197 436.8 195.7 437.3 194.3 437.8 192 438.3 189.8 438.8 187.6 439.3 185.3 439.8 183.8 440.3 182.6 440.8 183.5 441.3 185.5 441.8 187.2 442.3 189.5 442.8 191.6 443.3 193.4 443.8 195.9 444.3 196.8 444.8 197.7 445.3 198.6 445.8 198.7 446.1 198.8 446.3 199.7 446.8 199.6 447.3 199.4 447.8 199.6 448.3 200.1 448.8 200.6 449.3 200.3 449.8 200.3 450.3 200.1 450.8 200.7 451.3 200.7 451.8 200 452.3 201 452.8 200.5 453.3 201 453.8 200.4 454.3 200.7 454.8 200.2 455.3 200.9 455.8 200.3 456.3 201 456.8 201.1 457.3 201.1 457.8 201.1 458.3 200.8 458.8 200.3" fill="none" stroke="#9085c8" stroke-width="0.8"/>
<path d="M421.8 200.2 422.3 199.8 422.8 200.5 423.3 200 423.8 200 424.3 200.4 424.8 199.9 425.3 200 425.8 200.1 426.3 199.6 426.8 199.7 427.3 200.2 427.8 200.2 428.3 200.3 428.8 200 429.3 199.6 429.8 199.3 430.3 199.2 430.8 199.2 431.3 199.9 431.8 199.2 432.3 199.1 432.8 199.3 433.3 198.6 433.8 198.7 434.3 198.9 434.7 198.5 434.8 198.5 435.3 197.4 435.8 196.6 436.3 195.4 436.8 194.9 437.3 193.3 437.8 190.4 438.3 188.8 438.8 186.3 439.3 183.3 439.8 182.2 440.3 180.8 440.8 181.4 441.3 183.6 441.8 186 442.3 189 442.8 190.7 443.3 192.7 443.8 194.2 444.3 195.7 444.8 197.1 445.3 197.8 445.8 198 446.1 198.8 446.3 198.9 446.8 199.1 447.3 198.8 447.8 199.2 448.3 199.5 448.8 199 449.3 199.5 449.8 199.9 450.3 199.6 450.8 199.4 451.3 199.9 451.8 199.9 452.3 199.7 452.8 199.4 453.3 199.7 453.8 200.2 454.3 199.8 454.8 200.1 455.3 200 455.8 199.8 456.3 200.5 456.8 200 457.3 200.2 457.8 199.9 458.3 199.7 458.8 200.1" fill="none" stroke="#5aaee0" stroke-width="0.8"/>
<path d="M421.8 197.1 422.3 197.4 422.8 197.4 423.3 197.2 423.8 197.2 424.3 197.4 424.8 196.9 425.3 197.1 425.8 197.3 426.3 197.3 426.8 196.7 427.3 196.7 427.8 196.6 428.3 197.2 428.8 197.4 429.3 196.8 429.8 197.3 430.3 196.5 430.8 196.6 431.3 196.8 431.8 196.6 432.3 196.3 432.8 196.7 433.3 196.3 433.8 195.6 434.3 195.4 434.7 195.1 434.8 195.5 435.3 194.7 435.8 193.8 436.3 192.9 436.8 190.8 437.3 189 437.8 186.4 438.3 184.2 438.8 181.1 439.3 178.8 439.8 176.6 440.3 176.1 440.8 176.7 441.3 178.4 441.8 181.5 442.3 184.8 442.8 187 443.3 189.4 443.8 190.8 444.3 192.4 444.8 193.6 445.3 194 445.8 194.8 446.1 195.8 446.3 196 446.8 195.7 447.3 196 447.8 196.2 448.3 196.5 448.8 197 449.3 196.7 449.8 196.4 450.3 196.7 450.8 197.3 451.3 197.3 451.8 196.6 452.3 196.9 452.8 197.3 453.3 196.8 453.8 196.7 454.3 196.7 454.8 197 455.3 196.8 455.8 197.6 456.3 197.2 456.8 196.9 457.3 197.4 457.8 197.6 458.3 196.9 458.8 197" fill="none" stroke="#f5a742" stroke-width="0.8"/>
<path d="M421.8 195.6 422.3 195.5 422.8 195 423.3 194.6 423.8 194.9 424.3 194.7 424.8 195.4 425.3 194.9 425.8 195.3 426.3 195.1 426.8 195.3 427.3 194.9 427.8 195.3 428.3 194.7 428.8 194.6 429.3 194.3 429.8 194.4 430.3 195 430.8 194.1 431.3 194.4 431.8 193.9 432.3 194.2 432.8 194.4 433.3 193.6 433.8 193.8 434.3 192.6 434.7 192.6 434.8 192.1 435.3 191.7 435.8 190.8 436.3 189 436.8 187.2 437.3 185.1 437.8 182.6 438.3 179.3 438.8 175.6 439.3 172.8 439.8 170.2 440.3 168.9 440.8 169.7 441.3 172.9 441.8 176.1 442.3 178.8 442.8 182.6 443.3 184.8 443.8 187.5 444.3 189.6 444.8 190.6 445.3 191.3 445.8 192.2 446.1 193.3 446.3 192.8 446.8 193.3 447.3 193.8 447.8 193.8 448.3 194.1 448.8 194.6 449.3 194.2 449.8 194.9 450.3 194.8 450.8 194.3 451.3 194.6 451.8 194.7 452.3 194.6 452.8 194.9 453.3 195 453.8 194.9 454.3 195.4 454.8 195.1 455.3 195.4 455.8 194.5 456.3 194.6 456.8 194.9 457.3 195.4 457.8 194.7 458.3 195.3 458.8 194.8" fill="none" stroke="#2ca02c" stroke-width="0.8"/>
<path d="M421.8 194.2 422.3 194.3 422.8 194.1 423.3 194.5 423.8 194 424.3 194.2 424.8 194 425.3 193.9 425.8 194.4 426.3 194.3 426.8 194.3 427.3 194.5 427.8 193.7 428.3 193.8 428.8 194 429.3 193.9 429.8 193.5 430.3 194.2 430.8 193.8 431.3 193.4 431.8 193.4 432.3 193.3 432.8 193.3 433.3 193.1 433.8 192.3 434.3 192.1 434.7 191 434.8 190.9 435.3 189.9 435.8 189.3 436.3 187.4 436.8 185.7 437.3 182.8 437.8 179.9 438.3 175.8 438.8 171.4 439.3 167.6 439.8 165 440.3 163.9 440.8 164.4 441.3 168.3 441.8 171.5 442.3 175.5 442.8 179.9 443.3 182.2 443.8 185.2 444.3 187.5 444.8 189.2 445.3 190.2 445.8 191.2 446.1 191.3 446.3 191.6 446.8 192.6 447.3 193.3 447.8 192.8 448.3 193.1 448.8 193.3 449.3 194 449.8 194.1 450.3 193.4 450.8 194 451.3 193.9 451.8 193.5 452.3 194.3 452.8 193.9 453.3 194.5 453.8 194.1 454.3 193.9 454.8 194.5 455.3 194 455.8 193.8 456.3 194 456.8 194 457.3 193.9 457.8 194.1 458.3 194.3 458.8 194.1" fill="none" stroke="#c0142e" stroke-width="0.8"/>
</g></svg>
<line x1="471.5" y1="167.8" x2="472.9" y2="167.8" stroke="#231f20" stroke-width="0.7"/>
<text x="470.6" y="170.2" font-size="6.9" text-anchor="end">60</text>
<line x1="471.5" y1="181.8" x2="472.9" y2="181.8" stroke="#231f20" stroke-width="0.7"/>
<text x="470.6" y="184.2" font-size="6.9" text-anchor="end">40</text>
<line x1="471.5" y1="195.9" x2="472.9" y2="195.9" stroke="#231f20" stroke-width="0.7"/>
<text x="470.6" y="198.3" font-size="6.9" text-anchor="end">20</text>
<svg x="472.9" y="162.7" width="37" height="40.4" overflow="hidden"><g transform="translate(-472.9 -162.7)">
<path d="M472.9 199 473.4 199.1 473.9 199.1 474.4 199.4 474.9 199.3 475.4 199.3 475.9 198.9 476.4 198.9 476.9 199.3 477.4 198.7 477.9 199.4 478.4 199.4 478.9 199.1 479.4 199.3 479.9 198.6 480.4 199 480.9 198.9 481.4 198.5 481.9 198.7 482.4 198.5 482.9 198.6 483.4 198.4 483.9 197.9 484.4 198.2 484.9 197.8 485.4 197.4 485.8 197.3 485.9 197.2 486.4 196.2 486.9 195 487.4 194.1 487.9 192.8 488.4 190.1 488.9 188.4 489.4 185 489.9 182.7 490.4 179.3 490.9 177.4 491.4 176.4 491.9 177.2 492.4 179.2 492.9 182.4 493.4 185.4 493.9 188.1 494.4 190.4 494.9 192.6 495.4 193.7 495.9 195.5 496.4 196.5 496.9 196.9 497.2 197.3 497.4 197.2 497.9 198.1 498.4 197.9 498.9 198.3 499.4 198.1 499.9 198.7 500.4 198.7 500.9 198.8 501.4 198.7 501.9 199 502.4 198.7 502.9 199 503.4 198.8 503.9 199.2 504.4 199.1 504.9 199 505.4 198.9 505.9 199 506.4 199.2 506.9 199.5 507.4 199.5 507.9 199.4 508.4 199.4 508.9 199.4 509.4 199.1 509.9 199.3" fill="none" stroke="#9085c8" stroke-width="0.8"/>
<path d="M472.9 198.9 473.4 199.4 473.9 199.4 474.4 199.4 474.9 199.4 475.4 199 475.9 199.1 476.4 199.3 476.9 198.8 477.4 198.9 477.9 199.1 478.4 198.9 478.9 198.8 479.4 199 479.9 199.2 480.4 198.9 480.9 198.4 481.4 198.8 481.9 198.5 482.4 198.9 482.9 198.2 483.4 198 483.9 198.3 484.4 198.1 484.9 197.7 485.4 197.5 485.8 197.1 485.9 197 486.4 195.9 486.9 195 487.4 193.3 487.9 191.6 488.4 189.6 488.9 187 489.4 184.2 489.9 181.7 490.4 178.5 490.9 175.4 491.4 174.5 491.9 175.7 492.4 178.1 492.9 181.3 493.4 184.5 493.9 187.7 494.4 189.9 494.9 192.2 495.4 194 495.9 194.7 496.4 195.9 496.9 196.4 497.2 197.2 497.4 197.2 497.9 197.8 498.4 197.7 498.9 198.4 499.4 198.2 499.9 198.4 500.4 198.7 500.9 199 501.4 198.7 501.9 198.8 502.4 198.6 502.9 199.1 503.4 199.2 503.9 199.1 504.4 198.8 504.9 199.2 505.4 198.9 505.9 199.4 506.4 199.4 506.9 199 507.4 199.1 507.9 199.5 508.4 199.2 508.9 198.8 509.4 199.3 509.9 199.2" fill="none" stroke="#5aaee0" stroke-width="0.8"/>
<path d="M472.9 199.3 473.4 199.2 473.9 199.5 474.4 198.8 474.9 199.1 475.4 199.2 475.9 199.3 476.4 199.3 476.9 198.7 477.4 198.8 477.9 199.1 478.4 198.9 478.9 198.9 479.4 199.1 479.9 199.2 480.4 198.6 480.9 199 481.4 198.6 481.9 199 482.4 198.9 482.9 198.7 483.4 198.1 483.9 198 484.4 197.5 484.9 197.4 485.4 197.1 485.8 197.1 485.9 196.2 486.4 195.8 486.9 194.5 487.4 193.7 487.9 191.3 488.4 189.4 488.9 186.9 489.4 183.7 489.9 180.6 490.4 176.9 490.9 174.6 491.4 173.3 491.9 174.7 492.4 176.8 492.9 180.2 493.4 183.4 493.9 186.3 494.4 189.5 494.9 191.4 495.4 193.4 495.9 194.4 496.4 195.6 496.9 196.4 497.2 196.9 497.4 197.3 497.9 197.3 498.4 197.5 498.9 197.7 499.4 198.4 499.9 198.2 500.4 198.4 500.9 198.3 501.4 198.4 501.9 198.8 502.4 198.9 502.9 198.6 503.4 198.8 503.9 198.9 504.4 198.7 504.9 199.4 505.4 199.4 505.9 199.1 506.4 199.4 506.9 198.8 507.4 199.4 507.9 198.8 508.4 199.4 508.9 199.5 509.4 199 509.9 199.1" fill="none" stroke="#f5a742" stroke-width="0.8"/>
<path d="M472.9 199.2 473.4 199 473.9 199.1 474.4 198.7 474.9 199.1 475.4 199 475.9 199.1 476.4 199.1 476.9 198.8 477.4 199.2 477.9 198.8 478.4 198.5 478.9 198.6 479.4 198.7 479.9 198.8 480.4 199 480.9 198.9 481.4 198.5 481.9 198.1 482.4 198 482.9 198.4 483.4 197.8 483.9 197.5 484.4 197.5 484.9 196.8 485.4 196.9 485.8 196.2 485.9 195.9 486.4 194.8 486.9 193.7 487.4 192 487.9 189.4 488.4 187 488.9 183.7 489.4 180 489.9 175.6 490.4 171.3 490.9 168.4 491.4 167 491.9 168.3 492.4 171.9 492.9 175.2 493.4 179.9 493.9 183.6 494.4 186.6 494.9 189.9 495.4 192.2 495.9 193.9 496.4 195.2 496.9 195.6 497.2 196.3 497.4 197 497.9 197.3 498.4 197.5 498.9 198 499.4 198.1 499.9 197.8 500.4 198.3 500.9 198.6 501.4 198.4 501.9 198.9 502.4 198.6 502.9 198.6 503.4 199.1 503.9 198.8 504.4 199 504.9 198.7 505.4 198.8 505.9 198.6 506.4 198.9 506.9 199.3 507.4 199.3 507.9 198.9 508.4 198.8 508.9 199.4 509.4 199.2 509.9 199.3" fill="none" stroke="#2ca02c" stroke-width="0.8"/>
<path d="M472.9 199.2 473.4 198.9 473.9 199.1 474.4 198.9 474.9 198.9 475.4 199.3 475.9 199 476.4 199.1 476.9 199 477.4 199 477.9 198.8 478.4 199.2 478.9 198.6 479.4 199.1 479.9 198.9 480.4 198.5 480.9 198.3 481.4 198.7 481.9 198.2 482.4 198.8 482.9 197.9 483.4 198.4 483.9 198.3 484.4 197.5 484.9 197.6 485.4 196.7 485.8 196.8 485.9 196.6 486.4 195.5 486.9 194.6 487.4 192.7 487.9 190.9 488.4 188.1 488.9 185.3 489.4 181.5 489.9 177.9 490.4 174.8 490.9 171.4 491.4 170.3 491.9 171.7 492.4 174.5 492.9 178.4 493.4 182 493.9 185.5 494.4 188.5 494.9 190.6 495.4 192.8 495.9 194 496.4 195.4 496.9 196 497.2 197 497.4 196.6 497.9 197.4 498.4 197.6 498.9 198.2 499.4 198 499.9 198.4 500.4 198.2 500.9 198.4 501.4 198.9 501.9 198.8 502.4 198.5 502.9 199.2 503.4 198.7 503.9 198.8 504.4 198.8 504.9 199.1 505.4 199 505.9 199 506.4 198.8 506.9 199.4 507.4 199.1 507.9 199.3 508.4 199.1 508.9 199.3 509.4 199.4 509.9 199.4" fill="none" stroke="#c0142e" stroke-width="0.8"/>
</g></svg>
<rect x="268.5" y="32.5" width="37" height="40.4" fill="none" stroke="#231f20" stroke-width="1"/>
<line x1="268.5" y1="72.9" x2="268.5" y2="74.4" stroke="#231f20" stroke-width="0.8"/>
<text x="270.5" y="79.9" font-size="7.2" stroke="#231f20" stroke-width="0.25" text-anchor="end" textLength="13.5" lengthAdjust="spacingAndGlyphs" transform="rotate(-45 270.5 79.9)">−20kb</text>
<line x1="280.8" y1="72.9" x2="280.8" y2="74.4" stroke="#231f20" stroke-width="0.8"/>
<text x="282.8" y="79.9" font-size="7.2" stroke="#231f20" stroke-width="0.25" text-anchor="end" textLength="11.5" lengthAdjust="spacingAndGlyphs" transform="rotate(-45 282.8 79.9)">start</text>
<line x1="293.2" y1="72.9" x2="293.2" y2="74.4" stroke="#231f20" stroke-width="0.8"/>
<text x="295.2" y="79.9" font-size="7.2" stroke="#231f20" stroke-width="0.25" text-anchor="end" textLength="8.5" lengthAdjust="spacingAndGlyphs" transform="rotate(-45 295.2 79.9)">end</text>
<line x1="305.5" y1="72.9" x2="305.5" y2="74.4" stroke="#231f20" stroke-width="0.8"/>
<text x="307.5" y="79.9" font-size="7.2" stroke="#231f20" stroke-width="0.25" text-anchor="end" textLength="13.5" lengthAdjust="spacingAndGlyphs" transform="rotate(-45 307.5 79.9)">+20kb</text>
<rect x="319.6" y="32.5" width="37" height="40.4" fill="none" stroke="#231f20" stroke-width="1"/>
<line x1="319.6" y1="72.9" x2="319.6" y2="74.4" stroke="#231f20" stroke-width="0.8"/>
<text x="321.6" y="79.9" font-size="7.2" stroke="#231f20" stroke-width="0.25" text-anchor="end" textLength="13.5" lengthAdjust="spacingAndGlyphs" transform="rotate(-45 321.6 79.9)">−20kb</text>
<line x1="331.9" y1="72.9" x2="331.9" y2="74.4" stroke="#231f20" stroke-width="0.8"/>
<text x="333.9" y="79.9" font-size="7.2" stroke="#231f20" stroke-width="0.25" text-anchor="end" textLength="11.5" lengthAdjust="spacingAndGlyphs" transform="rotate(-45 333.9 79.9)">start</text>
<line x1="344.3" y1="72.9" x2="344.3" y2="74.4" stroke="#231f20" stroke-width="0.8"/>
<text x="346.3" y="79.9" font-size="7.2" stroke="#231f20" stroke-width="0.25" text-anchor="end" textLength="8.5" lengthAdjust="spacingAndGlyphs" transform="rotate(-45 346.3 79.9)">end</text>
<line x1="356.6" y1="72.9" x2="356.6" y2="74.4" stroke="#231f20" stroke-width="0.8"/>
<text x="358.6" y="79.9" font-size="7.2" stroke="#231f20" stroke-width="0.25" text-anchor="end" textLength="13.5" lengthAdjust="spacingAndGlyphs" transform="rotate(-45 358.6 79.9)">+20kb</text>
<rect x="370.7" y="32.5" width="37" height="40.4" fill="none" stroke="#231f20" stroke-width="1"/>
<line x1="370.7" y1="72.9" x2="407.7" y2="32.5" stroke="#231f20" stroke-width="1.3"/>
<rect x="421.8" y="32.5" width="37" height="40.4" fill="none" stroke="#231f20" stroke-width="1"/>
<line x1="421.8" y1="72.9" x2="421.8" y2="74.4" stroke="#231f20" stroke-width="0.8"/>
<text x="423.8" y="79.9" font-size="7.2" stroke="#231f20" stroke-width="0.25" text-anchor="end" textLength="13.5" lengthAdjust="spacingAndGlyphs" transform="rotate(-45 423.8 79.9)">−20kb</text>
<line x1="434.1" y1="72.9" x2="434.1" y2="74.4" stroke="#231f20" stroke-width="0.8"/>
<text x="436.1" y="79.9" font-size="7.2" stroke="#231f20" stroke-width="0.25" text-anchor="end" textLength="11.5" lengthAdjust="spacingAndGlyphs" transform="rotate(-45 436.1 79.9)">start</text>
<line x1="446.5" y1="72.9" x2="446.5" y2="74.4" stroke="#231f20" stroke-width="0.8"/>
<text x="448.5" y="79.9" font-size="7.2" stroke="#231f20" stroke-width="0.25" text-anchor="end" textLength="8.5" lengthAdjust="spacingAndGlyphs" transform="rotate(-45 448.5 79.9)">end</text>
<line x1="458.8" y1="72.9" x2="458.8" y2="74.4" stroke="#231f20" stroke-width="0.8"/>
<text x="460.8" y="79.9" font-size="7.2" stroke="#231f20" stroke-width="0.25" text-anchor="end" textLength="13.5" lengthAdjust="spacingAndGlyphs" transform="rotate(-45 460.8 79.9)">+20kb</text>
<rect x="472.9" y="32.5" width="37" height="40.4" fill="none" stroke="#231f20" stroke-width="1"/>
<line x1="472.9" y1="72.9" x2="472.9" y2="74.4" stroke="#231f20" stroke-width="0.8"/>
<text x="474.9" y="79.9" font-size="7.2" stroke="#231f20" stroke-width="0.25" text-anchor="end" textLength="13.5" lengthAdjust="spacingAndGlyphs" transform="rotate(-45 474.9 79.9)">−20kb</text>
<line x1="485.2" y1="72.9" x2="485.2" y2="74.4" stroke="#231f20" stroke-width="0.8"/>
<text x="487.2" y="79.9" font-size="7.2" stroke="#231f20" stroke-width="0.25" text-anchor="end" textLength="11.5" lengthAdjust="spacingAndGlyphs" transform="rotate(-45 487.2 79.9)">start</text>
<line x1="497.6" y1="72.9" x2="497.6" y2="74.4" stroke="#231f20" stroke-width="0.8"/>
<text x="499.6" y="79.9" font-size="7.2" stroke="#231f20" stroke-width="0.25" text-anchor="end" textLength="8.5" lengthAdjust="spacingAndGlyphs" transform="rotate(-45 499.6 79.9)">end</text>
<line x1="509.9" y1="72.9" x2="509.9" y2="74.4" stroke="#231f20" stroke-width="0.8"/>
<text x="511.9" y="79.9" font-size="7.2" stroke="#231f20" stroke-width="0.25" text-anchor="end" textLength="13.5" lengthAdjust="spacingAndGlyphs" transform="rotate(-45 511.9 79.9)">+20kb</text>
<rect x="268.5" y="98.7" width="37" height="40.4" fill="none" stroke="#231f20" stroke-width="1"/>
<line x1="268.5" y1="139.1" x2="268.5" y2="140.6" stroke="#231f20" stroke-width="0.8"/>
<line x1="287" y1="139.1" x2="287" y2="140.6" stroke="#231f20" stroke-width="0.8"/>
<line x1="305.5" y1="139.1" x2="305.5" y2="140.6" stroke="#231f20" stroke-width="0.8"/>
<text x="270.5" y="146.1" font-size="7.2" stroke="#231f20" stroke-width="0.25" text-anchor="end" textLength="13.5" lengthAdjust="spacingAndGlyphs" transform="rotate(-45 270.5 146.1)">−10kb</text>
<text x="307.5" y="146.1" font-size="7.2" stroke="#231f20" stroke-width="0.25" text-anchor="end" textLength="13.5" lengthAdjust="spacingAndGlyphs" transform="rotate(-45 307.5 146.1)">+10kb</text>
<text x="287" y="147.5" font-size="7.4" stroke="#231f20" stroke-width="0.2" text-anchor="middle" textLength="14.5" lengthAdjust="spacingAndGlyphs">center</text>
<rect x="319.6" y="98.7" width="37" height="40.4" fill="none" stroke="#231f20" stroke-width="1"/>
<line x1="319.6" y1="139.1" x2="319.6" y2="140.6" stroke="#231f20" stroke-width="0.8"/>
<line x1="338.1" y1="139.1" x2="338.1" y2="140.6" stroke="#231f20" stroke-width="0.8"/>
<line x1="356.6" y1="139.1" x2="356.6" y2="140.6" stroke="#231f20" stroke-width="0.8"/>
<text x="321.6" y="146.1" font-size="7.2" stroke="#231f20" stroke-width="0.25" text-anchor="end" textLength="13.5" lengthAdjust="spacingAndGlyphs" transform="rotate(-45 321.6 146.1)">−10kb</text>
<text x="358.6" y="146.1" font-size="7.2" stroke="#231f20" stroke-width="0.25" text-anchor="end" textLength="13.5" lengthAdjust="spacingAndGlyphs" transform="rotate(-45 358.6 146.1)">+10kb</text>
<text x="338.1" y="147.5" font-size="7.4" stroke="#231f20" stroke-width="0.2" text-anchor="middle" textLength="14.5" lengthAdjust="spacingAndGlyphs">center</text>
<rect x="370.7" y="98.7" width="37" height="40.4" fill="none" stroke="#231f20" stroke-width="1"/>
<line x1="370.7" y1="139.1" x2="407.7" y2="98.7" stroke="#231f20" stroke-width="1.3"/>
<rect x="421.8" y="98.7" width="37" height="40.4" fill="none" stroke="#231f20" stroke-width="1"/>
<line x1="421.8" y1="139.1" x2="421.8" y2="140.6" stroke="#231f20" stroke-width="0.8"/>
<line x1="440.3" y1="139.1" x2="440.3" y2="140.6" stroke="#231f20" stroke-width="0.8"/>
<line x1="458.8" y1="139.1" x2="458.8" y2="140.6" stroke="#231f20" stroke-width="0.8"/>
<text x="423.8" y="146.1" font-size="7.2" stroke="#231f20" stroke-width="0.25" text-anchor="end" textLength="13.5" lengthAdjust="spacingAndGlyphs" transform="rotate(-45 423.8 146.1)">−10kb</text>
<text x="460.8" y="146.1" font-size="7.2" stroke="#231f20" stroke-width="0.25" text-anchor="end" textLength="13.5" lengthAdjust="spacingAndGlyphs" transform="rotate(-45 460.8 146.1)">+10kb</text>
<text x="440.3" y="147.5" font-size="7.4" stroke="#231f20" stroke-width="0.2" text-anchor="middle" textLength="14.5" lengthAdjust="spacingAndGlyphs">center</text>
<rect x="472.9" y="98.7" width="37" height="40.4" fill="none" stroke="#231f20" stroke-width="1"/>
<line x1="472.9" y1="139.1" x2="472.9" y2="140.6" stroke="#231f20" stroke-width="0.8"/>
<line x1="491.4" y1="139.1" x2="491.4" y2="140.6" stroke="#231f20" stroke-width="0.8"/>
<line x1="509.9" y1="139.1" x2="509.9" y2="140.6" stroke="#231f20" stroke-width="0.8"/>
<text x="474.9" y="146.1" font-size="7.2" stroke="#231f20" stroke-width="0.25" text-anchor="end" textLength="13.5" lengthAdjust="spacingAndGlyphs" transform="rotate(-45 474.9 146.1)">−10kb</text>
<text x="511.9" y="146.1" font-size="7.2" stroke="#231f20" stroke-width="0.25" text-anchor="end" textLength="13.5" lengthAdjust="spacingAndGlyphs" transform="rotate(-45 511.9 146.1)">+10kb</text>
<text x="491.4" y="147.5" font-size="7.4" stroke="#231f20" stroke-width="0.2" text-anchor="middle" textLength="14.5" lengthAdjust="spacingAndGlyphs">center</text>
<rect x="268.5" y="162.7" width="37" height="40.4" fill="none" stroke="#231f20" stroke-width="1"/>
<line x1="268.5" y1="203.1" x2="268.5" y2="204.6" stroke="#231f20" stroke-width="0.8"/>
<line x1="287" y1="203.1" x2="287" y2="204.6" stroke="#231f20" stroke-width="0.8"/>
<line x1="305.5" y1="203.1" x2="305.5" y2="204.6" stroke="#231f20" stroke-width="0.8"/>
<text x="270.5" y="210.1" font-size="7.2" stroke="#231f20" stroke-width="0.25" text-anchor="end" textLength="13.5" lengthAdjust="spacingAndGlyphs" transform="rotate(-45 270.5 210.1)">−10kb</text>
<text x="307.5" y="210.1" font-size="7.2" stroke="#231f20" stroke-width="0.25" text-anchor="end" textLength="13.5" lengthAdjust="spacingAndGlyphs" transform="rotate(-45 307.5 210.1)">+10kb</text>
<text x="287" y="211.5" font-size="7.4" stroke="#231f20" stroke-width="0.2" text-anchor="middle" textLength="14.5" lengthAdjust="spacingAndGlyphs">center</text>
<rect x="319.6" y="162.7" width="37" height="40.4" fill="none" stroke="#231f20" stroke-width="1"/>
<line x1="319.6" y1="203.1" x2="356.6" y2="162.7" stroke="#231f20" stroke-width="1.3"/>
<rect x="370.7" y="162.7" width="37" height="40.4" fill="none" stroke="#231f20" stroke-width="1"/>
<line x1="370.7" y1="203.1" x2="370.7" y2="204.6" stroke="#231f20" stroke-width="0.8"/>
<line x1="389.2" y1="203.1" x2="389.2" y2="204.6" stroke="#231f20" stroke-width="0.8"/>
<line x1="407.7" y1="203.1" x2="407.7" y2="204.6" stroke="#231f20" stroke-width="0.8"/>
<text x="372.7" y="210.1" font-size="7.2" stroke="#231f20" stroke-width="0.25" text-anchor="end" textLength="13.5" lengthAdjust="spacingAndGlyphs" transform="rotate(-45 372.7 210.1)">−10kb</text>
<text x="409.7" y="210.1" font-size="7.2" stroke="#231f20" stroke-width="0.25" text-anchor="end" textLength="13.5" lengthAdjust="spacingAndGlyphs" transform="rotate(-45 409.7 210.1)">+10kb</text>
<text x="389.2" y="211.5" font-size="7.4" stroke="#231f20" stroke-width="0.2" text-anchor="middle" textLength="14.5" lengthAdjust="spacingAndGlyphs">center</text>
<rect x="421.8" y="162.7" width="37" height="40.4" fill="none" stroke="#231f20" stroke-width="1"/>
<line x1="421.8" y1="203.1" x2="421.8" y2="204.6" stroke="#231f20" stroke-width="0.8"/>
<line x1="440.3" y1="203.1" x2="440.3" y2="204.6" stroke="#231f20" stroke-width="0.8"/>
<line x1="458.8" y1="203.1" x2="458.8" y2="204.6" stroke="#231f20" stroke-width="0.8"/>
<text x="423.8" y="210.1" font-size="7.2" stroke="#231f20" stroke-width="0.25" text-anchor="end" textLength="13.5" lengthAdjust="spacingAndGlyphs" transform="rotate(-45 423.8 210.1)">−10kb</text>
<text x="460.8" y="210.1" font-size="7.2" stroke="#231f20" stroke-width="0.25" text-anchor="end" textLength="13.5" lengthAdjust="spacingAndGlyphs" transform="rotate(-45 460.8 210.1)">+10kb</text>
<text x="440.3" y="211.5" font-size="7.4" stroke="#231f20" stroke-width="0.2" text-anchor="middle" textLength="14.5" lengthAdjust="spacingAndGlyphs">center</text>
<rect x="472.9" y="162.7" width="37" height="40.4" fill="none" stroke="#231f20" stroke-width="1"/>
<line x1="472.9" y1="203.1" x2="472.9" y2="204.6" stroke="#231f20" stroke-width="0.8"/>
<line x1="491.4" y1="203.1" x2="491.4" y2="204.6" stroke="#231f20" stroke-width="0.8"/>
<line x1="509.9" y1="203.1" x2="509.9" y2="204.6" stroke="#231f20" stroke-width="0.8"/>
<text x="474.9" y="210.1" font-size="7.2" stroke="#231f20" stroke-width="0.25" text-anchor="end" textLength="13.5" lengthAdjust="spacingAndGlyphs" transform="rotate(-45 474.9 210.1)">−10kb</text>
<text x="511.9" y="210.1" font-size="7.2" stroke="#231f20" stroke-width="0.25" text-anchor="end" textLength="13.5" lengthAdjust="spacingAndGlyphs" transform="rotate(-45 511.9 210.1)">+10kb</text>
<text x="491.4" y="211.5" font-size="7.4" stroke="#231f20" stroke-width="0.2" text-anchor="middle" textLength="14.5" lengthAdjust="spacingAndGlyphs">center</text>
<line x1="314.4" y1="230.9" x2="318.8" y2="230.9" stroke="#3aaa35" stroke-width="0.9"/>
<text x="321" y="233" font-size="5.7" fill="#3aaa35">WT</text>
<line x1="339" y1="230.9" x2="343.4" y2="230.9" stroke="#c0142e" stroke-width="0.9"/>
<text x="346" y="233" font-size="5.7" fill="#c0142e">KO</text>
<line x1="363.5" y1="230.9" x2="367.9" y2="230.9" stroke="#f5a742" stroke-width="0.9"/>
<text x="370.9" y="233" font-size="5.7" fill="#f5a742">R1446C</text>
<line x1="399.3" y1="230.9" x2="403.7" y2="230.9" stroke="#4aa8de" stroke-width="0.9"/>
<text x="406.6" y="233" font-size="5.7" fill="#4aa8de">Y1482N</text>
<line x1="435.2" y1="230.9" x2="439.6" y2="230.9" stroke="#9085c8" stroke-width="0.9"/>
<text x="442" y="233" font-size="5.7" fill="#9085c8">Y1503C</text>
<text x="6.8" y="254.2" font-size="10.8" font-weight="bold">C</text>
<text x="189.8" y="254.8" font-size="8.8" text-anchor="middle">RL</text>
<line x1="53.9" y1="258.3" x2="326.3" y2="258.3" stroke="#231f20" stroke-width="0.9"/>
<text x="13.6" y="390.2" font-size="8.2" text-anchor="middle" textLength="91" lengthAdjust="spacingAndGlyphs" transform="rotate(-90 13.6 390.2)">Log2 fold-change vs WT</text>
<text x="25.4" y="306" font-size="8.8" text-anchor="middle" fill="#333" textLength="46" lengthAdjust="spacingAndGlyphs" transform="rotate(-90 25.4 306)">Super-enhancer</text>
<text x="35.1" y="306" font-size="8.8" text-anchor="middle" fill="#333" textLength="29.3" lengthAdjust="spacingAndGlyphs" transform="rotate(-90 35.1 306)">(n = 146)</text>
<text x="25.7" y="389.7" font-size="8.8" text-anchor="middle" fill="#333" textLength="27.4" lengthAdjust="spacingAndGlyphs" transform="rotate(-90 25.7 389.7)">Enhancer</text>
<text x="35.4" y="389.7" font-size="8.8" text-anchor="middle" fill="#333" textLength="33.4" lengthAdjust="spacingAndGlyphs" transform="rotate(-90 35.4 389.7)">(n = 1345)</text>
<text x="25.7" y="474" font-size="8.8" text-anchor="middle" fill="#333" textLength="27.4" lengthAdjust="spacingAndGlyphs" transform="rotate(-90 25.7 474)">Promoter</text>
<text x="35.4" y="474" font-size="8.8" text-anchor="middle" fill="#333" textLength="30.4" lengthAdjust="spacingAndGlyphs" transform="rotate(-90 35.4 474)">(n = 229)</text>
<text x="85.5" y="267.9" font-size="7.2" text-anchor="middle">H3K27Ac</text>
<line x1="52.5" y1="273.5" x2="52.5" y2="338.7" stroke="#231f20" stroke-width="0.9"/>
<line x1="52.5" y1="338.7" x2="118" y2="338.7" stroke="#231f20" stroke-width="0.9"/>
<line x1="49.9" y1="275.5" x2="52.5" y2="275.5" stroke="#231f20" stroke-width="0.8"/>
<text x="47.3" y="278" font-size="7" text-anchor="end">4</text>
<line x1="49.9" y1="290.5" x2="52.5" y2="290.5" stroke="#231f20" stroke-width="0.8"/>
<text x="47.3" y="293" font-size="7" text-anchor="end">2</text>
<line x1="49.9" y1="305.5" x2="52.5" y2="305.5" stroke="#231f20" stroke-width="0.8"/>
<text x="47.3" y="308" font-size="7" text-anchor="end">0</text>
<line x1="49.9" y1="320.5" x2="52.5" y2="320.5" stroke="#231f20" stroke-width="0.8"/>
<text x="47.3" y="323" font-size="7" text-anchor="end">−2</text>
<line x1="49.9" y1="335.5" x2="52.5" y2="335.5" stroke="#231f20" stroke-width="0.8"/>
<text x="47.3" y="338" font-size="7" text-anchor="end">−4</text>
<path d="M61.4 318.8L63.1 318.8L62.2 336Z" fill="url(#g282)"/>
<line x1="62.2" y1="298.5" x2="62.2" y2="300.8" stroke="#444" stroke-width="0.5"/>
<path d="M62.4 299.8 62.4 300.2 62.7 300.7 63 301.1 63.3 301.5 63.7 301.9 64.1 302.3 64.5 302.7 64.8 303.1 65.2 303.6 65.5 304 65.9 304.4 66.2 304.8 66.4 305.2 66.7 305.6 66.9 306.1 67 306.5 67.1 306.9 67.2 307.3 67.1 308 67 308.8 66.8 309.5 66.5 310.3 66.2 311 65.8 311.8 65.5 312.5 65.1 313.3 64.7 314 64.3 314.8 63.9 315.5 63.5 316.3 63.2 317 62.9 317.8 62.6 318.5 62.4 319.3 62.4 320 62.4 320.8 62 320.8 62 320 62 319.3 61.8 318.5 61.5 317.8 61.2 317 60.9 316.3 60.5 315.5 60.1 314.8 59.7 314 59.3 313.3 58.9 312.5 58.6 311.8 58.2 311 57.9 310.3 57.6 309.5 57.4 308.8 57.3 308 57.2 307.3 57.3 306.9 57.4 306.5 57.5 306.1 57.7 305.6 58 305.2 58.2 304.8 58.5 304.4 58.9 304 59.2 303.6 59.6 303.1 59.9 302.7 60.3 302.3 60.7 301.9 61.1 301.5 61.4 301.1 61.7 300.7 62 300.2 62 299.8Z" fill="#c8102e" stroke="#3a3a3a" stroke-width="0.3" stroke-linejoin="round"/>
<path d="M77 323.7L78.6 323.7L77.8 333.5Z" fill="url(#g283)"/>
<line x1="77.8" y1="302.5" x2="77.8" y2="305.7" stroke="#444" stroke-width="0.5"/>
<path d="M78 304.7 78.1 305.1 78.4 305.5 78.9 305.9 79.4 306.4 79.9 306.8 80.4 307.2 81 307.6 81.5 308 82 308.4 82.5 308.9 82.9 309.3 83.3 309.7 83.7 310.1 84.1 310.5 84.3 310.9 84.6 311.4 84.7 311.8 84.8 312.2 84.7 312.9 84.5 313.7 84.2 314.4 83.8 315.2 83.4 315.9 82.9 316.7 82.4 317.4 81.8 318.2 81.3 318.9 80.7 319.7 80.2 320.4 79.7 321.2 79.2 321.9 78.7 322.7 78.4 323.4 78.1 324.2 78 324.9 78 325.7 77.6 325.7 77.6 324.9 77.5 324.2 77.2 323.4 76.9 322.7 76.4 321.9 75.9 321.2 75.4 320.4 74.9 319.7 74.3 318.9 73.8 318.2 73.2 317.4 72.7 316.7 72.2 315.9 71.8 315.2 71.4 314.4 71.1 313.7 70.9 312.9 70.8 312.2 70.9 311.8 71 311.4 71.3 310.9 71.5 310.5 71.9 310.1 72.3 309.7 72.7 309.3 73.1 308.9 73.6 308.4 74.1 308 74.6 307.6 75.2 307.2 75.7 306.8 76.2 306.4 76.7 305.9 77.2 305.5 77.5 305.1 77.6 304.7Z" fill="#f7941d" stroke="#3a3a3a" stroke-width="0.3" stroke-linejoin="round"/>
<path d="M92.5 323.5L94.1 323.5L93.3 333.5Z" fill="url(#g284)"/>
<line x1="93.3" y1="302.5" x2="93.3" y2="305.5" stroke="#444" stroke-width="0.5"/>
<path d="M93.5 304.5 93.5 304.9 93.9 305.3 94.3 305.8 94.8 306.2 95.3 306.6 95.7 307 96.2 307.4 96.7 307.8 97.2 308.2 97.6 308.7 98 309.1 98.4 309.5 98.8 309.9 99.1 310.3 99.4 310.8 99.6 311.2 99.7 311.6 99.8 312 99.7 312.8 99.5 313.5 99.2 314.2 98.9 315 98.5 315.8 98 316.5 97.5 317.2 97 318 96.5 318.8 96 319.5 95.5 320.2 95 321 94.6 321.8 94.2 322.5 93.8 323.2 93.6 324 93.5 324.8 93.5 325.5 93.1 325.5 93.1 324.8 93 324 92.8 323.2 92.4 322.5 92 321.8 91.6 321 91.1 320.2 90.6 319.5 90.1 318.8 89.6 318 89.1 317.2 88.6 316.5 88.1 315.8 87.7 315 87.4 314.2 87.1 313.5 86.9 312.8 86.8 312 86.9 311.6 87 311.2 87.2 310.8 87.5 310.3 87.8 309.9 88.2 309.5 88.6 309.1 89 308.7 89.4 308.2 89.9 307.8 90.4 307.4 90.9 307 91.3 306.6 91.8 306.2 92.3 305.8 92.7 305.3 93.1 304.9 93.1 304.5Z" fill="#29a9e1" stroke="#3a3a3a" stroke-width="0.3" stroke-linejoin="round"/>
<path d="M108.9 323.5L110.5 323.5L109.7 331.5Z" fill="url(#g285)"/>
<line x1="109.7" y1="302" x2="109.7" y2="305.5" stroke="#444" stroke-width="0.5"/>
<path d="M109.9 304.5 110 304.9 110.3 305.3 110.8 305.8 111.3 306.2 111.8 306.6 112.3 307 112.9 307.4 113.4 307.8 113.9 308.2 114.4 308.7 114.8 309.1 115.2 309.5 115.6 309.9 116 310.3 116.2 310.8 116.5 311.2 116.6 311.6 116.7 312 116.6 312.8 116.4 313.5 116.1 314.2 115.7 315 115.3 315.8 114.8 316.5 114.3 317.2 113.7 318 113.2 318.8 112.6 319.5 112.1 320.2 111.6 321 111.1 321.8 110.6 322.5 110.3 323.2 110 324 109.9 324.8 109.9 325.5 109.5 325.5 109.5 324.8 109.4 324 109.1 323.2 108.8 322.5 108.3 321.8 107.8 321 107.3 320.2 106.8 319.5 106.2 318.8 105.7 318 105.1 317.2 104.6 316.5 104.1 315.8 103.7 315 103.3 314.2 103 313.5 102.8 312.8 102.7 312 102.8 311.6 102.9 311.2 103.2 310.8 103.4 310.3 103.8 309.9 104.2 309.5 104.6 309.1 105 308.7 105.5 308.2 106 307.8 106.5 307.4 107.1 307 107.6 306.6 108.1 306.2 108.6 305.8 109.1 305.3 109.4 304.9 109.5 304.5Z" fill="#8e7cc3" stroke="#3a3a3a" stroke-width="0.3" stroke-linejoin="round"/>
<path d="M62.2 298.2 V296.6 H77.8 V298.2" fill="none" stroke="#444" stroke-width="0.6"/>
<text x="63" y="295.4" font-size="4.6" fill="#333">P &lt; 2.22e−16</text>
<path d="M62.2 287.9 V286.3 H93.3 V287.9" fill="none" stroke="#444" stroke-width="0.6"/>
<text x="77.8" y="285.1" font-size="4.6" text-anchor="middle" fill="#333">P &lt; 2.22e−16</text>
<path d="M62.2 278.6 V277 H109.7 V278.6" fill="none" stroke="#444" stroke-width="0.6"/>
<text x="86" y="275.8" font-size="4.6" text-anchor="middle" fill="#333">P &lt; 2.22e−16</text>
<text x="156.6" y="267.9" font-size="7.2" text-anchor="middle">H3K4me1</text>
<line x1="123.6" y1="273.5" x2="123.6" y2="338.7" stroke="#231f20" stroke-width="0.9"/>
<line x1="123.6" y1="338.7" x2="189.1" y2="338.7" stroke="#231f20" stroke-width="0.9"/>
<line x1="121" y1="275.5" x2="123.6" y2="275.5" stroke="#231f20" stroke-width="0.8"/>
<line x1="121" y1="290.5" x2="123.6" y2="290.5" stroke="#231f20" stroke-width="0.8"/>
<line x1="121" y1="305.5" x2="123.6" y2="305.5" stroke="#231f20" stroke-width="0.8"/>
<line x1="121" y1="320.5" x2="123.6" y2="320.5" stroke="#231f20" stroke-width="0.8"/>
<line x1="121" y1="335.5" x2="123.6" y2="335.5" stroke="#231f20" stroke-width="0.8"/>
<path d="M133.2 311.5L134.8 311.5L134 316.5Z" fill="url(#g282)"/>
<line x1="134" y1="299.7" x2="134" y2="301.7" stroke="#444" stroke-width="0.5"/>
<path d="M134.2 300.7 134.3 301 134.7 301.3 135.2 301.6 135.7 301.9 136.2 302.2 136.8 302.5 137.3 302.8 137.9 303.1 138.4 303.4 138.9 303.7 139.4 304.1 139.9 304.4 140.3 304.7 140.6 305 140.9 305.3 141.2 305.6 141.3 305.9 141.4 306.2 141.3 306.6 141.1 307 140.7 307.4 140.3 307.8 139.9 308.2 139.4 308.6 138.8 309 138.3 309.4 137.7 309.9 137.1 310.3 136.5 310.7 136 311.1 135.5 311.5 135 311.9 134.6 312.3 134.3 312.7 134.2 313.1 134.2 313.5 133.8 313.5 133.8 313.1 133.7 312.7 133.4 312.3 133 311.9 132.5 311.5 132 311.1 131.5 310.7 130.9 310.3 130.3 309.9 129.7 309.4 129.2 309 128.6 308.6 128.1 308.2 127.7 307.8 127.3 307.4 126.9 307 126.7 306.6 126.6 306.2 126.7 305.9 126.8 305.6 127.1 305.3 127.4 305 127.7 304.7 128.1 304.4 128.6 304.1 129.1 303.7 129.6 303.4 130.1 303.1 130.7 302.8 131.2 302.5 131.8 302.2 132.3 301.9 132.8 301.6 133.3 301.3 133.7 301 133.8 300.7Z" fill="#c8102e" stroke="#3a3a3a" stroke-width="0.3" stroke-linejoin="round"/>
<path d="M148.6 321.5L150.2 321.5L149.4 326.5Z" fill="url(#g283)"/>
<line x1="149.4" y1="300.5" x2="149.4" y2="303.5" stroke="#444" stroke-width="0.5"/>
<path d="M149.6 302.5 149.6 302.9 150 303.3 150.5 303.8 150.9 304.2 151.4 304.6 151.9 305 152.4 305.4 152.9 305.8 153.4 306.2 153.9 306.7 154.3 307.1 154.7 307.5 155.1 307.9 155.4 308.3 155.7 308.8 155.9 309.2 156 309.6 156.1 310 156 310.8 155.8 311.5 155.5 312.2 155.1 313 154.7 313.8 154.3 314.5 153.8 315.2 153.3 316 152.7 316.8 152.2 317.5 151.7 318.2 151.2 319 150.7 319.8 150.3 320.5 149.9 321.2 149.7 322 149.6 322.8 149.6 323.5 149.2 323.5 149.2 322.8 149.1 322 148.9 321.2 148.5 320.5 148.1 319.8 147.6 319 147.1 318.2 146.6 317.5 146.1 316.8 145.5 316 145 315.2 144.5 314.5 144.1 313.8 143.7 313 143.3 312.2 143 311.5 142.8 310.8 142.7 310 142.8 309.6 142.9 309.2 143.1 308.8 143.4 308.3 143.7 307.9 144.1 307.5 144.5 307.1 144.9 306.7 145.4 306.2 145.9 305.8 146.4 305.4 146.9 305 147.4 304.6 147.9 304.2 148.3 303.8 148.8 303.3 149.2 302.9 149.2 302.5Z" fill="#f7941d" stroke="#3a3a3a" stroke-width="0.3" stroke-linejoin="round"/>
<path d="M164.3 321.5L166 321.5L165.2 327.5Z" fill="url(#g284)"/>
<line x1="165.2" y1="299" x2="165.2" y2="303.5" stroke="#444" stroke-width="0.5"/>
<path d="M165.4 302.5 165.4 302.9 165.7 303.3 166.1 303.8 166.5 304.2 166.9 304.6 167.4 305 167.8 305.4 168.2 305.8 168.6 306.2 169 306.7 169.4 307.1 169.7 307.5 170.1 307.9 170.3 308.3 170.6 308.8 170.8 309.2 170.9 309.6 170.9 310 170.9 310.8 170.7 311.5 170.4 312.2 170.1 313 169.8 313.8 169.4 314.5 169 315.2 168.5 316 168.1 316.8 167.6 317.5 167.2 318.2 166.7 319 166.3 319.8 166 320.5 165.7 321.2 165.4 322 165.4 322.8 165.4 323.5 165 323.5 165 322.8 165 322 164.7 321.2 164.4 320.5 164.1 319.8 163.7 319 163.2 318.2 162.8 317.5 162.3 316.8 161.9 316 161.4 315.2 161 314.5 160.6 313.8 160.3 313 160 312.2 159.7 311.5 159.5 310.8 159.4 310 159.5 309.6 159.6 309.2 159.8 308.8 160.1 308.3 160.3 307.9 160.7 307.5 161 307.1 161.4 306.7 161.8 306.2 162.2 305.8 162.6 305.4 163 305 163.5 304.6 163.9 304.2 164.3 303.8 164.7 303.3 165 302.9 165 302.5Z" fill="#29a9e1" stroke="#3a3a3a" stroke-width="0.3" stroke-linejoin="round"/>
<path d="M180 322.5L181.7 322.5L180.9 332Z" fill="url(#g285)"/>
<line x1="180.9" y1="299.7" x2="180.9" y2="304.5" stroke="#444" stroke-width="0.5"/>
<path d="M181.1 303.5 181.1 303.9 181.4 304.3 181.7 304.8 182 305.2 182.4 305.6 182.8 306 183.2 306.4 183.5 306.8 183.9 307.2 184.2 307.7 184.6 308.1 184.9 308.5 185.1 308.9 185.4 309.3 185.6 309.8 185.7 310.2 185.8 310.6 185.9 311 185.8 311.8 185.7 312.5 185.5 313.2 185.2 314 184.9 314.8 184.5 315.5 184.2 316.2 183.8 317 183.4 317.8 183 318.5 182.6 319.2 182.2 320 181.9 320.8 181.6 321.5 181.3 322.2 181.1 323 181.1 323.8 181.1 324.5 180.7 324.5 180.7 323.8 180.7 323 180.5 322.2 180.2 321.5 179.9 320.8 179.6 320 179.2 319.2 178.8 318.5 178.4 317.8 178 317 177.6 316.2 177.3 315.5 176.9 314.8 176.6 314 176.3 313.2 176.1 312.5 176 311.8 175.9 311 176 310.6 176.1 310.2 176.2 309.8 176.4 309.3 176.7 308.9 176.9 308.5 177.2 308.1 177.6 307.7 177.9 307.2 178.3 306.8 178.6 306.4 179 306 179.4 305.6 179.8 305.2 180.1 304.8 180.4 304.3 180.7 303.9 180.7 303.5Z" fill="#8e7cc3" stroke="#3a3a3a" stroke-width="0.3" stroke-linejoin="round"/>
<path d="M134 298.2 V296.6 H149.4 V298.2" fill="none" stroke="#444" stroke-width="0.6"/>
<text x="134.8" y="295.4" font-size="4.6" fill="#333">P &lt; 2.22e−16</text>
<path d="M134 287.9 V286.3 H165.2 V287.9" fill="none" stroke="#444" stroke-width="0.6"/>
<text x="149.6" y="285.1" font-size="4.6" text-anchor="middle" fill="#333">P &lt; 2.22e−16</text>
<path d="M134 278.6 V277 H180.9 V278.6" fill="none" stroke="#444" stroke-width="0.6"/>
<text x="157.4" y="275.8" font-size="4.6" text-anchor="middle" fill="#333">P &lt; 2.22e−16</text>
<text x="227.7" y="267.9" font-size="7.2" text-anchor="middle">BRD4</text>
<line x1="194.7" y1="273.5" x2="194.7" y2="338.7" stroke="#231f20" stroke-width="0.9"/>
<line x1="194.7" y1="338.7" x2="260.2" y2="338.7" stroke="#231f20" stroke-width="0.9"/>
<line x1="192.1" y1="275.5" x2="194.7" y2="275.5" stroke="#231f20" stroke-width="0.8"/>
<line x1="192.1" y1="290.5" x2="194.7" y2="290.5" stroke="#231f20" stroke-width="0.8"/>
<line x1="192.1" y1="305.5" x2="194.7" y2="305.5" stroke="#231f20" stroke-width="0.8"/>
<line x1="192.1" y1="320.5" x2="194.7" y2="320.5" stroke="#231f20" stroke-width="0.8"/>
<line x1="192.1" y1="335.5" x2="194.7" y2="335.5" stroke="#231f20" stroke-width="0.8"/>
<path d="M202.8 314.5L204.4 314.5L203.6 322Z" fill="url(#g282)"/>
<line x1="203.6" y1="299" x2="203.6" y2="301" stroke="#444" stroke-width="0.5"/>
<path d="M203.8 300 203.8 300.3 204.1 300.7 204.5 301 204.9 301.3 205.3 301.6 205.8 301.9 206.2 302.3 206.6 302.6 207 302.9 207.4 303.2 207.8 303.6 208.1 303.9 208.5 304.2 208.7 304.5 209 304.8 209.2 305.2 209.3 305.5 209.3 305.8 209.3 306.4 209.1 307 208.8 307.6 208.5 308.2 208.2 308.8 207.8 309.4 207.4 310 206.9 310.6 206.5 311.2 206 311.8 205.6 312.4 205.1 313 204.7 313.6 204.4 314.2 204.1 314.8 203.8 315.4 203.8 316 203.8 316.5 203.4 316.5 203.4 316 203.4 315.4 203.1 314.8 202.8 314.2 202.5 313.6 202.1 313 201.6 312.4 201.2 311.8 200.7 311.2 200.3 310.6 199.8 310 199.4 309.4 199 308.8 198.7 308.2 198.4 307.6 198.1 307 197.9 306.4 197.8 305.8 197.9 305.5 198 305.2 198.2 304.8 198.5 304.5 198.7 304.2 199.1 303.9 199.4 303.6 199.8 303.2 200.2 302.9 200.6 302.6 201 302.3 201.4 301.9 201.9 301.6 202.3 301.3 202.7 301 203.1 300.7 203.4 300.3 203.4 300Z" fill="#c8102e" stroke="#3a3a3a" stroke-width="0.3" stroke-linejoin="round"/>
<path d="M218.4 314.7L220.1 314.7L219.3 319.7Z" fill="url(#g283)"/>
<line x1="219.3" y1="299.7" x2="219.3" y2="301.7" stroke="#444" stroke-width="0.5"/>
<path d="M219.5 300.7 219.5 301.1 219.9 301.4 220.4 301.7 220.8 302 221.4 302.4 221.9 302.7 222.4 303 222.9 303.3 223.4 303.7 223.8 304 224.3 304.3 224.7 304.6 225 305 225.4 305.3 225.7 305.6 225.9 305.9 226 306.3 226.1 306.6 226 307.2 225.8 307.7 225.5 308.3 225.1 308.8 224.7 309.4 224.2 310 223.7 310.5 223.2 311.1 222.7 311.6 222.1 312.2 221.6 312.8 221.1 313.3 220.6 313.9 220.2 314.5 219.9 315 219.6 315.6 219.5 316.1 219.5 316.7 219.1 316.7 219.1 316.1 219 315.6 218.7 315 218.4 314.5 218 313.9 217.5 313.3 217 312.8 216.5 312.2 215.9 311.6 215.4 311.1 214.9 310.5 214.4 310 213.9 309.4 213.5 308.8 213.1 308.3 212.8 307.7 212.6 307.2 212.5 306.6 212.6 306.3 212.7 305.9 212.9 305.6 213.2 305.3 213.6 305 213.9 304.6 214.3 304.3 214.8 304 215.2 303.7 215.7 303.3 216.2 303 216.7 302.7 217.2 302.4 217.8 302 218.2 301.7 218.7 301.4 219.1 301.1 219.1 300.7Z" fill="#f7941d" stroke="#3a3a3a" stroke-width="0.3" stroke-linejoin="round"/>
<path d="M234.2 320L235.8 320L235 325Z" fill="url(#g284)"/>
<line x1="235" y1="299" x2="235" y2="302.5" stroke="#444" stroke-width="0.5"/>
<path d="M235.2 301.5 235.2 301.9 235.6 302.3 236 302.8 236.5 303.2 237 303.6 237.4 304 237.9 304.4 238.4 304.8 238.9 305.2 239.3 305.7 239.7 306.1 240.1 306.5 240.5 306.9 240.8 307.3 241.1 307.8 241.3 308.2 241.4 308.6 241.5 309 241.4 309.7 241.2 310.4 240.9 311.2 240.6 311.9 240.2 312.6 239.7 313.3 239.2 314.1 238.7 314.8 238.2 315.5 237.7 316.2 237.2 316.9 236.7 317.7 236.3 318.4 235.9 319.1 235.5 319.8 235.3 320.6 235.2 321.3 235.2 322 234.8 322 234.8 321.3 234.7 320.6 234.5 319.8 234.1 319.1 233.7 318.4 233.3 317.7 232.8 316.9 232.3 316.2 231.8 315.5 231.3 314.8 230.8 314.1 230.3 313.3 229.8 312.6 229.4 311.9 229.1 311.2 228.8 310.4 228.6 309.7 228.5 309 228.6 308.6 228.7 308.2 228.9 307.8 229.2 307.3 229.5 306.9 229.9 306.5 230.3 306.1 230.7 305.7 231.1 305.2 231.6 304.8 232.1 304.4 232.6 304 233 303.6 233.5 303.2 234 302.8 234.4 302.3 234.8 301.9 234.8 301.5Z" fill="#29a9e1" stroke="#3a3a3a" stroke-width="0.3" stroke-linejoin="round"/>
<path d="M249.9 317.8L251.6 317.8L250.8 322.8Z" fill="url(#g285)"/>
<line x1="250.8" y1="299" x2="250.8" y2="303.2" stroke="#444" stroke-width="0.5"/>
<path d="M251 302.2 251.1 302.6 251.5 303 251.9 303.4 252.5 303.9 253 304.3 253.6 304.7 254.1 305.1 254.6 305.5 255.2 305.9 255.7 306.4 256.1 306.8 256.6 307.2 257 307.6 257.3 308 257.6 308.4 257.9 308.9 258 309.3 258.1 309.7 258 310.3 257.8 310.8 257.5 311.4 257.1 311.9 256.6 312.5 256.1 313.1 255.6 313.6 255 314.2 254.4 314.8 253.9 315.3 253.3 315.9 252.7 316.4 252.2 317 251.8 317.6 251.4 318.1 251.1 318.7 251 319.2 251 319.8 250.6 319.8 250.6 319.2 250.5 318.7 250.2 318.1 249.8 317.6 249.4 317 248.9 316.4 248.3 315.9 247.7 315.3 247.2 314.8 246.6 314.2 246 313.6 245.5 313.1 245 312.5 244.5 311.9 244.1 311.4 243.8 310.8 243.6 310.3 243.5 309.7 243.6 309.3 243.7 308.9 244 308.4 244.3 308 244.6 307.6 245 307.2 245.5 306.8 245.9 306.4 246.4 305.9 247 305.5 247.5 305.1 248 304.7 248.6 304.3 249.1 303.9 249.7 303.4 250.1 303 250.5 302.6 250.6 302.2Z" fill="#8e7cc3" stroke="#3a3a3a" stroke-width="0.3" stroke-linejoin="round"/>
<path d="M203.6 298.2 V296.6 H219.3 V298.2" fill="none" stroke="#444" stroke-width="0.6"/>
<text x="204.4" y="295.4" font-size="4.6" fill="#333">1.8e−06</text>
<path d="M203.6 287.9 V286.3 H235 V287.9" fill="none" stroke="#444" stroke-width="0.6"/>
<text x="219.3" y="285.1" font-size="4.6" text-anchor="middle" fill="#333">P &lt; 2.22e−16</text>
<path d="M203.6 278.6 V277 H250.8 V278.6" fill="none" stroke="#444" stroke-width="0.6"/>
<text x="227.2" y="275.8" font-size="4.6" text-anchor="middle" fill="#333">P &lt; 2.22e−16</text>
<text x="298.8" y="267.9" font-size="7.2" text-anchor="middle">ATAC</text>
<line x1="265.8" y1="273.5" x2="265.8" y2="338.7" stroke="#231f20" stroke-width="0.9"/>
<line x1="265.8" y1="338.7" x2="331.3" y2="338.7" stroke="#231f20" stroke-width="0.9"/>
<line x1="263.2" y1="275.5" x2="265.8" y2="275.5" stroke="#231f20" stroke-width="0.8"/>
<line x1="263.2" y1="290.5" x2="265.8" y2="290.5" stroke="#231f20" stroke-width="0.8"/>
<line x1="263.2" y1="305.5" x2="265.8" y2="305.5" stroke="#231f20" stroke-width="0.8"/>
<line x1="263.2" y1="320.5" x2="265.8" y2="320.5" stroke="#231f20" stroke-width="0.8"/>
<line x1="263.2" y1="335.5" x2="265.8" y2="335.5" stroke="#231f20" stroke-width="0.8"/>
<path d="M274.5 313.6L276.2 313.6L275.4 328Z" fill="url(#g282)"/>
<line x1="275.4" y1="299.7" x2="275.4" y2="301.6" stroke="#444" stroke-width="0.5"/>
<path d="M275.6 300.6 275.7 300.9 276.1 301.2 276.5 301.5 277 301.8 277.6 302.1 278.1 302.3 278.6 302.6 279.2 302.9 279.7 303.2 280.2 303.5 280.6 303.8 281.1 304.1 281.4 304.4 281.8 304.6 282.1 304.9 282.3 305.2 282.5 305.5 282.5 305.8 282.5 306.3 282.2 306.9 281.9 307.4 281.5 308 281.1 308.5 280.6 309.1 280.1 309.6 279.5 310.2 279 310.7 278.4 311.2 277.8 311.8 277.3 312.3 276.8 312.9 276.4 313.4 276 314 275.7 314.5 275.6 315.1 275.6 315.6 275.2 315.6 275.2 315.1 275.1 314.5 274.8 314 274.4 313.4 274 312.9 273.5 312.3 273 311.8 272.4 311.2 271.8 310.7 271.3 310.2 270.7 309.6 270.2 309.1 269.7 308.5 269.3 308 268.9 307.4 268.6 306.9 268.3 306.3 268.2 305.8 268.3 305.5 268.5 305.2 268.7 304.9 269 304.6 269.4 304.4 269.7 304.1 270.2 303.8 270.6 303.5 271.1 303.2 271.6 302.9 272.2 302.6 272.7 302.3 273.2 302.1 273.8 301.8 274.3 301.5 274.7 301.2 275.1 300.9 275.2 300.6Z" fill="#c8102e" stroke="#3a3a3a" stroke-width="0.3" stroke-linejoin="round"/>
<path d="M290.6 321.2L292.3 321.2L291.5 329.7Z" fill="url(#g283)"/>
<line x1="291.5" y1="299.7" x2="291.5" y2="303.2" stroke="#444" stroke-width="0.5"/>
<path d="M291.7 302.2 291.7 302.6 292.1 303 292.5 303.4 293 303.9 293.5 304.3 293.9 304.7 294.4 305.1 294.9 305.5 295.4 305.9 295.8 306.4 296.2 306.8 296.6 307.2 297 307.6 297.3 308 297.6 308.4 297.8 308.9 297.9 309.3 298 309.7 297.9 310.4 297.7 311.2 297.4 311.9 297.1 312.7 296.7 313.4 296.2 314.2 295.7 314.9 295.2 315.7 294.7 316.4 294.2 317.2 293.7 317.9 293.2 318.7 292.8 319.4 292.4 320.2 292 320.9 291.8 321.7 291.7 322.4 291.7 323.2 291.3 323.2 291.3 322.4 291.2 321.7 291 320.9 290.6 320.2 290.2 319.4 289.8 318.7 289.3 317.9 288.8 317.2 288.3 316.4 287.8 315.7 287.3 314.9 286.8 314.2 286.3 313.4 285.9 312.7 285.6 311.9 285.3 311.2 285.1 310.4 285 309.7 285.1 309.3 285.2 308.9 285.4 308.4 285.7 308 286 307.6 286.4 307.2 286.8 306.8 287.2 306.4 287.6 305.9 288.1 305.5 288.6 305.1 289.1 304.7 289.5 304.3 290 303.9 290.5 303.4 290.9 303 291.3 302.6 291.3 302.2Z" fill="#f7941d" stroke="#3a3a3a" stroke-width="0.3" stroke-linejoin="round"/>
<path d="M306.1 321.2L307.8 321.2L307 329Z" fill="url(#g284)"/>
<line x1="307" y1="298" x2="307" y2="303.2" stroke="#444" stroke-width="0.5"/>
<path d="M307.2 302.2 307.2 302.6 307.6 303 308 303.4 308.4 303.9 308.8 304.3 309.3 304.7 309.8 305.1 310.2 305.5 310.6 305.9 311.1 306.4 311.5 306.8 311.8 307.2 312.2 307.6 312.4 308 312.7 308.4 312.9 308.9 313 309.3 313.1 309.7 313 310.4 312.8 311.2 312.6 311.9 312.2 312.7 311.9 313.4 311.4 314.2 311 314.9 310.5 315.7 310 316.4 309.5 317.2 309.1 317.9 308.6 318.7 308.2 319.4 307.8 320.2 307.5 320.9 307.2 321.7 307.2 322.4 307.2 323.2 306.8 323.2 306.8 322.4 306.8 321.7 306.5 320.9 306.2 320.2 305.8 319.4 305.4 318.7 304.9 317.9 304.5 317.2 304 316.4 303.5 315.7 303 314.9 302.6 314.2 302.1 313.4 301.8 312.7 301.4 311.9 301.2 311.2 301 310.4 300.9 309.7 301 309.3 301.1 308.9 301.3 308.4 301.6 308 301.8 307.6 302.2 307.2 302.5 306.8 302.9 306.4 303.4 305.9 303.8 305.5 304.2 305.1 304.7 304.7 305.2 304.3 305.6 303.9 306 303.4 306.4 303 306.8 302.6 306.8 302.2Z" fill="#29a9e1" stroke="#3a3a3a" stroke-width="0.3" stroke-linejoin="round"/>
<path d="M321.9 319.5L323.6 319.5L322.8 325Z" fill="url(#g285)"/>
<line x1="322.8" y1="292" x2="322.8" y2="301.5" stroke="#444" stroke-width="0.5"/>
<path d="M323 300.5 323 300.9 323.4 301.3 323.8 301.8 324.2 302.2 324.7 302.6 325.1 303 325.6 303.4 326 303.8 326.5 304.2 326.9 304.7 327.3 305.1 327.7 305.5 328 305.9 328.3 306.3 328.5 306.8 328.7 307.2 328.9 307.6 328.9 308 328.9 308.8 328.7 309.5 328.4 310.2 328.1 311 327.7 311.8 327.3 312.5 326.8 313.2 326.3 314 325.9 314.8 325.4 315.5 324.9 316.2 324.4 317 324 317.8 323.6 318.5 323.3 319.2 323 320 323 320.8 323 321.5 322.6 321.5 322.6 320.8 322.6 320 322.3 319.2 322 318.5 321.6 317.8 321.2 317 320.7 316.2 320.2 315.5 319.7 314.8 319.3 314 318.8 313.2 318.3 312.5 317.9 311.8 317.5 311 317.2 310.2 316.9 309.5 316.7 308.8 316.6 308 316.7 307.6 316.9 307.2 317.1 306.8 317.3 306.3 317.6 305.9 317.9 305.5 318.3 305.1 318.7 304.7 319.1 304.2 319.6 303.8 320 303.4 320.5 303 320.9 302.6 321.4 302.2 321.8 301.8 322.2 301.3 322.6 300.9 322.6 300.5Z" fill="#8e7cc3" stroke="#3a3a3a" stroke-width="0.3" stroke-linejoin="round"/>
<path d="M275.4 298.2 V296.6 H291.5 V298.2" fill="none" stroke="#444" stroke-width="0.6"/>
<text x="276.2" y="295.4" font-size="4.6" fill="#333">P &lt; 2.22e−16</text>
<path d="M275.4 287.9 V286.3 H307 V287.9" fill="none" stroke="#444" stroke-width="0.6"/>
<text x="291.2" y="285.1" font-size="4.6" text-anchor="middle" fill="#333">P &lt; 2.22e−16</text>
<path d="M275.4 278.6 V277 H322.8 V278.6" fill="none" stroke="#444" stroke-width="0.6"/>
<text x="299.1" y="275.8" font-size="4.6" text-anchor="middle" fill="#333">7.3e−08</text>
<text x="85.5" y="351.9" font-size="7.2" text-anchor="middle">H3K27Ac</text>
<line x1="52.5" y1="357.5" x2="52.5" y2="422.7" stroke="#231f20" stroke-width="0.9"/>
<line x1="52.5" y1="422.7" x2="118" y2="422.7" stroke="#231f20" stroke-width="0.9"/>
<line x1="49.9" y1="359.5" x2="52.5" y2="359.5" stroke="#231f20" stroke-width="0.8"/>
<text x="47.3" y="362" font-size="7" text-anchor="end">4</text>
<line x1="49.9" y1="374.5" x2="52.5" y2="374.5" stroke="#231f20" stroke-width="0.8"/>
<text x="47.3" y="377" font-size="7" text-anchor="end">2</text>
<line x1="49.9" y1="389.5" x2="52.5" y2="389.5" stroke="#231f20" stroke-width="0.8"/>
<text x="47.3" y="392" font-size="7" text-anchor="end">0</text>
<line x1="49.9" y1="404.5" x2="52.5" y2="404.5" stroke="#231f20" stroke-width="0.8"/>
<text x="47.3" y="407" font-size="7" text-anchor="end">−2</text>
<line x1="49.9" y1="419.5" x2="52.5" y2="419.5" stroke="#231f20" stroke-width="0.8"/>
<text x="47.3" y="422" font-size="7" text-anchor="end">−4</text>
<path d="M61.6 405.2L63.4 405.2L62.5 419.8Z" fill="url(#g282)"/>
<line x1="62.5" y1="382.2" x2="62.5" y2="387.2" stroke="#444" stroke-width="0.5"/>
<path d="M62.7 386.2 62.7 386.6 63 387 63.3 387.4 63.7 387.9 64.1 388.3 64.5 388.7 64.9 389.1 65.3 389.5 65.7 389.9 66.1 390.4 66.4 390.8 66.8 391.2 67.1 391.6 67.3 392 67.5 392.4 67.7 392.9 67.8 393.3 67.9 393.7 67.8 394.4 67.7 395.2 67.4 395.9 67.1 396.7 66.8 397.4 66.4 398.2 66 398.9 65.6 399.7 65.2 400.4 64.8 401.2 64.3 401.9 63.9 402.7 63.6 403.4 63.2 404.2 62.9 404.9 62.7 405.7 62.7 406.4 62.7 407.2 62.3 407.2 62.3 406.4 62.3 405.7 62.1 404.9 61.8 404.2 61.4 403.4 61.1 402.7 60.7 401.9 60.2 401.2 59.8 400.4 59.4 399.7 59 398.9 58.6 398.2 58.2 397.4 57.9 396.7 57.6 395.9 57.3 395.2 57.2 394.4 57.1 393.7 57.2 393.3 57.3 392.9 57.5 392.4 57.7 392 57.9 391.6 58.2 391.2 58.6 390.8 58.9 390.4 59.3 389.9 59.7 389.5 60.1 389.1 60.5 388.7 60.9 388.3 61.3 387.9 61.7 387.4 62 387 62.3 386.6 62.3 386.2Z" fill="#c8102e" stroke="#3a3a3a" stroke-width="0.3" stroke-linejoin="round"/>
<path d="M77.5 405.2L79.1 405.2L78.3 419.8Z" fill="url(#g283)"/>
<line x1="78.3" y1="387.5" x2="78.3" y2="389.7" stroke="#444" stroke-width="0.5"/>
<path d="M78.5 388.7 78.5 389 78.8 389.4 79.1 389.7 79.5 390.1 79.9 390.5 80.3 390.8 80.7 391.2 81.1 391.6 81.4 391.9 81.8 392.3 82.1 392.7 82.5 393 82.7 393.4 83 393.7 83.2 394.1 83.4 394.5 83.5 394.8 83.5 395.2 83.5 395.9 83.3 396.5 83.1 397.2 82.8 397.9 82.5 398.5 82.1 399.2 81.7 399.9 81.3 400.5 80.9 401.2 80.5 401.9 80.1 402.5 79.7 403.2 79.3 403.8 79 404.5 78.7 405.2 78.5 405.8 78.5 406.5 78.5 407.2 78.1 407.2 78.1 406.5 78.1 405.8 77.9 405.2 77.6 404.5 77.3 403.8 76.9 403.2 76.5 402.5 76.1 401.9 75.7 401.2 75.3 400.5 74.9 399.9 74.5 399.2 74.1 398.5 73.8 397.9 73.5 397.2 73.3 396.5 73.1 395.9 73 395.2 73.1 394.8 73.2 394.5 73.4 394.1 73.6 393.7 73.9 393.4 74.1 393 74.5 392.7 74.8 392.3 75.2 391.9 75.5 391.6 75.9 391.2 76.3 390.8 76.7 390.5 77.1 390.1 77.5 389.7 77.8 389.4 78.1 389 78.1 388.7Z" fill="#f7941d" stroke="#3a3a3a" stroke-width="0.3" stroke-linejoin="round"/>
<path d="M92.9 405.9L94.5 405.9L93.7 419.8Z" fill="url(#g284)"/>
<line x1="93.7" y1="387.5" x2="93.7" y2="389.7" stroke="#444" stroke-width="0.5"/>
<path d="M93.9 388.7 93.9 389.1 94.3 389.5 94.8 389.8 95.3 390.2 95.8 390.6 96.3 391 96.8 391.3 97.3 391.7 97.8 392.1 98.3 392.5 98.7 392.9 99.2 393.2 99.5 393.6 99.9 394 100.1 394.4 100.4 394.7 100.5 395.1 100.6 395.5 100.5 396.2 100.3 396.9 100 397.6 99.6 398.3 99.2 398.9 98.7 399.6 98.2 400.3 97.7 401 97.1 401.7 96.6 402.4 96 403.1 95.5 403.8 95.1 404.4 94.6 405.1 94.3 405.8 94 406.5 93.9 407.2 93.9 407.9 93.5 407.9 93.5 407.2 93.4 406.5 93.1 405.8 92.8 405.1 92.3 404.4 91.9 403.8 91.4 403.1 90.8 402.4 90.3 401.7 89.7 401 89.2 400.3 88.7 399.6 88.2 398.9 87.8 398.3 87.4 397.6 87.1 396.9 86.9 396.2 86.8 395.5 86.9 395.1 87 394.7 87.3 394.4 87.5 394 87.9 393.6 88.2 393.2 88.7 392.9 89.1 392.5 89.6 392.1 90.1 391.7 90.6 391.3 91.1 391 91.6 390.6 92.1 390.2 92.6 389.8 93.1 389.5 93.5 389.1 93.5 388.7Z" fill="#29a9e1" stroke="#3a3a3a" stroke-width="0.3" stroke-linejoin="round"/>
<path d="M108.7 405.5L110.3 405.5L109.5 419.8Z" fill="url(#g285)"/>
<line x1="109.5" y1="387.8" x2="109.5" y2="390" stroke="#444" stroke-width="0.5"/>
<path d="M109.7 389 109.8 389.3 110.1 389.7 110.6 390 111.1 390.4 111.6 390.8 112.1 391.1 112.7 391.5 113.2 391.9 113.7 392.2 114.2 392.6 114.6 393 115 393.3 115.4 393.7 115.8 394 116 394.4 116.3 394.8 116.4 395.1 116.5 395.5 116.4 396.2 116.2 396.8 115.9 397.5 115.5 398.2 115.1 398.8 114.6 399.5 114.1 400.2 113.5 400.8 113 401.5 112.4 402.2 111.9 402.8 111.4 403.5 110.9 404.1 110.4 404.8 110.1 405.5 109.8 406.1 109.7 406.8 109.7 407.5 109.3 407.5 109.3 406.8 109.2 406.1 108.9 405.5 108.6 404.8 108.1 404.1 107.6 403.5 107.1 402.8 106.6 402.2 106 401.5 105.5 400.8 104.9 400.2 104.4 399.5 103.9 398.8 103.5 398.2 103.1 397.5 102.8 396.8 102.6 396.2 102.5 395.5 102.6 395.1 102.7 394.8 103 394.4 103.2 394 103.6 393.7 104 393.3 104.4 393 104.8 392.6 105.3 392.2 105.8 391.9 106.3 391.5 106.9 391.1 107.4 390.8 107.9 390.4 108.4 390 108.9 389.7 109.2 389.3 109.3 389Z" fill="#8e7cc3" stroke="#3a3a3a" stroke-width="0.3" stroke-linejoin="round"/>
<path d="M62.5 382.2 V380.6 H78.3 V382.2" fill="none" stroke="#444" stroke-width="0.6"/>
<text x="58" y="379.4" font-size="4.6" fill="#333">P &lt; 2.22e−16</text>
<path d="M62.5 371.9 V370.3 H93.7 V371.9" fill="none" stroke="#444" stroke-width="0.6"/>
<text x="78.1" y="369.1" font-size="4.6" text-anchor="middle" fill="#333">P &lt; 2.22e−16</text>
<path d="M62.5 362.6 V361 H109.5 V362.6" fill="none" stroke="#444" stroke-width="0.6"/>
<text x="86" y="359.8" font-size="4.6" text-anchor="middle" fill="#333">P &lt; 2.22e−16</text>
<text x="156.6" y="351.9" font-size="7.2" text-anchor="middle">H3K4me1</text>
<line x1="123.6" y1="357.5" x2="123.6" y2="422.7" stroke="#231f20" stroke-width="0.9"/>
<line x1="123.6" y1="422.7" x2="189.1" y2="422.7" stroke="#231f20" stroke-width="0.9"/>
<line x1="121" y1="359.5" x2="123.6" y2="359.5" stroke="#231f20" stroke-width="0.8"/>
<line x1="121" y1="374.5" x2="123.6" y2="374.5" stroke="#231f20" stroke-width="0.8"/>
<line x1="121" y1="389.5" x2="123.6" y2="389.5" stroke="#231f20" stroke-width="0.8"/>
<line x1="121" y1="404.5" x2="123.6" y2="404.5" stroke="#231f20" stroke-width="0.8"/>
<line x1="121" y1="419.5" x2="123.6" y2="419.5" stroke="#231f20" stroke-width="0.8"/>
<path d="M133.2 400.4L134.8 400.4L134 410.6Z" fill="url(#g282)"/>
<line x1="134" y1="383" x2="134" y2="385.1" stroke="#444" stroke-width="0.5"/>
<path d="M134.2 384.1 134.3 384.5 134.7 384.9 135.1 385.2 135.6 385.6 136.2 385.9 136.7 386.3 137.2 386.7 137.8 387 138.3 387.4 138.8 387.7 139.2 388.1 139.7 388.4 140 388.8 140.4 389.2 140.7 389.5 140.9 389.9 141.1 390.2 141.2 390.6 141.1 391.3 140.8 391.9 140.5 392.6 140.1 393.2 139.7 393.9 139.2 394.5 138.7 395.2 138.1 395.9 137.6 396.5 137 397.2 136.4 397.8 135.9 398.5 135.4 399.1 135 399.8 134.6 400.5 134.3 401.1 134.2 401.8 134.2 402.4 133.8 402.4 133.8 401.8 133.7 401.1 133.4 400.5 133 399.8 132.6 399.1 132.1 398.5 131.6 397.8 131 397.2 130.4 396.5 129.9 395.9 129.3 395.2 128.8 394.5 128.3 393.9 127.9 393.2 127.5 392.6 127.2 391.9 126.9 391.3 126.8 390.6 126.9 390.2 127.1 389.9 127.3 389.5 127.6 389.2 128 388.8 128.3 388.4 128.8 388.1 129.2 387.7 129.7 387.4 130.2 387 130.8 386.7 131.3 386.3 131.8 385.9 132.4 385.6 132.9 385.2 133.3 384.9 133.7 384.5 133.8 384.1Z" fill="#c8102e" stroke="#3a3a3a" stroke-width="0.3" stroke-linejoin="round"/>
<path d="M148.6 406L150.2 406L149.4 413.7Z" fill="url(#g283)"/>
<line x1="149.4" y1="383.7" x2="149.4" y2="388" stroke="#444" stroke-width="0.5"/>
<path d="M149.6 387 149.6 387.4 150 387.8 150.5 388.2 150.9 388.7 151.4 389.1 151.9 389.5 152.4 389.9 152.9 390.3 153.4 390.8 153.9 391.2 154.3 391.6 154.7 392 155.1 392.4 155.4 392.8 155.7 393.2 155.9 393.7 156 394.1 156.1 394.5 156 395.2 155.8 396 155.5 396.8 155.1 397.5 154.7 398.2 154.3 399 153.8 399.8 153.3 400.5 152.7 401.2 152.2 402 151.7 402.8 151.2 403.5 150.7 404.2 150.3 405 149.9 405.8 149.7 406.5 149.6 407.2 149.6 408 149.2 408 149.2 407.2 149.1 406.5 148.9 405.8 148.5 405 148.1 404.2 147.6 403.5 147.1 402.8 146.6 402 146.1 401.2 145.5 400.5 145 399.8 144.5 399 144.1 398.2 143.7 397.5 143.3 396.8 143 396 142.8 395.2 142.7 394.5 142.8 394.1 142.9 393.7 143.1 393.2 143.4 392.8 143.7 392.4 144.1 392 144.5 391.6 144.9 391.2 145.4 390.8 145.9 390.3 146.4 389.9 146.9 389.5 147.4 389.1 147.9 388.7 148.3 388.2 148.8 387.8 149.2 387.4 149.2 387Z" fill="#f7941d" stroke="#3a3a3a" stroke-width="0.3" stroke-linejoin="round"/>
<path d="M164.3 406.5L166 406.5L165.2 413.7Z" fill="url(#g284)"/>
<line x1="165.2" y1="378.3" x2="165.2" y2="388.5" stroke="#444" stroke-width="0.5"/>
<path d="M165.4 387.5 165.4 387.9 165.8 388.3 166.1 388.8 166.6 389.2 167 389.6 167.5 390 167.9 390.4 168.4 390.8 168.8 391.2 169.2 391.7 169.6 392.1 169.9 392.5 170.3 392.9 170.6 393.3 170.8 393.8 171 394.2 171.1 394.6 171.2 395 171.1 395.8 170.9 396.5 170.7 397.2 170.3 398 170 398.8 169.6 399.5 169.1 400.2 168.7 401 168.2 401.8 167.7 402.5 167.2 403.2 166.8 404 166.4 404.8 166 405.5 165.7 406.2 165.4 407 165.4 407.8 165.4 408.5 165 408.5 165 407.8 165 407 164.7 406.2 164.4 405.5 164 404.8 163.6 404 163.2 403.2 162.7 402.5 162.2 401.8 161.7 401 161.3 400.2 160.8 399.5 160.4 398.8 160.1 398 159.7 397.2 159.5 396.5 159.3 395.8 159.2 395 159.3 394.6 159.4 394.2 159.6 393.8 159.8 393.3 160.1 392.9 160.5 392.5 160.8 392.1 161.2 391.7 161.6 391.2 162 390.8 162.5 390.4 162.9 390 163.4 389.6 163.8 389.2 164.3 388.8 164.6 388.3 165 387.9 165 387.5Z" fill="#29a9e1" stroke="#3a3a3a" stroke-width="0.3" stroke-linejoin="round"/>
<path d="M180 407L181.7 407L180.9 416Z" fill="url(#g285)"/>
<line x1="180.9" y1="376.8" x2="180.9" y2="389" stroke="#444" stroke-width="0.5"/>
<path d="M181.1 388 181.1 388.4 181.4 388.8 181.8 389.2 182.2 389.7 182.6 390.1 183 390.5 183.4 390.9 183.8 391.3 184.2 391.8 184.6 392.2 184.9 392.6 185.2 393 185.5 393.4 185.8 393.8 186 394.2 186.2 394.7 186.3 395.1 186.4 395.5 186.3 396.2 186.2 397 185.9 397.8 185.6 398.5 185.3 399.2 184.9 400 184.5 400.8 184.1 401.5 183.6 402.2 183.2 403 182.8 403.8 182.4 404.5 182 405.2 181.6 406 181.3 406.8 181.1 407.5 181.1 408.2 181.1 409 180.7 409 180.7 408.2 180.7 407.5 180.5 406.8 180.2 406 179.8 405.2 179.4 404.5 179 403.8 178.6 403 178.2 402.2 177.7 401.5 177.3 400.8 176.9 400 176.5 399.2 176.2 398.5 175.9 397.8 175.6 397 175.5 396.2 175.4 395.5 175.5 395.1 175.6 394.7 175.8 394.2 176 393.8 176.3 393.4 176.6 393 176.9 392.6 177.2 392.2 177.6 391.8 178 391.3 178.4 390.9 178.8 390.5 179.2 390.1 179.6 389.7 180 389.2 180.4 388.8 180.7 388.4 180.7 388Z" fill="#8e7cc3" stroke="#3a3a3a" stroke-width="0.3" stroke-linejoin="round"/>
<path d="M134 382.2 V380.6 H149.4 V382.2" fill="none" stroke="#444" stroke-width="0.6"/>
<text x="129.5" y="379.4" font-size="4.6" fill="#333">P &lt; 2.22e−16</text>
<path d="M134 371.9 V370.3 H165.2 V371.9" fill="none" stroke="#444" stroke-width="0.6"/>
<text x="149.6" y="369.1" font-size="4.6" text-anchor="middle" fill="#333">P &lt; 2.22e−16</text>
<path d="M134 362.6 V361 H180.9 V362.6" fill="none" stroke="#444" stroke-width="0.6"/>
<text x="157.4" y="359.8" font-size="4.6" text-anchor="middle" fill="#333">P &lt; 2.22e−16</text>
<text x="227.7" y="351.9" font-size="7.2" text-anchor="middle">BRD4</text>
<line x1="194.7" y1="357.5" x2="194.7" y2="422.7" stroke="#231f20" stroke-width="0.9"/>
<line x1="194.7" y1="422.7" x2="260.2" y2="422.7" stroke="#231f20" stroke-width="0.9"/>
<line x1="192.1" y1="359.5" x2="194.7" y2="359.5" stroke="#231f20" stroke-width="0.8"/>
<line x1="192.1" y1="374.5" x2="194.7" y2="374.5" stroke="#231f20" stroke-width="0.8"/>
<line x1="192.1" y1="389.5" x2="194.7" y2="389.5" stroke="#231f20" stroke-width="0.8"/>
<line x1="192.1" y1="404.5" x2="194.7" y2="404.5" stroke="#231f20" stroke-width="0.8"/>
<line x1="192.1" y1="419.5" x2="194.7" y2="419.5" stroke="#231f20" stroke-width="0.8"/>
<path d="M202.2 398.7L203.8 398.7L203 406.6Z" fill="url(#g282)"/>
<line x1="203" y1="382" x2="203" y2="384.1" stroke="#444" stroke-width="0.5"/>
<path d="M203.2 383.1 203.2 383.4 203.6 383.8 203.9 384.1 204.4 384.5 204.8 384.8 205.3 385.2 205.7 385.5 206.2 385.9 206.6 386.2 207 386.5 207.4 386.9 207.7 387.2 208.1 387.6 208.4 387.9 208.6 388.3 208.8 388.6 208.9 389 209 389.3 208.9 389.9 208.7 390.6 208.5 391.2 208.1 391.8 207.8 392.5 207.4 393.1 206.9 393.7 206.5 394.4 206 395 205.5 395.6 205 396.3 204.6 396.9 204.2 397.6 203.8 398.2 203.5 398.8 203.2 399.5 203.2 400.1 203.2 400.7 202.8 400.7 202.8 400.1 202.8 399.5 202.5 398.8 202.2 398.2 201.8 397.6 201.4 396.9 201 396.3 200.5 395.6 200 395 199.5 394.4 199.1 393.7 198.6 393.1 198.2 392.5 197.9 391.8 197.5 391.2 197.3 390.6 197.1 389.9 197 389.3 197.1 389 197.2 388.6 197.4 388.3 197.6 387.9 197.9 387.6 198.3 387.2 198.6 386.9 199 386.5 199.4 386.2 199.8 385.9 200.3 385.5 200.7 385.2 201.2 384.8 201.6 384.5 202.1 384.1 202.4 383.8 202.8 383.4 202.8 383.1Z" fill="#c8102e" stroke="#3a3a3a" stroke-width="0.3" stroke-linejoin="round"/>
<path d="M217 401.2L218.7 401.2L217.9 411Z" fill="url(#g283)"/>
<line x1="217.9" y1="382.6" x2="217.9" y2="384.8" stroke="#444" stroke-width="0.5"/>
<path d="M218.1 383.8 218.1 384.2 218.4 384.6 218.8 385 219.2 385.3 219.6 385.7 220.1 386.1 220.5 386.5 220.9 386.9 221.3 387.3 221.7 387.6 222.1 388 222.4 388.4 222.8 388.8 223 389.2 223.3 389.6 223.5 389.9 223.6 390.3 223.6 390.7 223.6 391.4 223.4 392.1 223.1 392.8 222.8 393.5 222.5 394.2 222.1 394.9 221.7 395.6 221.2 396.3 220.8 397 220.3 397.7 219.9 398.3 219.4 399 219 399.7 218.7 400.4 218.4 401.1 218.1 401.8 218.1 402.5 218.1 403.2 217.7 403.2 217.7 402.5 217.7 401.8 217.4 401.1 217.1 400.4 216.8 399.7 216.4 399 215.9 398.3 215.5 397.7 215 397 214.6 396.3 214.1 395.6 213.7 394.9 213.3 394.2 213 393.5 212.7 392.8 212.4 392.1 212.2 391.4 212.1 390.7 212.2 390.3 212.3 389.9 212.5 389.6 212.8 389.2 213 388.8 213.4 388.4 213.7 388 214.1 387.6 214.5 387.3 214.9 386.9 215.3 386.5 215.7 386.1 216.2 385.7 216.6 385.3 217 385 217.4 384.6 217.7 384.2 217.7 383.8Z" fill="#f7941d" stroke="#3a3a3a" stroke-width="0.3" stroke-linejoin="round"/>
<path d="M233.8 403.5L235.5 403.5L234.7 412.3Z" fill="url(#g284)"/>
<line x1="234.7" y1="378.3" x2="234.7" y2="385.5" stroke="#444" stroke-width="0.5"/>
<path d="M234.9 384.5 234.9 384.9 235.2 385.3 235.6 385.8 236 386.2 236.4 386.6 236.9 387 237.3 387.4 237.7 387.8 238.1 388.2 238.5 388.7 238.9 389.1 239.2 389.5 239.6 389.9 239.8 390.3 240.1 390.8 240.3 391.2 240.4 391.6 240.4 392 240.4 392.8 240.2 393.5 239.9 394.2 239.6 395 239.3 395.8 238.9 396.5 238.5 397.2 238 398 237.6 398.8 237.1 399.5 236.7 400.2 236.2 401 235.8 401.8 235.5 402.5 235.2 403.2 234.9 404 234.9 404.8 234.9 405.5 234.5 405.5 234.5 404.8 234.5 404 234.2 403.2 233.9 402.5 233.6 401.8 233.2 401 232.7 400.2 232.3 399.5 231.8 398.8 231.4 398 230.9 397.2 230.5 396.5 230.1 395.8 229.8 395 229.5 394.2 229.2 393.5 229 392.8 228.9 392 229 391.6 229.1 391.2 229.3 390.8 229.6 390.3 229.8 389.9 230.2 389.5 230.5 389.1 230.9 388.7 231.3 388.2 231.7 387.8 232.1 387.4 232.5 387 233 386.6 233.4 386.2 233.8 385.8 234.2 385.3 234.5 384.9 234.5 384.5Z" fill="#29a9e1" stroke="#3a3a3a" stroke-width="0.3" stroke-linejoin="round"/>
<path d="M249.3 404.2L251 404.2L250.2 415Z" fill="url(#g285)"/>
<line x1="250.2" y1="379" x2="250.2" y2="386.2" stroke="#444" stroke-width="0.5"/>
<path d="M250.4 385.2 250.4 385.6 250.8 386 251.1 386.4 251.6 386.9 252 387.3 252.5 387.7 252.9 388.1 253.4 388.5 253.8 388.9 254.2 389.4 254.6 389.8 254.9 390.2 255.3 390.6 255.6 391 255.8 391.4 256 391.9 256.1 392.3 256.2 392.7 256.1 393.4 255.9 394.2 255.7 394.9 255.3 395.7 255 396.4 254.6 397.2 254.1 397.9 253.7 398.7 253.2 399.4 252.7 400.2 252.2 400.9 251.8 401.7 251.4 402.4 251 403.2 250.7 403.9 250.4 404.7 250.4 405.4 250.4 406.2 250 406.2 250 405.4 250 404.7 249.7 403.9 249.4 403.2 249 402.4 248.6 401.7 248.2 400.9 247.7 400.2 247.2 399.4 246.7 398.7 246.3 397.9 245.8 397.2 245.4 396.4 245.1 395.7 244.7 394.9 244.5 394.2 244.3 393.4 244.2 392.7 244.3 392.3 244.4 391.9 244.6 391.4 244.8 391 245.1 390.6 245.5 390.2 245.8 389.8 246.2 389.4 246.6 388.9 247 388.5 247.5 388.1 247.9 387.7 248.4 387.3 248.8 386.9 249.3 386.4 249.6 386 250 385.6 250 385.2Z" fill="#8e7cc3" stroke="#3a3a3a" stroke-width="0.3" stroke-linejoin="round"/>
<path d="M203 382.2 V380.6 H217.9 V382.2" fill="none" stroke="#444" stroke-width="0.6"/>
<text x="198.5" y="379.4" font-size="4.6" fill="#333">P &lt; 2.22e−16</text>
<path d="M203 371.9 V370.3 H234.7 V371.9" fill="none" stroke="#444" stroke-width="0.6"/>
<text x="218.8" y="369.1" font-size="4.6" text-anchor="middle" fill="#333">P &lt; 2.22e−16</text>
<path d="M203 362.6 V361 H250.2 V362.6" fill="none" stroke="#444" stroke-width="0.6"/>
<text x="226.6" y="359.8" font-size="4.6" text-anchor="middle" fill="#333">P &lt; 2.22e−16</text>
<text x="298.8" y="351.9" font-size="7.2" text-anchor="middle">ATAC</text>
<line x1="265.8" y1="357.5" x2="265.8" y2="422.7" stroke="#231f20" stroke-width="0.9"/>
<line x1="265.8" y1="422.7" x2="331.3" y2="422.7" stroke="#231f20" stroke-width="0.9"/>
<line x1="263.2" y1="359.5" x2="265.8" y2="359.5" stroke="#231f20" stroke-width="0.8"/>
<line x1="263.2" y1="374.5" x2="265.8" y2="374.5" stroke="#231f20" stroke-width="0.8"/>
<line x1="263.2" y1="389.5" x2="265.8" y2="389.5" stroke="#231f20" stroke-width="0.8"/>
<line x1="263.2" y1="404.5" x2="265.8" y2="404.5" stroke="#231f20" stroke-width="0.8"/>
<line x1="263.2" y1="419.5" x2="265.8" y2="419.5" stroke="#231f20" stroke-width="0.8"/>
<path d="M274.1 398.7L275.8 398.7L275 409.5Z" fill="url(#g282)"/>
<line x1="275" y1="382" x2="275" y2="384.1" stroke="#444" stroke-width="0.5"/>
<path d="M275.2 383.1 275.3 383.4 275.6 383.8 276.1 384.1 276.6 384.5 277.1 384.8 277.6 385.2 278.2 385.5 278.7 385.9 279.2 386.2 279.7 386.5 280.1 386.9 280.5 387.2 280.9 387.6 281.3 387.9 281.5 388.3 281.8 388.6 281.9 389 282 389.3 281.9 389.9 281.7 390.6 281.4 391.2 281 391.8 280.6 392.5 280.1 393.1 279.6 393.7 279 394.4 278.5 395 277.9 395.6 277.4 396.3 276.9 396.9 276.4 397.6 275.9 398.2 275.6 398.8 275.3 399.5 275.2 400.1 275.2 400.7 274.8 400.7 274.8 400.1 274.7 399.5 274.4 398.8 274.1 398.2 273.6 397.6 273.1 396.9 272.6 396.3 272.1 395.6 271.5 395 271 394.4 270.4 393.7 269.9 393.1 269.4 392.5 269 391.8 268.6 391.2 268.3 390.6 268.1 389.9 268 389.3 268.1 389 268.2 388.6 268.5 388.3 268.7 387.9 269.1 387.6 269.5 387.2 269.9 386.9 270.3 386.5 270.8 386.2 271.3 385.9 271.8 385.5 272.4 385.2 272.9 384.8 273.4 384.5 273.9 384.1 274.4 383.8 274.7 383.4 274.8 383.1Z" fill="#c8102e" stroke="#3a3a3a" stroke-width="0.3" stroke-linejoin="round"/>
<path d="M290.1 405.1L291.8 405.1L291 418Z" fill="url(#g283)"/>
<line x1="291" y1="382.6" x2="291" y2="387.1" stroke="#444" stroke-width="0.5"/>
<path d="M291.2 386.1 291.2 386.5 291.6 386.9 291.9 387.4 292.4 387.8 292.8 388.2 293.3 388.6 293.7 389 294.2 389.4 294.6 389.9 295 390.3 295.4 390.7 295.7 391.1 296.1 391.5 296.4 391.9 296.6 392.4 296.8 392.8 296.9 393.2 297 393.6 296.9 394.4 296.7 395.1 296.5 395.9 296.1 396.6 295.8 397.4 295.4 398.1 294.9 398.9 294.5 399.6 294 400.4 293.5 401.1 293 401.9 292.6 402.6 292.2 403.4 291.8 404.1 291.5 404.9 291.2 405.6 291.2 406.4 291.2 407.1 290.8 407.1 290.8 406.4 290.8 405.6 290.5 404.9 290.2 404.1 289.8 403.4 289.4 402.6 289 401.9 288.5 401.1 288 400.4 287.5 399.6 287.1 398.9 286.6 398.1 286.2 397.4 285.9 396.6 285.5 395.9 285.3 395.1 285.1 394.4 285 393.6 285.1 393.2 285.2 392.8 285.4 392.4 285.6 391.9 285.9 391.5 286.3 391.1 286.6 390.7 287 390.3 287.4 389.9 287.8 389.4 288.3 389 288.7 388.6 289.2 388.2 289.6 387.8 290.1 387.4 290.4 386.9 290.8 386.5 290.8 386.1Z" fill="#f7941d" stroke="#3a3a3a" stroke-width="0.3" stroke-linejoin="round"/>
<path d="M305.9 403.5L307.6 403.5L306.8 418Z" fill="url(#g284)"/>
<line x1="306.8" y1="380.6" x2="306.8" y2="385.5" stroke="#444" stroke-width="0.5"/>
<path d="M307 384.5 307 384.9 307.4 385.3 307.8 385.8 308.3 386.2 308.8 386.6 309.2 387 309.7 387.4 310.2 387.8 310.7 388.2 311.1 388.7 311.5 389.1 311.9 389.5 312.3 389.9 312.6 390.3 312.9 390.8 313.1 391.2 313.2 391.6 313.3 392 313.2 392.8 313 393.5 312.7 394.2 312.4 395 312 395.8 311.5 396.5 311 397.2 310.5 398 310 398.8 309.5 399.5 309 400.2 308.5 401 308.1 401.8 307.7 402.5 307.3 403.2 307.1 404 307 404.8 307 405.5 306.6 405.5 306.6 404.8 306.5 404 306.3 403.2 305.9 402.5 305.5 401.8 305.1 401 304.6 400.2 304.1 399.5 303.6 398.8 303.1 398 302.6 397.2 302.1 396.5 301.6 395.8 301.2 395 300.9 394.2 300.6 393.5 300.4 392.8 300.3 392 300.4 391.6 300.5 391.2 300.7 390.8 301 390.3 301.3 389.9 301.7 389.5 302.1 389.1 302.5 388.7 302.9 388.2 303.4 387.8 303.9 387.4 304.4 387 304.8 386.6 305.3 386.2 305.8 385.8 306.2 385.3 306.6 384.9 306.6 384.5Z" fill="#29a9e1" stroke="#3a3a3a" stroke-width="0.3" stroke-linejoin="round"/>
<path d="M321.8 403.1L323.5 403.1L322.7 415Z" fill="url(#g285)"/>
<line x1="322.7" y1="374.8" x2="322.7" y2="385.1" stroke="#444" stroke-width="0.5"/>
<path d="M322.9 384.1 322.9 384.5 323.3 384.9 323.7 385.4 324.1 385.8 324.6 386.2 325.1 386.6 325.5 387 326 387.4 326.4 387.9 326.9 388.3 327.3 388.7 327.6 389.1 328 389.5 328.3 389.9 328.5 390.4 328.7 390.8 328.9 391.2 328.9 391.6 328.9 392.4 328.7 393.1 328.4 393.9 328.1 394.6 327.7 395.4 327.2 396.1 326.8 396.9 326.3 397.6 325.8 398.4 325.3 399.1 324.8 399.9 324.4 400.6 323.9 401.4 323.5 402.1 323.2 402.9 322.9 403.6 322.9 404.4 322.9 405.1 322.5 405.1 322.5 404.4 322.5 403.6 322.2 402.9 321.9 402.1 321.5 401.4 321 400.6 320.6 399.9 320.1 399.1 319.6 398.4 319.1 397.6 318.6 396.9 318.2 396.1 317.7 395.4 317.3 394.6 317 393.9 316.7 393.1 316.5 392.4 316.4 391.6 316.5 391.2 316.7 390.8 316.9 390.4 317.1 389.9 317.4 389.5 317.8 389.1 318.1 388.7 318.5 388.3 319 387.9 319.4 387.4 319.9 387 320.3 386.6 320.8 386.2 321.3 385.8 321.7 385.4 322.1 384.9 322.5 384.5 322.5 384.1Z" fill="#8e7cc3" stroke="#3a3a3a" stroke-width="0.3" stroke-linejoin="round"/>
<path d="M275 382.2 V380.6 H291 V382.2" fill="none" stroke="#444" stroke-width="0.6"/>
<text x="270.5" y="379.4" font-size="4.6" fill="#333">P &lt; 2.22e−16</text>
<path d="M275 371.9 V370.3 H306.8 V371.9" fill="none" stroke="#444" stroke-width="0.6"/>
<text x="290.9" y="369.1" font-size="4.6" text-anchor="middle" fill="#333">P &lt; 2.22e−16</text>
<path d="M275 362.6 V361 H322.7 V362.6" fill="none" stroke="#444" stroke-width="0.6"/>
<text x="298.8" y="359.8" font-size="4.6" text-anchor="middle" fill="#333">P &lt; 2.22e−16</text>
<text x="85.5" y="435.9" font-size="7.2" text-anchor="middle">H3K27Ac</text>
<line x1="52.5" y1="441.5" x2="52.5" y2="506.7" stroke="#231f20" stroke-width="0.9"/>
<line x1="52.5" y1="506.7" x2="118" y2="506.7" stroke="#231f20" stroke-width="0.9"/>
<line x1="49.9" y1="443.5" x2="52.5" y2="443.5" stroke="#231f20" stroke-width="0.8"/>
<text x="47.3" y="446" font-size="7" text-anchor="end">4</text>
<line x1="49.9" y1="458.5" x2="52.5" y2="458.5" stroke="#231f20" stroke-width="0.8"/>
<text x="47.3" y="461" font-size="7" text-anchor="end">2</text>
<line x1="49.9" y1="473.5" x2="52.5" y2="473.5" stroke="#231f20" stroke-width="0.8"/>
<text x="47.3" y="476" font-size="7" text-anchor="end">0</text>
<line x1="49.9" y1="488.5" x2="52.5" y2="488.5" stroke="#231f20" stroke-width="0.8"/>
<text x="47.3" y="491" font-size="7" text-anchor="end">−2</text>
<line x1="49.9" y1="503.5" x2="52.5" y2="503.5" stroke="#231f20" stroke-width="0.8"/>
<text x="47.3" y="506" font-size="7" text-anchor="end">−4</text>
<path d="M61.1 483.4L62.9 483.4L62 501.7Z" fill="url(#g282)"/>
<line x1="62" y1="465" x2="62" y2="467.2" stroke="#444" stroke-width="0.5"/>
<path d="M62.2 466.2 62.2 466.6 62.6 467 62.9 467.3 63.4 467.7 63.8 468.1 64.3 468.5 64.7 468.8 65.2 469.2 65.6 469.6 66 470 66.4 470.4 66.7 470.7 67.1 471.1 67.4 471.5 67.6 471.9 67.8 472.2 67.9 472.6 68 473 67.9 473.7 67.7 474.4 67.5 475.1 67.1 475.8 66.8 476.4 66.4 477.1 65.9 477.8 65.5 478.5 65 479.2 64.5 479.9 64 480.6 63.6 481.3 63.2 481.9 62.8 482.6 62.5 483.3 62.2 484 62.2 484.7 62.2 485.4 61.8 485.4 61.8 484.7 61.8 484 61.5 483.3 61.2 482.6 60.8 481.9 60.4 481.3 60 480.6 59.5 479.9 59 479.2 58.5 478.5 58.1 477.8 57.6 477.1 57.2 476.4 56.9 475.8 56.5 475.1 56.3 474.4 56.1 473.7 56 473 56.1 472.6 56.2 472.2 56.4 471.9 56.6 471.5 56.9 471.1 57.3 470.7 57.6 470.4 58 470 58.4 469.6 58.8 469.2 59.3 468.8 59.7 468.5 60.2 468.1 60.6 467.7 61.1 467.3 61.4 467 61.8 466.6 61.8 466.2Z" fill="#c8102e" stroke="#3a3a3a" stroke-width="0.3" stroke-linejoin="round"/>
<path d="M76.2 489.5L77.8 489.5L77 500.5Z" fill="url(#g283)"/>
<line x1="77" y1="473" x2="77" y2="475.1" stroke="#444" stroke-width="0.5"/>
<path d="M77.2 474.1 77.2 474.4 77.5 474.8 77.8 475.1 78.1 475.4 78.5 475.8 78.9 476.1 79.3 476.5 79.6 476.8 80 477.1 80.3 477.5 80.7 477.8 81 478.2 81.2 478.5 81.5 478.8 81.7 479.2 81.8 479.5 81.9 479.9 82 480.2 81.9 480.8 81.8 481.5 81.6 482.1 81.3 482.7 81 483.3 80.6 484 80.3 484.6 79.9 485.2 79.5 485.8 79.1 486.5 78.7 487.1 78.3 487.7 78 488.4 77.7 489 77.4 489.6 77.2 490.2 77.2 490.9 77.2 491.5 76.8 491.5 76.8 490.9 76.8 490.2 76.6 489.6 76.3 489 76 488.4 75.7 487.7 75.3 487.1 74.9 486.5 74.5 485.8 74.1 485.2 73.7 484.6 73.4 484 73 483.3 72.7 482.7 72.4 482.1 72.2 481.5 72.1 480.8 72 480.2 72.1 479.9 72.2 479.5 72.3 479.2 72.5 478.8 72.8 478.5 73 478.2 73.3 477.8 73.7 477.5 74 477.1 74.4 476.8 74.7 476.5 75.1 476.1 75.5 475.8 75.9 475.4 76.2 475.1 76.5 474.8 76.8 474.4 76.8 474.1Z" fill="#f7941d" stroke="#3a3a3a" stroke-width="0.3" stroke-linejoin="round"/>
<path d="M93 488L94.6 488L93.8 501.7Z" fill="url(#g284)"/>
<line x1="93.8" y1="471.5" x2="93.8" y2="473.6" stroke="#444" stroke-width="0.5"/>
<path d="M94 472.6 94 472.9 94.4 473.3 94.8 473.6 95.3 473.9 95.8 474.3 96.2 474.6 96.7 475 97.2 475.3 97.7 475.6 98.1 476 98.5 476.3 98.9 476.7 99.3 477 99.6 477.3 99.9 477.7 100.1 478 100.2 478.4 100.3 478.7 100.2 479.3 100 480 99.7 480.6 99.4 481.2 99 481.8 98.5 482.5 98 483.1 97.5 483.7 97 484.3 96.5 485 96 485.6 95.5 486.2 95.1 486.9 94.7 487.5 94.3 488.1 94.1 488.7 94 489.4 94 490 93.6 490 93.6 489.4 93.5 488.7 93.3 488.1 92.9 487.5 92.5 486.9 92.1 486.2 91.6 485.6 91.1 485 90.6 484.3 90.1 483.7 89.6 483.1 89.1 482.5 88.6 481.8 88.2 481.2 87.9 480.6 87.6 480 87.4 479.3 87.3 478.7 87.4 478.4 87.5 478 87.7 477.7 88 477.3 88.3 477 88.7 476.7 89.1 476.3 89.5 476 89.9 475.6 90.4 475.3 90.9 475 91.4 474.6 91.8 474.3 92.3 473.9 92.8 473.6 93.2 473.3 93.6 472.9 93.6 472.6Z" fill="#29a9e1" stroke="#3a3a3a" stroke-width="0.3" stroke-linejoin="round"/>
<path d="M108.5 491.7L110.1 491.7L109.3 498.7Z" fill="url(#g285)"/>
<line x1="109.3" y1="470.1" x2="109.3" y2="473.7" stroke="#444" stroke-width="0.5"/>
<path d="M109.5 472.7 109.5 473.1 109.9 473.5 110.2 473.9 110.7 474.4 111.1 474.8 111.6 475.2 112 475.6 112.5 476 112.9 476.4 113.3 476.9 113.7 477.3 114 477.7 114.4 478.1 114.7 478.5 114.9 478.9 115.1 479.4 115.2 479.8 115.3 480.2 115.2 480.9 115 481.7 114.8 482.4 114.4 483.2 114.1 483.9 113.7 484.7 113.2 485.4 112.8 486.2 112.3 486.9 111.8 487.7 111.3 488.4 110.9 489.2 110.5 489.9 110.1 490.7 109.8 491.4 109.5 492.2 109.5 492.9 109.5 493.7 109.1 493.7 109.1 492.9 109.1 492.2 108.8 491.4 108.5 490.7 108.1 489.9 107.7 489.2 107.3 488.4 106.8 487.7 106.3 486.9 105.8 486.2 105.4 485.4 104.9 484.7 104.5 483.9 104.2 483.2 103.8 482.4 103.6 481.7 103.4 480.9 103.3 480.2 103.4 479.8 103.5 479.4 103.7 478.9 103.9 478.5 104.2 478.1 104.6 477.7 104.9 477.3 105.3 476.9 105.7 476.4 106.1 476 106.6 475.6 107 475.2 107.5 474.8 107.9 474.4 108.4 473.9 108.7 473.5 109.1 473.1 109.1 472.7Z" fill="#8e7cc3" stroke="#3a3a3a" stroke-width="0.3" stroke-linejoin="round"/>
<path d="M62 466.2 V464.6 H77 V466.2" fill="none" stroke="#444" stroke-width="0.6"/>
<text x="57.5" y="463.4" font-size="4.6" fill="#333">P &lt; 2.22e−16</text>
<path d="M62 455.9 V454.3 H93.8 V455.9" fill="none" stroke="#444" stroke-width="0.6"/>
<text x="77.9" y="453.1" font-size="4.6" text-anchor="middle" fill="#333">P &lt; 2.22e−16</text>
<path d="M62 446.6 V445 H109.3 V446.6" fill="none" stroke="#444" stroke-width="0.6"/>
<text x="85.7" y="443.8" font-size="4.6" text-anchor="middle" fill="#333">P &lt; 2.22e−16</text>
<text x="156.6" y="435.9" font-size="7.2" text-anchor="middle">H3K4me3</text>
<line x1="123.6" y1="441.5" x2="123.6" y2="506.7" stroke="#231f20" stroke-width="0.9"/>
<line x1="123.6" y1="506.7" x2="189.1" y2="506.7" stroke="#231f20" stroke-width="0.9"/>
<line x1="121" y1="443.5" x2="123.6" y2="443.5" stroke="#231f20" stroke-width="0.8"/>
<line x1="121" y1="458.5" x2="123.6" y2="458.5" stroke="#231f20" stroke-width="0.8"/>
<line x1="121" y1="473.5" x2="123.6" y2="473.5" stroke="#231f20" stroke-width="0.8"/>
<line x1="121" y1="488.5" x2="123.6" y2="488.5" stroke="#231f20" stroke-width="0.8"/>
<line x1="121" y1="503.5" x2="123.6" y2="503.5" stroke="#231f20" stroke-width="0.8"/>
<path d="M133.7 482.2L135.3 482.2L134.5 491.7Z" fill="url(#g282)"/>
<line x1="134.5" y1="466.7" x2="134.5" y2="468.7" stroke="#444" stroke-width="0.5"/>
<path d="M134.7 467.7 134.8 468 135.1 468.4 135.6 468.7 136.1 469 136.6 469.3 137.1 469.6 137.7 470 138.2 470.3 138.7 470.6 139.2 470.9 139.6 471.3 140 471.6 140.4 471.9 140.8 472.2 141 472.5 141.3 472.9 141.4 473.2 141.5 473.5 141.4 474.1 141.2 474.7 140.9 475.3 140.5 475.9 140.1 476.5 139.6 477.1 139.1 477.7 138.5 478.3 138 478.9 137.4 479.5 136.9 480.1 136.4 480.7 135.9 481.3 135.4 481.9 135.1 482.5 134.8 483.1 134.7 483.7 134.7 484.2 134.3 484.2 134.3 483.7 134.2 483.1 133.9 482.5 133.6 481.9 133.1 481.3 132.6 480.7 132.1 480.1 131.6 479.5 131 478.9 130.5 478.3 129.9 477.7 129.4 477.1 128.9 476.5 128.5 475.9 128.1 475.3 127.8 474.7 127.6 474.1 127.5 473.5 127.6 473.2 127.7 472.9 128 472.5 128.2 472.2 128.6 471.9 129 471.6 129.4 471.3 129.8 470.9 130.3 470.6 130.8 470.3 131.3 470 131.9 469.6 132.4 469.3 132.9 469 133.4 468.7 133.9 468.4 134.2 468 134.3 467.7Z" fill="#c8102e" stroke="#3a3a3a" stroke-width="0.3" stroke-linejoin="round"/>
<path d="M148.7 487.4L150.3 487.4L149.5 496Z" fill="url(#g283)"/>
<line x1="149.5" y1="464.3" x2="149.5" y2="469.4" stroke="#444" stroke-width="0.5"/>
<path d="M149.7 468.4 149.7 468.8 149.9 469.2 150.1 469.6 150.4 470.1 150.7 470.5 151 470.9 151.3 471.3 151.6 471.7 151.9 472.1 152.2 472.6 152.4 473 152.7 473.4 152.9 473.8 153.1 474.2 153.2 474.6 153.4 475.1 153.5 475.5 153.5 475.9 153.4 476.6 153.3 477.4 153.1 478.1 152.9 478.9 152.7 479.6 152.4 480.4 152.1 481.1 151.8 481.9 151.5 482.6 151.2 483.4 150.9 484.1 150.6 484.9 150.3 485.6 150 486.4 149.8 487.1 149.7 487.9 149.7 488.6 149.7 489.4 149.3 489.4 149.3 488.6 149.3 487.9 149.2 487.1 149 486.4 148.7 485.6 148.4 484.9 148.1 484.1 147.8 483.4 147.5 482.6 147.2 481.9 146.9 481.1 146.6 480.4 146.3 479.6 146.1 478.9 145.9 478.1 145.7 477.4 145.6 476.6 145.5 475.9 145.5 475.5 145.6 475.1 145.8 474.6 145.9 474.2 146.1 473.8 146.3 473.4 146.6 473 146.8 472.6 147.1 472.1 147.4 471.7 147.7 471.3 148 470.9 148.3 470.5 148.6 470.1 148.9 469.6 149.1 469.2 149.3 468.8 149.3 468.4Z" fill="#f7941d" stroke="#3a3a3a" stroke-width="0.3" stroke-linejoin="round"/>
<path d="M164.3 487.4L166 487.4L165.2 497.5Z" fill="url(#g284)"/>
<line x1="165.2" y1="464.7" x2="165.2" y2="469.4" stroke="#444" stroke-width="0.5"/>
<path d="M165.4 468.4 165.4 468.8 165.8 469.2 166.1 469.6 166.6 470.1 167 470.5 167.5 470.9 167.9 471.3 168.4 471.7 168.8 472.1 169.2 472.6 169.6 473 169.9 473.4 170.3 473.8 170.6 474.2 170.8 474.6 171 475.1 171.1 475.5 171.2 475.9 171.1 476.6 170.9 477.4 170.7 478.1 170.3 478.9 170 479.6 169.6 480.4 169.1 481.1 168.7 481.9 168.2 482.6 167.7 483.4 167.2 484.1 166.8 484.9 166.4 485.6 166 486.4 165.7 487.1 165.4 487.9 165.4 488.6 165.4 489.4 165 489.4 165 488.6 165 487.9 164.7 487.1 164.4 486.4 164 485.6 163.6 484.9 163.2 484.1 162.7 483.4 162.2 482.6 161.7 481.9 161.3 481.1 160.8 480.4 160.4 479.6 160.1 478.9 159.7 478.1 159.5 477.4 159.3 476.6 159.2 475.9 159.3 475.5 159.4 475.1 159.6 474.6 159.8 474.2 160.1 473.8 160.5 473.4 160.8 473 161.2 472.6 161.6 472.1 162 471.7 162.5 471.3 162.9 470.9 163.4 470.5 163.8 470.1 164.3 469.6 164.6 469.2 165 468.8 165 468.4Z" fill="#29a9e1" stroke="#3a3a3a" stroke-width="0.3" stroke-linejoin="round"/>
<path d="M180.2 489.7L181.9 489.7L181.1 494.7Z" fill="url(#g285)"/>
<line x1="181.1" y1="457.1" x2="181.1" y2="472.2" stroke="#444" stroke-width="0.5"/>
<path d="M181.3 471.2 181.3 471.6 181.6 472 181.9 472.4 182.2 472.9 182.6 473.3 183 473.7 183.4 474.1 183.7 474.5 184.1 474.9 184.4 475.4 184.8 475.8 185.1 476.2 185.3 476.6 185.6 477 185.8 477.4 185.9 477.9 186 478.3 186.1 478.7 186 479.4 185.9 480.1 185.7 480.9 185.4 481.6 185.1 482.3 184.7 483 184.4 483.8 184 484.5 183.6 485.2 183.2 485.9 182.8 486.6 182.4 487.4 182.1 488.1 181.8 488.8 181.5 489.5 181.3 490.3 181.3 491 181.3 491.7 180.9 491.7 180.9 491 180.9 490.3 180.7 489.5 180.4 488.8 180.1 488.1 179.8 487.4 179.4 486.6 179 485.9 178.6 485.2 178.2 484.5 177.8 483.8 177.5 483 177.1 482.3 176.8 481.6 176.5 480.9 176.3 480.1 176.2 479.4 176.1 478.7 176.2 478.3 176.3 477.9 176.4 477.4 176.6 477 176.9 476.6 177.1 476.2 177.4 475.8 177.8 475.4 178.1 474.9 178.5 474.5 178.8 474.1 179.2 473.7 179.6 473.3 180 472.9 180.3 472.4 180.6 472 180.9 471.6 180.9 471.2Z" fill="#8e7cc3" stroke="#3a3a3a" stroke-width="0.3" stroke-linejoin="round"/>
<path d="M134.5 466.2 V464.6 H149.5 V466.2" fill="none" stroke="#444" stroke-width="0.6"/>
<text x="135.3" y="463.4" font-size="4.6" fill="#333">9.8e−11</text>
<path d="M134.5 455.9 V454.3 H165.2 V455.9" fill="none" stroke="#444" stroke-width="0.6"/>
<text x="149.8" y="453.1" font-size="4.6" text-anchor="middle" fill="#333">P &lt; 2.22e−16</text>
<path d="M134.5 446.6 V445 H181.1 V446.6" fill="none" stroke="#444" stroke-width="0.6"/>
<text x="157.8" y="443.8" font-size="4.6" text-anchor="middle" fill="#333">P &lt; 2.22e−16</text>
<text x="227.7" y="435.9" font-size="7.2" text-anchor="middle">BRD4</text>
<line x1="194.7" y1="441.5" x2="194.7" y2="506.7" stroke="#231f20" stroke-width="0.9"/>
<line x1="194.7" y1="506.7" x2="260.2" y2="506.7" stroke="#231f20" stroke-width="0.9"/>
<line x1="192.1" y1="443.5" x2="194.7" y2="443.5" stroke="#231f20" stroke-width="0.8"/>
<line x1="192.1" y1="458.5" x2="194.7" y2="458.5" stroke="#231f20" stroke-width="0.8"/>
<line x1="192.1" y1="473.5" x2="194.7" y2="473.5" stroke="#231f20" stroke-width="0.8"/>
<line x1="192.1" y1="488.5" x2="194.7" y2="488.5" stroke="#231f20" stroke-width="0.8"/>
<line x1="192.1" y1="503.5" x2="194.7" y2="503.5" stroke="#231f20" stroke-width="0.8"/>
<path d="M202.2 485.7L203.8 485.7L203 498.7Z" fill="url(#g282)"/>
<line x1="203" y1="465.7" x2="203" y2="468" stroke="#444" stroke-width="0.5"/>
<path d="M203.2 467 203.2 467.4 203.6 467.8 203.9 468.2 204.4 468.6 204.8 469.1 205.3 469.5 205.7 469.9 206.2 470.3 206.6 470.7 207 471.1 207.4 471.5 207.7 471.9 208.1 472.3 208.4 472.8 208.6 473.2 208.8 473.6 208.9 474 209 474.4 208.9 475.1 208.7 475.9 208.5 476.6 208.1 477.4 207.8 478.1 207.4 478.8 206.9 479.6 206.5 480.3 206 481.1 205.5 481.8 205 482.5 204.6 483.3 204.2 484 203.8 484.8 203.5 485.5 203.2 486.3 203.2 487 203.2 487.7 202.8 487.7 202.8 487 202.8 486.3 202.5 485.5 202.2 484.8 201.8 484 201.4 483.3 201 482.5 200.5 481.8 200 481.1 199.5 480.3 199.1 479.6 198.6 478.8 198.2 478.1 197.9 477.4 197.5 476.6 197.3 475.9 197.1 475.1 197 474.4 197.1 474 197.2 473.6 197.4 473.2 197.6 472.8 197.9 472.3 198.3 471.9 198.6 471.5 199 471.1 199.4 470.7 199.8 470.3 200.3 469.9 200.7 469.5 201.2 469.1 201.6 468.6 202.1 468.2 202.4 467.8 202.8 467.4 202.8 467Z" fill="#c8102e" stroke="#3a3a3a" stroke-width="0.3" stroke-linejoin="round"/>
<path d="M218 486.7L219.7 486.7L218.9 491.7Z" fill="url(#g283)"/>
<line x1="218.9" y1="467.2" x2="218.9" y2="469.5" stroke="#444" stroke-width="0.5"/>
<path d="M219.1 468.5 219.1 468.9 219.2 469.3 219.4 469.7 219.7 470.1 220 470.5 220.2 470.9 220.5 471.3 220.7 471.7 221 472.1 221.2 472.5 221.5 472.9 221.7 473.3 221.9 473.7 222 474.1 222.2 474.5 222.3 474.9 222.4 475.3 222.4 475.7 222.4 476.4 222.2 477.1 222.1 477.9 221.9 478.6 221.7 479.3 221.4 480 221.2 480.8 220.9 481.5 220.6 482.2 220.4 482.9 220.1 483.6 219.8 484.4 219.6 485.1 219.4 485.8 219.2 486.5 219.1 487.3 219.1 488 219.1 488.7 218.7 488.7 218.7 488 218.7 487.3 218.6 486.5 218.4 485.8 218.2 485.1 218 484.4 217.7 483.6 217.4 482.9 217.2 482.2 216.9 481.5 216.6 480.8 216.4 480 216.1 479.3 215.9 478.6 215.7 477.9 215.6 477.1 215.4 476.4 215.4 475.7 215.4 475.3 215.5 474.9 215.6 474.5 215.8 474.1 215.9 473.7 216.1 473.3 216.3 472.9 216.6 472.5 216.8 472.1 217.1 471.7 217.3 471.3 217.6 470.9 217.8 470.5 218.1 470.1 218.4 469.7 218.6 469.3 218.7 468.9 218.7 468.5Z" fill="#f7941d" stroke="#3a3a3a" stroke-width="0.3" stroke-linejoin="round"/>
<path d="M233.8 487.9L235.5 487.9L234.7 497.5Z" fill="url(#g284)"/>
<line x1="234.7" y1="465.7" x2="234.7" y2="469.9" stroke="#444" stroke-width="0.5"/>
<path d="M234.9 468.9 234.9 469.3 235.2 469.7 235.6 470.1 236 470.6 236.4 471 236.8 471.4 237.2 471.8 237.6 472.2 238 472.6 238.4 473.1 238.7 473.5 239 473.9 239.3 474.3 239.6 474.7 239.8 475.1 240 475.6 240.1 476 240.2 476.4 240.1 477.1 240 477.9 239.7 478.6 239.4 479.4 239.1 480.1 238.7 480.9 238.3 481.6 237.9 482.4 237.4 483.1 237 483.9 236.6 484.6 236.2 485.4 235.8 486.1 235.4 486.9 235.1 487.6 234.9 488.4 234.9 489.1 234.9 489.9 234.5 489.9 234.5 489.1 234.5 488.4 234.3 487.6 234 486.9 233.6 486.1 233.2 485.4 232.8 484.6 232.4 483.9 232 483.1 231.5 482.4 231.1 481.6 230.7 480.9 230.3 480.1 230 479.4 229.7 478.6 229.4 477.9 229.3 477.1 229.2 476.4 229.3 476 229.4 475.6 229.6 475.1 229.8 474.7 230.1 474.3 230.4 473.9 230.7 473.5 231 473.1 231.4 472.6 231.8 472.2 232.2 471.8 232.6 471.4 233 471 233.4 470.6 233.8 470.1 234.2 469.7 234.5 469.3 234.5 468.9Z" fill="#29a9e1" stroke="#3a3a3a" stroke-width="0.3" stroke-linejoin="round"/>
<path d="M249.4 488.7L251.1 488.7L250.3 493.7Z" fill="url(#g285)"/>
<line x1="250.3" y1="464.9" x2="250.3" y2="472.2" stroke="#444" stroke-width="0.5"/>
<path d="M250.5 471.2 250.5 471.6 250.7 472 250.9 472.4 251.2 472.9 251.5 473.3 251.8 473.7 252.1 474.1 252.4 474.5 252.7 474.9 253 475.4 253.2 475.8 253.5 476.2 253.7 476.6 253.9 477 254 477.4 254.2 477.9 254.3 478.3 254.3 478.7 254.2 479.4 254.1 480 253.9 480.7 253.7 481.4 253.5 482 253.2 482.7 252.9 483.4 252.6 484 252.3 484.7 252 485.4 251.7 486 251.4 486.7 251.1 487.4 250.8 488 250.6 488.7 250.5 489.4 250.5 490 250.5 490.7 250.1 490.7 250.1 490 250.1 489.4 250 488.7 249.8 488 249.5 487.4 249.2 486.7 248.9 486 248.6 485.4 248.3 484.7 248 484 247.7 483.4 247.4 482.7 247.1 482 246.9 481.4 246.7 480.7 246.5 480 246.4 479.4 246.3 478.7 246.3 478.3 246.4 477.9 246.6 477.4 246.7 477 246.9 476.6 247.1 476.2 247.4 475.8 247.6 475.4 247.9 474.9 248.2 474.5 248.5 474.1 248.8 473.7 249.1 473.3 249.4 472.9 249.7 472.4 249.9 472 250.1 471.6 250.1 471.2Z" fill="#8e7cc3" stroke="#3a3a3a" stroke-width="0.3" stroke-linejoin="round"/>
<path d="M203 466.2 V464.6 H218.9 V466.2" fill="none" stroke="#444" stroke-width="0.6"/>
<text x="203.8" y="463.4" font-size="4.6" fill="#333">1.2e−11</text>
<path d="M203 455.9 V454.3 H234.7 V455.9" fill="none" stroke="#444" stroke-width="0.6"/>
<text x="218.8" y="453.1" font-size="4.6" text-anchor="middle" fill="#333">P &lt; 2.22e−16</text>
<path d="M203 446.6 V445 H250.3 V446.6" fill="none" stroke="#444" stroke-width="0.6"/>
<text x="226.6" y="443.8" font-size="4.6" text-anchor="middle" fill="#333">P &lt; 2.22e−16</text>
<text x="298.8" y="435.9" font-size="7.2" text-anchor="middle">ATAC</text>
<line x1="265.8" y1="441.5" x2="265.8" y2="506.7" stroke="#231f20" stroke-width="0.9"/>
<line x1="265.8" y1="506.7" x2="331.3" y2="506.7" stroke="#231f20" stroke-width="0.9"/>
<line x1="263.2" y1="443.5" x2="265.8" y2="443.5" stroke="#231f20" stroke-width="0.8"/>
<line x1="263.2" y1="458.5" x2="265.8" y2="458.5" stroke="#231f20" stroke-width="0.8"/>
<line x1="263.2" y1="473.5" x2="265.8" y2="473.5" stroke="#231f20" stroke-width="0.8"/>
<line x1="263.2" y1="488.5" x2="265.8" y2="488.5" stroke="#231f20" stroke-width="0.8"/>
<line x1="263.2" y1="503.5" x2="265.8" y2="503.5" stroke="#231f20" stroke-width="0.8"/>
<path d="M274.8 485.7L276.5 485.7L275.7 501.7Z" fill="url(#g282)"/>
<line x1="275.7" y1="465.7" x2="275.7" y2="468" stroke="#444" stroke-width="0.5"/>
<path d="M275.9 467 275.9 467.4 276.3 467.8 276.7 468.2 277.2 468.6 277.7 469.1 278.1 469.5 278.6 469.9 279.1 470.3 279.6 470.7 280 471.1 280.4 471.5 280.8 471.9 281.2 472.3 281.5 472.8 281.8 473.2 282 473.6 282.1 474 282.2 474.4 282.1 475.1 281.9 475.9 281.6 476.6 281.3 477.4 280.9 478.1 280.4 478.8 279.9 479.6 279.4 480.3 278.9 481.1 278.4 481.8 277.9 482.5 277.4 483.3 277 484 276.6 484.8 276.2 485.5 276 486.3 275.9 487 275.9 487.7 275.5 487.7 275.5 487 275.4 486.3 275.2 485.5 274.8 484.8 274.4 484 274 483.3 273.5 482.5 273 481.8 272.5 481.1 272 480.3 271.5 479.6 271 478.8 270.5 478.1 270.1 477.4 269.8 476.6 269.5 475.9 269.3 475.1 269.2 474.4 269.3 474 269.4 473.6 269.6 473.2 269.9 472.8 270.2 472.3 270.6 471.9 271 471.5 271.4 471.1 271.8 470.7 272.3 470.3 272.8 469.9 273.3 469.5 273.7 469.1 274.2 468.6 274.7 468.2 275.1 467.8 275.5 467.4 275.5 467Z" fill="#c8102e" stroke="#3a3a3a" stroke-width="0.3" stroke-linejoin="round"/>
<path d="M290.1 490.2L291.8 490.2L291 498.7Z" fill="url(#g283)"/>
<line x1="291" y1="468.7" x2="291" y2="472.2" stroke="#444" stroke-width="0.5"/>
<path d="M291.2 471.2 291.2 471.6 291.4 472 291.7 472.4 292 472.9 292.4 473.3 292.7 473.7 293 474.1 293.4 474.5 293.7 474.9 294 475.4 294.3 475.8 294.6 476.2 294.8 476.6 295 477 295.2 477.4 295.4 477.9 295.5 478.3 295.5 478.7 295.4 479.4 295.3 480.2 295.1 480.9 294.9 481.7 294.6 482.4 294.3 483.2 293.9 483.9 293.6 484.7 293.2 485.4 292.9 486.2 292.5 486.9 292.2 487.7 291.9 488.4 291.6 489.2 291.4 489.9 291.2 490.7 291.2 491.4 291.2 492.2 290.8 492.2 290.8 491.4 290.8 490.7 290.6 489.9 290.4 489.2 290.1 488.4 289.8 487.7 289.5 486.9 289.1 486.2 288.8 485.4 288.4 484.7 288.1 483.9 287.7 483.2 287.4 482.4 287.1 481.7 286.9 480.9 286.7 480.2 286.6 479.4 286.5 478.7 286.5 478.3 286.6 477.9 286.8 477.4 287 477 287.2 476.6 287.4 476.2 287.7 475.8 288 475.4 288.3 474.9 288.6 474.5 289 474.1 289.3 473.7 289.6 473.3 290 472.9 290.3 472.4 290.6 472 290.8 471.6 290.8 471.2Z" fill="#f7941d" stroke="#3a3a3a" stroke-width="0.3" stroke-linejoin="round"/>
<path d="M305.9 487.9L307.6 487.9L306.8 498.7Z" fill="url(#g284)"/>
<line x1="306.8" y1="465.7" x2="306.8" y2="469.9" stroke="#444" stroke-width="0.5"/>
<path d="M307 468.9 307 469.3 307.4 469.7 307.8 470.1 308.3 470.6 308.8 471 309.2 471.4 309.7 471.8 310.2 472.2 310.7 472.6 311.1 473.1 311.5 473.5 311.9 473.9 312.3 474.3 312.6 474.7 312.9 475.1 313.1 475.6 313.2 476 313.3 476.4 313.2 477.1 313 477.9 312.7 478.6 312.4 479.4 312 480.1 311.5 480.9 311 481.6 310.5 482.4 310 483.1 309.5 483.9 309 484.6 308.5 485.4 308.1 486.1 307.7 486.9 307.3 487.6 307.1 488.4 307 489.1 307 489.9 306.6 489.9 306.6 489.1 306.5 488.4 306.3 487.6 305.9 486.9 305.5 486.1 305.1 485.4 304.6 484.6 304.1 483.9 303.6 483.1 303.1 482.4 302.6 481.6 302.1 480.9 301.6 480.1 301.2 479.4 300.9 478.6 300.6 477.9 300.4 477.1 300.3 476.4 300.4 476 300.5 475.6 300.7 475.1 301 474.7 301.3 474.3 301.7 473.9 302.1 473.5 302.5 473.1 302.9 472.6 303.4 472.2 303.9 471.8 304.4 471.4 304.8 471 305.3 470.6 305.8 470.1 306.2 469.7 306.6 469.3 306.6 468.9Z" fill="#29a9e1" stroke="#3a3a3a" stroke-width="0.3" stroke-linejoin="round"/>
<path d="M321.8 487.4L323.5 487.4L322.7 500.5Z" fill="url(#g285)"/>
<line x1="322.7" y1="460.7" x2="322.7" y2="469.4" stroke="#444" stroke-width="0.5"/>
<path d="M322.9 468.4 322.9 468.8 323.2 469.2 323.5 469.6 323.8 470.1 324.2 470.5 324.6 470.9 325 471.3 325.3 471.7 325.7 472.1 326 472.6 326.4 473 326.7 473.4 326.9 473.8 327.2 474.2 327.4 474.6 327.5 475.1 327.6 475.5 327.7 475.9 327.6 476.6 327.5 477.4 327.3 478.1 327 478.9 326.7 479.6 326.3 480.4 326 481.1 325.6 481.9 325.2 482.6 324.8 483.4 324.4 484.1 324 484.9 323.7 485.6 323.4 486.4 323.1 487.1 322.9 487.9 322.9 488.6 322.9 489.4 322.5 489.4 322.5 488.6 322.5 487.9 322.3 487.1 322 486.4 321.7 485.6 321.4 484.9 321 484.1 320.6 483.4 320.2 482.6 319.8 481.9 319.4 481.1 319.1 480.4 318.7 479.6 318.4 478.9 318.1 478.1 317.9 477.4 317.8 476.6 317.7 475.9 317.8 475.5 317.9 475.1 318 474.6 318.2 474.2 318.5 473.8 318.7 473.4 319 473 319.4 472.6 319.7 472.1 320.1 471.7 320.4 471.3 320.8 470.9 321.2 470.5 321.6 470.1 321.9 469.6 322.2 469.2 322.5 468.8 322.5 468.4Z" fill="#8e7cc3" stroke="#3a3a3a" stroke-width="0.3" stroke-linejoin="round"/>
<path d="M275.7 466.2 V464.6 H291 V466.2" fill="none" stroke="#444" stroke-width="0.6"/>
<text x="271.2" y="463.4" font-size="4.6" fill="#333">P &lt; 2.22e−16</text>
<path d="M275.7 455.9 V454.3 H306.8 V455.9" fill="none" stroke="#444" stroke-width="0.6"/>
<text x="291.2" y="453.1" font-size="4.6" text-anchor="middle" fill="#333">3.2e−15</text>
<path d="M275.7 446.6 V445 H322.7 V446.6" fill="none" stroke="#444" stroke-width="0.6"/>
<text x="299.2" y="443.8" font-size="4.6" text-anchor="middle" fill="#333">3.9e−10</text>
<text x="338.4" y="252.6" font-size="10.8" font-weight="bold">E</text>
<text x="346" y="352.8" font-size="8" text-anchor="middle" fill="#4a4a4a" textLength="56" lengthAdjust="spacingAndGlyphs" transform="rotate(-90 346 352.8)">H3K27me3 density</text>
<path d="M371.4 302.3V300.9H373.7V302.3M373.7 302.3V300.2H376V302.3M376 302.3V300.8H378.3V302.3M378.3 302.3V300.5H380.6V302.3M380.6 302.3V300.4H382.9V302.3M382.9 302.3V299.7H385.1V302.3M385.1 302.3V299.1H387.4V302.3M387.4 302.3V297.4H389.7V302.3M389.7 302.3V299.5H392V302.3M392 302.3V296.1H394.3V302.3M394.3 302.3V295.3H396.5V302.3M396.5 302.3V294.3H398.8V302.3M398.8 302.3V293.2H401.1V302.3M401.1 302.3V291.6H403.4V302.3M403.4 302.3V293.1H405.7V302.3M405.7 302.3V288.4H408V302.3M408 302.3V285.6H410.2V302.3M410.2 302.3V286.7H412.5V302.3M412.5 302.3V290.3H414.8V302.3M414.8 302.3V288H417.1V302.3M417.1 302.3V290.2H419.4V302.3M419.4 302.3V279H421.6V302.3M421.6 302.3V280.9H423.9V302.3M423.9 302.3V282H426.2V302.3M426.2 302.3V293.4H428.5V302.3M428.5 302.3V272.4H430.8V302.3M430.8 302.3V283.1H433.1V302.3M433.1 302.3V286.7H435.3V302.3M435.3 302.3V291.7H437.6V302.3M437.6 302.3V274.1H439.9V302.3M439.9 302.3V286.6H442.2V302.3M442.2 302.3V284.9H444.5V302.3M444.5 302.3V272.7H446.7V302.3M446.7 302.3V280H449V302.3M449 302.3V294.2H451.3V302.3M451.3 302.3V292H453.6V302.3M453.6 302.3V289.8H455.9V302.3M455.9 302.3V284.5H458.2V302.3M458.2 302.3V285.2H460.4V302.3M460.4 302.3V289.5H462.7V302.3M462.7 302.3V285.9H465V302.3M465 302.3V290.5H467.3V302.3M467.3 302.3V294.8H469.6V302.3M469.6 302.3V295H471.8V302.3M471.8 302.3V294.7H474.1V302.3M474.1 302.3V297.4H476.4V302.3M476.4 302.3V299.9H478.7V302.3M478.7 302.3V298H481V302.3M481 302.3V296.8H483.3V302.3M483.3 302.3V297.3H485.5V302.3M485.5 302.3V299.5H487.8V302.3M487.8 302.3V298.2H490.1V302.3M490.1 302.3V299.5H492.4V302.3M492.4 302.3V300H494.7V302.3M494.7 302.3V300.9H497V302.3M497 302.3V300.7H499.2V302.3" fill="#f9d3dc" stroke="#c0142e" stroke-width="0.3" stroke-opacity="0.7"/>
<path d="M371.9 301.5 373.5 301.4 375.1 301.3 376.7 301.1 378.3 301 379.9 300.8 381.5 300.7 383.1 300.4 384.6 300.2 386.2 300 387.8 299.7 389.4 299.4 391 299 392.6 298.6 394.2 298.2 395.8 297.8 397.4 297.3 398.9 296.8 400.5 296.2 402.1 295.6 403.7 295 405.3 294.4 406.9 293.8 408.5 293.1 410.1 292.4 411.7 291.7 413.3 291 414.8 290.3 416.4 289.6 418 289 419.6 288.3 421.2 287.7 422.8 287.1 424.4 286.6 426 286.1 427.6 285.6 429.1 285.2 430.7 284.9 432.3 284.7 433.9 284.5 435.5 284.4 437.1 284.3 438.7 284.4 440.3 284.5 441.9 284.7 443.4 284.9 445 285.2 446.6 285.6 448.2 286 449.8 286.5 451.4 287.1 453 287.7 454.6 288.3 456.2 288.9 457.7 289.6 459.3 290.3 460.9 291 462.5 291.7 464.1 292.4 465.7 293.1 467.3 293.7 468.9 294.4 470.5 295 472.1 295.6 473.6 296.2 475.2 296.7 476.8 297.3 478.4 297.7 480 298.2 481.6 298.6 483.2 299 484.8 299.3 486.4 299.7 487.9 299.9 489.5 300.2 491.1 300.4 492.7 300.6 494.3 300.8 495.9 301 497.5 301.1 499.1 301.3" fill="none" stroke="#c0142e" stroke-width="1.1"/>
<line x1="435.5" y1="260.8" x2="435.5" y2="303.1" stroke="#222" stroke-width="0.9" stroke-dasharray="1.3 1.1"/>
<rect x="362" y="260.3" width="145.8" height="43.3" fill="none" stroke="#231f20" stroke-width="0.9"/>
<text x="368.8" y="271.3" font-size="6.4" fill="#c0142e">KO</text>
<line x1="360.5" y1="270.2" x2="362" y2="270.2" stroke="#231f20" stroke-width="0.8"/>
<text x="359.5" y="272.4" font-size="6.5" text-anchor="end">1.0</text>
<line x1="360.5" y1="286.2" x2="362" y2="286.2" stroke="#231f20" stroke-width="0.8"/>
<text x="359.5" y="288.4" font-size="6.5" text-anchor="end">0.5</text>
<line x1="360.5" y1="302.3" x2="362" y2="302.3" stroke="#231f20" stroke-width="0.8"/>
<text x="359.5" y="304.5" font-size="6.5" text-anchor="end">0.0</text>
<path d="M371.4 349.3V346.3H373.7V349.3M373.7 349.3V346.9H376V349.3M376 349.3V346.1H378.3V349.3M378.3 349.3V345.8H380.6V349.3M380.6 349.3V345.2H382.9V349.3M382.9 349.3V344.2H385.1V349.3M385.1 349.3V346.8H387.4V349.3M387.4 349.3V345.4H389.7V349.3M389.7 349.3V344.4H392V349.3M392 349.3V342.8H394.3V349.3M394.3 349.3V340.1H396.5V349.3M396.5 349.3V343.9H398.8V349.3M398.8 349.3V343.9H401.1V349.3M401.1 349.3V336.7H403.4V349.3M403.4 349.3V340.3H405.7V349.3M405.7 349.3V333.7H408V349.3M408 349.3V331.6H410.2V349.3M410.2 349.3V342.9H412.5V349.3M412.5 349.3V336.3H414.8V349.3M414.8 349.3V338.7H417.1V349.3M417.1 349.3V331.3H419.4V349.3M419.4 349.3V339.9H421.6V349.3M421.6 349.3V340.3H423.9V349.3M423.9 349.3V338.8H426.2V349.3M426.2 349.3V323.5H428.5V349.3M428.5 349.3V323.1H430.8V349.3M430.8 349.3V326.4H433.1V349.3M433.1 349.3V322.3H435.3V349.3M435.3 349.3V338.3H437.6V349.3M437.6 349.3V334.1H439.9V349.3M439.9 349.3V322.7H442.2V349.3M442.2 349.3V337.3H444.5V349.3M444.5 349.3V336.1H446.7V349.3M446.7 349.3V324.6H449V349.3M449 349.3V329.6H451.3V349.3M451.3 349.3V320.8H453.6V349.3M453.6 349.3V325.6H455.9V349.3M455.9 349.3V339.1H458.2V349.3M458.2 349.3V326.1H460.4V349.3M460.4 349.3V330.9H462.7V349.3M462.7 349.3V329.2H465V349.3M465 349.3V338.2H467.3V349.3M467.3 349.3V340.6H469.6V349.3M469.6 349.3V336.2H471.8V349.3M471.8 349.3V335.8H474.1V349.3M474.1 349.3V338.9H476.4V349.3M476.4 349.3V339.4H478.7V349.3M478.7 349.3V340.8H481V349.3M481 349.3V339.2H483.3V349.3M483.3 349.3V340.9H485.5V349.3M485.5 349.3V346.2H487.8V349.3M487.8 349.3V345.5H490.1V349.3M490.1 349.3V345.4H492.4V349.3M492.4 349.3V343.6H494.7V349.3M494.7 349.3V346.2H497V349.3M497 349.3V346H499.2V349.3" fill="#fde5c4" stroke="#f09a28" stroke-width="0.3" stroke-opacity="0.7"/>
<path d="M371.9 347.7 373.5 347.6 375.1 347.4 376.7 347.2 378.3 347 379.9 346.8 381.5 346.6 383.1 346.3 384.6 346.1 386.2 345.8 387.8 345.4 389.4 345.1 391 344.7 392.6 344.4 394.2 344 395.8 343.5 397.4 343.1 398.9 342.6 400.5 342.2 402.1 341.7 403.7 341.2 405.3 340.6 406.9 340.1 408.5 339.5 410.1 339 411.7 338.4 413.3 337.9 414.8 337.3 416.4 336.8 418 336.2 419.6 335.7 421.2 335.2 422.8 334.7 424.4 334.2 426 333.7 427.6 333.3 429.1 332.9 430.7 332.5 432.3 332.2 433.9 331.9 435.5 331.6 437.1 331.4 438.7 331.2 440.3 331.1 441.9 331 443.4 331 445 331 446.6 331.1 448.2 331.3 449.8 331.5 451.4 331.8 453 332.2 454.6 332.6 456.2 333.1 457.7 333.6 459.3 334.1 460.9 334.7 462.5 335.3 464.1 336 465.7 336.6 467.3 337.3 468.9 338 470.5 338.7 472.1 339.3 473.6 340 475.2 340.7 476.8 341.3 478.4 341.9 480 342.5 481.6 343.1 483.2 343.6 484.8 344.1 486.4 344.6 487.9 345 489.5 345.5 491.1 345.8 492.7 346.2 494.3 346.5 495.9 346.8 497.5 347.1 499.1 347.3" fill="none" stroke="#f09a28" stroke-width="1.1"/>
<line x1="435.5" y1="307.8" x2="435.5" y2="350.1" stroke="#222" stroke-width="0.9" stroke-dasharray="1.3 1.1"/>
<rect x="362" y="307.3" width="145.8" height="43.3" fill="none" stroke="#231f20" stroke-width="0.9"/>
<text x="368.8" y="318.3" font-size="6.4" fill="#f09a28">R1446C</text>
<line x1="360.5" y1="317.2" x2="362" y2="317.2" stroke="#231f20" stroke-width="0.8"/>
<text x="359.5" y="319.4" font-size="6.5" text-anchor="end">1.0</text>
<line x1="360.5" y1="333.2" x2="362" y2="333.2" stroke="#231f20" stroke-width="0.8"/>
<text x="359.5" y="335.4" font-size="6.5" text-anchor="end">0.5</text>
<line x1="360.5" y1="349.3" x2="362" y2="349.3" stroke="#231f20" stroke-width="0.8"/>
<text x="359.5" y="351.5" font-size="6.5" text-anchor="end">0.0</text>
<path d="M371.4 396.2V395H373.7V396.2M373.7 396.2V395.1H376V396.2M376 396.2V395.6H378.3V396.2M378.3 396.2V395.2H380.6V396.2M380.6 396.2V395.6H382.9V396.2M382.9 396.2V395.3H385.1V396.2M385.1 396.2V395H387.4V396.2M387.4 396.2V395.6H389.7V396.2M389.7 396.2V395.6H392V396.2M392 396.2V395.6H394.3V396.2M394.3 396.2V395.6H396.5V396.2M396.5 396.2V395.3H398.8V396.2M398.8 396.2V395.6H401.1V396.2M401.1 396.2V395.6H403.4V396.2M403.4 396.2V395.1H405.7V396.2M405.7 396.2V394.8H408V396.2M408 396.2V395.6H410.2V396.2M410.2 396.2V395.5H412.5V396.2M412.5 396.2V394.4H414.8V396.2M414.8 396.2V395.1H417.1V396.2M417.1 396.2V394.6H419.4V396.2M419.4 396.2V393H421.6V396.2M421.6 396.2V393.1H423.9V396.2M423.9 396.2V389.7H426.2V396.2M426.2 396.2V388.7H428.5V396.2M428.5 396.2V391.9H430.8V396.2M430.8 396.2V391.7H433.1V396.2M433.1 396.2V390.7H435.3V396.2M435.3 396.2V387.3H437.6V396.2M437.6 396.2V376.5H439.9V396.2M439.9 396.2V369.9H442.2V396.2M442.2 396.2V384.1H444.5V396.2M444.5 396.2V366.7H446.7V396.2M446.7 396.2V363.7H449V396.2M449 396.2V361.4H451.3V396.2M451.3 396.2V383H453.6V396.2M453.6 396.2V360.7H455.9V396.2M455.9 396.2V359.5H458.2V396.2M458.2 396.2V375.1H460.4V396.2M460.4 396.2V357.5H462.7V396.2M462.7 396.2V379.5H465V396.2M465 396.2V383.9H467.3V396.2M467.3 396.2V378.8H469.6V396.2M469.6 396.2V369.5H471.8V396.2M471.8 396.2V383.9H474.1V396.2M474.1 396.2V376.3H476.4V396.2M476.4 396.2V388.8H478.7V396.2M478.7 396.2V378.1H481V396.2M481 396.2V384.9H483.3V396.2M483.3 396.2V382.8H485.5V396.2M485.5 396.2V388.2H487.8V396.2M487.8 396.2V390.7H490.1V396.2M490.1 396.2V391.1H492.4V396.2M492.4 396.2V392.9H494.7V396.2M494.7 396.2V394H497V396.2M497 396.2V392.6H499.2V396.2" fill="#d3ecf9" stroke="#2a9fd8" stroke-width="0.3" stroke-opacity="0.7"/>
<path d="M371.9 395.9 373.5 395.9 375.1 395.9 376.7 395.9 378.3 395.9 379.9 395.9 381.5 395.9 383.1 395.9 384.6 395.9 386.2 395.9 387.8 395.9 389.4 395.9 391 395.9 392.6 395.9 394.2 395.9 395.8 395.9 397.4 395.9 398.9 395.9 400.5 395.8 402.1 395.8 403.7 395.8 405.3 395.8 406.9 395.7 408.5 395.7 410.1 395.6 411.7 395.5 413.3 395.4 414.8 395.2 416.4 395 418 394.7 419.6 394.4 421.2 394 422.8 393.5 424.4 393 426 392.3 427.6 391.6 429.1 390.7 430.7 389.7 432.3 388.6 433.9 387.4 435.5 386.1 437.1 384.7 438.7 383.3 440.3 381.8 441.9 380.3 443.4 378.8 445 377.4 446.6 376 448.2 374.8 449.8 373.7 451.4 372.8 453 372.2 454.6 371.7 456.2 371.5 457.7 371.5 459.3 371.7 460.9 372.2 462.5 372.7 464.1 373.5 465.7 374.4 467.3 375.4 468.9 376.5 470.5 377.7 472.1 379 473.6 380.3 475.2 381.6 476.8 382.9 478.4 384.2 480 385.4 481.6 386.6 483.2 387.7 484.8 388.7 486.4 389.7 487.9 390.5 489.5 391.3 491.1 392 492.7 392.6 494.3 393.2 495.9 393.6 497.5 394 499.1 394.4" fill="none" stroke="#2a9fd8" stroke-width="1.1"/>
<line x1="435.5" y1="354.7" x2="435.5" y2="397" stroke="#222" stroke-width="0.9" stroke-dasharray="1.3 1.1"/>
<rect x="362" y="354.2" width="145.8" height="43.3" fill="none" stroke="#231f20" stroke-width="0.9"/>
<text x="368.8" y="365.2" font-size="6.4" fill="#2a9fd8">Y1482N</text>
<line x1="360.5" y1="364.1" x2="362" y2="364.1" stroke="#231f20" stroke-width="0.8"/>
<text x="359.5" y="366.3" font-size="6.5" text-anchor="end">1.0</text>
<line x1="360.5" y1="380.1" x2="362" y2="380.1" stroke="#231f20" stroke-width="0.8"/>
<text x="359.5" y="382.3" font-size="6.5" text-anchor="end">0.5</text>
<line x1="360.5" y1="396.2" x2="362" y2="396.2" stroke="#231f20" stroke-width="0.8"/>
<text x="359.5" y="398.4" font-size="6.5" text-anchor="end">0.0</text>
<path d="M371.4 443V441.9H373.7V443M373.7 443V442.3H376V443M376 443V442H378.3V443M378.3 443V442.4H380.6V443M380.6 443V442.1H382.9V443M382.9 443V442.4H385.1V443M385.1 443V442.2H387.4V443M387.4 443V441.7H389.7V443M389.7 443V441.7H392V443M392 443V441.7H394.3V443M394.3 443V441.4H396.5V443M396.5 443V441.5H398.8V443M398.8 443V442.3H401.1V443M401.1 443V440.6H403.4V443M403.4 443V440.8H405.7V443M405.7 443V440H408V443M408 443V438.8H410.2V443M410.2 443V440.2H412.5V443M412.5 443V440.3H414.8V443M414.8 443V437.5H417.1V443M417.1 443V436.4H419.4V443M419.4 443V432.1H421.6V443M421.6 443V432.9H423.9V443M423.9 443V435.9H426.2V443M426.2 443V424.4H428.5V443M428.5 443V433.5H430.8V443M430.8 443V431.9H433.1V443M433.1 443V420.6H435.3V443M435.3 443V421.8H437.6V443M437.6 443V423.6H439.9V443M439.9 443V433.1H442.2V443M442.2 443V432.4H444.5V443M444.5 443V411.4H446.7V443M446.7 443V423.9H449V443M449 443V418.3H451.3V443M451.3 443V428.8H453.6V443M453.6 443V421.8H455.9V443M455.9 443V420H458.2V443M458.2 443V407.9H460.4V443M460.4 443V429.2H462.7V443M462.7 443V420.1H465V443M465 443V417.4H467.3V443M467.3 443V423.6H469.6V443M469.6 443V416.1H471.8V443M471.8 443V425.3H474.1V443M474.1 443V429.2H476.4V443M476.4 443V431.2H478.7V443M478.7 443V436.3H481V443M481 443V426.6H483.3V443M483.3 443V433H485.5V443M485.5 443V431.4H487.8V443M487.8 443V436.2H490.1V443M490.1 443V438.3H492.4V443M492.4 443V440.5H494.7V443M494.7 443V439.9H497V443M497 443V438.5H499.2V443" fill="#e6e2f3" stroke="#8a7fc0" stroke-width="0.3" stroke-opacity="0.7"/>
<path d="M371.9 442.7 373.5 442.7 375.1 442.7 376.7 442.7 378.3 442.7 379.9 442.6 381.5 442.6 383.1 442.6 384.6 442.6 386.2 442.6 387.8 442.5 389.4 442.5 391 442.5 392.6 442.4 394.2 442.3 395.8 442.2 397.4 442.1 398.9 442 400.5 441.8 402.1 441.7 403.7 441.4 405.3 441.2 406.9 440.9 408.5 440.5 410.1 440.1 411.7 439.7 413.3 439.2 414.8 438.6 416.4 438 418 437.3 419.6 436.5 421.2 435.7 422.8 434.8 424.4 433.9 426 433 427.6 432 429.1 431 430.7 429.9 432.3 428.9 433.9 427.9 435.5 426.9 437.1 426 438.7 425.1 440.3 424.3 441.9 423.6 443.4 423 445 422.5 446.6 422.2 448.2 421.9 449.8 421.8 451.4 421.8 453 422 454.6 422.1 456.2 422.4 457.7 422.8 459.3 423.2 460.9 423.7 462.5 424.3 464.1 424.9 465.7 425.6 467.3 426.3 468.9 427.1 470.5 427.9 472.1 428.7 473.6 429.5 475.2 430.3 476.8 431.2 478.4 432 480 432.8 481.6 433.5 483.2 434.3 484.8 435 486.4 435.7 487.9 436.4 489.5 437 491.1 437.5 492.7 438.1 494.3 438.6 495.9 439 497.5 439.5 499.1 439.9" fill="none" stroke="#8a7fc0" stroke-width="1.1"/>
<line x1="435.5" y1="401.5" x2="435.5" y2="443.8" stroke="#222" stroke-width="0.9" stroke-dasharray="1.3 1.1"/>
<rect x="362" y="401" width="145.8" height="43.3" fill="none" stroke="#231f20" stroke-width="0.9"/>
<text x="368.8" y="412" font-size="6.4" fill="#8a7fc0">Y1503C</text>
<line x1="360.5" y1="410.9" x2="362" y2="410.9" stroke="#231f20" stroke-width="0.8"/>
<text x="359.5" y="413.1" font-size="6.5" text-anchor="end">1.0</text>
<line x1="360.5" y1="426.9" x2="362" y2="426.9" stroke="#231f20" stroke-width="0.8"/>
<text x="359.5" y="429.1" font-size="6.5" text-anchor="end">0.5</text>
<line x1="360.5" y1="443" x2="362" y2="443" stroke="#231f20" stroke-width="0.8"/>
<text x="359.5" y="445.2" font-size="6.5" text-anchor="end">0.0</text>
<line x1="370.3" y1="444.3" x2="370.3" y2="445.9" stroke="#231f20" stroke-width="0.8"/>
<text x="370.3" y="453.8" font-size="6.6" text-anchor="middle">−2</text>
<line x1="402.9" y1="444.3" x2="402.9" y2="445.9" stroke="#231f20" stroke-width="0.8"/>
<text x="402.9" y="453.8" font-size="6.6" text-anchor="middle">−1</text>
<line x1="435.5" y1="444.3" x2="435.5" y2="445.9" stroke="#231f20" stroke-width="0.8"/>
<text x="435.5" y="453.8" font-size="6.6" text-anchor="middle">0</text>
<line x1="468.1" y1="444.3" x2="468.1" y2="445.9" stroke="#231f20" stroke-width="0.8"/>
<text x="468.1" y="453.8" font-size="6.6" text-anchor="middle">1</text>
<line x1="500.7" y1="444.3" x2="500.7" y2="445.9" stroke="#231f20" stroke-width="0.8"/>
<text x="500.7" y="453.8" font-size="6.6" text-anchor="middle">2</text>
<text x="435.7" y="465.6" font-size="8.4" text-anchor="middle" textLength="68" lengthAdjust="spacingAndGlyphs">Log2 fold-change vs WT</text>
<text x="56.8" y="526.5" font-size="10.8" font-weight="bold">D</text>
<text x="232.6" y="528" font-size="8.6" text-anchor="middle" textLength="166" lengthAdjust="spacingAndGlyphs">Primary follicular lymphoma (FL) tumor cells</text>
<text x="75.4" y="585.6" font-size="8" text-anchor="middle" textLength="81" lengthAdjust="spacingAndGlyphs" transform="rotate(-90 75.4 585.6)">H3K27Ac Log2 fold change</text>
<text x="84.4" y="585.5" font-size="8" text-anchor="middle" textLength="77" lengthAdjust="spacingAndGlyphs" transform="rotate(-90 84.4 585.5)">(relative to average of WT)</text>
<line x1="101.6" y1="533.7" x2="101.6" y2="633.7" stroke="#231f20" stroke-width="0.9"/>
<line x1="101.6" y1="633.7" x2="361.8" y2="633.7" stroke="#231f20" stroke-width="0.9"/>
<line x1="99.2" y1="537.4" x2="101.6" y2="537.4" stroke="#231f20" stroke-width="0.8"/>
<text x="97" y="539.7" font-size="6.6" text-anchor="end">2</text>
<line x1="99.2" y1="565" x2="101.6" y2="565" stroke="#231f20" stroke-width="0.8"/>
<text x="97" y="567.3" font-size="6.6" text-anchor="end">0</text>
<line x1="99.2" y1="592.6" x2="101.6" y2="592.6" stroke="#231f20" stroke-width="0.8"/>
<text x="97" y="594.9" font-size="6.6" text-anchor="end">−2</text>
<line x1="99.2" y1="620.2" x2="101.6" y2="620.2" stroke="#231f20" stroke-width="0.8"/>
<text x="97" y="622.5" font-size="6.6" text-anchor="end">−4</text>
<line x1="101.6" y1="565" x2="361.7" y2="565" stroke="#2a2a2a" stroke-width="1.2"/>
<line x1="112.4" y1="587" x2="112.4" y2="588.5" stroke="#2a2a2a" stroke-width="0.8"/>
<line x1="112.4" y1="550.2" x2="112.4" y2="551.5" stroke="#2a2a2a" stroke-width="0.8"/>
<path d="M112.6 550.5 112.6 551.3 112.6 552.1 112.8 553 113.1 553.8 113.5 554.6 113.9 555.4 114.5 556.3 115 557.1 115.7 557.9 116.3 558.7 116.9 559.5 117.6 560.4 118.2 561.2 118.8 562 119.3 562.8 119.7 563.7 120.1 564.5 120.2 565.3 120.1 566.6 119.7 567.8 119.2 569.1 118.7 570.3 118 571.6 117.4 572.9 116.7 574.1 116 575.4 115.4 576.6 114.8 577.9 114.2 579.2 113.7 580.4 113.3 581.7 113 583 112.7 584.2 112.6 585.5 112.6 586.7 112.6 588 112.2 588 112.2 586.7 112.2 585.5 112.1 584.2 111.8 583 111.5 581.7 111.1 580.4 110.6 579.2 110 577.9 109.4 576.6 108.8 575.4 108.1 574.1 107.4 572.9 106.8 571.6 106.1 570.3 105.6 569.1 105.1 567.8 104.7 566.6 104.6 565.3 104.7 564.5 105.1 563.7 105.5 562.8 106 562 106.6 561.2 107.2 560.4 107.9 559.5 108.5 558.7 109.1 557.9 109.8 557.1 110.3 556.3 110.9 555.4 111.3 554.6 111.7 553.8 112 553 112.2 552.1 112.2 551.3 112.2 550.5Z" fill="#3aaa35" stroke="#222" stroke-width="0.3" stroke-linejoin="round"/>
<line x1="130.7" y1="587" x2="130.7" y2="614.6" stroke="#2a2a2a" stroke-width="0.8"/>
<line x1="130.7" y1="546" x2="130.7" y2="551" stroke="#2a2a2a" stroke-width="0.8"/>
<path d="M130.9 550 130.9 550.8 131.1 551.6 131.4 552.5 131.7 553.3 132.1 554.1 132.6 554.9 133 555.8 133.4 556.6 133.8 557.4 134.3 558.2 134.6 559 135 559.9 135.4 560.7 135.7 561.5 135.9 562.3 136.1 563.2 136.3 564 136.3 564.8 136.3 566.1 136 567.4 135.7 568.7 135.4 570 134.9 571.2 134.5 572.5 134 573.8 133.5 575.1 133 576.4 132.6 577.7 132.1 579 131.8 580.3 131.4 581.6 131.1 582.8 130.9 584.1 130.9 585.4 130.9 586.7 130.9 588 130.5 588 130.5 586.7 130.5 585.4 130.5 584.1 130.3 582.8 130 581.6 129.6 580.3 129.3 579 128.8 577.7 128.4 576.4 127.9 575.1 127.4 573.8 126.9 572.5 126.5 571.2 126 570 125.7 568.7 125.4 567.4 125.1 566.1 125 564.8 125.1 564 125.3 563.2 125.5 562.3 125.7 561.5 126 560.7 126.4 559.9 126.8 559 127.1 558.2 127.6 557.4 128 556.6 128.4 555.8 128.8 554.9 129.3 554.1 129.7 553.3 130 552.5 130.3 551.6 130.5 550.8 130.5 550Z" fill="#3aaa35" stroke="#222" stroke-width="0.3" stroke-linejoin="round"/>
<line x1="149" y1="587" x2="149" y2="614.6" stroke="#2a2a2a" stroke-width="0.8"/>
<line x1="149" y1="546" x2="149" y2="550.5" stroke="#2a2a2a" stroke-width="0.8"/>
<path d="M149.2 549.5 149.2 550.2 149.4 551 149.7 551.8 150 552.5 150.4 553.2 150.9 554 151.3 554.8 151.7 555.5 152.1 556.2 152.6 557 152.9 557.8 153.3 558.5 153.7 559.2 154 560 154.2 560.8 154.4 561.5 154.6 562.2 154.7 563 154.6 564.4 154.3 565.8 154 567.2 153.7 568.6 153.2 569.9 152.8 571.3 152.3 572.7 151.8 574.1 151.3 575.5 150.9 576.9 150.4 578.3 150.1 579.7 149.7 581.1 149.4 582.4 149.2 583.8 149.2 585.2 149.2 586.6 149.2 588 148.8 588 148.8 586.6 148.8 585.2 148.8 583.8 148.6 582.4 148.3 581.1 147.9 579.7 147.6 578.3 147.1 576.9 146.7 575.5 146.2 574.1 145.7 572.7 145.2 571.3 144.8 569.9 144.3 568.6 144 567.2 143.7 565.8 143.4 564.4 143.3 563 143.4 562.2 143.6 561.5 143.8 560.8 144 560 144.3 559.2 144.7 558.5 145.1 557.8 145.4 557 145.9 556.2 146.3 555.5 146.7 554.8 147.1 554 147.6 553.2 148 552.5 148.3 551.8 148.6 551 148.8 550.2 148.8 549.5Z" fill="#3aaa35" stroke="#222" stroke-width="0.3" stroke-linejoin="round"/>
<line x1="167.4" y1="581" x2="167.4" y2="594.4" stroke="#2a2a2a" stroke-width="0.8"/>
<line x1="167.4" y1="549.2" x2="167.4" y2="552.5" stroke="#2a2a2a" stroke-width="0.8"/>
<path d="M167.6 551.5 167.6 552.2 167.9 552.8 168.3 553.5 168.8 554.2 169.3 554.8 169.8 555.5 170.3 556.2 170.8 556.8 171.3 557.5 171.7 558.2 172.2 558.8 172.6 559.5 173 560.2 173.3 560.8 173.6 561.5 173.9 562.2 174 562.8 174.1 563.5 174 564.5 173.8 565.6 173.5 566.6 173.1 567.6 172.7 568.6 172.2 569.7 171.7 570.7 171.1 571.7 170.6 572.8 170.1 573.8 169.6 574.8 169.1 575.8 168.6 576.9 168.2 577.9 167.9 578.9 167.6 579.9 167.6 581 167.6 582 167.2 582 167.2 581 167.2 579.9 166.9 578.9 166.6 577.9 166.2 576.9 165.7 575.8 165.2 574.8 164.7 573.8 164.2 572.8 163.7 571.7 163.1 570.7 162.6 569.7 162.1 568.6 161.7 567.6 161.3 566.6 161 565.6 160.8 564.5 160.7 563.5 160.8 562.8 160.9 562.2 161.2 561.5 161.5 560.8 161.8 560.2 162.2 559.5 162.6 558.8 163.1 558.2 163.5 557.5 164 556.8 164.5 556.2 165 555.5 165.5 554.8 166 554.2 166.5 553.5 166.9 552.8 167.2 552.2 167.2 551.5Z" fill="#3aaa35" stroke="#222" stroke-width="0.3" stroke-linejoin="round"/>
<line x1="186" y1="582" x2="186" y2="598.3" stroke="#2a2a2a" stroke-width="0.8"/>
<line x1="186" y1="548.8" x2="186" y2="552" stroke="#2a2a2a" stroke-width="0.8"/>
<path d="M186.2 551 186.2 551.7 186.6 552.4 187.1 553.1 187.6 553.8 188.2 554.5 188.8 555.2 189.4 555.9 189.9 556.6 190.5 557.2 191.1 557.9 191.6 558.6 192.1 559.3 192.6 560 193 560.7 193.3 561.4 193.6 562.1 193.8 562.8 193.8 563.5 193.7 564.6 193.5 565.7 193.1 566.8 192.7 567.8 192.2 568.9 191.6 570 191 571.1 190.4 572.2 189.8 573.2 189.1 574.3 188.5 575.4 187.9 576.5 187.4 577.6 186.9 578.7 186.6 579.8 186.3 580.8 186.2 581.9 186.2 583 185.8 583 185.8 581.9 185.7 580.8 185.4 579.8 185.1 578.7 184.6 577.6 184.1 576.5 183.5 575.4 182.9 574.3 182.2 573.2 181.6 572.2 181 571.1 180.4 570 179.8 568.9 179.3 567.8 178.9 566.8 178.5 565.7 178.3 564.6 178.2 563.5 178.2 562.8 178.4 562.1 178.7 561.4 179 560.7 179.4 560 179.9 559.3 180.4 558.6 180.9 557.9 181.5 557.2 182.1 556.6 182.6 555.9 183.2 555.2 183.8 554.5 184.4 553.8 184.9 553.1 185.4 552.4 185.8 551.7 185.8 551Z" fill="#3aaa35" stroke="#222" stroke-width="0.3" stroke-linejoin="round"/>
<line x1="204.4" y1="579.6" x2="204.4" y2="596.8" stroke="#2a2a2a" stroke-width="0.8"/>
<line x1="204.4" y1="546.2" x2="204.4" y2="553.6" stroke="#2a2a2a" stroke-width="0.8"/>
<path d="M204.6 552.6 204.8 553.3 205.1 553.9 205.5 554.6 205.8 555.2 206.2 555.9 206.6 556.6 206.9 557.2 207.3 557.9 207.7 558.5 208 559.2 208.4 559.9 208.7 560.5 209.1 561.2 209.5 561.9 209.8 562.5 210.2 563.2 210.5 563.8 210.9 564.5 210.5 565.4 210.1 566.3 209.7 567.2 209.3 568.1 208.9 569 208.6 569.9 208.2 570.8 207.8 571.7 207.4 572.5 207.1 573.4 206.7 574.3 206.3 575.2 206 576.1 205.6 577 205.3 577.9 205 578.8 204.7 579.7 204.6 580.6 204.2 580.6 204.1 579.7 203.8 578.8 203.5 577.9 203.2 577 202.8 576.1 202.5 575.2 202.1 574.3 201.7 573.4 201.4 572.5 201 571.7 200.6 570.8 200.2 569.9 199.9 569 199.5 568.1 199.1 567.2 198.7 566.3 198.3 565.4 197.9 564.5 198.3 563.8 198.6 563.2 199 562.5 199.3 561.9 199.7 561.2 200.1 560.5 200.4 559.9 200.8 559.2 201.2 558.5 201.5 557.9 201.9 557.2 202.2 556.6 202.6 555.9 203 555.2 203.3 554.6 203.7 553.9 204 553.3 204.2 552.6Z" fill="#3aaa35" stroke="#222" stroke-width="0.3" stroke-linejoin="round"/>
<line x1="222.7" y1="589" x2="222.7" y2="597.3" stroke="#2a2a2a" stroke-width="0.8"/>
<line x1="222.7" y1="538" x2="222.7" y2="542" stroke="#2a2a2a" stroke-width="0.8"/>
<path d="M222.9 541 222.9 542.5 222.9 544 223 545.5 223.3 546.9 223.6 548.4 224 549.9 224.3 551.4 224.7 552.9 225.1 554.4 225.5 555.8 225.9 557.3 226.2 558.8 226.6 560.3 226.8 561.8 227 563.2 227.2 564.7 227.3 566.2 227.3 567.7 227.3 568.9 227.2 570.2 227 571.4 226.9 572.7 226.6 573.9 226.3 575.1 226 576.4 225.7 577.6 225.3 578.9 224.9 580.1 224.5 581.3 224.1 582.6 223.8 583.8 223.4 585 223.1 586.3 222.9 587.5 222.9 588.8 222.9 590 222.5 590 222.5 588.8 222.5 587.5 222.3 586.3 222 585 221.6 583.8 221.3 582.6 220.9 581.3 220.5 580.1 220.1 578.9 219.7 577.6 219.4 576.4 219.1 575.1 218.8 573.9 218.5 572.7 218.4 571.4 218.2 570.2 218.1 568.9 218.1 567.7 218.1 566.2 218.2 564.7 218.4 563.2 218.6 561.8 218.8 560.3 219.2 558.8 219.5 557.3 219.9 555.8 220.3 554.4 220.7 552.9 221.1 551.4 221.4 549.9 221.8 548.4 222.1 546.9 222.4 545.5 222.5 544 222.5 542.5 222.5 541Z" fill="#c8102e" stroke="#222" stroke-width="0.3" stroke-linejoin="round"/>
<line x1="241" y1="577" x2="241" y2="598.4" stroke="#2a2a2a" stroke-width="0.8"/>
<line x1="241" y1="541.8" x2="241" y2="551" stroke="#2a2a2a" stroke-width="0.8"/>
<path d="M241.2 550 241.4 550.9 241.9 551.7 242.4 552.6 242.9 553.4 243.4 554.3 243.9 555.2 244.4 556 244.8 556.9 245.3 557.8 245.7 558.6 246.1 559.5 246.4 560.3 246.8 561.2 247 562.1 247.3 562.9 247.5 563.8 247.6 564.6 247.7 565.5 247.6 566.2 247.4 566.9 247.2 567.6 246.9 568.3 246.6 569 246.3 569.7 245.9 570.4 245.4 571.1 245 571.8 244.5 572.4 244 573.1 243.5 573.8 243 574.5 242.5 575.2 242 575.9 241.6 576.6 241.2 577.3 241.2 578 240.8 578 240.8 577.3 240.4 576.6 240 575.9 239.5 575.2 239 574.5 238.5 573.8 238 573.1 237.5 572.4 237 571.8 236.6 571.1 236.1 570.4 235.7 569.7 235.4 569 235.1 568.3 234.8 567.6 234.6 566.9 234.4 566.2 234.3 565.5 234.4 564.6 234.5 563.8 234.7 562.9 235 562.1 235.2 561.2 235.6 560.3 235.9 559.5 236.3 558.6 236.7 557.8 237.2 556.9 237.6 556 238.1 555.2 238.6 554.3 239.1 553.4 239.6 552.6 240.1 551.7 240.6 550.9 240.8 550Z" fill="#c8102e" stroke="#222" stroke-width="0.3" stroke-linejoin="round"/>
<line x1="259.4" y1="599" x2="259.4" y2="616" stroke="#2a2a2a" stroke-width="0.8"/>
<line x1="259.4" y1="538" x2="259.4" y2="547" stroke="#2a2a2a" stroke-width="0.8"/>
<path d="M259.6 546 259.6 547.4 259.6 548.9 259.6 550.3 259.9 551.8 260.1 553.2 260.4 554.7 260.8 556.1 261.1 557.6 261.5 559 261.9 560.4 262.2 561.9 262.6 563.3 262.9 564.8 263.1 566.2 263.3 567.7 263.5 569.1 263.6 570.6 263.6 572 263.6 573.6 263.5 575.1 263.3 576.7 263.2 578.2 262.9 579.8 262.6 581.3 262.3 582.9 262 584.4 261.6 586 261.3 587.6 260.9 589.1 260.6 590.7 260.2 592.2 259.9 593.8 259.7 595.3 259.6 596.9 259.6 598.4 259.6 600 259.2 600 259.2 598.4 259.2 596.9 259.1 595.3 258.9 593.8 258.6 592.2 258.2 590.7 257.9 589.1 257.5 587.6 257.2 586 256.8 584.4 256.5 582.9 256.2 581.3 255.9 579.8 255.6 578.2 255.5 576.7 255.3 575.1 255.2 573.6 255.2 572 255.2 570.6 255.3 569.1 255.5 567.7 255.7 566.2 255.9 564.8 256.2 563.3 256.6 561.9 256.9 560.4 257.3 559 257.7 557.6 258 556.1 258.4 554.7 258.7 553.2 258.9 551.8 259.2 550.3 259.2 548.9 259.2 547.4 259.2 546Z" fill="#0f4c8a" stroke="#222" stroke-width="0.3" stroke-linejoin="round"/>
<line x1="277.7" y1="603" x2="277.7" y2="616.7" stroke="#2a2a2a" stroke-width="0.8"/>
<line x1="277.7" y1="538" x2="277.7" y2="547" stroke="#2a2a2a" stroke-width="0.8"/>
<path d="M277.9 546 277.9 547.6 277.9 549.2 277.9 550.8 278.1 552.4 278.3 554.1 278.6 555.7 278.9 557.3 279.2 558.9 279.6 560.5 279.9 562.1 280.2 563.7 280.5 565.3 280.8 566.9 281 568.6 281.2 570.2 281.3 571.8 281.4 573.4 281.4 575 281.4 576.6 281.3 578.2 281.2 579.8 281 581.4 280.8 583.1 280.6 584.7 280.3 586.3 280 587.9 279.7 589.5 279.3 591.1 279 592.7 278.7 594.3 278.4 595.9 278.2 597.6 278 599.2 277.9 600.8 277.9 602.4 277.9 604 277.5 604 277.5 602.4 277.5 600.8 277.4 599.2 277.2 597.6 277 595.9 276.7 594.3 276.4 592.7 276.1 591.1 275.7 589.5 275.4 587.9 275.1 586.3 274.8 584.7 274.6 583.1 274.4 581.4 274.2 579.8 274.1 578.2 274 576.6 274 575 274 573.4 274.1 571.8 274.2 570.2 274.4 568.6 274.6 566.9 274.9 565.3 275.2 563.7 275.5 562.1 275.8 560.5 276.2 558.9 276.5 557.3 276.8 555.7 277.1 554.1 277.3 552.4 277.5 550.8 277.5 549.2 277.5 547.6 277.5 546Z" fill="#0f4c8a" stroke="#222" stroke-width="0.3" stroke-linejoin="round"/>
<line x1="296.3" y1="602" x2="296.3" y2="616.5" stroke="#2a2a2a" stroke-width="0.8"/>
<line x1="296.3" y1="538" x2="296.3" y2="546" stroke="#2a2a2a" stroke-width="0.8"/>
<path d="M296.5 545 296.5 546.5 296.5 548 296.5 549.5 296.7 551 296.9 552.5 297.2 554 297.4 555.5 297.7 557 298.1 558.5 298.4 560 298.7 561.5 298.9 563 299.2 564.5 299.4 566 299.6 567.5 299.7 569 299.8 570.5 299.8 572 299.8 573.7 299.7 575.4 299.6 577.2 299.4 578.9 299.2 580.6 299 582.3 298.7 584.1 298.5 585.8 298.2 587.5 297.9 589.2 297.6 590.9 297.3 592.7 297 594.4 296.8 596.1 296.6 597.8 296.5 599.6 296.5 601.3 296.5 603 296.1 603 296.1 601.3 296.1 599.6 296 597.8 295.8 596.1 295.6 594.4 295.3 592.7 295 590.9 294.7 589.2 294.4 587.5 294.1 585.8 293.9 584.1 293.6 582.3 293.4 580.6 293.2 578.9 293 577.2 292.9 575.4 292.8 573.7 292.8 572 292.8 570.5 292.9 569 293 567.5 293.2 566 293.4 564.5 293.7 563 293.9 561.5 294.2 560 294.5 558.5 294.9 557 295.2 555.5 295.4 554 295.7 552.5 295.9 551 296.1 549.5 296.1 548 296.1 546.5 296.1 545Z" fill="#0f4c8a" stroke="#222" stroke-width="0.3" stroke-linejoin="round"/>
<line x1="314.6" y1="605" x2="314.6" y2="620.4" stroke="#2a2a2a" stroke-width="0.8"/>
<line x1="314.6" y1="538" x2="314.6" y2="547" stroke="#2a2a2a" stroke-width="0.8"/>
<path d="M314.8 546 314.8 547.6 314.8 549.2 314.8 550.8 315 552.4 315.2 554.1 315.5 555.7 315.7 557.3 316 558.9 316.4 560.5 316.7 562.1 317 563.7 317.2 565.3 317.5 566.9 317.7 568.6 317.9 570.2 318 571.8 318.1 573.4 318.1 575 318.1 576.7 318 578.4 317.9 580.2 317.7 581.9 317.5 583.6 317.3 585.3 317 587.1 316.8 588.8 316.5 590.5 316.2 592.2 315.9 593.9 315.6 595.7 315.3 597.4 315.1 599.1 314.9 600.8 314.8 602.6 314.8 604.3 314.8 606 314.4 606 314.4 604.3 314.4 602.6 314.3 600.8 314.1 599.1 313.9 597.4 313.6 595.7 313.3 593.9 313 592.2 312.7 590.5 312.4 588.8 312.2 587.1 311.9 585.3 311.7 583.6 311.5 581.9 311.3 580.2 311.2 578.4 311.1 576.7 311.1 575 311.1 573.4 311.2 571.8 311.3 570.2 311.5 568.6 311.7 566.9 312 565.3 312.2 563.7 312.5 562.1 312.8 560.5 313.2 558.9 313.5 557.3 313.7 555.7 314 554.1 314.2 552.4 314.4 550.8 314.4 549.2 314.4 547.6 314.4 546Z" fill="#0f4c8a" stroke="#222" stroke-width="0.3" stroke-linejoin="round"/>
<line x1="332.9" y1="599" x2="332.9" y2="608.8" stroke="#2a2a2a" stroke-width="0.8"/>
<line x1="332.9" y1="538" x2="332.9" y2="546" stroke="#2a2a2a" stroke-width="0.8"/>
<path d="M333.1 545 333.1 546.4 333.1 547.9 333.1 549.3 333.3 550.8 333.5 552.2 333.8 553.7 334 555.1 334.3 556.6 334.7 558 335 559.4 335.3 560.9 335.5 562.3 335.8 563.8 336 565.2 336.2 566.7 336.3 568.1 336.4 569.6 336.4 571 336.4 572.6 336.3 574.2 336.2 575.8 336 577.4 335.8 579.1 335.6 580.7 335.3 582.3 335.1 583.9 334.8 585.5 334.5 587.1 334.2 588.7 333.9 590.3 333.6 591.9 333.4 593.6 333.2 595.2 333.1 596.8 333.1 598.4 333.1 600 332.7 600 332.7 598.4 332.7 596.8 332.6 595.2 332.4 593.6 332.2 591.9 331.9 590.3 331.6 588.7 331.3 587.1 331 585.5 330.7 583.9 330.5 582.3 330.2 580.7 330 579.1 329.8 577.4 329.6 575.8 329.5 574.2 329.4 572.6 329.4 571 329.4 569.6 329.5 568.1 329.6 566.7 329.8 565.2 330 563.8 330.3 562.3 330.5 560.9 330.8 559.4 331.1 558 331.5 556.6 331.8 555.1 332 553.7 332.3 552.2 332.5 550.8 332.7 549.3 332.7 547.9 332.7 546.4 332.7 545Z" fill="#0f4c8a" stroke="#222" stroke-width="0.3" stroke-linejoin="round"/>
<line x1="351.2" y1="607" x2="351.2" y2="630" stroke="#2a2a2a" stroke-width="0.8"/>
<line x1="351.2" y1="538" x2="351.2" y2="547" stroke="#2a2a2a" stroke-width="0.8"/>
<path d="M351.4 546 351.4 547.5 351.4 549 351.4 550.5 351.6 552 351.8 553.5 352.1 555 352.3 556.5 352.6 558 353 559.5 353.3 561 353.6 562.5 353.8 564 354.1 565.5 354.3 567 354.5 568.5 354.6 570 354.7 571.5 354.7 573 354.7 574.9 354.6 576.9 354.5 578.8 354.3 580.8 354.1 582.7 353.9 584.7 353.6 586.6 353.4 588.6 353.1 590.5 352.8 592.4 352.5 594.4 352.2 596.3 351.9 598.3 351.7 600.2 351.5 602.2 351.4 604.1 351.4 606.1 351.4 608 351 608 351 606.1 351 604.1 350.9 602.2 350.7 600.2 350.5 598.3 350.2 596.3 349.9 594.4 349.6 592.4 349.3 590.5 349 588.6 348.8 586.6 348.5 584.7 348.3 582.7 348.1 580.8 347.9 578.8 347.8 576.9 347.7 574.9 347.7 573 347.7 571.5 347.8 570 347.9 568.5 348.1 567 348.3 565.5 348.6 564 348.8 562.5 349.1 561 349.4 559.5 349.8 558 350.1 556.5 350.3 555 350.6 553.5 350.8 552 351 550.5 351 549 351 547.5 351 546Z" fill="#0f4c8a" stroke="#222" stroke-width="0.3" stroke-linejoin="round"/>
<line x1="112.4" y1="633.7" x2="112.4" y2="635.3" stroke="#231f20" stroke-width="0.8"/>
<text x="114.2" y="644.2" font-size="7" text-anchor="end" textLength="17.5" lengthAdjust="spacingAndGlyphs" transform="rotate(-45 114.2 644.2)">FLC25</text>
<line x1="130.7" y1="633.7" x2="130.7" y2="635.3" stroke="#231f20" stroke-width="0.8"/>
<text x="132.5" y="644.2" font-size="7" text-anchor="end" textLength="17.5" lengthAdjust="spacingAndGlyphs" transform="rotate(-45 132.5 644.2)">FLC28</text>
<line x1="149" y1="633.7" x2="149" y2="635.3" stroke="#231f20" stroke-width="0.8"/>
<text x="150.8" y="644.2" font-size="7" text-anchor="end" textLength="17.5" lengthAdjust="spacingAndGlyphs" transform="rotate(-45 150.8 644.2)">FLC30</text>
<line x1="167.4" y1="633.7" x2="167.4" y2="635.3" stroke="#231f20" stroke-width="0.8"/>
<text x="169.2" y="644.2" font-size="7" text-anchor="end" textLength="17.5" lengthAdjust="spacingAndGlyphs" transform="rotate(-45 169.2 644.2)">FLC32</text>
<line x1="186" y1="633.7" x2="186" y2="635.3" stroke="#231f20" stroke-width="0.8"/>
<text x="187.8" y="644.2" font-size="7" text-anchor="end" textLength="17.5" lengthAdjust="spacingAndGlyphs" transform="rotate(-45 187.8 644.2)">FLC33</text>
<line x1="204.4" y1="633.7" x2="204.4" y2="635.3" stroke="#231f20" stroke-width="0.8"/>
<text x="206.2" y="644.2" font-size="7" text-anchor="end" textLength="17.5" lengthAdjust="spacingAndGlyphs" transform="rotate(-45 206.2 644.2)">FLC34</text>
<line x1="222.7" y1="633.7" x2="222.7" y2="635.3" stroke="#231f20" stroke-width="0.8"/>
<text x="224.5" y="644.2" font-size="7" text-anchor="end" textLength="40" lengthAdjust="spacingAndGlyphs" transform="rotate(-45 224.5 644.2)">FLC01 (T3456I)</text>
<line x1="241" y1="633.7" x2="241" y2="635.3" stroke="#231f20" stroke-width="0.8"/>
<text x="242.8" y="644.2" font-size="7" text-anchor="end" textLength="37" lengthAdjust="spacingAndGlyphs" transform="rotate(-45 242.8 644.2)">FLC09 (Q541*)</text>
<line x1="259.4" y1="633.7" x2="259.4" y2="635.3" stroke="#231f20" stroke-width="0.8"/>
<text x="261.2" y="644.2" font-size="7" text-anchor="end" textLength="42" lengthAdjust="spacingAndGlyphs" transform="rotate(-45 261.2 644.2)">FLC23 (R1446C)</text>
<line x1="277.7" y1="633.7" x2="277.7" y2="635.3" stroke="#231f20" stroke-width="0.8"/>
<text x="279.5" y="644.2" font-size="7" text-anchor="end" textLength="42" lengthAdjust="spacingAndGlyphs" transform="rotate(-45 279.5 644.2)">FLC26 (R1446C)</text>
<line x1="296.3" y1="633.7" x2="296.3" y2="635.3" stroke="#231f20" stroke-width="0.8"/>
<text x="298.1" y="644.2" font-size="7" text-anchor="end" textLength="41" lengthAdjust="spacingAndGlyphs" transform="rotate(-45 298.1 644.2)">FLC24 (Y1482C)</text>
<line x1="314.6" y1="633.7" x2="314.6" y2="635.3" stroke="#231f20" stroke-width="0.8"/>
<text x="316.4" y="644.2" font-size="7" text-anchor="end" textLength="42" lengthAdjust="spacingAndGlyphs" transform="rotate(-45 316.4 644.2)">FLC27 (Y1503N)</text>
<line x1="332.9" y1="633.7" x2="332.9" y2="635.3" stroke="#231f20" stroke-width="0.8"/>
<text x="334.7" y="644.2" font-size="7" text-anchor="end" textLength="41" lengthAdjust="spacingAndGlyphs" transform="rotate(-45 334.7 644.2)">FLC20 (L1499P)</text>
<line x1="351.2" y1="633.7" x2="351.2" y2="635.3" stroke="#231f20" stroke-width="0.8"/>
<text x="353" y="644.2" font-size="7" text-anchor="end" textLength="42" lengthAdjust="spacingAndGlyphs" transform="rotate(-45 353 644.2)">FLC31 (H1487Y)</text>
<line x1="99" y1="658.6" x2="194.6" y2="658.6" stroke="#777" stroke-width="0.8"/>
<text x="146.9" y="668.4" font-size="8.4" text-anchor="middle" textLength="28.3" lengthAdjust="spacingAndGlyphs">Wild-type</text>
<line x1="185.2" y1="677.9" x2="218.9" y2="677.9" stroke="#777" stroke-width="0.8"/>
<text x="202" y="686" font-size="8.4" text-anchor="middle" textLength="8.3" lengthAdjust="spacingAndGlyphs">KO</text>
<line x1="227.8" y1="678" x2="325.9" y2="678" stroke="#777" stroke-width="0.8"/>
<text x="276.5" y="686" font-size="8.4" text-anchor="middle" textLength="22.4" lengthAdjust="spacingAndGlyphs">KAT-PM</text>
<line x1="370.8" y1="534" x2="370.8" y2="633.6" stroke="#231f20" stroke-width="0.9"/>
<line x1="370.8" y1="633.6" x2="466.2" y2="633.6" stroke="#231f20" stroke-width="0.9"/>
<line x1="368.4" y1="537.4" x2="370.8" y2="537.4" stroke="#231f20" stroke-width="0.8"/>
<line x1="368.4" y1="565" x2="370.8" y2="565" stroke="#231f20" stroke-width="0.8"/>
<line x1="368.4" y1="592.6" x2="370.8" y2="592.6" stroke="#231f20" stroke-width="0.8"/>
<line x1="368.4" y1="620.2" x2="370.8" y2="620.2" stroke="#231f20" stroke-width="0.8"/>
<line x1="388.6" y1="548" x2="388.6" y2="611.7" stroke="#333" stroke-width="0.7"/>
<path d="M389.4 549 393.6 551 397.6 553 400.6 557 401.6 565 400.1 570 396.6 574 393.1 578 390.6 583 389.2 590 388 590 386.6 583 384.1 578 380.6 574 377.1 570 375.6 565 376.6 557 379.6 553 383.6 551 387.8 549Z" fill="#3aaa35"/>
<path d="M383.9 603.3h1M392.8 607.9h1M394.9 587.1h1M388.1 607.3h1M383 602.1h1M390.7 597.4h1M383.6 597.1h1M389.1 554.2h1M392.1 586.6h1M390.4 560.1h1M386.4 609.1h1M394.6 599.8h1M387.6 590.7h1M387.8 574.9h1M377.9 556.7h1M379.8 566.3h1M387.1 604.8h1M389.3 603.3h1M392.9 604.7h1M387.8 593.1h1M390.3 564.1h1M397.2 568.3h1M390.9 551.6h1M386.6 570h1M398.5 582.6h1M387.4 610.6h1M392.8 608.4h1M389.9 581.6h1M396.1 561.2h1M394.4 579.1h1M389.9 606.2h1M389.4 592.1h1M387.6 557.1h1M382.5 552.9h1M387.6 609.8h1M387 557.4h1M390.6 552.7h1M381.1 563.2h1M396.2 588.5h1M391.5 549.8h1M388.3 585.1h1M376.9 575.1h1M389.2 570.8h1M401.3 569.8h1M397.5 570.1h1M392.5 599.3h1M388.6 579.5h1M383.9 601.3h1M375.7 562.9h1M387.6 579.5h1M392.6 608.3h1M388.5 574.2h1M394.7 555.5h1M381.6 581.2h1M383.4 603.4h1M388 560.9h1M385.7 610.8h1M396.4 565.5h1M399.6 569.8h1M384.9 550.2h1M397.7 568.2h1M392.7 555.3h1M393.9 604h1M382.6 599h1M382.4 579h1M382.1 556.6h1M389.7 594.6h1M383.2 557.1h1M397 553.1h1M388.2 595.8h1M392.9 608.6h1M382.2 561.8h1M391.9 560.9h1M388.9 585.9h1M389 597h1M393 568.5h1M384.4 607.8h1M380.6 579.1h1M387.6 595.3h1M390.7 601h1M389.3 608.5h1M397.6 585.9h1M386.4 598.8h1M398.7 555.4h1M396.8 552.9h1M390.2 606.9h1M389.6 607.8h1M390 595.2h1M377.5 562.8h1M387.9 595.1h1M390.1 556.7h1M382.2 565.4h1M390 603.3h1M393.3 595.4h1M387.5 576.1h1M385.2 575.8h1M394 597.3h1M394.2 567.5h1M375.7 562.4h1M393.2 591.5h1M401.4 569.4h1M385.8 593.6h1M393.6 596.1h1M399 557.7h1M383.3 575.9h1M389.3 572.4h1M384.3 581.7h1M391.1 552.7h1M391.7 593.5h1M397.4 573.6h1M383.4 550.1h1M389.4 550.1h1M382.9 581.4h1M378.2 581.6h1M396.1 551.2h1M383.8 603.9h1M388.7 589.7h1M395.6 582.4h1M396.4 588.8h1M395.5 591.3h1M396.7 556.2h1M399.6 568.8h1M395 598.1h1M387 595.8h1M394.5 581.5h1M389.3 552.6h1M392.9 584.2h1M391.3 570.2h1M386.8 594.6h1M395.3 591.3h1M389.3 571.9h1M396.1 579h1M382.8 565.7h1M392.3 573.3h1M400.8 558.6h1M393.6 580.2h1M377.2 574.6h1M390.4 572.9h1M399.4 554.6h1M387.8 585.4h1M384.7 550.8h1M392.4 569.9h1M388.2 559.8h1M390.3 565.8h1M388.9 591.7h1M390.4 595.5h1M392 554.2h1M394.3 579h1M387.1 607.1h1M385.3 601.7h1M380 589.3h1M387.9 600.1h1M388.5 577.2h1M381.9 572.1h1M390.7 591.9h1M384.4 552.4h1M386.4 606.8h1M390.7 567.2h1M399.8 572.1h1M385.5 609.9h1M379.9 562.9h1M383.6 576.6h1M395.1 590.8h1M379 553.4h1M383.9 556h1M386.9 557.3h1M394.3 571.5h1M392.9 609h1M392 575.1h1M391.4 557.2h1" stroke="#3aaa35" stroke-width="1" fill="none"/>
<path d="M394.8 571.6h1M382.8 555.9h1M391.7 571.9h1M380.6 569h1M378.5 566h1M394.2 568.5h1M379 559.8h1M398.1 568.4h1M385.8 566h1M394.7 559.9h1M386.6 573.3h1M397.7 557.6h1M387.4 562h1M392.9 559.5h1M388.2 573.6h1M386.9 571h1M394.8 561.9h1M392.3 573.4h1M395 567.8h1M395.6 572.3h1M386.2 564.2h1M389 553.1h1M378.7 560.5h1M385.9 573.9h1M381.2 572.6h1M394.2 560.6h1M392.1 567.1h1M380 563.3h1M393.1 570.5h1M389.9 563h1M388.5 569.9h1M388.3 563h1M393.1 568.5h1M394 560h1M392.1 560.9h1M396.6 560.9h1M392.8 572.7h1M385.6 561h1M390.8 562.1h1M389.3 553.7h1" stroke="#ffffff" stroke-width="1" fill="none"/>
<path d="M412 591.8h1M419.8 589.6h1M421.3 595.9h1M423.8 579.4h1M410.4 561.8h1M425.5 587.4h1M412.8 579.6h1M418.9 566.5h1M418.4 558.5h1M429.1 564h1M428.7 574h1M413.5 590.6h1M416.2 582.5h1M419.9 572.2h1M414.5 580.6h1M415.9 577h1M418.5 583.2h1M429.1 575h1M408.3 553.5h1M419 589.8h1M425.6 575.1h1M416.7 589.5h1M417.2 595.2h1M425.4 579.9h1M416.9 558.4h1M415.2 558.6h1M426.1 561.3h1M426.6 540.6h1M419.8 583.6h1M414.4 574.9h1M426.2 582.1h1M418.6 559.5h1M413.5 549.9h1M421.2 587.3h1M421.6 563.4h1M408.6 547.9h1M420.2 558.1h1M419.4 547.9h1M413.6 556.2h1M415.8 580.7h1M423.7 580.8h1M408.6 559.2h1M419.6 586.7h1M422.6 571.2h1M427.4 569.4h1M425.3 537.5h1M416.6 573.4h1M424.9 590.5h1M408.1 572.2h1M416.7 573.8h1M425.7 570.9h1M425.2 544.8h1M413.4 555.3h1M412.5 539.2h1M419.2 552.8h1M413.8 592.5h1M416 554.1h1M415.5 574.8h1M411.3 576.5h1M419.9 539.6h1M411.1 579.7h1M421.3 539.8h1M425.7 540.9h1M411.5 577.7h1M409 561.2h1M416 542.2h1M425.7 588.8h1M421.4 581.4h1M418.8 571.5h1M418.5 575.7h1M425.8 560.5h1M416.6 554.8h1M428.3 577.1h1M417.2 557.3h1M412.4 560.7h1M424.7 557.9h1M418.1 548.1h1M420.2 553.8h1M410.8 582.6h1M411.7 565.7h1M422.3 575.1h1M413.1 550.1h1M415 554.9h1M424.8 589.7h1M416.5 583.7h1M412.1 564h1M428.4 564.2h1M416.7 542.4h1M425.6 548.5h1M418.3 554.8h1M421.7 540.1h1M425.2 567.3h1M423.6 579.6h1M413.5 552.5h1M409 572.3h1M421.8 592.3h1M415.6 566.1h1M419.5 541.6h1M410.9 582.6h1M421.9 542.8h1M425 564.7h1M429 561.3h1M415.5 588.5h1M420.5 568.7h1M425.5 563.6h1M425.2 578.6h1M418.7 551.9h1M420.4 569.1h1M423.2 537.9h1M411.2 563.4h1" stroke="#c8102e" stroke-width="1" fill="none"/>
<line x1="418.6" y1="537.7" x2="418.6" y2="598.3" stroke="#333" stroke-width="0.7"/>
<line x1="418.6" y1="582.8" x2="418.6" y2="583.8" stroke="#333" stroke-width="0.7"/>
<line x1="418.6" y1="546.3" x2="418.6" y2="547.3" stroke="#333" stroke-width="0.6"/>
<path d="M418.8 546.3 418.9 547.4 419.3 548.5 419.9 549.7 420.6 550.8 421.3 551.9 422 553 422.7 554.2 423.5 555.3 424.3 556.4 425 557.5 425.7 558.6 426.4 559.8 427 560.9 427.5 562 428 563.1 428.4 564.3 428.7 565.4 428.9 566.5 428.7 567.5 428.3 568.4 427.7 569.4 427 570.3 426.3 571.3 425.5 572.3 424.7 573.2 423.9 574.2 423 575.1 422.2 576.1 421.5 577.1 420.8 578 420.2 579 419.6 580 419.2 580.9 418.9 581.9 418.8 582.8 418.8 583.8 418.4 583.8 418.4 582.8 418.3 581.9 418 580.9 417.6 580 417 579 416.4 578 415.7 577.1 415 576.1 414.2 575.1 413.3 574.2 412.5 573.2 411.7 572.3 410.9 571.3 410.2 570.3 409.5 569.4 408.9 568.4 408.5 567.5 408.3 566.5 408.5 565.4 408.8 564.3 409.2 563.1 409.7 562 410.2 560.9 410.8 559.8 411.5 558.6 412.2 557.5 412.9 556.4 413.7 555.3 414.5 554.2 415.2 553 415.9 551.9 416.6 550.8 417.3 549.7 417.9 548.5 418.3 547.4 418.4 546.3Z" fill="#c8102e" stroke="#3a1010" stroke-width="0.3" stroke-linejoin="round"/>
<line x1="449" y1="537.7" x2="449" y2="626" stroke="#333" stroke-width="0.7"/>
<path d="M450 548 453 553 456.5 560 458 568 458 580 456 590 453 597 450.5 603 449.6 608 448.4 608 447.5 603 445 597 442 590 440 580 440 568 441.5 560 445 553 448 548Z" fill="#0f4c8a"/>
<path d="M449.8 611.4h1M453.2 601.4h1M457.4 591.2h1M446.4 541.9h1M451.8 551.2h1M438.6 556.1h1M442.7 548.9h1M448 584h1M438.3 577.4h1M443.6 583h1M441 545h1M447 550.1h1M448.3 551.5h1M453.8 551.2h1M446.6 613.2h1M456.8 543.2h1M451.6 544.3h1M448.7 602.8h1M444.5 614.5h1M456.4 599.7h1M453.4 615h1M449.3 575h1M447.3 610.8h1M438.7 559.2h1M441.3 554.8h1M446.9 617.9h1M459.4 567.7h1M447.8 597.1h1M446.5 546.2h1M458.9 562.3h1M459.4 573.6h1M439 560.5h1M443.7 615.2h1M450.5 605.6h1M456.4 561.7h1M459.6 574.3h1M458.7 585.5h1M447.6 618h1M453.3 597.2h1M439.7 594h1M453.9 596.9h1M440.4 553.8h1M449.7 542.9h1M455.4 546.2h1M459.9 573.1h1M447.7 600.9h1M447.5 552.9h1M456.5 589.8h1M446.8 614.6h1M451.2 539h1M451.8 596.8h1M453.9 606.9h1M455.5 591.4h1M457.5 547.9h1M441.2 595h1M451.9 551.7h1M458.6 563.6h1M448.7 561.3h1M458.7 580.8h1M457.6 563.4h1M450.2 599.9h1M453 619.3h1M449.8 602.2h1M444.8 540.8h1M441.5 593.6h1M446 593h1M456.1 570.7h1M452.6 610.1h1M449.8 575.9h1M452.7 622.7h1M440.3 589.9h1M443.4 615.4h1M452 547.2h1M454.4 554.1h1M442.7 596.7h1M455 616h1M458.4 594.1h1M448.6 606.7h1M455.6 608.7h1M441.2 597.6h1M453.5 569.4h1M441.7 568.8h1M441.1 576.7h1M440.2 578.3h1M443.9 600.2h1M444.8 618.4h1M451.9 591.9h1M451.7 554.3h1M451.5 584.8h1M448.5 553.1h1M450.7 609.7h1M445.4 558.2h1M443.1 613.5h1M449.3 578.6h1M438.1 574.4h1M455.3 546.3h1M444.4 576.6h1M439.2 576.3h1M454.7 544.1h1M443.9 603.1h1M439.7 564.6h1M449.5 564.7h1M449.1 602.5h1M456.2 610.8h1M439.1 586.4h1M452.3 548.7h1M456.7 548.3h1M442.1 541.7h1M448.2 623.6h1M451.1 585.3h1M445.9 547.3h1M454.2 569.1h1M452.2 605.1h1M448.2 552.7h1M445.2 616.7h1M451.5 567.4h1M445.1 623.6h1M448.3 597.1h1M456.5 583h1M450.8 545.3h1M454.6 564.6h1M447.5 599.2h1M454.3 550.2h1M450.2 598h1M456.8 601.9h1M453.2 558.3h1M445.3 607.2h1M446.7 615.6h1M449.8 620.2h1M452.5 621.6h1M446.9 605h1M450.9 576.9h1M447.7 607h1M445.5 615.2h1M441.2 582.3h1M444.7 551.9h1M450.1 541.1h1M446.9 591h1M449.7 606.4h1M441.1 596.5h1M438.5 565.7h1M456 550.9h1M450.9 548.8h1M452.8 569.8h1M453.5 612.8h1M453.4 620.9h1M459.7 571.7h1M445.3 603.3h1M449.5 565.6h1M443.2 610.6h1M451.2 614.5h1M447 588.6h1M446.9 570.2h1M448 599.3h1M455.9 599.1h1M440.5 544.6h1M445.8 618.9h1M447.5 607.8h1M438.3 556.6h1M451.2 574.3h1M441.4 541.7h1M457.4 562h1M444.8 602.3h1M447.2 572.1h1M445.1 598.6h1M449.1 567.9h1M447.4 557.6h1M449.1 602.1h1M446.6 541.9h1M443.2 586.6h1M450.3 570.7h1M442 568.7h1M443.2 613.1h1M444.1 615.8h1M450 585.2h1M451.8 572.6h1M446.6 613.9h1M444.2 542.2h1M450.3 613.4h1M447.1 602.6h1M453.2 565.2h1M457.9 586.4h1M445.8 551h1M456.6 597.1h1M455.3 577.6h1M451.6 546.5h1M453.3 565.6h1M442.1 562.9h1M453.9 560.4h1M456.5 599h1M439.4 573h1M445.2 607.4h1M448.8 599.5h1M438.7 575.6h1M454.5 556.7h1M457.4 577h1M449.5 607.2h1M444.7 622.5h1M449.7 571.9h1M454.8 541.7h1M450.6 550h1M446.4 560.6h1M444.4 577.5h1M452.4 551.9h1M440.5 591.5h1M445.4 621.7h1M444.2 556.4h1M448.8 568.7h1M444.1 615.6h1M451.7 587h1M445.8 559.4h1M457.5 575.7h1M448.7 604.6h1M446.7 543h1M448 608.1h1M452.1 571h1M451.2 540.5h1M441.7 596.6h1M456.8 573.3h1M449.7 559.8h1M450.2 567.1h1M445.6 571h1M451.2 617.4h1M447.7 623.9h1M446 577.6h1M447.2 612.4h1M442.9 596.2h1M443.9 584.2h1M447.4 616.5h1M449.7 619.9h1M450.1 566.7h1M451.1 618h1M450 608.7h1M441.6 590.8h1M451.1 609.4h1M445.1 593.4h1M449.5 603.4h1M459.8 564.9h1M452 604.2h1M451.9 610.1h1M459 570.5h1M451.1 615.8h1M449 574.8h1M454.8 541h1M450.4 609.3h1M455.7 577.5h1M447.7 538.9h1M451.4 558.8h1M451.4 567.8h1M447.9 615.1h1M439.9 547h1M448.5 609.7h1M438.7 575.4h1M439.8 546h1M443.3 614.9h1M448.4 565h1M443 586.9h1M451.8 593.2h1M445.5 622.7h1M440.3 562.7h1M442.7 562.2h1M453.3 539.6h1M454.4 561h1M453.6 607.8h1M450.2 539.2h1M450.9 611.1h1M447.5 589.5h1M449.5 608.6h1M448.9 567.6h1M442.1 578h1M455.4 595.5h1M439.4 593.9h1M454.9 572.2h1M449.1 548.4h1M449.6 596.4h1M438.4 565.8h1M442.8 598.3h1M449.5 589.3h1M442 599.9h1M451.3 621.7h1M444.7 612.9h1M446.8 599.7h1M452.7 597.9h1M458.8 572.6h1M448.3 575.1h1M442.7 599.2h1M446.9 614.9h1M444.4 614.2h1M450.7 547.8h1M447.7 557.9h1M453.8 554.4h1M452.3 601.1h1M440.2 548.7h1M440.1 587.7h1M449.9 599.3h1M452.5 618.1h1M455.4 594h1M444.4 581.2h1M452.3 542.3h1M451.6 594.9h1M448 581.5h1M447.6 617h1M457.8 549.2h1M455.7 603.2h1M448.5 622.7h1M448.9 550.5h1M446.5 579.6h1M445 605.4h1M446.3 621.4h1M456.3 561.7h1M453.9 557.4h1M447 560.8h1M443.4 577.9h1M455.7 608.6h1M445.2 617.5h1M448.2 539.2h1M449.8 601.4h1M453.7 620.6h1M444.5 596.4h1M439.4 571.9h1M454.5 571.3h1M442.1 564.5h1M457.7 583.9h1M441.3 593.2h1M443 574.6h1M447.7 607.6h1M457.3 575.6h1M447.9 562.8h1M447.3 622.3h1M452.3 583.9h1" stroke="#0f4c8a" stroke-width="1" fill="none"/>
<path d="M451.1 567.4h1M454.3 571.4h1M452.6 577.6h1M452.2 578.4h1M443.4 569.9h1M446.2 568.7h1M451.3 552.7h1M448.7 576.1h1M442.1 584.4h1M451.5 557.8h1M452.4 553.9h1M456.5 575.4h1M447.9 591.5h1M447.9 567.8h1M448.4 587.4h1M456.8 585.1h1M449.2 586.4h1M448.9 586.1h1M447.7 578.7h1M453.8 595h1M449.9 578.1h1M449.7 556.7h1M446.4 594.7h1M445.5 587.6h1M445.5 584.8h1M453.4 579.4h1M452 553.5h1M444.9 576.1h1M449.9 566.1h1M444.1 586.1h1M446.3 555.2h1M447.4 581.2h1M452.3 587.1h1M450.4 568.9h1M450.3 558.7h1M444.8 581.8h1M443.2 582.7h1M449.4 596.7h1M450.7 594.4h1M452.3 561.9h1M447.1 580.3h1M453.2 583.9h1M444.5 583.3h1M452.7 596.4h1M455.8 572h1M447.7 597.7h1M445.6 560.8h1M443.3 574.5h1M452.4 562.9h1M450 552.9h1M452.4 570.8h1M448.7 563.9h1M442.2 561.8h1M447.4 591.8h1M456 565.6h1M449.7 569h1M447.9 558.5h1M452.7 592.3h1M454.5 589.6h1M442.5 562.6h1" stroke="#ffffff" stroke-width="1" fill="none"/>
<line x1="388.8" y1="633.6" x2="388.8" y2="635.2" stroke="#231f20" stroke-width="0.8"/>
<text x="388.8" y="645.3" font-size="6.6" text-anchor="middle" textLength="23" lengthAdjust="spacingAndGlyphs">WT avg.</text>
<line x1="418.6" y1="633.6" x2="418.6" y2="635.2" stroke="#231f20" stroke-width="0.8"/>
<text x="418.6" y="645.3" font-size="6.6" text-anchor="middle" textLength="23" lengthAdjust="spacingAndGlyphs">KO avg.</text>
<line x1="449" y1="633.6" x2="449" y2="635.2" stroke="#231f20" stroke-width="0.8"/>
<text x="449" y="645.3" font-size="6.6" text-anchor="middle" textLength="23" lengthAdjust="spacingAndGlyphs">PM avg.</text>
<path d="M388.8 647.3 V648.7 H418.6 V647.3" fill="none" stroke="#555" stroke-width="0.6"/>
<text x="403.7" y="654.1" font-size="4.6" text-anchor="middle" fill="#333">P = .013</text>
<path d="M388.8 658 V659.4 H449 V658" fill="none" stroke="#555" stroke-width="0.6"/>
<text x="418.9" y="664.8" font-size="4.6" text-anchor="middle" fill="#333">P &lt; 2.2e−16</text>
<path d="M418.6 669.4 V670.8 H449 V669.4" fill="none" stroke="#555" stroke-width="0.6"/>
<text x="433.8" y="676.2" font-size="4.6" text-anchor="middle" fill="#333">P &lt; 2.2e−16</text>
<rect x="0.5" y="0.5" width="519" height="691" fill="none" stroke="#4a4a4a" stroke-width="1.2"/>
</svg>
</body></html>
